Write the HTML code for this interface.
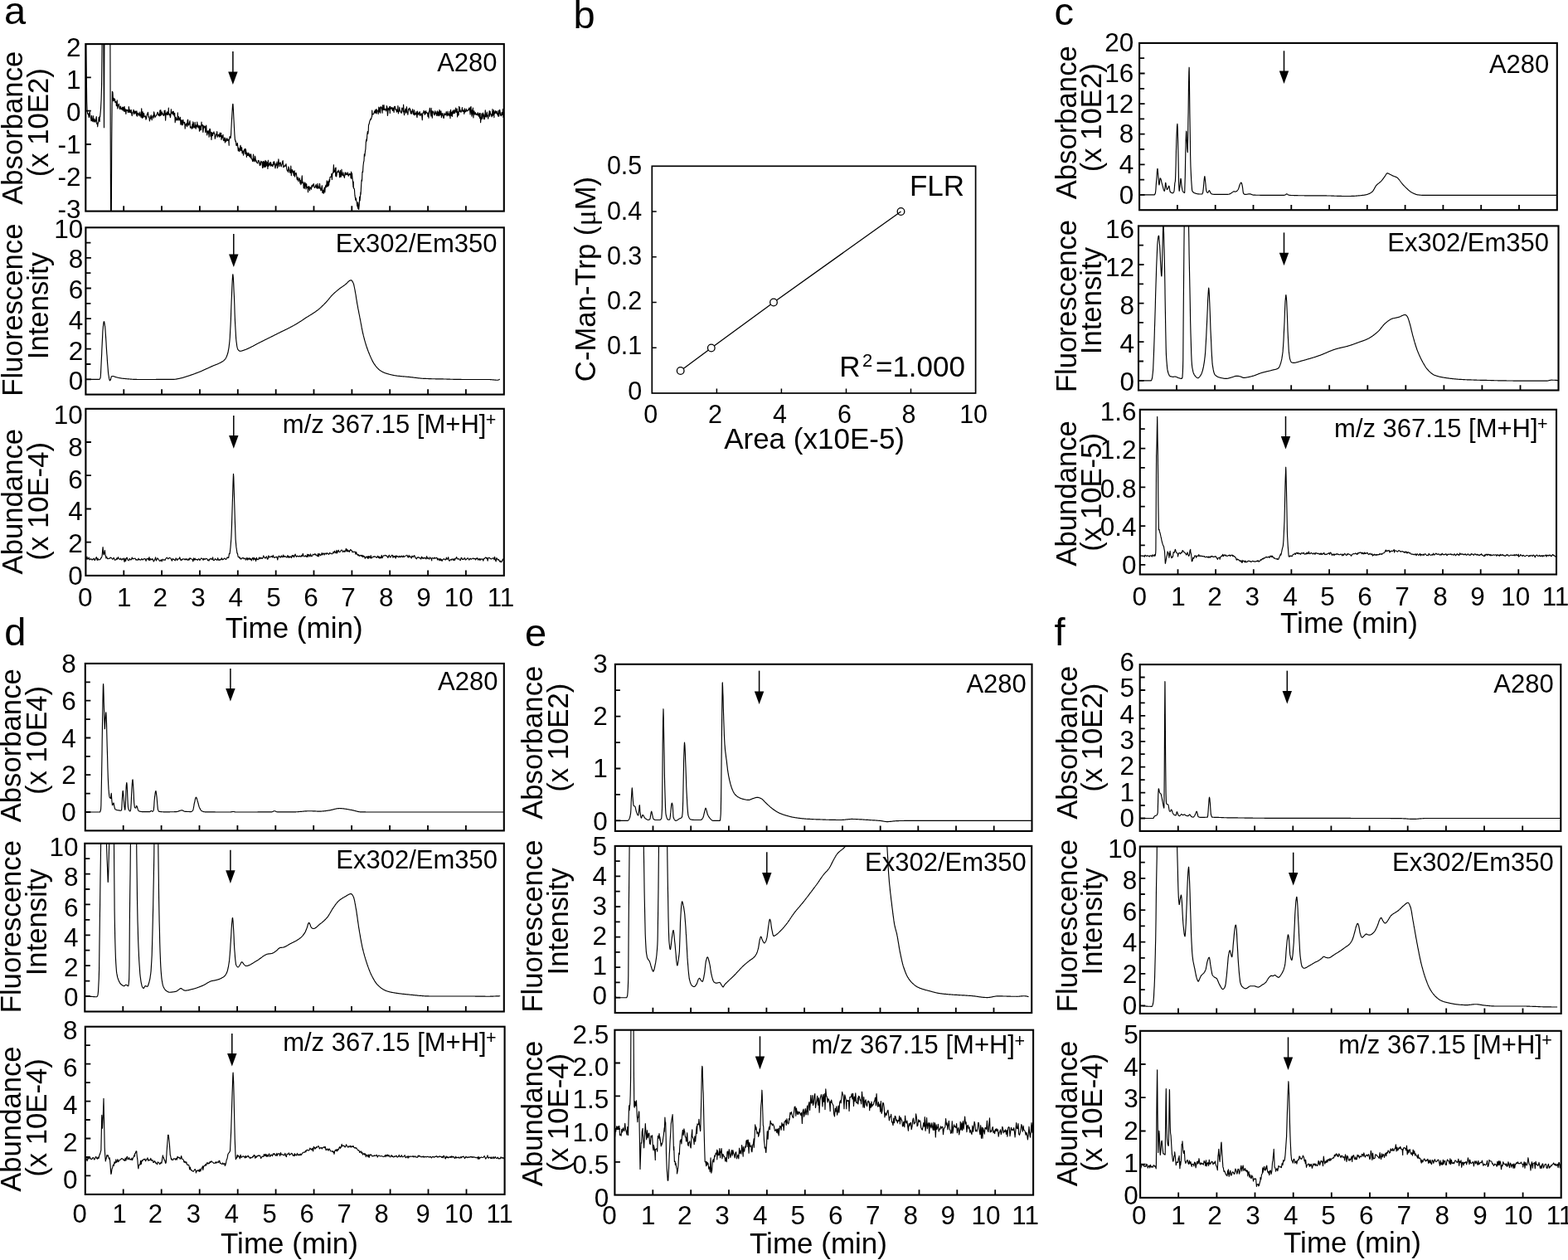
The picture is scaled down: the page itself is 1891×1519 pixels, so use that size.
<!DOCTYPE html>
<html><head><meta charset="utf-8"><title>Figure</title>
<style>html,body{margin:0;padding:0;background:#fff}svg{display:block}</style></head>
<body>
<svg width="1891" height="1519" viewBox="0 0 1891 1519" font-family='"Liberation Sans", Arial, Helvetica, sans-serif' fill="#000">
<rect width="1891" height="1519" fill="#fff"/>
<rect x="103.3" y="53.1" width="504.5" height="201.5" fill="none" stroke="#000" stroke-width="2.1"/>
<path d="M149.2 254.6v-6.3M195.0 254.6v-6.3M240.9 254.6v-6.3M286.8 254.6v-6.3M332.6 254.6v-6.3M378.5 254.6v-6.3M424.3 254.6v-6.3M470.2 254.6v-6.3M516.1 254.6v-6.3M561.9 254.6v-6.3M103.3 214.3h6.5M103.3 174.0h6.5M103.3 133.7h6.5M103.3 93.4h6.5" stroke="#000" stroke-width="1.8" fill="none"/>
<text x="97.6" y="67.8" font-size="31.5" text-anchor="end">2</text>
<text x="97.6" y="106.9" font-size="31.5" text-anchor="end">1</text>
<text x="97.6" y="146.0" font-size="31.5" text-anchor="end">0</text>
<text x="97.6" y="185.1" font-size="31.5" text-anchor="end">-1</text>
<text x="97.6" y="224.2" font-size="31.5" text-anchor="end">-2</text>
<text x="97.6" y="263.3" font-size="31.5" text-anchor="end">-3</text>
<text x="599.6" y="86.2" font-size="31" text-anchor="end">A280</text>
<path d="M280.9 62.1V92.0" stroke="#000" stroke-width="1.5" fill="none"/>
<path d="M275.2 86.4H286.6L280.9 102.0Z" fill="#000"/>
<clipPath id="c1"><rect x="103.3" y="53.1" width="504.5" height="201.5"/></clipPath>
<polyline clip-path="url(#c1)" points="103.3,12.8 103.8,57.8 104.0,73.2 104.3,92.5 104.7,122.7 105.1,133.7 105.2,134.1 105.7,137.3 106.2,136.8 106.7,138.8 107.2,141.7 107.6,136.1 108.1,136.6 108.3,134.7 108.6,139.5 109.1,141.4 109.6,142.4 110.0,145.7 110.5,139.3 111.0,145.6 111.5,146.2 112.0,144.0 112.4,139.7 112.5,143.1 112.9,146.9 113.4,146.4 113.9,143.0 114.4,145.5 114.9,147.4 115.3,146.2 115.8,143.8 116.3,140.6 116.8,149.5 117.3,147.9 117.5,148.4 117.7,152.8 118.2,148.4 118.7,148.1 119.2,141.4 119.7,143.7 120.2,146.5 120.3,140.0 120.6,141.1 121.1,136.1 121.6,130.3 121.6,129.7 122.1,120.2 122.6,101.5 122.6,101.5 123.0,61.4 123.3,32.9 123.5,-65.3 123.7,-108.1 124.0,-108.1 124.5,-108.1 124.9,45.0 125.0,75.2 125.5,153.8 125.5,153.8 125.9,45.0 125.9,16.2 126.2,-108.1 126.4,-108.1 126.9,-108.1 127.4,-108.1 127.9,-108.1 128.3,-108.1 128.8,-108.1 129.3,-108.1 129.8,-108.1 130.3,-108.1 130.7,-108.1 131.2,-108.1 131.7,-108.1 132.2,-108.1 132.7,-9.4 132.9,53.1 133.2,159.6 133.6,278.8 133.6,278.6 134.1,268.2 134.3,262.7 134.6,195.2 134.7,174.0 135.1,128.7 135.4,110.3 135.6,110.4 136.0,111.7 136.5,121.8 137.0,118.6 137.2,118.4 137.5,118.9 138.0,121.6 138.5,119.4 138.9,123.4 139.4,123.4 139.9,122.4 140.4,127.7 140.9,127.0 141.3,120.9 141.4,124.5 141.8,130.9 142.3,128.0 142.8,126.6 143.3,125.2 143.8,128.5 144.2,130.7 144.7,131.6 145.2,128.1 145.7,129.2 146.2,131.8 146.6,131.1 147.1,131.9 147.6,129.0 148.1,133.1 148.6,130.1 149.0,129.3 149.2,130.4 149.5,134.1 150.0,128.3 150.5,134.1 151.0,131.2 151.5,134.6 151.9,137.5 152.4,132.2 152.9,132.2 153.4,133.4 153.9,132.6 154.3,135.2 154.8,135.6 155.1,134.2 155.3,128.5 155.8,131.7 156.3,135.5 156.8,132.7 157.2,135.7 157.7,135.8 158.2,132.3 158.7,136.3 159.2,139.6 159.6,137.6 160.1,135.0 160.6,135.1 161.1,132.2 161.6,137.7 162.1,133.9 162.5,134.8 163.0,136.6 163.5,134.0 164.0,135.1 164.5,138.9 164.9,133.8 165.4,140.2 165.9,136.8 166.4,137.1 166.9,136.1 167.3,139.3 167.8,137.6 168.3,138.0 168.8,135.0 168.9,139.9 169.3,137.6 169.8,138.7 170.2,141.6 170.7,130.9 171.2,138.5 171.7,142.5 172.2,134.7 172.6,141.7 173.1,137.8 173.6,136.6 174.1,140.9 174.6,140.4 175.1,140.9 175.5,139.9 176.0,144.1 176.5,143.1 177.0,140.2 177.5,137.1 177.9,138.3 178.4,135.4 178.9,138.3 179.4,141.7 179.9,140.7 180.4,146.0 180.8,143.1 181.3,143.3 181.8,139.8 182.3,138.8 182.6,142.1 182.8,142.2 183.2,144.8 183.7,140.9 184.2,139.8 184.7,139.2 185.2,142.4 185.6,134.8 186.1,136.8 186.6,140.2 187.1,141.3 187.6,140.6 188.1,139.2 188.5,139.5 189.0,138.0 189.5,137.0 190.0,135.3 190.5,135.7 190.9,139.0 191.4,137.5 191.9,139.5 192.4,139.9 192.9,133.0 193.4,139.3 193.8,132.5 194.3,138.9 194.8,137.1 195.3,134.8 195.8,137.7 196.2,136.7 196.4,138.4 196.7,139.0 197.2,138.2 197.7,139.5 198.2,133.3 198.7,138.2 199.1,133.0 199.6,145.1 200.1,137.7 200.6,136.2 201.1,138.5 201.5,134.7 202.0,136.0 202.5,138.5 203.0,136.5 203.3,130.0 203.5,137.0 203.9,136.9 204.4,139.0 204.9,137.6 205.4,141.6 205.9,138.8 206.4,131.7 206.8,135.7 207.3,137.1 207.8,136.1 208.3,134.3 208.8,138.1 209.2,134.3 209.7,137.4 210.2,140.2 210.7,136.3 211.2,147.8 211.7,143.2 212.1,141.2 212.6,144.8 213.1,143.0 213.6,144.7 214.1,145.0 214.3,135.9 214.5,141.8 215.0,144.0 215.5,140.6 216.0,145.2 216.5,142.6 217.0,144.4 217.4,141.4 217.9,150.1 218.4,144.6 218.9,146.8 219.4,150.7 219.8,145.0 220.3,150.7 220.8,144.3 221.3,147.6 221.8,147.5 222.2,149.4 222.7,147.4 223.2,155.2 223.7,150.0 223.9,151.9 224.2,149.5 224.7,150.5 225.1,148.7 225.6,152.8 226.1,145.5 226.6,144.2 227.1,151.2 227.5,150.7 228.0,149.9 228.5,147.3 229.0,145.6 229.5,154.1 230.0,152.5 230.4,153.8 230.9,153.9 231.4,155.4 231.9,149.9 232.4,154.1 232.8,146.9 233.3,148.5 233.8,153.9 234.3,153.9 234.8,152.8 235.2,147.3 235.7,153.5 236.2,155.4 236.7,151.4 237.2,150.3 237.7,153.2 237.7,147.0 238.1,150.8 238.6,150.3 239.1,154.0 239.6,151.8 240.1,152.2 240.5,158.1 241.0,151.2 241.5,157.0 242.0,152.3 242.5,156.4 243.0,147.0 243.4,151.8 243.9,150.5 244.4,150.5 244.6,156.7 244.9,159.4 245.4,154.3 245.8,151.3 246.3,153.9 246.8,152.4 247.3,152.4 247.8,159.6 248.3,155.2 248.7,151.1 249.2,158.5 249.7,162.9 250.2,158.4 250.7,159.5 251.1,157.4 251.4,161.1 251.6,158.5 252.1,165.1 252.6,156.9 253.1,155.2 253.5,156.2 254.0,164.1 254.5,159.3 255.0,168.5 255.5,159.8 256.0,160.9 256.4,163.7 256.9,160.2 257.4,160.9 257.9,158.9 258.4,161.3 258.8,161.1 259.3,167.3 259.8,165.3 260.3,163.6 260.8,161.6 261.3,162.6 261.7,158.6 262.2,165.3 262.7,163.7 263.2,162.5 263.7,164.0 264.1,162.2 264.6,165.3 265.1,160.0 265.2,164.8 265.6,161.0 266.1,164.4 266.6,160.4 267.0,168.5 267.5,163.5 268.0,166.3 268.5,164.8 269.0,162.4 269.4,169.0 269.9,169.7 270.4,169.1 270.9,165.8 271.4,171.9 271.8,166.7 272.3,170.7 272.8,170.4 273.3,168.5 273.8,166.6 274.3,169.4 274.7,169.2 275.2,168.0 275.7,168.7 276.2,175.3 276.2,169.1 276.7,167.6 277.1,164.6 277.6,165.6 278.0,166.2 278.1,166.5 278.6,161.8 279.1,151.8 279.4,145.2 279.6,142.6 280.0,135.3 280.5,127.3 280.8,125.4 281.0,125.5 281.5,134.1 282.0,144.6 282.2,148.4 282.4,152.8 282.9,162.1 283.4,168.4 283.8,169.1 283.9,170.3 284.4,170.0 284.9,175.1 284.9,173.0 285.3,175.6 285.8,175.1 286.3,172.4 286.8,176.4 287.3,182.0 287.7,178.1 288.2,179.9 288.7,182.6 289.2,181.1 289.7,176.7 290.1,175.2 290.6,181.6 291.1,177.9 291.6,177.9 292.1,184.7 292.6,182.0 292.7,182.2 293.0,181.9 293.5,187.1 294.0,184.1 294.5,180.6 295.0,180.5 295.4,179.3 295.9,185.6 296.4,179.9 296.9,183.6 297.4,189.5 297.9,184.1 298.3,187.5 298.8,185.4 299.3,187.5 299.8,184.2 300.3,187.2 300.7,189.0 301.2,185.9 301.7,188.1 302.2,190.3 302.7,185.9 303.2,190.9 303.6,191.8 304.1,191.8 304.6,194.7 305.1,192.4 305.6,186.1 306.0,194.0 306.5,191.7 306.5,194.8 307.0,193.7 307.5,188.2 308.0,190.2 308.4,194.6 308.9,193.2 309.4,195.8 309.9,196.0 310.4,196.6 310.9,196.9 311.3,193.8 311.8,193.4 312.3,194.0 312.8,196.1 313.3,199.6 313.7,196.3 314.2,198.9 314.7,194.2 315.2,195.3 315.7,195.0 316.2,198.2 316.6,202.4 317.1,195.0 317.6,194.4 318.1,202.0 318.6,197.6 319.0,194.8 319.5,201.1 320.0,193.3 320.2,199.1 320.5,201.1 321.0,194.4 321.5,197.4 321.9,200.0 322.4,195.7 322.9,203.5 323.4,193.2 323.9,200.3 324.3,197.3 324.8,199.2 325.3,196.9 325.8,195.6 326.3,200.3 326.7,195.8 327.2,198.8 327.7,199.8 328.2,198.5 328.7,200.7 329.2,200.1 329.6,195.3 330.1,198.3 330.6,194.7 331.1,196.6 331.6,200.6 332.0,203.0 332.5,199.7 333.0,197.1 333.5,197.8 334.0,200.1 334.0,195.0 334.5,202.6 334.9,201.3 335.4,197.5 335.9,191.9 336.4,196.8 336.9,200.8 337.3,196.5 337.8,196.4 338.3,195.8 338.8,199.7 339.3,200.9 339.7,198.5 340.2,197.9 340.7,194.8 341.2,193.7 341.7,201.6 342.2,201.2 342.6,200.2 343.1,200.9 343.6,199.1 344.1,199.4 344.6,200.2 345.0,197.5 345.5,201.9 346.0,204.6 346.5,206.2 347.0,205.0 347.5,205.3 347.8,207.8 347.9,200.9 348.4,202.5 348.9,204.5 349.4,206.2 349.9,208.5 350.3,207.1 350.8,200.0 351.3,211.6 351.8,205.7 352.3,204.5 352.8,206.7 353.2,208.5 353.7,206.1 354.2,211.8 354.7,207.8 355.2,205.9 355.5,213.1 355.6,212.6 356.1,210.5 356.6,208.8 357.1,208.4 357.6,210.8 358.0,215.1 358.5,217.0 359.0,213.9 359.5,214.1 360.0,218.8 360.5,216.3 360.9,216.2 361.4,214.8 361.9,221.0 362.4,217.3 362.9,222.6 363.3,221.1 363.8,220.6 363.8,216.2 364.3,211.8 364.8,220.6 365.3,220.5 365.8,219.6 366.2,226.6 366.7,221.3 367.2,227.3 367.7,219.9 368.2,220.9 368.6,223.9 369.1,227.9 369.6,221.5 370.1,225.7 370.6,226.3 371.1,225.3 371.5,231.7 372.0,226.0 372.5,224.5 372.5,226.3 373.0,226.8 373.5,229.8 373.9,225.3 374.4,226.4 374.9,226.9 375.4,228.3 375.9,224.3 376.3,223.1 376.8,225.3 377.3,223.7 377.8,222.4 378.3,221.5 378.8,225.0 379.2,226.1 379.7,226.5 380.2,225.2 380.7,223.6 381.2,222.4 381.6,226.1 382.1,224.4 382.6,227.5 383.1,221.3 383.1,225.9 383.6,223.9 384.1,227.0 384.5,226.1 385.0,227.4 385.5,221.3 386.0,225.3 386.5,227.2 386.9,229.8 387.4,229.3 387.9,226.4 388.4,223.7 388.9,232.5 389.4,231.2 389.8,229.3 389.9,230.5 390.3,233.3 390.8,228.5 391.3,226.1 391.8,232.0 392.2,226.5 392.7,223.8 393.2,223.0 393.7,226.0 394.2,217.8 394.6,221.7 395.1,224.7 395.5,219.3 395.6,224.8 396.1,218.4 396.6,223.3 397.1,216.7 397.5,219.3 398.0,213.5 398.5,213.4 399.0,213.1 399.5,213.1 399.9,209.3 400.4,216.4 400.9,209.5 401.0,209.5 401.4,208.6 401.9,207.2 402.4,198.7 402.8,207.9 403.3,205.5 403.8,206.8 404.3,202.6 404.8,212.2 405.1,202.0 405.2,208.5 405.7,212.9 406.2,209.7 406.7,207.3 407.2,206.5 407.7,207.3 408.1,205.1 408.6,207.6 409.1,207.9 409.6,213.8 410.1,206.7 410.5,205.5 410.6,209.4 411.0,213.5 411.5,212.3 412.0,204.2 412.5,210.7 412.9,211.1 413.4,211.7 413.9,207.8 414.4,211.5 414.9,212.5 415.4,214.4 415.8,210.7 416.3,207.8 416.8,211.0 417.3,208.3 417.5,210.2 417.8,210.3 418.2,210.2 418.7,210.6 419.2,207.9 419.7,209.3 420.2,212.3 420.7,210.3 421.1,210.9 421.6,209.3 422.1,210.2 422.6,209.5 423.1,214.7 423.4,209.6 423.5,207.1 424.0,215.2 424.5,208.9 425.0,214.8 425.5,218.8 426.0,225.7 426.2,219.0 426.4,225.9 426.9,227.5 427.4,227.7 427.9,235.2 428.4,238.1 428.8,241.2 428.9,238.8 429.3,238.8 429.8,241.9 430.3,244.3 430.8,248.5 431.2,248.5 431.7,251.3 431.7,243.9 432.2,248.1 432.7,252.4 433.2,247.5 433.7,237.2 434.1,242.0 434.6,236.0 434.9,231.7 435.1,234.3 435.6,223.9 436.1,216.9 436.5,218.1 437.0,207.2 437.5,207.6 437.6,206.6 438.0,200.0 438.5,195.7 439.0,193.8 439.4,185.8 439.9,188.2 440.4,182.8 440.9,179.7 441.3,171.5 441.4,171.1 441.8,168.0 442.3,169.9 442.8,162.6 443.3,158.6 443.8,161.3 444.3,156.6 444.5,151.3 444.7,150.2 445.2,149.4 445.7,146.6 446.2,145.3 446.7,144.1 447.1,143.2 447.6,143.9 448.1,141.1 448.6,140.6 448.7,133.0 449.1,138.0 449.5,138.0 450.0,138.0 450.5,137.1 451.0,137.0 451.5,134.3 452.0,135.4 452.4,132.7 452.9,136.4 453.4,133.2 453.9,131.5 454.2,136.9 454.4,133.1 454.8,132.6 455.3,133.9 455.8,134.1 456.3,137.5 456.8,129.0 457.3,134.5 457.7,135.1 458.2,129.7 458.7,136.3 459.2,128.5 459.7,129.9 460.1,129.3 460.6,131.3 461.0,134.2 461.1,136.1 461.6,126.9 462.1,132.2 462.5,132.3 463.0,126.6 463.5,132.7 464.0,131.6 464.5,131.6 465.0,131.4 465.4,133.9 465.9,132.6 466.4,127.6 466.9,129.1 467.4,139.4 467.8,136.6 468.3,130.4 468.8,131.7 469.3,132.4 469.8,128.6 470.3,136.4 470.7,128.3 471.2,131.3 471.7,130.2 472.2,131.0 472.7,129.5 473.1,132.5 473.6,133.4 474.1,129.8 474.6,131.6 475.1,135.5 475.6,128.4 476.0,128.9 476.5,128.3 477.0,132.1 477.5,131.4 478.0,133.4 478.4,135.1 478.9,132.3 478.9,132.0 479.4,134.3 479.9,127.6 480.4,137.0 480.8,134.9 481.3,134.5 481.8,129.2 482.3,133.5 482.8,133.7 483.3,135.3 483.7,135.0 484.2,136.5 484.7,130.1 485.2,131.3 485.7,130.3 486.1,134.8 486.6,126.2 487.1,135.8 487.6,138.8 488.1,134.0 488.6,132.9 489.0,131.2 489.5,136.1 490.0,131.8 490.5,128.7 491.0,135.8 491.4,135.6 491.9,138.3 492.4,133.0 492.7,131.4 492.9,131.6 493.4,131.5 493.9,130.1 494.3,133.7 494.8,131.6 495.3,137.0 495.8,136.8 496.3,134.1 496.7,137.2 497.2,133.7 497.7,131.7 498.2,134.6 498.7,137.9 499.1,138.2 499.6,132.7 500.1,138.8 500.6,136.6 501.1,137.8 501.6,137.2 502.0,134.5 502.5,139.2 503.0,141.7 503.5,134.1 504.0,137.6 504.4,136.3 504.9,138.4 505.4,136.3 505.9,135.1 506.4,134.8 506.4,139.3 506.9,139.5 507.3,137.4 507.8,137.9 508.3,136.8 508.8,140.3 509.3,144.6 509.7,136.9 510.2,135.9 510.7,136.1 511.2,133.2 511.7,135.3 512.2,138.5 512.6,134.6 513.1,137.4 513.6,133.6 514.1,136.2 514.6,135.5 515.0,136.0 515.5,136.3 516.0,140.4 516.5,136.1 517.0,142.3 517.4,134.6 517.9,133.2 518.4,130.2 518.9,134.8 519.4,137.7 519.9,140.1 520.2,130.4 520.3,139.6 520.8,133.3 521.3,142.1 521.8,136.0 522.3,134.0 522.7,135.1 523.2,136.2 523.7,138.4 524.2,138.8 524.7,133.7 525.2,135.4 525.6,137.1 526.1,136.3 526.6,139.5 527.1,134.3 527.6,133.8 528.0,139.6 528.5,137.3 529.0,134.8 529.5,139.6 530.0,132.4 530.5,133.9 530.9,139.0 531.4,135.6 531.9,133.8 532.4,141.8 532.9,136.8 533.3,138.9 533.8,139.1 534.0,136.6 534.3,139.8 534.8,142.3 535.3,142.4 535.7,138.5 536.2,136.6 536.7,138.4 537.2,138.6 537.7,138.2 538.2,134.5 538.6,136.4 539.1,139.8 539.6,138.4 540.1,134.2 540.6,139.0 541.0,138.3 541.5,137.1 542.0,139.8 542.5,134.3 543.0,142.6 543.5,132.4 543.9,137.4 544.4,139.5 544.9,135.1 545.4,140.4 545.9,134.1 546.3,133.3 546.8,136.8 547.3,136.2 547.8,132.3 548.3,136.6 548.8,134.6 549.2,133.6 549.7,130.1 550.2,135.6 550.7,134.1 551.2,131.0 551.6,141.0 552.1,134.6 552.6,139.1 553.1,138.8 553.6,128.4 554.0,133.1 554.5,129.6 554.6,134.4 555.0,132.2 555.5,134.9 556.0,135.2 556.5,133.9 556.9,133.4 557.4,129.5 557.9,134.3 558.4,132.7 558.9,134.5 559.3,133.4 559.8,137.4 560.3,130.9 560.8,135.3 561.3,133.8 561.8,134.5 562.2,131.3 562.7,132.6 563.2,134.0 563.7,133.6 564.2,133.2 564.6,132.1 565.1,132.8 565.6,130.7 566.1,129.9 566.6,132.6 567.1,138.0 567.5,129.6 568.0,128.6 568.4,135.5 568.5,135.7 569.0,140.2 569.5,132.6 569.9,137.6 570.4,130.0 570.9,141.9 571.4,135.1 571.9,133.7 572.3,136.9 572.8,138.2 573.3,135.6 573.8,138.0 574.3,137.7 574.8,137.1 575.2,138.8 575.7,138.2 576.2,135.7 576.7,139.1 577.2,137.9 577.6,140.6 578.1,136.3 578.6,142.5 579.1,136.5 579.6,147.6 580.1,142.0 580.5,143.9 581.0,136.9 581.5,139.0 582.0,143.3 582.1,141.3 582.5,136.1 582.9,139.9 583.4,138.1 583.9,143.7 584.4,143.6 584.9,137.8 585.3,132.9 585.8,140.6 586.3,137.3 586.8,141.3 587.3,135.1 587.8,139.6 588.2,139.3 588.7,143.1 589.2,138.9 589.7,137.0 590.2,133.5 590.6,140.3 591.1,134.2 591.6,137.7 592.1,137.3 592.6,139.0 593.1,140.9 593.5,139.5 594.0,131.6 594.5,139.2 595.0,137.1 595.5,132.8 595.9,141.6 595.9,134.6 596.4,137.3 596.9,135.4 597.4,133.6 597.9,136.4 598.4,136.6 598.8,134.1 599.3,134.4 599.8,138.2 600.3,136.9 600.8,140.2 601.2,133.1 601.7,140.1 602.2,136.4 602.7,132.3 603.2,135.1 603.6,138.2 604.1,139.6 604.6,139.6 605.1,135.5 605.6,137.3 606.1,138.5 606.5,131.6 607.0,141.3 607.5,140.6 607.8,140.5 608.0,138.9" fill="none" stroke="#000" stroke-width="1.15" stroke-linejoin="round"/>
<rect x="103.4" y="274.3" width="504.4" height="201.3" fill="none" stroke="#000" stroke-width="2.1"/>
<path d="M149.3 475.6v-6.3M195.1 475.6v-6.3M241.0 475.6v-6.3M286.8 475.6v-6.3M332.7 475.6v-6.3M378.5 475.6v-6.3M424.4 475.6v-6.3M470.2 475.6v-6.3M516.1 475.6v-6.3M561.9 475.6v-6.3M103.4 457.3h6.5M103.4 420.7h6.5M103.4 384.1h6.5M103.4 347.5h6.5M103.4 310.9h6.5M103.4 439.0h6M103.4 402.4h6M103.4 365.8h6M103.4 329.2h6M103.4 292.6h6" stroke="#000" stroke-width="1.8" fill="none"/>
<text x="100.2" y="286.7" font-size="31.5" text-anchor="end">10</text>
<text x="100.2" y="323.4" font-size="31.5" text-anchor="end">8</text>
<text x="100.2" y="360.1" font-size="31.5" text-anchor="end">6</text>
<text x="100.2" y="396.8" font-size="31.5" text-anchor="end">4</text>
<text x="100.2" y="433.6" font-size="31.5" text-anchor="end">2</text>
<text x="100.2" y="470.3" font-size="31.5" text-anchor="end">0</text>
<text x="599.5" y="303.7" font-size="31" text-anchor="end">Ex302/Em350</text>
<path d="M281.8 282.1V312.0" stroke="#000" stroke-width="1.5" fill="none"/>
<path d="M276.1 306.4H287.5L281.8 322.0Z" fill="#000"/>
<clipPath id="c2"><rect x="103.4" y="274.3" width="504.4" height="201.3"/></clipPath>
<polyline clip-path="url(#c2)" points="103.4,457.3 103.8,457.3 104.1,457.3 104.5,457.3 104.9,457.3 105.2,457.3 105.6,457.3 106.0,457.3 106.3,457.3 106.7,457.3 107.1,457.3 107.4,457.3 107.8,457.3 108.2,457.3 108.5,457.3 108.9,457.3 109.3,457.3 109.6,457.3 110.0,457.3 110.4,457.3 110.7,457.3 111.1,457.3 111.5,457.3 111.8,457.3 112.2,457.3 112.6,457.3 112.9,457.3 113.3,457.3 113.7,457.3 114.0,457.3 114.4,457.3 114.8,457.3 115.1,457.3 115.5,457.3 115.9,457.3 116.2,457.3 116.6,457.3 117.0,457.3 117.3,457.3 117.7,457.3 118.1,457.3 118.4,457.3 118.8,457.3 119.2,457.3 119.5,457.3 119.9,457.3 120.3,457.1 120.6,456.5 121.0,455.6 121.1,455.5 121.4,452.8 121.7,446.5 122.1,438.3 122.5,429.9 122.7,426.2 122.8,422.5 123.2,414.4 123.6,406.3 123.9,399.3 124.3,395.1 124.3,394.6 124.7,391.3 125.0,388.6 125.4,387.6 125.8,388.4 126.1,390.4 126.5,392.9 126.6,393.2 126.9,396.1 127.2,400.8 127.6,406.4 128.0,412.5 128.3,418.6 128.7,424.3 128.8,426.2 129.1,429.3 129.4,434.6 129.8,439.9 130.2,444.7 130.5,448.8 130.9,451.8 131.3,454.1 131.6,456.2 132.0,457.8 132.4,458.7 132.5,458.8 132.7,458.7 133.1,458.2 133.4,457.7 133.5,457.6 133.8,455.9 134.2,454.3 134.4,454.0 134.6,453.9 134.9,453.7 135.3,453.5 135.7,453.5 136.0,453.5 136.0,453.5 136.4,453.5 136.8,453.6 137.1,453.7 137.5,453.8 137.9,453.9 138.2,454.1 138.6,454.2 139.0,454.4 139.3,454.5 139.7,454.6 140.1,454.7 140.5,454.8 140.8,454.9 141.2,455.0 141.6,455.1 141.9,455.2 142.3,455.2 142.7,455.3 143.0,455.4 143.4,455.5 143.8,455.6 144.1,455.6 144.5,455.7 144.9,455.8 145.2,455.8 145.6,455.9 146.0,456.0 146.3,456.0 146.7,456.1 147.1,456.1 147.4,456.2 147.8,456.2 147.9,456.2 148.2,456.2 148.5,456.3 148.9,456.3 149.3,456.3 149.6,456.4 150.0,456.4 150.4,456.5 150.7,456.5 151.1,456.5 151.5,456.6 151.8,456.6 152.2,456.6 152.6,456.7 152.9,456.7 153.3,456.7 153.7,456.8 154.0,456.8 154.4,456.8 154.8,456.9 155.1,456.9 155.5,456.9 155.9,457.0 156.2,457.0 156.6,457.0 157.0,457.0 157.3,457.1 157.7,457.1 158.1,457.1 158.4,457.1 158.8,457.2 159.2,457.2 159.5,457.2 159.9,457.2 160.3,457.3 160.6,457.3 161.0,457.3 161.4,457.3 161.7,457.3 162.1,457.4 162.5,457.4 162.8,457.4 163.2,457.4 163.6,457.4 163.9,457.4 164.3,457.4 164.7,457.4 165.0,457.5 165.4,457.5 165.8,457.5 166.1,457.5 166.5,457.5 166.9,457.5 167.2,457.5 167.6,457.5 167.6,457.5 168.0,457.5 168.3,457.5 168.7,457.5 169.1,457.5 169.4,457.5 169.8,457.5 170.2,457.5 170.5,457.5 170.9,457.5 171.3,457.5 171.6,457.5 172.0,457.5 172.4,457.5 172.7,457.5 173.1,457.5 173.5,457.5 173.8,457.5 174.2,457.5 174.6,457.5 174.9,457.5 175.3,457.5 175.7,457.5 176.0,457.5 176.4,457.5 176.8,457.5 177.1,457.5 177.5,457.5 177.9,457.5 178.2,457.5 178.6,457.5 179.0,457.5 179.3,457.5 179.7,457.5 180.1,457.5 180.4,457.5 180.8,457.5 181.2,457.5 181.5,457.5 181.9,457.5 182.3,457.5 182.6,457.5 183.0,457.5 183.4,457.5 183.7,457.5 184.1,457.5 184.5,457.5 184.8,457.5 185.2,457.5 185.6,457.5 185.9,457.5 186.3,457.5 186.7,457.5 187.0,457.5 187.4,457.5 187.8,457.5 188.1,457.5 188.5,457.4 188.9,457.4 189.2,457.4 189.6,457.4 190.0,457.4 190.3,457.4 190.7,457.4 191.1,457.4 191.4,457.4 191.8,457.4 192.2,457.4 192.5,457.4 192.9,457.4 193.3,457.4 193.6,457.4 194.0,457.4 194.4,457.4 194.7,457.4 195.1,457.4 195.5,457.4 195.8,457.4 196.2,457.4 196.6,457.4 196.9,457.4 197.3,457.4 197.7,457.4 198.0,457.4 198.4,457.4 198.8,457.4 199.1,457.4 199.5,457.4 199.9,457.4 200.2,457.4 200.6,457.4 201.0,457.4 201.3,457.4 201.7,457.4 202.1,457.4 202.4,457.4 202.8,457.4 203.2,457.4 203.5,457.4 203.9,457.4 204.3,457.4 204.6,457.4 205.0,457.3 205.4,457.3 205.7,457.3 206.1,457.3 206.5,457.3 206.8,457.3 207.2,457.3 207.6,457.3 207.9,457.3 208.3,457.3 208.7,457.3 209.0,457.3 209.4,457.3 209.8,457.3 210.1,457.3 210.5,457.3 210.9,457.2 211.2,457.2 211.6,457.2 212.0,457.1 212.4,457.1 212.7,457.0 213.1,456.9 213.5,456.9 213.8,456.8 214.2,456.7 214.6,456.6 214.9,456.6 215.3,456.5 215.7,456.4 216.0,456.3 216.4,456.3 216.7,456.2 216.8,456.2 217.1,456.1 217.5,456.0 217.9,455.9 218.2,455.9 218.6,455.8 219.0,455.7 219.3,455.6 219.7,455.5 220.1,455.4 220.4,455.3 220.8,455.2 221.2,455.1 221.5,455.0 221.9,454.8 222.3,454.7 222.6,454.6 223.0,454.5 223.4,454.4 223.7,454.3 224.1,454.2 224.5,454.0 224.8,453.9 225.2,453.8 225.6,453.7 225.9,453.6 226.3,453.5 226.7,453.3 227.0,453.2 227.4,453.1 227.8,453.0 228.1,452.9 228.5,452.7 228.9,452.6 229.2,452.5 229.6,452.4 230.0,452.3 230.3,452.1 230.7,452.0 231.1,451.9 231.4,451.7 231.8,451.6 232.2,451.5 232.5,451.4 232.9,451.2 233.3,451.1 233.6,451.0 234.0,450.8 234.4,450.7 234.7,450.6 235.1,450.4 235.5,450.3 235.8,450.1 236.2,450.0 236.6,449.9 236.9,449.7 237.3,449.6 237.7,449.4 238.0,449.3 238.4,449.2 238.8,449.0 239.1,448.9 239.5,448.7 239.9,448.6 240.2,448.4 240.6,448.3 241.0,448.2 241.3,448.0 241.4,448.0 241.7,447.9 242.1,447.7 242.4,447.6 242.8,447.4 243.2,447.2 243.5,447.1 243.9,446.9 244.3,446.8 244.6,446.6 245.0,446.4 245.4,446.3 245.7,446.1 246.1,445.9 246.5,445.8 246.8,445.6 247.2,445.4 247.6,445.3 247.9,445.1 248.3,444.9 248.7,444.8 249.0,444.6 249.4,444.4 249.8,444.2 250.1,444.1 250.5,443.9 250.9,443.7 251.2,443.6 251.6,443.4 252.0,443.2 252.3,443.0 252.7,442.9 253.1,442.7 253.4,442.5 253.8,442.4 254.2,442.2 254.5,442.0 254.9,441.9 255.2,441.7 255.3,441.7 255.6,441.5 256.0,441.4 256.4,441.2 256.7,441.1 257.1,440.9 257.5,440.8 257.8,440.6 258.2,440.5 258.6,440.3 258.9,440.2 259.3,440.1 259.7,439.9 260.0,439.8 260.4,439.6 260.8,439.5 261.1,439.3 261.5,439.2 261.9,439.1 262.2,438.9 262.6,438.7 263.0,438.6 263.3,438.4 263.7,438.3 264.1,438.1 264.4,437.9 264.8,437.8 265.2,437.6 265.5,437.4 265.9,437.2 266.3,437.0 266.6,436.8 267.0,436.6 267.4,436.4 267.6,436.3 267.7,436.1 268.1,435.9 268.5,435.7 268.8,435.4 269.2,435.2 269.6,434.9 269.9,434.6 270.3,434.3 270.7,433.9 271.0,433.5 271.4,433.1 271.7,432.8 271.8,432.7 272.1,432.1 272.5,431.5 272.9,430.8 273.2,430.0 273.6,429.1 274.0,428.1 274.3,427.0 274.4,426.7 274.7,425.8 275.1,424.3 275.4,422.4 275.8,420.3 276.2,417.8 276.5,415.0 276.7,413.4 276.9,411.5 277.3,406.5 277.6,400.3 278.0,393.2 278.1,391.4 278.4,385.0 278.7,374.7 279.1,364.0 279.5,354.8 279.8,346.4 280.2,338.2 280.6,332.2 280.9,330.7 280.9,330.8 281.3,334.4 281.7,341.1 282.0,349.1 282.2,353.0 282.4,357.1 282.8,367.2 283.1,378.1 283.5,387.6 283.6,389.6 283.9,395.0 284.3,401.8 284.6,407.5 285.0,411.6 285.4,414.4 285.7,416.9 286.1,418.9 286.5,420.4 286.8,421.2 287.2,421.7 287.6,422.1 287.9,422.5 288.3,422.8 288.7,423.0 289.0,423.2 289.4,423.3 289.6,423.3 289.8,423.3 290.1,423.2 290.5,423.2 290.9,423.1 291.2,423.1 291.6,423.0 292.0,422.9 292.3,422.8 292.7,422.6 293.1,422.5 293.4,422.4 293.8,422.2 294.2,422.1 294.5,422.0 294.9,421.9 295.1,421.8 295.3,421.7 295.6,421.6 296.0,421.5 296.4,421.3 296.7,421.2 297.1,421.1 297.5,420.9 297.8,420.8 298.2,420.6 298.6,420.5 298.9,420.3 299.3,420.1 299.7,420.0 300.0,419.8 300.4,419.6 300.8,419.4 301.1,419.3 301.5,419.1 301.9,418.9 302.2,418.7 302.6,418.5 303.0,418.3 303.3,418.1 303.7,417.9 304.1,417.8 304.4,417.6 304.8,417.4 305.2,417.2 305.5,417.0 305.9,416.8 306.3,416.6 306.6,416.4 307.0,416.2 307.4,416.0 307.7,415.8 308.1,415.6 308.5,415.4 308.8,415.2 309.2,415.0 309.6,414.8 309.9,414.6 310.3,414.4 310.7,414.2 311.0,414.0 311.4,413.8 311.8,413.6 312.1,413.4 312.5,413.2 312.9,413.1 313.0,413.0 313.2,412.9 313.6,412.7 314.0,412.5 314.3,412.3 314.7,412.2 315.1,412.0 315.4,411.8 315.8,411.6 316.2,411.4 316.5,411.2 316.9,411.1 317.3,410.9 317.6,410.7 318.0,410.5 318.4,410.3 318.7,410.2 319.1,410.0 319.5,409.8 319.8,409.6 320.2,409.4 320.6,409.3 320.9,409.1 321.3,408.9 321.7,408.7 322.0,408.5 322.4,408.3 322.8,408.2 323.1,408.0 323.5,407.8 323.9,407.6 324.2,407.4 324.6,407.3 325.0,407.1 325.3,406.9 325.7,406.7 326.1,406.5 326.4,406.3 326.8,406.2 327.2,406.0 327.5,405.8 327.9,405.6 328.3,405.4 328.6,405.2 329.0,405.1 329.4,404.9 329.7,404.7 330.1,404.5 330.5,404.3 330.8,404.1 331.2,404.0 331.6,403.8 331.9,403.6 332.3,403.4 332.7,403.2 333.0,403.0 333.4,402.9 333.6,402.8 333.8,402.7 334.1,402.5 334.5,402.3 334.9,402.1 335.2,401.9 335.6,401.8 336.0,401.6 336.3,401.4 336.7,401.2 337.1,401.0 337.4,400.9 337.8,400.7 338.2,400.5 338.5,400.3 338.9,400.1 339.3,400.0 339.6,399.8 340.0,399.6 340.4,399.4 340.7,399.3 341.1,399.1 341.5,398.9 341.8,398.7 342.2,398.5 342.6,398.4 342.9,398.2 343.3,398.0 343.7,397.8 344.0,397.6 344.4,397.5 344.8,397.3 345.1,397.1 345.5,396.9 345.9,396.7 346.2,396.6 346.6,396.4 347.0,396.2 347.3,396.0 347.7,395.8 348.1,395.6 348.4,395.4 348.8,395.3 349.2,395.1 349.5,394.9 349.9,394.7 350.3,394.5 350.6,394.3 351.0,394.1 351.4,393.9 351.7,393.7 352.1,393.5 352.5,393.3 352.8,393.1 353.2,392.9 353.6,392.7 353.9,392.5 354.3,392.3 354.7,392.1 355.0,391.9 355.4,391.7 355.6,391.6 355.8,391.5 356.2,391.3 356.5,391.1 356.9,390.9 357.3,390.6 357.6,390.4 358.0,390.2 358.4,390.0 358.7,389.7 359.1,389.5 359.5,389.3 359.8,389.1 360.2,388.8 360.6,388.6 360.9,388.4 361.3,388.1 361.7,387.9 362.0,387.6 362.4,387.4 362.8,387.2 363.1,386.9 363.5,386.7 363.9,386.4 364.2,386.2 364.6,386.0 365.0,385.7 365.3,385.5 365.7,385.2 366.1,385.0 366.4,384.7 366.8,384.5 367.2,384.3 367.5,384.0 367.9,383.8 368.3,383.5 368.6,383.3 369.0,383.1 369.4,382.8 369.7,382.6 370.1,382.3 370.5,382.1 370.8,381.9 371.2,381.7 371.6,381.4 371.9,381.2 372.3,381.0 372.7,380.8 373.0,380.5 373.4,380.3 373.8,380.1 374.1,379.9 374.5,379.6 374.9,379.4 375.2,379.2 375.6,379.0 376.0,378.7 376.3,378.5 376.7,378.3 377.1,378.0 377.4,377.8 377.8,377.6 378.2,377.3 378.5,377.1 378.9,376.9 379.3,376.6 379.6,376.4 380.0,376.1 380.4,375.9 380.7,375.6 381.1,375.3 381.5,375.1 381.8,374.8 382.2,374.5 382.6,374.3 382.9,374.0 383.1,373.9 383.3,373.7 383.7,373.4 384.0,373.1 384.4,372.8 384.8,372.5 385.1,372.2 385.5,371.9 385.9,371.6 386.2,371.2 386.6,370.9 387.0,370.6 387.3,370.2 387.7,369.9 388.1,369.5 388.4,369.2 388.8,368.8 389.2,368.5 389.5,368.1 389.9,367.8 390.3,367.4 390.6,367.0 391.0,366.7 391.4,366.3 391.7,365.9 392.1,365.5 392.5,365.2 392.7,364.9 392.8,364.8 393.2,364.4 393.6,364.0 393.9,363.6 394.3,363.2 394.7,362.7 395.0,362.3 395.4,361.9 395.8,361.4 396.1,361.0 396.5,360.5 396.9,360.1 397.2,359.6 397.6,359.2 398.0,358.7 398.3,358.3 398.7,357.9 399.1,357.4 399.4,357.0 399.8,356.6 400.2,356.2 400.5,355.8 400.9,355.5 401.0,355.4 401.3,355.1 401.6,354.7 402.0,354.4 402.4,354.0 402.7,353.7 403.1,353.4 403.5,353.0 403.8,352.7 404.2,352.4 404.6,352.1 404.9,351.7 405.3,351.4 405.7,351.1 406.0,350.8 406.4,350.5 406.8,350.2 407.1,349.9 407.5,349.6 407.9,349.3 408.2,349.0 408.6,348.7 409.0,348.4 409.3,348.1 409.7,347.8 410.1,347.6 410.4,347.3 410.6,347.1 410.8,347.0 411.2,346.7 411.5,346.4 411.9,346.2 412.3,345.9 412.6,345.7 413.0,345.4 413.4,345.2 413.7,344.9 414.1,344.7 414.5,344.4 414.8,344.2 415.2,343.9 415.6,343.7 415.9,343.4 416.3,343.1 416.7,342.8 417.0,342.6 417.4,342.3 417.5,342.2 417.8,342.0 418.1,341.6 418.5,341.2 418.9,340.8 419.2,340.4 419.6,340.0 420.0,339.6 420.3,339.3 420.7,338.9 421.1,338.7 421.4,338.4 421.6,338.4 421.8,338.3 422.2,338.1 422.5,338.0 422.9,337.9 423.3,337.8 423.5,337.8 423.6,337.8 424.0,338.0 424.4,338.3 424.7,338.8 425.1,339.4 425.5,340.1 425.8,340.8 426.2,341.6 426.6,342.7 426.9,344.2 427.3,346.0 427.7,348.0 428.1,349.9 428.4,351.8 428.8,354.0 429.2,356.2 429.5,358.5 429.9,360.8 430.3,363.1 430.6,365.3 430.8,366.3 431.0,367.4 431.4,369.4 431.7,371.4 432.1,373.3 432.5,375.2 432.8,377.1 433.2,379.0 433.6,380.9 433.9,382.7 434.3,384.6 434.5,385.6 434.7,386.5 435.0,388.5 435.4,390.5 435.8,392.4 436.1,394.4 436.5,396.3 436.9,398.2 437.2,400.0 437.6,401.6 437.7,402.0 438.0,403.2 438.3,404.7 438.7,406.2 439.1,407.6 439.4,409.0 439.8,410.3 440.2,411.6 440.5,412.9 440.9,414.1 441.3,415.3 441.6,416.5 441.8,417.0 442.0,417.6 442.4,418.7 442.7,419.8 443.1,420.8 443.5,421.8 443.8,422.8 444.2,423.8 444.6,424.7 444.9,425.6 445.3,426.5 445.7,427.4 445.9,428.0 446.0,428.2 446.4,429.1 446.8,429.9 447.1,430.7 447.5,431.6 447.9,432.4 448.2,433.1 448.6,433.9 449.0,434.7 449.3,435.4 449.7,436.1 450.1,436.8 450.4,437.4 450.8,438.0 451.2,438.6 451.4,439.0 451.5,439.1 451.9,439.6 452.3,440.1 452.6,440.6 453.0,441.1 453.4,441.6 453.7,442.0 454.1,442.5 454.5,442.9 454.8,443.3 455.2,443.7 455.6,444.1 455.9,444.5 456.3,444.8 456.7,445.2 457.0,445.5 457.4,445.8 457.8,446.1 458.1,446.4 458.3,446.5 458.5,446.6 458.9,446.9 459.2,447.1 459.6,447.3 460.0,447.6 460.3,447.8 460.7,448.0 461.1,448.2 461.4,448.4 461.8,448.6 462.2,448.8 462.5,448.9 462.9,449.1 463.3,449.3 463.6,449.4 464.0,449.6 464.4,449.7 464.7,449.8 465.1,449.9 465.2,450.0 465.5,450.1 465.8,450.2 466.2,450.3 466.6,450.4 466.9,450.5 467.3,450.6 467.7,450.7 468.0,450.8 468.4,450.9 468.8,451.0 469.1,451.1 469.5,451.2 469.9,451.3 470.2,451.4 470.6,451.5 471.0,451.6 471.3,451.7 471.7,451.8 472.1,451.9 472.4,452.0 472.8,452.0 473.2,452.1 473.5,452.2 473.9,452.3 474.3,452.3 474.6,452.4 475.0,452.5 475.4,452.5 475.7,452.6 476.1,452.7 476.5,452.7 476.8,452.8 477.2,452.8 477.6,452.9 477.9,453.0 478.3,453.0 478.7,453.1 478.9,453.1 479.0,453.1 479.4,453.2 479.8,453.2 480.1,453.2 480.5,453.3 480.9,453.3 481.2,453.4 481.6,453.4 482.0,453.4 482.3,453.5 482.7,453.5 483.1,453.5 483.4,453.6 483.8,453.6 484.2,453.6 484.5,453.7 484.9,453.7 485.3,453.7 485.6,453.8 486.0,453.8 486.4,453.8 486.7,453.9 487.1,453.9 487.5,453.9 487.8,454.0 488.2,454.0 488.6,454.0 488.9,454.0 489.3,454.1 489.7,454.1 490.0,454.1 490.4,454.2 490.8,454.2 491.1,454.2 491.5,454.3 491.9,454.3 492.2,454.3 492.6,454.4 492.7,454.4 493.0,454.4 493.3,454.4 493.7,454.5 494.1,454.5 494.4,454.6 494.8,454.6 495.2,454.6 495.5,454.7 495.9,454.7 496.3,454.8 496.6,454.8 497.0,454.9 497.4,454.9 497.7,454.9 498.1,455.0 498.5,455.0 498.8,455.1 499.2,455.1 499.6,455.2 500.0,455.2 500.3,455.3 500.7,455.3 501.1,455.4 501.4,455.4 501.8,455.4 502.2,455.5 502.5,455.5 502.9,455.6 503.3,455.6 503.6,455.7 504.0,455.7 504.4,455.8 504.7,455.8 505.1,455.8 505.5,455.9 505.8,455.9 506.2,456.0 506.6,456.0 506.9,456.0 507.3,456.1 507.7,456.1 508.0,456.1 508.4,456.2 508.8,456.2 509.1,456.2 509.5,456.2 509.9,456.3 510.2,456.3 510.6,456.3 511.0,456.3 511.3,456.4 511.7,456.4 512.0,456.4 512.1,456.4 512.4,456.4 512.8,456.4 513.2,456.4 513.5,456.4 513.9,456.5 514.3,456.5 514.6,456.5 515.0,456.5 515.4,456.5 515.7,456.5 516.1,456.5 516.5,456.5 516.8,456.6 517.2,456.6 517.6,456.6 517.9,456.6 518.3,456.6 518.7,456.6 519.0,456.6 519.4,456.6 519.8,456.6 520.1,456.6 520.5,456.7 520.9,456.7 521.2,456.7 521.6,456.7 522.0,456.7 522.3,456.7 522.7,456.7 523.1,456.7 523.4,456.7 523.8,456.7 524.2,456.7 524.5,456.7 524.9,456.8 525.3,456.8 525.6,456.8 526.0,456.8 526.4,456.8 526.7,456.8 527.1,456.8 527.5,456.8 527.8,456.8 528.2,456.8 528.6,456.8 528.9,456.8 529.3,456.8 529.7,456.8 530.0,456.9 530.4,456.9 530.8,456.9 531.1,456.9 531.5,456.9 531.9,456.9 532.2,456.9 532.6,456.9 533.0,456.9 533.3,456.9 533.7,456.9 534.0,456.9 534.1,456.9 534.4,456.9 534.8,457.0 535.2,457.0 535.5,457.0 535.9,457.0 536.3,457.0 536.6,457.0 537.0,457.0 537.4,457.0 537.7,457.0 538.1,457.0 538.5,457.0 538.8,457.1 539.2,457.1 539.6,457.1 539.9,457.1 540.3,457.1 540.7,457.1 541.0,457.1 541.4,457.1 541.8,457.1 542.1,457.1 542.5,457.1 542.9,457.2 543.2,457.2 543.6,457.2 544.0,457.2 544.3,457.2 544.7,457.2 545.1,457.2 545.4,457.2 545.8,457.2 546.2,457.2 546.5,457.3 546.9,457.3 547.3,457.3 547.6,457.3 548.0,457.3 548.4,457.3 548.7,457.3 549.1,457.3 549.5,457.3 549.8,457.3 550.2,457.3 550.6,457.4 550.9,457.4 551.3,457.4 551.7,457.4 552.0,457.4 552.4,457.4 552.8,457.4 553.1,457.4 553.5,457.4 553.9,457.4 554.2,457.4 554.6,457.4 555.0,457.4 555.3,457.4 555.7,457.4 556.1,457.4 556.4,457.5 556.8,457.5 557.2,457.5 557.5,457.5 557.9,457.5 558.3,457.5 558.6,457.5 559.0,457.5 559.4,457.5 559.7,457.5 560.1,457.5 560.5,457.5 560.8,457.5 561.2,457.5 561.5,457.5 561.6,457.5 561.9,457.5 562.3,457.5 562.7,457.5 563.0,457.5 563.4,457.5 563.8,457.5 564.1,457.5 564.5,457.5 564.9,457.5 565.2,457.5 565.6,457.5 566.0,457.5 566.3,457.5 566.7,457.5 567.1,457.5 567.4,457.5 567.8,457.5 568.2,457.5 568.5,457.5 568.9,457.5 569.3,457.5 569.6,457.5 570.0,457.5 570.4,457.5 570.7,457.5 571.1,457.5 571.5,457.5 571.9,457.5 572.2,457.5 572.6,457.5 573.0,457.5 573.3,457.5 573.7,457.5 574.1,457.5 574.4,457.5 574.8,457.5 575.2,457.5 575.5,457.5 575.9,457.5 576.3,457.5 576.6,457.5 577.0,457.5 577.4,457.5 577.7,457.5 578.1,457.5 578.5,457.5 578.8,457.5 579.2,457.5 579.6,457.5 579.9,457.5 580.3,457.5 580.7,457.5 581.0,457.5 581.4,457.5 581.8,457.5 582.1,457.5 582.5,457.5 582.9,457.5 583.2,457.5 583.6,457.5 584.0,457.5 584.3,457.5 584.7,457.5 585.1,457.5 585.4,457.5 585.8,457.5 586.2,457.5 586.5,457.5 586.9,457.5 587.3,457.5 587.6,457.5 588.0,457.5 588.4,457.5 588.7,457.5 589.0,457.5 589.1,457.5 589.5,457.5 589.8,457.5 590.2,457.5 590.6,457.5 590.9,457.5 591.3,457.6 591.7,457.6 592.0,457.6 592.4,457.6 592.8,457.7 593.1,457.7 593.5,457.7 593.9,457.8 594.2,457.8 594.6,457.9 595.0,457.9 595.3,457.9 595.7,458.0 596.1,458.0 596.4,458.0 596.8,458.1 597.2,458.1 597.5,458.1 597.9,458.1 598.3,458.2 598.6,458.2 599.0,458.2 599.4,458.2 599.7,458.2 600.0,458.2 600.1,458.2 600.5,458.2 600.8,458.1 601.2,458.0 601.6,457.8 601.9,457.7 602.3,457.5 602.7,457.3 602.8,457.3" fill="none" stroke="#000" stroke-width="1.15" stroke-linejoin="round"/>
<rect x="103.4" y="492.8" width="504.4" height="201.1" fill="none" stroke="#000" stroke-width="2.1"/>
<path d="M149.3 693.9v-6.3M195.1 693.9v-6.3M241.0 693.9v-6.3M286.8 693.9v-6.3M332.7 693.9v-6.3M378.5 693.9v-6.3M424.4 693.9v-6.3M470.2 693.9v-6.3M516.1 693.9v-6.3M561.9 693.9v-6.3M103.4 653.7h6.5M103.4 613.5h6.5M103.4 573.2h6.5M103.4 533.0h6.5" stroke="#000" stroke-width="1.8" fill="none"/>
<text x="99.7" y="510.6" font-size="31.5" text-anchor="end">10</text>
<text x="99.7" y="549.5" font-size="31.5" text-anchor="end">8</text>
<text x="99.7" y="588.5" font-size="31.5" text-anchor="end">6</text>
<text x="99.7" y="627.4" font-size="31.5" text-anchor="end">4</text>
<text x="99.7" y="666.3" font-size="31.5" text-anchor="end">2</text>
<text x="99.7" y="705.3" font-size="31.5" text-anchor="end">0</text>
<text x="586.4" y="521.7" font-size="31" text-anchor="end">m/z 367.15 [M+H]</text>
<text x="585.8" y="513.0" font-size="21.5">+</text>
<path d="M281.8 501.1V530.7" stroke="#000" stroke-width="1.5" fill="none"/>
<path d="M276.1 525.1H287.5L281.8 540.7Z" fill="#000"/>
<clipPath id="c3"><rect x="103.4" y="492.8" width="504.4" height="201.1"/></clipPath>
<polyline clip-path="url(#c3)" points="103.4,673.3 104.2,674.2 104.9,671.1 105.7,674.1 106.5,673.7 107.2,672.0 108.0,674.8 108.8,674.4 109.5,673.6 110.3,674.2 111.1,675.1 111.8,674.0 112.6,674.2 113.4,673.1 114.1,675.6 114.9,674.6 115.7,672.5 116.4,671.7 117.2,675.5 117.9,673.1 118.7,674.9 119.5,674.7 120.2,674.8 121.0,674.3 121.7,672.7 121.8,673.0 122.5,672.1 123.1,670.2 123.3,668.1 124.0,660.4 124.1,659.5 124.8,667.7 125.2,668.8 125.6,667.3 126.3,663.8 126.4,663.5 127.1,669.2 127.7,671.3 127.9,672.9 128.7,671.2 129.4,673.4 130.2,673.7 131.0,673.2 131.7,673.0 132.5,673.2 133.3,672.1 134.0,672.4 134.8,673.2 135.6,674.1 136.3,673.9 137.1,672.3 137.9,673.7 138.6,675.4 139.4,674.8 140.2,674.7 140.9,672.8 141.7,674.2 142.5,671.6 143.2,673.4 144.0,674.0 144.8,674.6 145.5,673.1 146.3,674.4 147.0,675.1 147.8,673.6 148.6,674.2 149.3,672.9 149.3,674.3 150.1,677.4 150.9,673.3 151.6,676.3 152.4,672.5 153.2,672.2 153.9,674.7 154.7,675.5 155.5,675.8 156.2,673.3 157.0,674.5 157.8,674.9 158.5,674.5 159.3,672.0 160.1,673.9 160.8,673.5 161.6,673.4 162.4,673.2 163.1,673.1 163.9,675.1 164.7,674.5 165.4,675.2 166.2,675.1 167.0,673.1 167.7,674.9 168.5,674.4 169.3,675.1 170.0,675.0 170.8,673.5 171.6,674.8 172.3,674.9 173.1,673.8 173.9,673.8 174.6,673.5 175.4,674.2 176.1,676.3 176.9,673.7 177.7,673.8 178.4,673.2 179.2,675.3 180.0,671.6 180.7,675.7 181.5,673.6 182.3,674.3 183.0,674.9 183.8,673.5 184.6,674.7 185.3,677.0 186.1,675.7 186.9,673.9 187.6,671.9 188.4,676.0 189.2,674.4 189.9,672.8 190.7,673.7 191.5,674.8 192.2,676.0 193.0,676.4 193.8,675.2 194.5,674.8 195.1,676.9 195.3,676.3 196.1,674.1 196.8,674.8 197.6,675.2 198.4,674.8 199.1,675.3 199.9,673.4 200.7,672.6 201.4,672.1 202.2,673.6 203.0,673.6 203.7,672.8 204.5,672.4 205.2,672.7 206.0,673.0 206.8,675.1 207.5,676.1 208.3,673.4 209.1,674.5 209.8,674.4 210.6,675.3 211.4,675.8 212.1,672.8 212.9,673.8 213.7,675.5 214.4,673.9 215.2,674.0 216.0,673.7 216.7,671.8 217.5,674.3 218.3,675.7 219.0,674.2 219.8,675.0 220.6,673.7 221.3,674.0 222.1,673.9 222.9,674.9 223.6,673.8 224.4,674.8 225.2,673.7 225.9,674.6 226.7,675.5 227.5,673.7 228.2,675.0 229.0,672.6 229.8,673.7 230.5,673.7 231.3,674.1 232.0,674.3 232.8,676.8 233.6,672.9 234.3,675.1 235.1,673.1 235.9,674.9 236.6,674.4 237.4,674.4 238.2,675.3 238.9,674.4 239.7,673.7 240.5,674.7 241.0,675.6 241.2,674.8 242.0,673.9 242.8,672.9 243.5,673.3 244.3,673.9 245.1,675.3 245.8,673.2 246.6,674.2 247.4,674.5 248.1,673.2 248.9,673.5 249.7,673.6 250.4,675.5 251.2,674.9 252.0,676.1 252.7,674.0 253.5,674.2 254.3,673.2 255.0,674.0 255.8,674.6 256.6,671.9 257.3,675.3 258.1,675.7 258.9,674.9 259.6,673.6 260.4,674.6 261.1,674.7 261.9,675.4 262.7,672.6 263.4,674.9 264.2,675.4 265.0,674.3 265.7,675.1 266.5,674.4 267.3,672.7 268.0,674.7 268.5,674.2 268.8,674.6 269.6,674.3 270.3,673.1 271.1,673.3 271.9,674.0 272.6,674.4 273.4,673.2 274.0,671.9 274.2,672.7 274.9,672.0 275.7,672.4 276.5,667.2 277.2,667.4 277.2,667.0 278.0,659.9 278.8,649.8 279.0,645.6 279.5,633.2 280.3,606.7 280.4,603.6 281.1,580.9 281.5,571.3 281.8,575.0 282.6,601.9 282.7,605.5 283.4,629.1 284.1,649.4 284.1,650.1 284.9,659.4 285.7,664.9 285.9,666.9 286.4,666.9 287.2,671.3 288.0,671.8 288.7,671.6 289.1,673.1 289.5,672.1 290.2,674.0 291.0,673.9 291.8,672.8 292.5,672.8 293.3,672.3 294.1,673.8 294.8,673.4 295.6,673.1 296.0,673.3 296.4,675.2 297.1,674.4 297.9,672.2 298.7,675.1 299.4,673.1 300.2,674.2 301.0,672.6 301.7,674.6 302.5,673.6 303.3,675.9 304.0,673.7 304.8,672.4 305.6,675.2 306.3,672.2 307.1,674.3 307.9,673.5 308.6,676.5 309.4,672.2 309.7,674.4 310.2,674.0 310.9,674.7 311.7,674.4 312.5,672.0 313.2,673.7 314.0,672.1 314.8,673.3 315.5,672.6 316.3,673.5 317.1,672.4 317.8,669.9 318.6,672.0 319.3,672.1 320.1,673.1 320.9,671.4 321.6,670.9 322.4,674.2 323.2,673.8 323.9,669.8 324.7,671.6 325.5,671.9 326.2,671.3 327.0,670.6 327.8,670.9 328.5,672.0 329.3,669.4 330.1,671.6 330.8,672.5 331.6,672.1 332.4,671.6 333.1,671.8 333.6,671.6 333.9,671.0 334.7,675.0 335.4,672.2 336.2,670.2 337.0,670.6 337.7,672.0 338.5,671.9 339.3,669.9 340.0,671.4 340.8,671.7 341.6,669.0 342.3,671.5 343.1,670.3 343.9,671.1 344.6,670.9 345.4,672.0 346.1,671.9 346.9,669.5 347.7,672.2 348.4,670.6 349.2,672.2 350.0,671.1 350.7,670.9 351.5,672.6 352.3,669.5 353.0,671.0 353.8,669.4 354.6,671.7 355.3,669.7 356.1,668.1 356.9,670.4 357.6,671.3 358.4,670.0 358.4,670.4 359.2,670.8 359.9,670.6 360.7,671.1 361.5,670.0 362.2,670.8 363.0,671.3 363.8,669.4 364.5,670.5 365.3,667.3 366.1,670.5 366.8,671.0 367.6,670.8 368.4,669.7 369.1,670.9 369.9,671.4 370.7,668.2 371.4,671.3 372.2,668.3 373.0,669.7 373.7,671.0 374.5,667.9 375.2,670.0 376.0,670.8 376.8,669.6 377.5,668.2 378.3,668.8 379.1,668.6 379.8,667.5 380.6,669.1 381.4,668.9 382.1,669.5 382.9,670.8 383.1,669.3 383.7,667.3 384.4,670.9 385.2,667.5 386.0,668.6 386.7,669.8 387.5,668.6 388.3,666.5 389.0,669.0 389.8,667.4 390.6,666.9 391.3,669.0 392.1,667.1 392.9,667.1 393.6,668.1 394.4,666.6 395.2,667.6 395.9,667.7 396.7,668.3 397.5,666.4 398.2,667.1 399.0,667.1 399.8,667.6 400.5,667.8 401.3,667.0 402.1,665.2 402.8,666.8 403.6,664.2 403.7,665.3 404.3,665.5 405.1,666.9 405.9,663.3 406.6,666.9 407.4,664.6 408.2,663.2 408.9,665.2 409.7,665.6 410.5,664.8 411.2,663.6 412.0,663.0 412.8,663.7 413.5,665.5 414.3,664.9 415.1,663.9 415.8,665.4 416.6,664.2 417.4,661.4 418.1,665.0 418.9,662.5 419.7,664.8 420.4,664.1 421.2,663.8 421.2,665.4 422.0,663.9 422.7,662.5 423.5,663.4 424.3,663.7 425.0,665.7 425.8,665.3 426.6,665.4 427.3,665.3 428.1,665.0 428.9,668.1 429.6,665.5 430.4,668.1 431.1,668.4 431.9,669.8 432.2,668.6 432.7,669.0 433.4,670.4 434.2,669.6 435.0,669.4 435.7,670.3 436.5,669.3 437.3,671.6 438.0,669.7 438.8,671.1 439.6,670.8 440.3,673.4 441.1,671.4 441.9,671.8 442.6,670.8 443.4,673.2 444.2,670.5 444.6,673.2 444.9,670.5 445.7,671.3 446.5,672.8 447.2,669.5 448.0,673.2 448.8,672.0 449.5,671.6 450.3,671.1 451.1,671.4 451.8,670.7 452.6,671.0 453.4,671.4 454.1,672.4 454.9,671.7 455.7,670.2 456.4,672.4 457.2,670.9 458.0,673.3 458.7,671.7 459.5,672.7 460.2,669.4 461.0,672.8 461.8,671.0 462.5,669.8 463.3,669.9 464.1,669.7 464.8,669.4 465.6,670.0 465.7,669.6 466.4,670.6 467.1,670.6 467.9,672.5 468.7,670.4 469.4,669.2 470.2,671.4 471.0,671.9 471.7,670.5 472.5,669.4 473.3,669.3 474.0,672.3 474.8,670.2 475.6,671.4 476.3,670.4 477.1,673.2 477.9,669.7 478.6,671.2 479.4,670.5 480.2,671.0 480.9,671.9 481.7,670.2 482.5,671.4 483.2,671.6 484.0,670.1 484.8,671.0 485.5,671.7 486.3,669.9 487.1,671.6 487.8,671.0 488.6,670.2 489.3,670.0 490.1,669.7 490.9,669.3 491.6,671.1 492.4,672.0 493.2,669.4 493.2,669.6 493.9,671.5 494.7,670.5 495.5,671.7 496.2,673.1 497.0,670.2 497.8,671.1 498.5,671.4 499.3,669.7 500.1,670.0 500.8,672.4 501.6,673.0 502.4,673.9 503.1,671.9 503.9,672.4 504.7,671.7 505.4,672.1 506.2,673.0 507.0,672.8 507.7,674.1 508.5,671.1 509.3,673.1 510.0,672.0 510.8,673.4 511.6,672.7 512.3,672.2 513.1,673.2 513.9,673.9 514.6,670.5 515.4,673.3 516.2,672.5 516.9,673.3 517.7,674.1 518.4,671.8 519.2,672.9 520.0,673.0 520.7,675.9 520.7,673.1 521.5,672.5 522.3,673.1 523.0,673.6 523.8,672.1 524.6,673.2 525.3,672.9 526.1,672.4 526.9,672.4 527.6,675.0 528.4,673.2 529.2,674.4 529.9,675.8 530.7,673.3 531.5,675.6 532.2,674.2 533.0,676.4 533.8,674.8 534.5,674.2 535.3,673.7 536.1,674.3 536.8,674.8 537.6,674.8 538.4,672.1 539.1,674.3 539.9,673.9 540.7,671.7 541.4,675.8 542.2,676.1 543.0,675.0 543.7,674.3 544.5,675.1 545.2,673.9 546.0,674.0 546.8,675.6 547.5,673.7 548.3,675.5 549.1,673.2 549.8,673.7 550.6,671.5 551.4,673.0 552.1,674.2 552.9,673.6 553.7,673.8 554.4,674.8 555.2,675.6 556.0,672.8 556.7,672.3 557.5,674.5 558.3,674.3 559.0,674.5 559.8,672.9 560.6,672.7 561.3,675.0 561.9,674.4 562.1,674.6 562.9,673.8 563.6,673.1 564.4,672.8 565.2,674.3 565.9,675.1 566.7,673.4 567.5,673.3 568.2,674.3 569.0,673.7 569.8,673.5 570.5,672.9 571.3,673.8 572.1,673.3 572.8,673.6 573.6,674.9 574.3,673.0 575.1,673.7 575.9,672.6 576.6,675.1 577.4,674.5 578.2,673.3 578.9,675.6 579.7,673.8 580.5,674.1 581.2,674.1 582.0,673.9 582.8,676.1 583.5,673.5 584.3,673.5 585.1,672.4 585.8,671.9 586.6,673.1 587.4,672.5 588.1,676.1 588.9,672.8 589.7,672.2 590.4,672.5 591.2,673.2 592.0,673.8 592.7,673.8 593.5,673.4 594.3,672.9 595.0,672.8 595.8,673.5 595.9,674.8 596.6,671.4 597.3,674.6 598.1,676.9 598.9,672.7 599.6,673.6 600.4,674.9 601.2,674.4 601.9,675.4 602.7,677.1 603.4,676.2 604.1,677.8 604.2,677.1 605.0,677.2 605.7,675.7 606.5,674.1 607.3,675.4 607.8,673.7 608.0,676.3" fill="none" stroke="#000" stroke-width="1.15" stroke-linejoin="round"/>
<rect x="1374.1" y="51.9" width="503.7" height="201.3" fill="none" stroke="#000" stroke-width="2.1"/>
<path d="M1419.9 253.2v-6.3M1465.7 253.2v-6.3M1511.5 253.2v-6.3M1557.3 253.2v-6.3M1603.1 253.2v-6.3M1648.8 253.2v-6.3M1694.6 253.2v-6.3M1740.4 253.2v-6.3M1786.2 253.2v-6.3M1832.0 253.2v-6.3M1374.1 234.9h6.5M1374.1 198.3h6.5M1374.1 161.7h6.5M1374.1 125.1h6.5M1374.1 88.5h6.5M1374.1 216.6h6M1374.1 180.0h6M1374.1 143.4h6M1374.1 106.8h6M1374.1 70.2h6" stroke="#000" stroke-width="1.8" fill="none"/>
<text x="1367.4" y="62.3" font-size="31.5" text-anchor="end">20</text>
<text x="1367.4" y="98.9" font-size="31.5" text-anchor="end">16</text>
<text x="1367.4" y="135.6" font-size="31.5" text-anchor="end">12</text>
<text x="1367.4" y="172.2" font-size="31.5" text-anchor="end">8</text>
<text x="1367.4" y="208.8" font-size="31.5" text-anchor="end">4</text>
<text x="1367.4" y="245.5" font-size="31.5" text-anchor="end">0</text>
<text x="1868.3" y="87.5" font-size="31" text-anchor="end">A280</text>
<path d="M1548.5 61.3V91.0" stroke="#000" stroke-width="1.5" fill="none"/>
<path d="M1542.8 85.4H1554.2L1548.5 101.0Z" fill="#000"/>
<clipPath id="c4"><rect x="1374.1" y="51.9" width="503.7" height="201.3"/></clipPath>
<polyline clip-path="url(#c4)" points="1374.1,234.9 1374.5,234.9 1374.8,234.9 1375.2,234.9 1375.6,234.9 1375.9,234.9 1376.3,234.9 1376.7,234.9 1377.0,234.9 1377.4,234.9 1377.8,234.9 1378.1,234.9 1378.5,234.9 1378.9,234.9 1379.2,234.9 1379.6,234.9 1380.0,234.9 1380.3,234.9 1380.7,234.9 1381.1,234.9 1381.4,234.9 1381.8,234.9 1382.2,234.9 1382.5,234.9 1382.9,234.9 1383.3,234.9 1383.6,234.9 1384.0,234.9 1384.4,234.9 1384.7,234.9 1385.1,234.9 1385.5,234.9 1385.8,234.9 1386.2,234.9 1386.6,234.9 1386.9,234.9 1387.3,234.9 1387.7,234.9 1388.0,234.9 1388.4,234.9 1388.8,234.9 1389.1,234.9 1389.5,234.9 1389.9,234.9 1390.2,234.9 1390.6,234.9 1391.0,234.9 1391.3,234.9 1391.7,234.9 1392.0,234.9 1392.1,234.9 1392.4,234.7 1392.8,234.2 1393.1,233.5 1393.3,233.1 1393.5,232.2 1393.9,228.6 1394.2,223.6 1394.6,218.6 1394.7,217.5 1395.0,213.8 1395.3,208.3 1395.7,204.2 1395.9,203.3 1396.1,203.7 1396.4,207.0 1396.8,211.8 1397.0,213.9 1397.2,216.0 1397.5,220.7 1397.9,223.0 1398.3,221.6 1398.6,218.5 1399.0,215.6 1399.3,214.8 1399.4,214.8 1399.7,215.3 1400.1,216.3 1400.5,217.7 1400.8,219.3 1401.2,220.8 1401.6,222.1 1401.9,223.3 1402.3,224.8 1402.7,226.2 1403.0,227.6 1403.4,228.8 1403.8,229.7 1404.1,230.3 1404.3,230.3 1404.5,229.9 1404.9,227.6 1405.0,226.7 1405.2,224.3 1405.6,220.5 1405.7,220.3 1406.0,221.2 1406.3,224.0 1406.6,225.8 1406.7,226.1 1407.1,227.6 1407.4,228.5 1407.5,228.5 1407.8,228.3 1408.2,227.7 1408.5,226.9 1408.7,226.7 1408.9,226.1 1409.3,225.1 1409.6,224.3 1409.8,224.2 1410.0,224.6 1410.4,226.8 1410.5,227.6 1410.7,229.0 1411.1,231.0 1411.2,231.2 1411.5,231.5 1411.8,231.8 1412.2,232.1 1412.6,232.3 1412.9,232.4 1413.3,232.6 1413.7,232.6 1414.0,232.7 1414.4,232.7 1414.8,232.6 1415.1,232.2 1415.5,231.5 1415.9,230.7 1416.0,230.3 1416.2,228.6 1416.6,223.6 1416.9,220.3 1417.0,220.0 1417.3,218.7 1417.4,218.4 1417.7,211.4 1418.1,198.3 1418.4,183.7 1418.8,168.8 1419.0,163.5 1419.2,159.5 1419.5,152.4 1419.9,149.3 1420.3,156.5 1420.6,171.9 1420.8,180.0 1421.0,189.5 1421.4,211.2 1421.5,216.6 1421.7,223.1 1422.1,230.0 1422.2,230.3 1422.5,229.2 1422.8,225.7 1423.1,223.0 1423.2,222.2 1423.6,218.2 1423.9,215.4 1424.0,215.2 1424.3,216.5 1424.7,220.4 1424.9,223.0 1425.0,223.6 1425.4,226.1 1425.8,228.3 1426.1,229.9 1426.3,230.3 1426.5,230.6 1426.9,231.2 1427.2,231.6 1427.6,232.0 1428.0,232.2 1428.3,232.4 1428.6,232.4 1428.7,231.8 1429.0,221.2 1429.3,212.0 1429.4,205.6 1429.8,183.6 1430.0,175.4 1430.1,169.6 1430.5,160.2 1430.7,158.0 1430.9,159.0 1431.2,167.8 1431.6,175.4 1431.6,176.1 1432.0,181.8 1432.3,183.7 1432.3,182.3 1432.7,159.6 1432.9,143.4 1433.1,134.9 1433.4,108.9 1433.8,87.4 1434.1,81.2 1434.2,82.4 1434.5,104.9 1434.9,136.9 1435.0,143.4 1435.3,162.3 1435.6,186.7 1435.9,199.2 1436.0,201.9 1436.4,210.6 1436.7,217.0 1436.8,218.4 1437.1,222.8 1437.5,227.8 1437.7,229.7 1437.8,229.9 1438.2,230.7 1438.6,231.2 1438.9,231.7 1439.3,232.0 1439.7,232.3 1440.0,232.4 1440.4,232.6 1440.8,232.7 1441.1,232.9 1441.5,233.0 1441.9,233.1 1442.2,233.2 1442.6,233.4 1443.0,233.5 1443.3,233.5 1443.7,233.6 1444.1,233.7 1444.4,233.8 1444.8,233.8 1445.2,233.9 1445.5,233.9 1445.9,233.9 1446.3,234.0 1446.6,234.0 1446.9,234.0 1447.0,234.0 1447.4,234.0 1447.7,234.0 1448.1,234.0 1448.5,234.0 1448.8,234.0 1449.2,234.0 1449.6,234.0 1449.7,234.0 1449.9,233.8 1450.3,233.0 1450.7,231.8 1450.8,231.2 1451.0,229.7 1451.4,225.7 1451.8,221.2 1451.9,219.3 1452.1,217.6 1452.5,214.1 1452.9,212.5 1453.2,214.5 1453.6,218.4 1453.8,220.3 1454.0,222.0 1454.3,225.9 1454.7,229.2 1454.9,230.3 1455.1,230.6 1455.4,231.4 1455.8,231.9 1456.2,232.3 1456.5,232.4 1456.9,232.1 1457.3,231.5 1457.6,230.7 1458.0,230.0 1458.4,229.7 1458.7,230.0 1459.1,230.8 1459.5,231.6 1459.7,232.2 1459.8,232.3 1460.2,232.8 1460.6,233.4 1460.9,233.7 1461.1,233.8 1461.3,233.9 1461.7,234.0 1462.0,234.0 1462.4,234.1 1462.8,234.2 1463.1,234.2 1463.5,234.3 1463.9,234.3 1464.2,234.4 1464.6,234.4 1464.9,234.4 1465.3,234.4 1465.7,234.4 1466.0,234.4 1466.4,234.4 1466.8,234.4 1467.1,234.4 1467.5,234.4 1467.9,234.4 1468.2,234.4 1468.6,234.4 1469.0,234.4 1469.3,234.4 1469.7,234.4 1470.1,234.4 1470.4,234.4 1470.8,234.4 1471.2,234.4 1471.5,234.4 1471.9,234.4 1472.3,234.4 1472.6,234.4 1473.0,234.4 1473.4,234.4 1473.7,234.4 1474.1,234.4 1474.5,234.4 1474.8,234.4 1475.2,234.4 1475.6,234.4 1475.9,234.4 1476.3,234.4 1476.7,234.4 1477.0,234.4 1477.4,234.4 1477.8,234.4 1478.1,234.4 1478.5,234.4 1478.9,234.4 1479.2,234.4 1479.4,234.4 1479.6,234.4 1480.0,234.4 1480.3,234.4 1480.7,234.4 1481.1,234.3 1481.4,234.2 1481.8,234.2 1482.2,234.1 1482.5,234.0 1482.6,234.0 1482.9,233.9 1483.3,233.8 1483.6,233.6 1484.0,233.4 1484.4,233.1 1484.7,232.9 1485.1,232.6 1485.5,232.4 1485.8,232.2 1486.2,231.9 1486.6,231.6 1486.9,231.3 1487.3,231.1 1487.7,230.9 1488.0,230.8 1488.1,230.8 1488.4,230.8 1488.8,230.9 1489.1,231.0 1489.5,231.1 1489.9,231.0 1490.2,231.0 1490.6,230.9 1490.9,230.8 1491.0,230.8 1491.3,230.6 1491.7,230.3 1492.1,229.9 1492.4,229.5 1492.8,229.0 1493.2,228.5 1493.5,227.8 1493.9,226.7 1494.3,225.6 1494.6,224.3 1495.0,223.2 1495.4,222.3 1495.4,222.1 1495.7,221.6 1496.1,220.8 1496.5,220.3 1496.8,220.1 1497.2,220.5 1497.6,221.5 1497.9,222.8 1498.2,223.9 1498.3,224.3 1498.7,227.0 1499.0,230.1 1499.4,232.5 1499.6,233.1 1499.8,233.3 1500.1,233.7 1500.5,234.1 1500.8,234.3 1501.2,234.4 1501.4,234.4 1501.6,234.4 1501.9,234.4 1502.3,234.4 1502.7,234.4 1503.0,234.3 1503.4,234.3 1503.8,234.2 1504.1,234.2 1504.5,234.1 1504.9,234.0 1505.2,234.0 1505.6,233.9 1506.0,233.9 1506.3,233.9 1506.7,233.8 1507.1,233.8 1507.4,233.8 1507.4,233.8 1507.8,233.8 1508.2,233.9 1508.5,234.1 1508.9,234.2 1509.3,234.4 1509.6,234.5 1510.0,234.7 1510.4,234.8 1510.7,235.0 1511.1,235.0 1511.5,235.1 1511.8,235.1 1512.2,235.1 1512.6,235.1 1512.9,235.1 1513.3,235.1 1513.7,235.1 1514.0,235.1 1514.4,235.2 1514.8,235.2 1515.1,235.2 1515.5,235.2 1515.9,235.2 1516.2,235.2 1516.6,235.2 1517.0,235.2 1517.3,235.2 1517.7,235.2 1518.1,235.2 1518.4,235.2 1518.8,235.2 1519.2,235.2 1519.5,235.3 1519.9,235.3 1520.3,235.3 1520.6,235.3 1521.0,235.3 1521.4,235.3 1521.7,235.3 1522.1,235.3 1522.5,235.3 1522.8,235.3 1523.2,235.3 1523.6,235.3 1523.9,235.3 1524.3,235.3 1524.7,235.3 1525.0,235.3 1525.4,235.3 1525.8,235.3 1526.1,235.3 1526.5,235.4 1526.9,235.4 1527.2,235.4 1527.6,235.4 1528.0,235.4 1528.3,235.4 1528.7,235.4 1529.1,235.4 1529.4,235.4 1529.8,235.4 1530.2,235.4 1530.5,235.4 1530.9,235.4 1531.3,235.4 1531.6,235.4 1532.0,235.4 1532.4,235.4 1532.7,235.4 1533.1,235.4 1533.5,235.4 1533.8,235.4 1534.2,235.4 1534.6,235.4 1534.9,235.4 1535.3,235.4 1535.7,235.4 1536.0,235.4 1536.4,235.4 1536.7,235.4 1537.1,235.4 1537.5,235.4 1537.8,235.4 1538.2,235.4 1538.6,235.4 1538.9,235.4 1539.3,235.4 1539.7,235.4 1540.0,235.4 1540.4,235.4 1540.8,235.4 1541.1,235.4 1541.5,235.4 1541.9,235.4 1542.2,235.4 1542.6,235.4 1543.0,235.4 1543.3,235.4 1543.7,235.4 1544.1,235.4 1544.4,235.4 1544.8,235.4 1545.2,235.4 1545.5,235.4 1545.9,235.4 1546.3,235.4 1546.6,235.4 1547.0,235.4 1547.4,235.4 1547.7,235.4 1548.1,235.4 1548.1,235.4 1548.5,235.4 1548.8,235.3 1549.2,235.2 1549.6,235.1 1549.9,234.9 1550.3,234.8 1550.4,234.7 1550.7,234.5 1551.0,234.2 1551.4,233.9 1551.8,233.8 1552.1,233.9 1552.5,234.1 1552.9,234.4 1553.2,234.7 1553.6,234.9 1554.0,235.0 1554.3,235.1 1554.7,235.2 1555.1,235.3 1555.4,235.4 1555.8,235.4 1556.2,235.4 1556.3,235.4 1556.5,235.5 1556.9,235.5 1557.3,235.5 1557.6,235.5 1558.0,235.5 1558.4,235.5 1558.7,235.5 1559.1,235.5 1559.5,235.5 1559.8,235.5 1560.2,235.6 1560.6,235.6 1560.9,235.6 1561.3,235.6 1561.7,235.6 1562.0,235.6 1562.4,235.6 1562.8,235.6 1563.1,235.6 1563.5,235.6 1563.9,235.6 1564.2,235.6 1564.6,235.6 1565.0,235.6 1565.3,235.7 1565.7,235.7 1566.1,235.7 1566.4,235.7 1566.8,235.7 1567.2,235.7 1567.5,235.7 1567.9,235.7 1568.3,235.7 1568.6,235.7 1569.0,235.7 1569.4,235.7 1569.7,235.7 1570.1,235.7 1570.5,235.7 1570.8,235.7 1571.2,235.7 1571.6,235.7 1571.9,235.7 1572.3,235.7 1572.6,235.7 1573.0,235.8 1573.4,235.8 1573.7,235.8 1574.1,235.8 1574.5,235.8 1574.8,235.8 1575.2,235.8 1575.6,235.8 1575.9,235.8 1576.3,235.8 1576.7,235.8 1577.0,235.8 1577.4,235.8 1577.8,235.8 1578.1,235.8 1578.5,235.8 1578.9,235.8 1579.2,235.8 1579.6,235.8 1580.0,235.8 1580.3,235.8 1580.7,235.8 1581.1,235.8 1581.4,235.8 1581.8,235.8 1582.2,235.8 1582.5,235.8 1582.9,235.8 1583.3,235.8 1583.6,235.8 1584.0,235.8 1584.4,235.8 1584.7,235.8 1585.1,235.8 1585.5,235.8 1585.8,235.8 1586.2,235.8 1586.6,235.8 1586.9,235.8 1587.3,235.8 1587.7,235.8 1588.0,235.8 1588.4,235.8 1588.8,235.9 1589.1,235.9 1589.5,235.9 1589.9,235.9 1590.2,235.9 1590.6,235.9 1591.0,235.9 1591.3,235.9 1591.7,235.9 1592.1,235.9 1592.4,235.9 1592.8,235.9 1593.2,235.9 1593.5,235.9 1593.9,235.9 1594.3,235.9 1594.6,235.9 1595.0,235.9 1595.4,235.9 1595.7,235.9 1596.1,235.9 1596.5,235.9 1596.8,235.9 1597.2,235.9 1597.6,235.9 1597.9,235.9 1598.3,235.9 1598.7,235.9 1599.0,235.9 1599.4,235.9 1599.8,235.9 1600.1,236.0 1600.5,236.0 1600.9,236.0 1601.2,236.0 1601.6,236.0 1602.0,236.0 1602.3,236.0 1602.7,236.0 1603.1,236.0 1603.4,236.0 1603.8,236.0 1604.2,236.0 1604.5,236.0 1604.9,236.0 1605.3,236.0 1605.6,236.1 1606.0,236.1 1606.4,236.1 1606.7,236.1 1607.1,236.1 1607.5,236.1 1607.8,236.1 1608.2,236.1 1608.5,236.1 1608.9,236.2 1609.3,236.2 1609.6,236.2 1610.0,236.2 1610.4,236.2 1610.7,236.2 1611.1,236.2 1611.5,236.2 1611.8,236.2 1612.2,236.3 1612.6,236.3 1612.9,236.3 1613.3,236.3 1613.7,236.3 1614.0,236.3 1614.4,236.3 1614.8,236.4 1615.1,236.4 1615.5,236.4 1615.9,236.4 1616.2,236.4 1616.6,236.4 1617.0,236.4 1617.3,236.4 1617.7,236.4 1618.1,236.5 1618.4,236.5 1618.8,236.5 1619.2,236.5 1619.5,236.5 1619.9,236.5 1620.3,236.5 1620.6,236.5 1621.0,236.5 1621.4,236.5 1621.7,236.5 1622.1,236.5 1622.5,236.5 1622.8,236.5 1623.2,236.5 1623.6,236.5 1623.9,236.5 1624.3,236.5 1624.6,236.5 1624.7,236.5 1625.0,236.5 1625.4,236.5 1625.8,236.5 1626.1,236.5 1626.5,236.5 1626.9,236.5 1627.2,236.5 1627.6,236.5 1628.0,236.5 1628.3,236.5 1628.7,236.5 1629.1,236.5 1629.4,236.5 1629.8,236.4 1630.2,236.4 1630.5,236.4 1630.9,236.4 1631.3,236.4 1631.6,236.4 1632.0,236.3 1632.4,236.3 1632.7,236.3 1633.1,236.3 1633.5,236.3 1633.8,236.2 1634.2,236.2 1634.6,236.2 1634.9,236.2 1635.3,236.1 1635.7,236.1 1636.0,236.1 1636.4,236.1 1636.8,236.0 1637.1,236.0 1637.5,236.0 1637.9,235.9 1638.2,235.9 1638.6,235.9 1639.0,235.8 1639.3,235.8 1639.7,235.8 1640.1,235.7 1640.4,235.7 1640.8,235.7 1641.2,235.6 1641.5,235.6 1641.9,235.6 1642.3,235.5 1642.6,235.5 1643.0,235.4 1643.4,235.4 1643.7,235.3 1644.1,235.3 1644.4,235.3 1644.8,235.2 1645.2,235.2 1645.5,235.1 1645.9,235.1 1646.3,235.0 1646.6,234.9 1647.0,234.9 1647.4,234.8 1647.7,234.7 1648.1,234.6 1648.5,234.5 1648.8,234.4 1649.2,234.2 1649.6,234.1 1649.9,234.0 1650.3,233.8 1650.7,233.7 1651.0,233.6 1651.1,233.5 1651.4,233.4 1651.8,233.2 1652.1,233.1 1652.5,232.9 1652.9,232.6 1653.2,232.4 1653.6,232.1 1654.0,231.9 1654.3,231.6 1654.7,231.3 1655.1,231.0 1655.3,230.8 1655.4,230.6 1655.8,230.2 1656.2,229.6 1656.5,229.1 1656.9,228.4 1657.3,227.8 1657.6,227.1 1658.0,226.4 1658.4,225.7 1658.7,225.1 1659.1,224.5 1659.5,223.9 1659.8,223.5 1660.2,223.1 1660.6,222.7 1660.9,222.4 1661.3,222.0 1661.7,221.7 1662.0,221.4 1662.4,221.2 1662.8,220.9 1663.1,220.6 1663.5,220.3 1663.9,220.0 1664.2,219.7 1664.6,219.4 1665.0,219.1 1665.3,218.7 1665.7,218.3 1666.1,217.9 1666.4,217.5 1666.8,217.0 1667.2,216.6 1667.5,216.1 1667.9,215.6 1668.3,215.1 1668.6,214.6 1669.0,214.1 1669.4,213.7 1669.7,213.2 1669.9,212.9 1670.1,212.7 1670.5,212.1 1670.8,211.5 1671.2,210.9 1671.6,210.3 1671.9,209.8 1672.3,209.3 1672.7,209.0 1673.0,208.8 1673.1,208.8 1673.4,208.8 1673.8,208.9 1674.1,209.0 1674.5,209.2 1674.9,209.4 1675.2,209.6 1675.6,209.8 1676.0,210.0 1676.3,210.2 1676.3,210.2 1676.7,210.4 1677.1,210.5 1677.4,210.7 1677.8,210.9 1678.2,211.1 1678.5,211.3 1678.9,211.5 1679.3,211.7 1679.6,211.9 1680.0,212.0 1680.3,212.2 1680.7,212.3 1681.1,212.5 1681.4,212.6 1681.8,212.7 1682.2,212.8 1682.5,213.0 1682.9,213.1 1683.3,213.2 1683.6,213.4 1684.0,213.6 1684.4,213.8 1684.6,213.9 1684.7,214.0 1685.1,214.2 1685.5,214.5 1685.8,214.9 1686.2,215.2 1686.6,215.6 1686.9,216.1 1687.3,216.5 1687.7,217.0 1688.0,217.5 1688.4,218.0 1688.8,218.5 1689.1,219.0 1689.5,219.5 1689.9,220.0 1690.2,220.5 1690.6,221.0 1691.0,221.4 1691.3,221.9 1691.7,222.3 1692.1,222.7 1692.3,223.0 1692.4,223.1 1692.8,223.5 1693.2,223.8 1693.5,224.2 1693.9,224.6 1694.3,224.9 1694.6,225.3 1695.0,225.7 1695.4,226.0 1695.7,226.4 1696.1,226.8 1696.5,227.1 1696.8,227.5 1697.2,227.8 1697.6,228.2 1697.9,228.5 1698.3,228.8 1698.7,229.2 1699.0,229.5 1699.4,229.8 1699.8,230.1 1700.1,230.4 1700.5,230.6 1700.9,230.9 1701.2,231.2 1701.6,231.4 1702.0,231.7 1702.3,231.9 1702.7,232.1 1703.1,232.3 1703.3,232.4 1703.4,232.5 1703.8,232.7 1704.2,232.8 1704.5,233.0 1704.9,233.2 1705.3,233.4 1705.6,233.5 1706.0,233.7 1706.4,233.8 1706.7,234.0 1707.1,234.1 1707.5,234.2 1707.8,234.4 1708.2,234.5 1708.6,234.6 1708.9,234.7 1709.3,234.8 1709.7,234.8 1710.0,234.9 1710.2,234.9 1710.4,234.9 1710.8,235.0 1711.1,235.0 1711.5,235.0 1711.9,235.1 1712.2,235.1 1712.6,235.1 1713.0,235.2 1713.3,235.2 1713.7,235.2 1714.1,235.2 1714.4,235.3 1714.8,235.3 1715.2,235.3 1715.5,235.3 1715.9,235.3 1716.2,235.3 1716.6,235.3 1717.0,235.4 1717.3,235.4 1717.5,235.4 1717.7,235.4 1718.1,235.4 1718.4,235.4 1718.8,235.4 1719.2,235.4 1719.5,235.4 1719.9,235.4 1720.3,235.4 1720.6,235.4 1721.0,235.4 1721.4,235.4 1721.7,235.4 1722.1,235.4 1722.5,235.4 1722.8,235.4 1723.2,235.4 1723.6,235.4 1723.9,235.4 1724.3,235.4 1724.7,235.4 1725.0,235.4 1725.4,235.4 1725.8,235.4 1726.1,235.4 1726.5,235.4 1726.9,235.4 1727.2,235.4 1727.6,235.4 1728.0,235.4 1728.3,235.4 1728.7,235.4 1729.1,235.4 1729.4,235.4 1729.8,235.4 1730.2,235.4 1730.5,235.4 1730.9,235.4 1731.3,235.4 1731.6,235.4 1732.0,235.4 1732.4,235.4 1732.7,235.4 1733.1,235.4 1733.5,235.4 1733.8,235.4 1734.2,235.4 1734.6,235.4 1734.9,235.4 1735.3,235.4 1735.7,235.4 1736.0,235.4 1736.4,235.4 1736.8,235.4 1737.1,235.4 1737.5,235.4 1737.9,235.4 1738.2,235.4 1738.6,235.4 1739.0,235.4 1739.3,235.4 1739.7,235.4 1740.1,235.4 1740.4,235.4 1740.8,235.4 1741.2,235.4 1741.5,235.4 1741.9,235.4 1742.3,235.4 1742.6,235.4 1743.0,235.4 1743.4,235.4 1743.7,235.4 1744.1,235.4 1744.5,235.4 1744.8,235.4 1745.2,235.4 1745.6,235.4 1745.9,235.4 1746.3,235.4 1746.7,235.4 1747.0,235.4 1747.4,235.4 1747.8,235.4 1748.1,235.4 1748.5,235.4 1748.9,235.4 1749.2,235.4 1749.6,235.4 1750.0,235.4 1750.3,235.4 1750.7,235.4 1751.1,235.4 1751.4,235.4 1751.8,235.4 1752.1,235.4 1752.5,235.4 1752.9,235.4 1753.2,235.4 1753.6,235.4 1754.0,235.4 1754.3,235.4 1754.7,235.4 1755.1,235.4 1755.4,235.4 1755.8,235.4 1756.2,235.4 1756.5,235.4 1756.9,235.4 1757.3,235.4 1757.6,235.4 1758.0,235.4 1758.4,235.4 1758.7,235.4 1759.1,235.4 1759.5,235.4 1759.8,235.4 1760.2,235.4 1760.6,235.4 1760.9,235.4 1761.3,235.4 1761.7,235.4 1762.0,235.4 1762.4,235.4 1762.8,235.4 1763.1,235.4 1763.5,235.4 1763.9,235.4 1764.2,235.4 1764.6,235.4 1765.0,235.4 1765.3,235.4 1765.7,235.4 1766.1,235.4 1766.4,235.4 1766.8,235.4 1767.2,235.4 1767.5,235.4 1767.9,235.4 1768.3,235.4 1768.6,235.4 1769.0,235.4 1769.4,235.4 1769.7,235.4 1770.1,235.4 1770.5,235.4 1770.8,235.4 1771.2,235.4 1771.6,235.4 1771.9,235.4 1772.3,235.4 1772.7,235.4 1773.0,235.4 1773.4,235.4 1773.8,235.4 1774.1,235.4 1774.5,235.4 1774.9,235.4 1775.2,235.4 1775.6,235.4 1776.0,235.4 1776.3,235.4 1776.7,235.4 1777.1,235.4 1777.4,235.4 1777.8,235.4 1778.2,235.4 1778.5,235.4 1778.9,235.4 1779.3,235.4 1779.6,235.4 1780.0,235.4 1780.4,235.4 1780.7,235.4 1781.1,235.4 1781.5,235.4 1781.8,235.4 1782.2,235.4 1782.6,235.4 1782.9,235.4 1783.3,235.4 1783.7,235.4 1784.0,235.4 1784.4,235.4 1784.8,235.4 1785.1,235.4 1785.5,235.4 1785.9,235.4 1786.2,235.4 1786.6,235.4 1787.0,235.4 1787.3,235.4 1787.7,235.4 1788.0,235.4 1788.4,235.4 1788.8,235.4 1789.1,235.4 1789.5,235.4 1789.9,235.4 1790.2,235.4 1790.6,235.4 1791.0,235.4 1791.3,235.4 1791.7,235.4 1792.1,235.4 1792.4,235.4 1792.8,235.4 1793.2,235.4 1793.5,235.4 1793.9,235.4 1794.3,235.4 1794.6,235.4 1795.0,235.4 1795.4,235.4 1795.7,235.4 1796.1,235.4 1796.5,235.4 1796.8,235.4 1797.2,235.4 1797.6,235.4 1797.9,235.4 1798.3,235.4 1798.7,235.4 1799.0,235.4 1799.4,235.4 1799.8,235.4 1800.1,235.4 1800.5,235.4 1800.9,235.4 1801.2,235.4 1801.6,235.4 1802.0,235.4 1802.3,235.4 1802.7,235.4 1803.1,235.4 1803.4,235.4 1803.8,235.4 1804.2,235.4 1804.5,235.4 1804.9,235.4 1805.3,235.4 1805.6,235.4 1806.0,235.4 1806.4,235.4 1806.7,235.4 1807.1,235.4 1807.5,235.4 1807.8,235.4 1808.2,235.4 1808.6,235.4 1808.9,235.4 1809.3,235.4 1809.7,235.4 1810.0,235.4 1810.4,235.4 1810.8,235.4 1811.1,235.4 1811.5,235.4 1811.9,235.4 1812.2,235.4 1812.6,235.4 1813.0,235.4 1813.3,235.4 1813.7,235.4 1814.1,235.4 1814.4,235.4 1814.8,235.4 1815.2,235.4 1815.5,235.4 1815.9,235.4 1816.3,235.4 1816.6,235.4 1817.0,235.4 1817.4,235.4 1817.7,235.4 1818.1,235.4 1818.5,235.4 1818.8,235.4 1819.2,235.4 1819.6,235.4 1819.9,235.4 1820.3,235.4 1820.7,235.4 1821.0,235.4 1821.4,235.4 1821.8,235.4 1822.1,235.4 1822.5,235.4 1822.9,235.4 1823.2,235.4 1823.6,235.4 1823.9,235.4 1824.3,235.4 1824.7,235.4 1825.0,235.4 1825.4,235.4 1825.8,235.4 1826.1,235.4 1826.5,235.4 1826.9,235.4 1827.2,235.4 1827.6,235.4 1828.0,235.4 1828.3,235.4 1828.7,235.4 1829.1,235.4 1829.4,235.4 1829.8,235.4 1830.2,235.4 1830.5,235.4 1830.9,235.4 1831.3,235.4 1831.6,235.4 1832.0,235.4 1832.4,235.4 1832.7,235.4 1833.1,235.4 1833.5,235.4 1833.8,235.4 1834.2,235.4 1834.6,235.4 1834.9,235.4 1835.3,235.4 1835.7,235.4 1836.0,235.4 1836.4,235.4 1836.8,235.4 1837.1,235.4 1837.5,235.4 1837.9,235.4 1838.2,235.4 1838.6,235.4 1839.0,235.4 1839.3,235.4 1839.7,235.4 1840.1,235.4 1840.4,235.4 1840.8,235.4 1841.2,235.4 1841.5,235.4 1841.9,235.4 1842.3,235.4 1842.6,235.4 1843.0,235.4 1843.4,235.4 1843.7,235.4 1844.1,235.4 1844.5,235.4 1844.8,235.4 1845.2,235.4 1845.6,235.4 1845.9,235.4 1846.3,235.4 1846.7,235.4 1847.0,235.4 1847.4,235.4 1847.8,235.4 1848.1,235.4 1848.5,235.4 1848.9,235.4 1849.2,235.4 1849.6,235.4 1850.0,235.4 1850.3,235.4 1850.7,235.4 1851.1,235.4 1851.4,235.4 1851.8,235.4 1852.2,235.4 1852.5,235.4 1852.9,235.4 1853.3,235.4 1853.6,235.4 1854.0,235.4 1854.4,235.4 1854.7,235.4 1855.1,235.4 1855.5,235.4 1855.8,235.4 1856.2,235.4 1856.6,235.4 1856.9,235.4 1857.3,235.4 1857.7,235.4 1858.0,235.4 1858.4,235.4 1858.8,235.4 1859.1,235.4 1859.5,235.4 1859.8,235.4 1860.2,235.4 1860.6,235.4 1860.9,235.4 1861.3,235.4 1861.7,235.4 1862.0,235.4 1862.4,235.4 1862.8,235.4 1863.1,235.4 1863.5,235.4 1863.9,235.4 1864.2,235.4 1864.6,235.4 1865.0,235.4 1865.3,235.4 1865.7,235.4 1866.1,235.4 1866.4,235.4 1866.8,235.4 1867.2,235.4 1867.5,235.4 1867.9,235.4 1868.3,235.4 1868.6,235.4 1869.0,235.4 1869.4,235.4 1869.7,235.4 1870.1,235.4 1870.5,235.4 1870.8,235.4 1871.2,235.4 1871.6,235.4 1871.9,235.4 1872.3,235.4 1872.7,235.4 1873.0,235.4 1873.4,235.4 1873.8,235.4 1874.1,235.4 1874.5,235.4 1874.9,235.4 1875.2,235.4 1875.6,235.4 1876.0,235.4 1876.3,235.4 1876.7,235.4 1877.1,235.4 1877.4,235.4 1877.8,235.4" fill="none" stroke="#000" stroke-width="1.15" stroke-linejoin="round"/>
<rect x="1373.0" y="272.4" width="506.5" height="198.1" fill="none" stroke="#000" stroke-width="2.1"/>
<path d="M1419.0 470.5v-6.3M1465.1 470.5v-6.3M1511.1 470.5v-6.3M1557.2 470.5v-6.3M1603.2 470.5v-6.3M1649.3 470.5v-6.3M1695.3 470.5v-6.3M1741.4 470.5v-6.3M1787.4 470.5v-6.3M1833.5 470.5v-6.3M1373.0 458.8h6.5M1373.0 412.2h6.5M1373.0 365.6h6.5M1373.0 319.0h6.5M1373.0 435.5h6M1373.0 388.9h6M1373.0 342.3h6M1373.0 295.7h6" stroke="#000" stroke-width="1.8" fill="none"/>
<text x="1368.1" y="286.7" font-size="31.5" text-anchor="end">16</text>
<text x="1368.1" y="332.7" font-size="31.5" text-anchor="end">12</text>
<text x="1368.1" y="378.6" font-size="31.5" text-anchor="end">8</text>
<text x="1368.1" y="424.6" font-size="31.5" text-anchor="end">4</text>
<text x="1368.1" y="470.6" font-size="31.5" text-anchor="end">0</text>
<text x="1868.1" y="303.1" font-size="31" text-anchor="end">Ex302/Em350</text>
<path d="M1548.5 280.4V310.3" stroke="#000" stroke-width="1.5" fill="none"/>
<path d="M1542.8 304.7H1554.2L1548.5 320.3Z" fill="#000"/>
<clipPath id="c5"><rect x="1373.0" y="272.4" width="506.5" height="198.1"/></clipPath>
<polyline clip-path="url(#c5)" points="1373.0,458.8 1373.4,458.8 1373.7,458.8 1374.1,458.8 1374.5,458.8 1374.8,458.8 1375.2,458.8 1375.6,458.8 1375.9,458.8 1376.3,458.8 1376.7,458.8 1377.1,458.8 1377.4,458.8 1377.8,458.8 1378.2,458.8 1378.5,458.8 1378.9,458.8 1379.3,458.8 1379.6,458.8 1380.0,458.8 1380.4,458.8 1380.7,458.8 1381.1,458.8 1381.5,458.8 1381.8,458.8 1382.2,458.8 1382.6,458.8 1382.9,458.8 1383.3,458.8 1383.7,458.8 1384.1,458.8 1384.4,458.8 1384.8,458.8 1385.2,458.8 1385.5,458.8 1385.9,458.8 1386.3,458.8 1386.6,458.8 1387.0,458.8 1387.4,458.8 1387.7,458.8 1388.1,458.8 1388.2,458.8 1388.5,458.7 1388.8,458.0 1389.2,457.0 1389.3,456.5 1389.6,455.5 1389.9,452.9 1390.3,449.3 1390.5,447.2 1390.7,444.6 1391.0,437.3 1391.4,427.7 1391.8,416.7 1392.2,405.1 1392.5,393.8 1392.6,392.4 1392.9,382.3 1393.3,369.5 1393.6,356.2 1394.0,343.2 1394.4,331.4 1394.6,323.7 1394.7,321.3 1395.1,311.7 1395.5,302.7 1395.8,295.2 1396.2,290.3 1396.3,289.9 1396.6,287.4 1396.9,285.2 1397.3,284.1 1397.4,284.1 1397.7,285.1 1398.0,289.0 1398.4,293.9 1398.6,295.7 1398.8,299.0 1399.2,305.9 1399.5,313.9 1399.9,321.6 1400.3,328.1 1400.6,332.2 1400.9,333.0 1401.0,332.0 1401.4,322.1 1401.7,308.8 1401.8,307.4 1402.1,294.9 1402.5,279.1 1402.8,269.4 1402.9,268.9 1403.2,271.8 1403.6,282.2 1403.9,296.2 1404.1,301.5 1404.3,311.7 1404.7,332.1 1405.0,350.5 1405.0,353.0 1405.4,376.2 1405.8,400.2 1406.2,419.4 1406.4,426.2 1406.5,428.7 1406.9,434.6 1407.3,439.3 1407.6,443.1 1408.0,445.9 1408.4,447.8 1408.5,448.1 1408.7,449.0 1409.1,450.2 1409.5,451.1 1409.8,451.9 1410.2,452.6 1410.6,453.1 1410.9,453.5 1411.2,453.6 1411.3,453.6 1411.7,453.7 1412.0,453.9 1412.4,453.9 1412.8,454.0 1413.2,454.1 1413.5,454.2 1413.9,454.2 1414.3,454.3 1414.6,454.3 1415.0,454.3 1415.4,454.3 1415.7,454.2 1416.1,454.1 1416.5,454.0 1416.7,454.0 1416.8,454.0 1417.2,454.0 1417.6,454.1 1417.9,454.2 1418.3,454.3 1418.7,454.4 1419.0,454.6 1419.4,454.8 1419.8,455.0 1420.2,455.1 1420.5,455.3 1420.9,455.4 1421.3,455.6 1421.3,455.6 1421.6,455.7 1422.0,455.8 1422.4,455.9 1422.7,456.0 1423.1,456.1 1423.5,456.2 1423.8,456.3 1424.2,456.3 1424.6,456.4 1424.9,456.4 1425.0,456.4 1425.3,456.2 1425.7,455.6 1426.0,454.8 1426.0,454.2 1426.4,448.0 1426.6,441.4 1426.8,433.0 1427.1,388.8 1427.3,365.6 1427.5,344.1 1427.9,299.3 1428.3,260.7 1428.6,227.8 1429.0,194.6 1429.4,163.6 1429.7,137.5 1430.1,118.6 1430.5,109.7 1430.6,109.3 1430.8,112.1 1431.2,123.8 1431.6,142.5 1431.9,166.1 1432.3,192.3 1432.7,219.1 1433.0,244.2 1433.3,260.7 1433.4,265.8 1433.8,286.3 1434.1,306.7 1434.5,326.8 1434.7,336.5 1434.9,346.3 1435.3,366.6 1435.6,385.9 1436.0,402.0 1436.1,405.2 1436.4,414.5 1436.7,425.9 1437.1,435.0 1437.5,440.2 1437.5,440.2 1437.8,442.8 1438.2,445.0 1438.6,446.9 1438.9,448.4 1439.3,449.6 1439.7,450.6 1440.0,451.3 1440.2,451.6 1440.4,451.9 1440.8,452.4 1441.1,453.0 1441.5,453.4 1441.9,453.9 1442.3,454.3 1442.6,454.6 1443.0,454.9 1443.4,455.2 1443.7,455.4 1444.1,455.6 1444.5,455.7 1444.8,455.7 1445.2,455.6 1445.6,455.4 1445.9,455.1 1446.3,454.7 1446.7,454.3 1447.0,453.8 1447.4,453.3 1447.6,453.0 1447.8,452.8 1448.1,452.2 1448.5,451.5 1448.9,450.8 1449.3,449.9 1449.6,448.9 1449.9,448.1 1450.0,447.8 1450.4,446.6 1450.7,445.2 1451.1,443.5 1451.5,441.7 1451.8,439.6 1452.2,437.3 1452.6,434.7 1452.9,431.8 1453.1,430.3 1453.3,428.5 1453.7,424.0 1454.0,418.3 1454.4,411.8 1454.8,404.8 1455.1,397.4 1455.4,391.8 1455.5,389.9 1455.9,380.8 1456.3,370.9 1456.6,362.1 1456.8,358.6 1457.0,355.5 1457.4,349.6 1457.7,347.0 1458.1,350.2 1458.5,357.3 1458.6,361.0 1458.8,364.9 1459.2,375.0 1459.6,386.0 1459.9,396.1 1460.0,398.3 1460.3,404.4 1460.7,412.8 1461.0,420.8 1461.4,428.0 1461.8,434.1 1462.1,438.7 1462.3,440.2 1462.5,441.4 1462.9,443.7 1463.2,445.7 1463.6,447.5 1464.0,449.0 1464.4,450.1 1464.7,451.0 1465.1,451.6 1465.5,452.0 1465.8,452.4 1466.2,452.7 1466.6,453.1 1466.9,453.3 1467.3,453.6 1467.7,453.8 1468.0,454.0 1468.4,454.2 1468.8,454.4 1469.1,454.5 1469.5,454.7 1469.9,454.8 1470.2,454.9 1470.6,455.0 1471.0,455.1 1471.4,455.2 1471.7,455.3 1472.1,455.4 1472.5,455.5 1472.8,455.6 1473.2,455.7 1473.6,455.7 1473.9,455.8 1474.3,455.9 1474.7,456.0 1475.0,456.0 1475.4,456.1 1475.8,456.2 1476.1,456.2 1476.5,456.3 1476.9,456.3 1477.2,456.3 1477.6,456.4 1478.0,456.4 1478.4,456.4 1478.7,456.4 1478.9,456.4 1479.1,456.4 1479.5,456.4 1479.8,456.3 1480.2,456.3 1480.6,456.2 1480.9,456.2 1481.3,456.1 1481.7,456.0 1482.0,455.9 1482.4,455.8 1482.8,455.7 1483.1,455.6 1483.5,455.5 1483.9,455.3 1484.2,455.2 1484.6,455.1 1485.0,455.0 1485.4,454.9 1485.7,454.8 1485.8,454.8 1486.1,454.7 1486.5,454.6 1486.8,454.5 1487.2,454.3 1487.6,454.2 1487.9,454.1 1488.3,453.9 1488.7,453.8 1489.0,453.7 1489.4,453.6 1489.8,453.5 1490.1,453.4 1490.5,453.3 1490.9,453.3 1491.2,453.3 1491.3,453.3 1491.6,453.3 1492.0,453.3 1492.3,453.3 1492.7,453.3 1493.1,453.4 1493.5,453.4 1493.8,453.5 1494.2,453.6 1494.6,453.7 1494.9,453.7 1495.3,453.8 1495.7,453.9 1495.9,454.0 1496.0,454.0 1496.4,454.1 1496.8,454.2 1497.1,454.4 1497.5,454.6 1497.9,454.8 1498.2,455.0 1498.6,455.1 1499.0,455.3 1499.3,455.3 1499.6,455.4 1499.7,455.4 1500.1,455.3 1500.5,455.3 1500.8,455.3 1501.2,455.3 1501.6,455.3 1501.9,455.2 1502.3,455.2 1502.7,455.1 1503.0,455.1 1503.4,455.0 1503.8,455.0 1504.1,454.9 1504.5,454.8 1504.9,454.7 1505.2,454.7 1505.6,454.6 1506.0,454.5 1506.3,454.4 1506.7,454.3 1507.1,454.3 1507.5,454.2 1507.8,454.1 1508.2,454.0 1508.6,453.9 1508.9,453.8 1509.3,453.7 1509.7,453.6 1510.0,453.5 1510.4,453.4 1510.7,453.4 1510.8,453.3 1511.1,453.3 1511.5,453.2 1511.9,453.0 1512.2,452.9 1512.6,452.8 1513.0,452.7 1513.3,452.6 1513.7,452.4 1514.1,452.3 1514.5,452.1 1514.8,452.0 1515.2,451.8 1515.6,451.7 1515.9,451.5 1516.3,451.4 1516.7,451.2 1517.0,451.1 1517.4,450.9 1517.8,450.8 1518.1,450.6 1518.5,450.5 1518.9,450.4 1519.2,450.2 1519.6,450.1 1520.0,449.9 1520.3,449.8 1520.7,449.7 1521.1,449.6 1521.3,449.5 1521.5,449.5 1521.8,449.4 1522.2,449.3 1522.6,449.2 1522.9,449.0 1523.3,448.9 1523.7,448.9 1524.0,448.8 1524.4,448.7 1524.8,448.6 1525.1,448.5 1525.5,448.4 1525.9,448.3 1526.2,448.2 1526.6,448.1 1527.0,448.0 1527.3,447.9 1527.7,447.9 1528.1,447.8 1528.4,447.7 1528.8,447.6 1529.2,447.5 1529.6,447.4 1529.9,447.3 1530.3,447.2 1530.7,447.2 1531.0,447.1 1531.4,447.0 1531.8,446.9 1532.1,446.8 1532.5,446.7 1532.9,446.6 1533.2,446.5 1533.6,446.4 1534.0,446.3 1534.3,446.2 1534.7,446.1 1535.1,446.0 1535.4,445.9 1535.8,445.8 1536.2,445.8 1536.6,445.7 1536.9,445.6 1537.3,445.5 1537.7,445.4 1538.0,445.3 1538.4,445.3 1538.8,445.2 1539.1,445.1 1539.5,444.9 1539.9,444.8 1540.2,444.7 1540.6,444.5 1541.0,444.3 1541.3,444.2 1541.5,444.0 1541.7,443.9 1542.1,443.5 1542.4,443.0 1542.8,442.3 1543.2,441.6 1543.6,440.7 1543.9,439.7 1544.3,438.6 1544.7,437.5 1544.7,437.2 1545.0,436.2 1545.4,434.7 1545.8,432.9 1546.1,430.8 1546.5,428.3 1546.9,425.5 1547.1,423.9 1547.2,422.0 1547.6,416.8 1548.0,410.3 1548.3,402.9 1548.7,395.1 1548.9,391.3 1549.1,387.0 1549.4,376.9 1549.8,367.5 1550.0,363.3 1550.2,361.4 1550.6,356.8 1550.8,355.5 1550.9,355.6 1551.3,358.5 1551.7,363.3 1552.0,370.5 1552.4,380.7 1552.8,391.4 1553.0,398.3 1553.1,400.2 1553.5,408.3 1553.9,415.7 1554.2,421.7 1554.4,423.9 1554.6,425.6 1555.0,428.7 1555.3,431.1 1555.7,432.9 1555.8,433.2 1556.1,434.1 1556.4,435.2 1556.8,436.0 1557.2,436.5 1557.6,436.7 1557.9,436.9 1558.3,437.1 1558.7,437.2 1559.0,437.3 1559.4,437.4 1559.8,437.4 1559.9,437.4 1560.1,437.4 1560.5,437.4 1560.9,437.4 1561.2,437.3 1561.6,437.3 1562.0,437.2 1562.3,437.2 1562.7,437.1 1563.1,437.0 1563.4,436.9 1563.8,436.8 1564.2,436.7 1564.5,436.6 1564.9,436.5 1565.3,436.4 1565.7,436.3 1566.0,436.2 1566.4,436.1 1566.8,435.9 1567.1,435.8 1567.5,435.7 1567.9,435.6 1568.2,435.5 1568.6,435.4 1569.0,435.3 1569.3,435.1 1569.6,435.1 1569.7,435.1 1570.1,435.0 1570.4,434.9 1570.8,434.8 1571.2,434.7 1571.5,434.6 1571.9,434.5 1572.3,434.4 1572.7,434.3 1573.0,434.2 1573.4,434.1 1573.8,434.0 1574.1,433.9 1574.5,433.8 1574.9,433.7 1575.2,433.6 1575.6,433.4 1576.0,433.3 1576.3,433.2 1576.7,433.1 1577.1,433.0 1577.4,432.9 1577.8,432.8 1578.2,432.7 1578.5,432.6 1578.9,432.5 1579.3,432.4 1579.7,432.3 1580.0,432.2 1580.4,432.1 1580.8,432.0 1581.1,431.8 1581.5,431.7 1581.9,431.6 1582.2,431.5 1582.6,431.4 1583.0,431.3 1583.3,431.2 1583.7,431.1 1584.1,430.9 1584.4,430.8 1584.8,430.7 1585.2,430.6 1585.5,430.5 1585.9,430.4 1586.3,430.2 1586.7,430.1 1587.0,430.0 1587.4,429.9 1587.8,429.8 1588.1,429.6 1588.5,429.5 1588.9,429.4 1589.2,429.3 1589.6,429.1 1590.0,429.0 1590.3,428.9 1590.7,428.8 1591.1,428.6 1591.4,428.5 1591.8,428.4 1592.2,428.2 1592.5,428.1 1592.9,428.0 1593.3,427.8 1593.6,427.7 1594.0,427.5 1594.4,427.4 1594.8,427.2 1595.1,427.1 1595.5,426.9 1595.9,426.8 1596.2,426.6 1596.6,426.5 1597.0,426.3 1597.3,426.2 1597.7,426.0 1598.1,425.8 1598.4,425.7 1598.8,425.5 1599.2,425.4 1599.5,425.2 1599.9,425.1 1600.3,424.9 1600.6,424.7 1601.0,424.6 1601.4,424.4 1601.8,424.3 1602.1,424.1 1602.5,423.9 1602.9,423.8 1603.2,423.6 1603.6,423.5 1604.0,423.3 1604.3,423.2 1604.7,423.0 1605.1,422.9 1605.4,422.7 1605.8,422.6 1606.2,422.4 1606.5,422.3 1606.9,422.2 1607.3,422.0 1607.6,421.9 1608.0,421.7 1608.4,421.6 1608.8,421.5 1609.1,421.4 1609.5,421.2 1609.9,421.1 1610.2,421.0 1610.6,420.9 1611.0,420.8 1611.1,420.7 1611.3,420.7 1611.7,420.6 1612.1,420.5 1612.4,420.3 1612.8,420.3 1613.2,420.2 1613.5,420.1 1613.9,420.0 1614.3,419.9 1614.6,419.8 1615.0,419.7 1615.4,419.6 1615.8,419.5 1616.1,419.4 1616.5,419.4 1616.9,419.3 1617.2,419.2 1617.6,419.1 1618.0,419.0 1618.3,418.9 1618.7,418.9 1619.1,418.8 1619.4,418.7 1619.8,418.6 1620.2,418.5 1620.5,418.5 1620.9,418.4 1621.3,418.3 1621.6,418.2 1622.0,418.1 1622.4,418.0 1622.8,417.9 1623.1,417.8 1623.5,417.7 1623.9,417.6 1624.2,417.6 1624.6,417.5 1625.0,417.4 1625.3,417.2 1625.7,417.1 1626.1,417.0 1626.4,416.9 1626.8,416.8 1627.2,416.7 1627.5,416.6 1627.9,416.5 1628.3,416.3 1628.6,416.2 1629.0,416.1 1629.4,416.0 1629.7,415.9 1630.1,415.7 1630.5,415.6 1630.9,415.5 1631.2,415.3 1631.6,415.2 1632.0,415.1 1632.3,415.0 1632.7,414.8 1633.1,414.7 1633.4,414.6 1633.8,414.4 1634.2,414.3 1634.5,414.2 1634.9,414.0 1635.3,413.9 1635.6,413.8 1636.0,413.6 1636.4,413.5 1636.7,413.3 1637.1,413.2 1637.5,413.1 1637.9,412.9 1638.2,412.8 1638.6,412.7 1639.0,412.5 1639.1,412.5 1639.3,412.4 1639.7,412.3 1640.1,412.1 1640.4,412.0 1640.8,411.9 1641.2,411.7 1641.5,411.6 1641.9,411.5 1642.3,411.4 1642.6,411.2 1643.0,411.1 1643.4,411.0 1643.7,410.9 1644.1,410.7 1644.5,410.6 1644.9,410.5 1645.2,410.3 1645.6,410.2 1646.0,410.0 1646.3,409.9 1646.7,409.7 1647.1,409.6 1647.4,409.4 1647.8,409.3 1648.2,409.1 1648.5,409.0 1648.9,408.8 1649.3,408.6 1649.6,408.4 1649.7,408.4 1650.0,408.3 1650.4,408.1 1650.7,407.9 1651.1,407.7 1651.5,407.5 1651.9,407.2 1652.2,407.0 1652.6,406.8 1653.0,406.6 1653.3,406.3 1653.7,406.1 1654.1,405.9 1654.4,405.6 1654.8,405.4 1655.2,405.1 1655.5,404.8 1655.9,404.6 1656.3,404.3 1656.6,404.0 1657.0,403.7 1657.4,403.5 1657.7,403.2 1658.1,402.9 1658.5,402.6 1658.9,402.3 1659.2,402.0 1659.6,401.7 1660.0,401.4 1660.3,401.0 1660.7,400.7 1661.1,400.4 1661.4,400.1 1661.8,399.7 1662.2,399.4 1662.5,399.1 1662.9,398.7 1663.3,398.3 1663.6,397.9 1664.0,397.5 1664.4,397.0 1664.7,396.6 1665.1,396.1 1665.5,395.7 1665.8,395.2 1666.2,394.7 1666.6,394.2 1667.0,393.8 1667.3,393.3 1667.7,392.8 1668.1,392.4 1668.4,391.9 1668.8,391.5 1669.2,391.1 1669.5,390.7 1669.9,390.4 1670.3,390.0 1670.5,389.9 1670.6,389.7 1671.0,389.4 1671.4,389.1 1671.7,388.8 1672.1,388.5 1672.5,388.2 1672.8,387.9 1673.2,387.6 1673.6,387.3 1674.0,387.0 1674.3,386.7 1674.7,386.5 1675.1,386.2 1675.4,386.0 1675.8,385.7 1676.2,385.5 1676.5,385.3 1676.9,385.1 1677.3,384.9 1677.6,384.7 1678.0,384.6 1678.4,384.4 1678.7,384.3 1678.7,384.3 1679.1,384.1 1679.5,384.0 1679.8,383.9 1680.2,383.8 1680.6,383.7 1681.0,383.6 1681.3,383.5 1681.7,383.5 1682.1,383.4 1682.4,383.3 1682.8,383.2 1683.2,383.2 1683.5,383.1 1683.9,383.0 1684.3,382.9 1684.6,382.9 1685.0,382.8 1685.4,382.7 1685.7,382.6 1686.1,382.5 1686.5,382.4 1686.8,382.3 1687.0,382.3 1687.2,382.2 1687.6,382.1 1688.0,382.0 1688.3,381.8 1688.7,381.7 1689.1,381.5 1689.4,381.3 1689.8,381.1 1690.2,380.9 1690.5,380.8 1690.9,380.6 1691.3,380.4 1691.6,380.2 1692.0,380.1 1692.4,379.9 1692.7,379.8 1693.1,379.7 1693.5,379.6 1693.8,379.6 1694.2,379.5 1694.6,379.5 1694.6,379.5 1694.9,379.5 1695.3,379.7 1695.7,380.0 1696.1,380.3 1696.4,380.7 1696.8,381.1 1697.2,381.6 1697.5,382.2 1697.9,383.0 1698.3,383.9 1698.6,385.0 1699.0,386.1 1699.4,387.4 1699.7,388.6 1699.9,389.2 1700.1,389.8 1700.5,391.1 1700.8,392.5 1701.2,393.9 1701.6,395.4 1701.9,397.0 1702.3,398.6 1702.7,400.1 1703.1,401.7 1703.4,403.1 1703.8,404.6 1704.1,405.6 1704.2,405.9 1704.5,407.2 1704.9,408.5 1705.3,409.8 1705.6,411.1 1706.0,412.4 1706.4,413.6 1706.7,414.8 1707.1,416.0 1707.5,417.2 1707.8,418.3 1708.2,419.4 1708.6,420.5 1708.9,421.5 1709.1,422.0 1709.3,422.5 1709.7,423.5 1710.1,424.4 1710.4,425.3 1710.8,426.2 1711.2,427.1 1711.5,427.9 1711.9,428.7 1712.3,429.5 1712.6,430.3 1713.0,431.1 1713.4,431.9 1713.7,432.6 1714.1,433.3 1714.5,434.0 1714.7,434.4 1714.8,434.7 1715.2,435.4 1715.6,436.1 1715.9,436.8 1716.3,437.5 1716.7,438.1 1717.1,438.8 1717.4,439.4 1717.8,440.0 1718.2,440.7 1718.5,441.3 1718.9,441.9 1719.3,442.4 1719.6,443.0 1720.0,443.5 1720.4,444.0 1720.7,444.5 1721.1,444.9 1721.5,445.3 1721.6,445.4 1721.8,445.7 1722.2,446.1 1722.6,446.5 1722.9,446.9 1723.3,447.3 1723.7,447.7 1724.1,448.0 1724.4,448.4 1724.8,448.7 1725.2,449.1 1725.5,449.4 1725.9,449.7 1726.3,450.0 1726.6,450.3 1727.0,450.6 1727.4,450.8 1727.7,451.1 1728.1,451.3 1728.5,451.5 1728.8,451.7 1729.2,451.9 1729.6,452.1 1729.9,452.2 1729.9,452.2 1730.3,452.4 1730.7,452.5 1731.0,452.7 1731.4,452.8 1731.8,452.9 1732.2,453.0 1732.5,453.2 1732.9,453.3 1733.3,453.4 1733.6,453.5 1734.0,453.6 1734.4,453.7 1734.7,453.8 1735.1,453.9 1735.5,454.0 1735.8,454.1 1736.2,454.2 1736.6,454.3 1736.9,454.3 1737.3,454.4 1737.7,454.5 1738.0,454.6 1738.4,454.6 1738.8,454.7 1739.2,454.8 1739.5,454.9 1739.9,454.9 1740.3,455.0 1740.6,455.0 1741.0,455.1 1741.4,455.2 1741.7,455.2 1741.8,455.2 1742.1,455.3 1742.5,455.3 1742.8,455.4 1743.2,455.4 1743.6,455.5 1743.9,455.6 1744.3,455.6 1744.7,455.7 1745.0,455.7 1745.4,455.8 1745.8,455.8 1746.2,455.9 1746.5,455.9 1746.9,456.0 1747.3,456.0 1747.6,456.1 1748.0,456.1 1748.4,456.2 1748.7,456.2 1749.1,456.3 1749.5,456.3 1749.8,456.3 1750.2,456.4 1750.6,456.4 1750.9,456.5 1751.3,456.5 1751.7,456.6 1752.0,456.6 1752.4,456.6 1752.8,456.7 1753.2,456.7 1753.5,456.7 1753.9,456.8 1754.3,456.8 1754.6,456.9 1755.0,456.9 1755.4,456.9 1755.7,457.0 1756.1,457.0 1756.5,457.0 1756.8,457.1 1757.2,457.1 1757.6,457.1 1757.9,457.1 1758.3,457.2 1758.7,457.2 1759.0,457.2 1759.4,457.3 1759.8,457.3 1760.2,457.3 1760.5,457.3 1760.9,457.4 1761.3,457.4 1761.6,457.4 1762.0,457.4 1762.4,457.4 1762.5,457.4 1762.7,457.5 1763.1,457.5 1763.5,457.5 1763.8,457.5 1764.2,457.5 1764.6,457.6 1764.9,457.6 1765.3,457.6 1765.7,457.6 1766.0,457.6 1766.4,457.6 1766.8,457.7 1767.1,457.7 1767.5,457.7 1767.9,457.7 1768.3,457.7 1768.6,457.7 1769.0,457.8 1769.4,457.8 1769.7,457.8 1770.1,457.8 1770.5,457.8 1770.8,457.8 1771.2,457.8 1771.6,457.9 1771.9,457.9 1772.3,457.9 1772.7,457.9 1773.0,457.9 1773.4,457.9 1773.8,457.9 1774.1,457.9 1774.5,458.0 1774.9,458.0 1775.3,458.0 1775.6,458.0 1776.0,458.0 1776.4,458.0 1776.7,458.0 1777.1,458.0 1777.5,458.1 1777.8,458.1 1778.2,458.1 1778.6,458.1 1778.9,458.1 1779.3,458.1 1779.7,458.1 1780.0,458.1 1780.4,458.1 1780.8,458.1 1781.1,458.2 1781.5,458.2 1781.9,458.2 1782.3,458.2 1782.6,458.2 1783.0,458.2 1783.4,458.2 1783.7,458.2 1784.1,458.2 1784.5,458.2 1784.8,458.3 1785.2,458.3 1785.6,458.3 1785.9,458.3 1786.3,458.3 1786.7,458.3 1787.0,458.3 1787.4,458.3 1787.8,458.3 1788.1,458.3 1788.5,458.3 1788.9,458.4 1789.3,458.4 1789.6,458.4 1790.0,458.4 1790.2,458.4 1790.4,458.4 1790.7,458.4 1791.1,458.4 1791.5,458.4 1791.8,458.4 1792.2,458.4 1792.6,458.4 1792.9,458.4 1793.3,458.5 1793.7,458.5 1794.0,458.5 1794.4,458.5 1794.8,458.5 1795.1,458.5 1795.5,458.5 1795.9,458.5 1796.2,458.5 1796.6,458.5 1797.0,458.5 1797.4,458.5 1797.7,458.6 1798.1,458.6 1798.5,458.6 1798.8,458.6 1799.2,458.6 1799.6,458.6 1799.9,458.6 1800.3,458.6 1800.7,458.6 1801.0,458.6 1801.4,458.6 1801.8,458.7 1802.1,458.7 1802.5,458.7 1802.9,458.7 1803.2,458.7 1803.6,458.7 1804.0,458.7 1804.4,458.7 1804.7,458.7 1805.1,458.7 1805.5,458.7 1805.8,458.7 1806.2,458.8 1806.6,458.8 1806.9,458.8 1807.3,458.8 1807.7,458.8 1808.0,458.8 1808.4,458.8 1808.8,458.8 1809.1,458.8 1809.5,458.8 1809.9,458.8 1810.2,458.8 1810.6,458.8 1811.0,458.9 1811.4,458.9 1811.7,458.9 1812.1,458.9 1812.5,458.9 1812.8,458.9 1813.2,458.9 1813.6,458.9 1813.9,458.9 1814.3,458.9 1814.7,458.9 1815.0,458.9 1815.4,458.9 1815.8,458.9 1816.1,458.9 1816.5,458.9 1816.9,459.0 1817.2,459.0 1817.6,459.0 1818.0,459.0 1818.4,459.0 1818.7,459.0 1819.1,459.0 1819.5,459.0 1819.8,459.0 1820.2,459.0 1820.6,459.0 1820.9,459.0 1821.3,459.0 1821.7,459.0 1822.0,459.0 1822.4,459.0 1822.8,459.0 1823.1,459.0 1823.5,459.0 1823.9,459.0 1824.2,459.0 1824.6,459.0 1825.0,459.1 1825.4,459.1 1825.7,459.1 1826.1,459.1 1826.5,459.1 1826.8,459.1 1827.2,459.1 1827.6,459.1 1827.9,459.1 1828.3,459.1 1828.7,459.1 1829.0,459.1 1829.4,459.1 1829.8,459.1 1830.1,459.1 1830.5,459.1 1830.9,459.1 1831.2,459.1 1831.6,459.1 1832.0,459.1 1832.3,459.1 1832.7,459.1 1833.1,459.1 1833.5,459.1 1833.8,459.1 1834.2,459.1 1834.6,459.1 1834.9,459.1 1835.3,459.1 1835.7,459.1 1836.0,459.1 1836.4,459.1 1836.8,459.1 1837.1,459.1 1837.5,459.1 1837.9,459.1 1838.2,459.1 1838.6,459.1 1839.0,459.1 1839.3,459.1 1839.7,459.1 1840.1,459.1 1840.5,459.1 1840.8,459.1 1841.2,459.1 1841.6,459.1 1841.9,459.1 1842.3,459.1 1842.7,459.1 1843.0,459.1 1843.4,459.1 1843.8,459.1 1844.1,459.1 1844.5,459.1 1844.9,459.1 1845.2,459.1 1845.6,459.1 1846.0,459.1 1846.3,459.1 1846.7,459.1 1847.1,459.1 1847.5,459.1 1847.8,459.1 1848.2,459.1 1848.6,459.1 1848.9,459.1 1849.3,459.1 1849.7,459.1 1850.0,459.1 1850.4,459.1 1850.8,459.1 1851.1,459.1 1851.5,459.1 1851.9,459.1 1852.2,459.1 1852.6,459.1 1853.0,459.1 1853.3,459.1 1853.7,459.1 1854.1,459.1 1854.5,459.1 1854.8,459.1 1855.2,459.1 1855.6,459.1 1855.9,459.1 1856.3,459.1 1856.7,459.1 1857.0,459.1 1857.4,459.1 1857.8,459.1 1858.1,459.1 1858.5,459.1 1858.9,459.1 1859.2,459.1 1859.6,459.1 1860.0,459.1 1860.3,459.1 1860.7,459.1 1861.1,459.1 1861.5,459.1 1861.8,459.1 1862.2,459.1 1862.6,459.1 1862.9,459.1 1863.3,459.1 1863.7,459.1 1864.0,459.1 1864.4,459.1 1864.8,459.1 1865.1,459.1 1865.5,459.1 1865.7,459.1 1865.9,459.1 1866.2,459.1 1866.6,459.0 1867.0,459.0 1867.3,458.9 1867.7,458.8 1868.1,458.7 1868.4,458.6 1868.8,458.5 1869.2,458.4 1869.6,458.3 1869.9,458.3 1870.3,458.2 1870.7,458.2 1871.0,458.2 1871.2,458.1 1871.4,458.1 1871.8,458.1 1872.1,458.2 1872.5,458.2 1872.9,458.2 1873.2,458.2 1873.6,458.2 1874.0,458.2 1874.3,458.2 1874.7,458.2 1875.1,458.2 1875.4,458.3 1875.8,458.3 1876.2,458.3 1876.6,458.4 1876.9,458.4 1877.3,458.4 1877.7,458.5 1878.0,458.6 1878.4,458.6 1878.8,458.7 1879.1,458.8 1879.5,458.8" fill="none" stroke="#000" stroke-width="1.15" stroke-linejoin="round"/>
<rect x="1374.8" y="493.8" width="502.2" height="198.7" fill="none" stroke="#000" stroke-width="2.1"/>
<path d="M1420.5 692.5v-6.3M1466.1 692.5v-6.3M1511.8 692.5v-6.3M1557.4 692.5v-6.3M1603.1 692.5v-6.3M1648.7 692.5v-6.3M1694.4 692.5v-6.3M1740.0 692.5v-6.3M1785.7 692.5v-6.3M1831.3 692.5v-6.3M1374.8 680.8h6.5M1374.8 634.1h6.5M1374.8 587.3h6.5M1374.8 540.6h6.5M1374.8 657.4h6M1374.8 610.7h6M1374.8 563.9h6M1374.8 517.2h6" stroke="#000" stroke-width="1.8" fill="none"/>
<text x="1370.6" y="507.1" font-size="31.5" text-anchor="end">1.6</text>
<text x="1370.6" y="553.4" font-size="31.5" text-anchor="end">1.2</text>
<text x="1370.6" y="599.6" font-size="31.5" text-anchor="end">0.8</text>
<text x="1370.6" y="645.9" font-size="31.5" text-anchor="end">0.4</text>
<text x="1370.6" y="692.2" font-size="31.5" text-anchor="end">0</text>
<text x="1854.6" y="526.5" font-size="31" text-anchor="end">m/z 367.15 [M+H]</text>
<text x="1854.0" y="517.8" font-size="21.5">+</text>
<path d="M1550.5 501.8V531.6" stroke="#000" stroke-width="1.5" fill="none"/>
<path d="M1544.8 526.0H1556.2L1550.5 541.6Z" fill="#000"/>
<clipPath id="c6"><rect x="1374.8" y="493.8" width="502.2" height="198.7"/></clipPath>
<polyline clip-path="url(#c6)" points="1374.8,668.9 1375.6,670.4 1376.3,670.0 1377.1,669.8 1377.8,670.6 1378.6,670.1 1379.4,670.1 1380.1,671.3 1380.9,669.3 1381.7,669.6 1382.4,670.5 1383.2,670.2 1383.9,669.7 1384.7,670.2 1385.5,670.2 1386.2,671.1 1387.0,669.7 1387.8,670.0 1388.5,669.9 1389.3,671.1 1390.0,668.9 1390.8,670.0 1391.6,670.3 1392.3,668.6 1392.6,670.1 1393.1,670.1 1393.7,667.0 1393.9,662.8 1394.6,549.1 1394.7,547.8 1395.1,535.1 1395.4,517.0 1395.7,502.4 1396.1,530.9 1396.3,541.5 1396.9,608.7 1397.4,638.7 1397.7,638.2 1398.1,638.7 1398.4,640.7 1399.2,643.1 1400.0,646.9 1400.7,649.8 1400.8,650.8 1401.5,653.6 1402.2,656.2 1403.0,657.9 1403.6,659.2 1403.8,660.9 1404.5,664.7 1404.5,664.1 1405.3,678.7 1405.4,679.3 1406.1,676.0 1406.8,671.6 1406.8,671.6 1407.6,669.0 1408.1,664.9 1408.3,666.0 1409.1,666.7 1409.7,670.2 1409.9,672.3 1410.6,667.7 1411.1,664.4 1411.4,667.6 1412.2,670.4 1412.9,672.7 1413.1,672.7 1413.7,671.3 1414.4,671.3 1415.2,665.7 1416.0,666.4 1416.7,664.6 1417.3,662.4 1417.5,662.4 1418.3,665.7 1419.0,666.3 1419.8,666.9 1420.5,668.7 1420.5,670.9 1421.3,667.3 1422.1,666.5 1422.8,666.5 1423.6,667.8 1424.4,666.2 1425.1,666.5 1425.5,666.0 1425.9,663.8 1426.6,663.7 1427.4,665.2 1428.2,665.8 1428.9,666.1 1429.7,667.5 1430.5,668.0 1430.5,668.9 1431.2,668.5 1432.0,665.8 1432.7,668.2 1433.5,670.2 1433.7,670.4 1434.3,669.5 1435.0,664.0 1435.7,662.4 1435.8,665.2 1436.6,668.5 1437.3,676.8 1437.6,674.7 1438.1,676.1 1438.8,672.1 1439.6,673.2 1440.1,672.3 1440.4,671.3 1441.1,669.8 1441.9,670.0 1442.7,672.2 1443.4,670.1 1444.2,670.0 1444.9,670.2 1445.6,670.3 1445.7,668.6 1446.5,670.2 1447.2,670.6 1448.0,669.8 1448.8,670.4 1449.5,670.7 1450.3,670.4 1451.0,670.7 1451.8,670.9 1452.4,670.6 1452.6,671.0 1453.3,671.7 1454.1,671.5 1454.9,671.5 1455.6,671.0 1456.4,671.8 1457.1,672.3 1457.9,670.9 1458.7,671.9 1459.4,672.2 1460.2,670.5 1461.0,671.2 1461.7,670.3 1462.5,671.0 1463.2,671.4 1464.0,671.4 1464.8,670.9 1465.5,670.7 1466.1,671.1 1466.3,670.8 1467.1,672.6 1467.8,672.8 1468.4,674.5 1468.6,673.4 1469.3,672.7 1470.1,672.4 1470.9,672.0 1471.1,674.3 1471.6,672.4 1472.4,671.1 1473.2,670.0 1473.9,670.4 1474.3,669.3 1474.7,668.3 1475.4,670.6 1476.2,669.3 1477.0,668.8 1477.7,670.1 1478.5,669.2 1479.3,670.4 1480.0,670.2 1480.8,670.2 1481.5,669.5 1482.3,669.7 1483.1,669.0 1483.8,670.4 1484.6,669.8 1485.4,669.1 1486.1,669.4 1486.9,670.8 1486.9,669.4 1487.6,670.4 1488.4,670.5 1489.2,671.4 1489.9,671.7 1490.7,673.3 1491.2,675.1 1491.5,674.9 1492.2,673.9 1493.0,675.0 1493.7,674.5 1494.5,675.5 1495.3,676.6 1496.0,675.6 1496.8,677.1 1497.6,678.1 1498.1,675.3 1498.3,678.1 1499.1,676.3 1499.8,676.1 1500.6,676.6 1501.4,677.9 1502.1,676.0 1502.9,677.7 1503.7,677.7 1504.4,677.0 1505.2,676.2 1505.9,676.5 1506.7,676.2 1507.5,677.0 1508.2,676.8 1509.0,677.5 1509.8,676.9 1510.5,676.3 1511.3,676.9 1512.0,676.4 1512.8,677.1 1513.6,677.1 1514.3,676.7 1515.1,676.9 1515.8,676.3 1516.6,676.6 1517.2,675.5 1517.4,676.9 1518.1,676.7 1518.9,676.9 1519.7,675.7 1520.4,674.7 1521.2,675.2 1521.9,674.2 1522.7,673.3 1522.7,673.9 1523.5,673.9 1524.2,672.5 1525.0,672.9 1525.8,672.4 1526.5,671.6 1527.3,671.3 1528.0,672.1 1528.8,672.0 1529.6,671.2 1530.3,671.4 1531.1,672.4 1531.9,670.1 1532.6,670.9 1533.4,670.4 1533.7,671.7 1534.1,670.0 1534.9,671.6 1535.7,671.6 1536.4,673.1 1537.2,672.8 1538.0,673.4 1538.7,673.8 1539.5,673.7 1540.2,674.2 1540.5,673.6 1541.0,674.5 1541.8,674.2 1542.5,672.5 1543.3,670.8 1544.1,668.8 1544.6,667.9 1544.8,669.2 1545.6,665.7 1546.3,662.2 1547.1,659.1 1547.4,657.8 1547.9,651.8 1548.6,637.0 1549.0,628.0 1549.4,610.5 1549.9,586.8 1550.2,576.0 1550.7,563.2 1550.9,567.7 1551.5,592.8 1551.7,602.5 1552.4,640.5 1552.6,646.6 1553.2,657.6 1554.0,668.2 1554.2,670.6 1554.7,671.2 1555.5,670.7 1555.6,670.0 1556.3,670.5 1557.0,669.9 1557.8,670.7 1558.5,670.4 1559.3,668.4 1560.1,668.2 1560.8,668.2 1561.6,667.0 1562.4,668.4 1562.4,668.0 1563.1,666.9 1563.9,666.3 1564.6,667.5 1565.4,666.3 1566.2,667.8 1566.9,667.1 1567.7,667.4 1568.5,668.4 1569.2,667.0 1570.0,666.5 1570.7,667.2 1571.5,667.2 1572.3,666.1 1573.0,667.9 1573.8,668.1 1574.6,667.5 1575.3,667.9 1576.1,666.1 1576.6,666.8 1576.8,667.6 1577.6,667.5 1578.4,665.0 1579.1,667.5 1579.9,667.6 1580.7,666.8 1581.4,666.6 1582.2,666.9 1582.9,667.7 1583.7,667.9 1584.5,666.7 1585.2,667.2 1586.0,668.3 1586.8,666.4 1587.5,666.7 1588.3,667.4 1589.0,667.4 1589.8,667.1 1590.6,667.8 1591.3,668.3 1592.1,667.1 1592.9,668.4 1593.6,667.1 1594.4,668.5 1595.1,667.5 1595.9,667.6 1596.7,666.3 1597.4,668.3 1598.2,668.6 1599.0,668.1 1599.7,668.5 1600.5,668.1 1601.2,667.4 1602.0,667.2 1602.8,666.6 1603.5,668.4 1604.3,666.0 1605.1,666.5 1605.8,668.1 1606.6,669.6 1607.3,668.1 1608.1,668.0 1608.9,669.7 1609.6,668.0 1610.4,668.3 1611.2,668.7 1611.9,667.7 1612.7,667.5 1613.4,668.6 1614.2,668.1 1615.0,668.7 1615.7,668.8 1616.5,668.3 1617.3,668.0 1618.0,668.7 1618.8,669.9 1619.5,668.0 1620.3,669.5 1621.1,668.3 1621.8,667.2 1622.6,668.4 1623.4,669.3 1624.1,669.4 1624.9,667.6 1625.0,668.4 1625.6,668.0 1626.4,667.7 1627.2,668.4 1627.9,668.5 1628.7,668.9 1629.5,670.3 1630.2,669.1 1631.0,668.0 1631.7,668.0 1632.5,667.5 1633.3,667.8 1634.0,667.5 1634.8,666.9 1635.6,668.0 1636.3,667.5 1637.1,668.3 1637.8,666.4 1638.6,667.0 1639.4,666.6 1640.1,665.8 1640.9,666.1 1641.7,666.8 1642.4,666.2 1642.8,667.8 1643.2,666.5 1643.9,666.7 1644.7,668.0 1645.5,666.0 1646.2,667.5 1647.0,666.6 1647.8,667.4 1648.5,666.5 1649.3,666.4 1650.0,668.0 1650.8,668.6 1651.6,667.7 1652.3,667.2 1653.1,668.1 1653.8,668.4 1654.6,667.7 1655.4,670.1 1656.1,668.7 1656.9,669.3 1657.7,668.2 1658.4,668.9 1659.2,669.2 1659.7,668.7 1659.9,669.5 1660.7,668.4 1661.5,668.9 1662.2,668.6 1663.0,668.8 1663.8,667.6 1664.5,668.3 1665.3,667.7 1666.0,667.7 1666.5,668.5 1666.8,667.5 1667.6,667.3 1668.3,666.7 1669.1,666.6 1669.9,665.9 1670.6,664.4 1671.4,663.0 1672.0,664.9 1672.1,663.9 1672.9,664.5 1673.7,663.7 1674.4,663.9 1675.2,663.4 1676.0,666.1 1676.7,664.5 1677.5,664.7 1678.2,664.1 1679.0,664.5 1679.8,664.4 1680.5,663.5 1681.3,662.6 1681.6,666.0 1682.1,664.2 1682.8,663.8 1683.6,664.0 1684.3,664.3 1685.1,665.1 1685.9,664.9 1686.6,663.8 1687.4,663.6 1688.2,664.4 1688.9,665.2 1689.7,664.7 1690.4,665.0 1691.2,664.6 1692.0,665.0 1692.7,665.7 1693.5,665.3 1694.3,666.4 1695.0,665.1 1695.8,665.0 1696.5,666.8 1696.7,665.7 1697.3,666.8 1698.1,665.5 1698.8,665.9 1699.6,666.9 1700.4,666.3 1701.1,667.5 1701.9,667.9 1702.6,668.1 1703.4,668.0 1704.2,668.4 1704.9,668.2 1705.7,668.9 1706.5,668.1 1707.2,667.9 1707.6,669.0 1708.0,669.7 1708.7,668.1 1709.5,667.9 1710.3,668.8 1711.0,669.5 1711.8,668.4 1712.6,667.5 1713.3,669.9 1714.1,668.3 1714.8,668.8 1715.6,669.2 1716.4,668.2 1717.1,669.4 1717.9,668.3 1718.7,667.6 1719.4,668.4 1720.2,669.1 1720.9,669.7 1721.7,669.3 1722.5,669.7 1723.2,667.3 1724.0,668.5 1724.8,669.1 1725.5,669.2 1726.3,669.1 1727.0,668.5 1727.8,669.2 1728.6,667.1 1729.3,668.8 1730.1,668.8 1730.9,668.0 1731.6,667.2 1732.4,667.3 1733.1,668.5 1733.9,668.0 1734.7,668.1 1735.4,667.8 1735.5,668.0 1736.2,668.9 1737.0,669.1 1737.7,668.1 1738.5,669.0 1739.2,667.2 1740.0,668.2 1740.8,668.9 1741.5,668.4 1742.3,668.6 1743.1,668.3 1743.8,667.6 1744.6,669.3 1745.3,669.6 1746.1,668.0 1746.9,668.4 1747.6,668.2 1748.4,668.0 1749.2,668.4 1749.9,667.8 1750.7,668.9 1751.4,668.3 1752.2,668.9 1753.0,669.2 1753.7,667.9 1754.5,668.0 1755.3,669.8 1756.0,669.2 1756.8,668.2 1757.5,667.7 1758.3,668.9 1759.1,668.6 1759.8,669.5 1760.6,666.8 1761.4,668.2 1762.1,667.9 1762.9,668.1 1763.6,667.9 1764.4,668.2 1765.2,668.9 1765.9,668.1 1766.7,668.6 1767.5,667.8 1768.2,669.2 1769.0,669.1 1769.7,668.3 1770.5,667.8 1771.3,668.7 1772.0,669.3 1772.8,668.9 1773.6,669.2 1774.3,667.5 1775.1,668.2 1775.8,668.0 1776.6,668.7 1777.4,669.3 1778.1,668.1 1778.9,667.8 1779.7,668.5 1780.4,669.0 1781.2,668.2 1781.9,669.2 1782.7,668.5 1783.5,669.5 1784.2,669.7 1785.0,668.6 1785.8,668.8 1786.5,667.7 1787.3,669.3 1788.0,669.1 1788.8,669.9 1789.6,670.4 1790.3,670.4 1790.3,668.8 1791.1,670.0 1791.8,668.4 1792.6,668.2 1793.4,669.4 1794.1,668.0 1794.9,669.0 1795.7,668.4 1796.4,669.4 1797.2,668.5 1797.9,669.9 1798.7,668.8 1799.5,669.6 1800.2,669.3 1801.0,668.8 1801.8,669.1 1802.5,669.3 1803.3,668.8 1804.0,668.7 1804.8,670.3 1805.6,668.9 1806.3,668.9 1807.1,669.9 1807.9,669.1 1808.6,670.3 1809.4,668.3 1810.1,669.5 1810.9,669.4 1811.7,668.5 1812.4,669.5 1813.2,669.0 1814.0,670.1 1814.7,669.8 1815.5,670.4 1816.2,669.6 1817.0,668.7 1817.8,669.3 1818.5,668.8 1819.3,670.2 1820.1,670.1 1820.8,669.8 1821.6,669.1 1822.3,669.2 1823.1,669.5 1823.9,669.1 1824.6,669.6 1825.4,669.5 1826.2,668.6 1826.9,670.0 1827.7,669.4 1828.4,668.4 1829.2,669.5 1830.0,669.1 1830.7,670.0 1831.3,668.2 1831.5,671.2 1832.3,670.4 1833.0,670.3 1833.8,668.5 1834.5,669.4 1835.3,669.8 1836.1,670.5 1836.8,669.4 1837.6,669.6 1838.4,670.2 1839.1,670.7 1839.9,670.5 1840.6,669.5 1841.4,669.5 1842.2,669.7 1842.9,669.8 1843.7,671.0 1844.5,669.7 1845.2,670.5 1846.0,669.7 1846.7,669.4 1847.5,670.2 1848.3,670.5 1849.0,669.1 1849.8,669.5 1850.6,670.2 1851.3,671.9 1852.1,669.8 1852.8,669.4 1853.6,669.0 1854.4,670.3 1855.1,670.3 1855.9,670.2 1856.7,669.3 1857.4,670.7 1858.2,670.0 1858.9,670.5 1859.7,669.7 1860.5,671.0 1861.2,669.6 1862.0,670.3 1862.8,670.1 1863.5,669.6 1864.3,669.1 1865.0,671.1 1865.8,669.2 1866.6,669.6 1867.3,670.2 1868.1,669.0 1868.9,669.8 1869.6,669.1 1870.4,670.4 1871.1,670.6 1871.9,669.2 1872.7,668.5 1873.4,669.6 1874.2,669.4 1875.0,670.4 1875.7,671.0 1876.5,670.2 1877.0,669.0 1877.2,671.4" fill="none" stroke="#000" stroke-width="1.15" stroke-linejoin="round"/>
<rect x="102.8" y="799.9" width="505.0" height="201.5" fill="none" stroke="#000" stroke-width="2.1"/>
<path d="M148.7 1001.4v-6.3M194.6 1001.4v-6.3M240.5 1001.4v-6.3M286.4 1001.4v-6.3M332.3 1001.4v-6.3M378.2 1001.4v-6.3M424.1 1001.4v-6.3M470.1 1001.4v-6.3M516.0 1001.4v-6.3M561.9 1001.4v-6.3M102.8 979.0h6.5M102.8 934.2h6.5M102.8 889.5h6.5M102.8 844.7h6.5M102.8 956.6h6M102.8 911.8h6M102.8 867.1h6M102.8 822.3h6" stroke="#000" stroke-width="1.8" fill="none"/>
<text x="91.8" y="811.3" font-size="31.5" text-anchor="end">8</text>
<text x="91.8" y="855.9" font-size="31.5" text-anchor="end">6</text>
<text x="91.8" y="900.5" font-size="31.5" text-anchor="end">4</text>
<text x="91.8" y="945.1" font-size="31.5" text-anchor="end">2</text>
<text x="91.8" y="989.7" font-size="31.5" text-anchor="end">0</text>
<text x="600.5" y="831.5" font-size="31" text-anchor="end">A280</text>
<path d="M277.9 805.9V835.5" stroke="#000" stroke-width="1.5" fill="none"/>
<path d="M272.2 829.9H283.6L277.9 845.5Z" fill="#000"/>
<clipPath id="c7"><rect x="102.8" y="799.9" width="505.0" height="201.5"/></clipPath>
<polyline clip-path="url(#c7)" points="102.8,979.0 103.1,979.0 103.5,979.0 103.9,979.0 104.2,979.0 104.6,979.0 105.0,979.0 105.3,979.0 105.7,979.0 106.1,979.0 106.4,979.0 106.8,979.0 107.2,979.0 107.5,979.0 107.9,979.0 108.3,979.0 108.6,979.0 109.0,979.0 109.4,979.0 109.7,979.0 110.1,979.0 110.5,979.0 110.8,979.0 111.2,979.0 111.6,979.0 111.9,979.0 112.3,979.0 112.7,979.0 113.0,979.0 113.4,979.0 113.8,979.0 114.1,979.0 114.5,979.0 114.9,979.0 115.2,979.0 115.6,979.0 116.0,979.0 116.3,979.0 116.7,979.0 117.1,979.0 117.4,979.0 117.8,979.0 118.2,979.0 118.5,979.0 118.9,979.0 119.3,979.0 119.6,979.0 120.0,979.0 120.4,979.0 120.5,979.0 120.7,978.8 121.1,977.8 121.5,976.1 121.6,975.7 121.9,970.7 122.2,955.2 122.6,933.4 123.0,909.4 123.2,892.4 123.3,886.7 123.7,860.6 124.0,844.7 124.1,840.7 124.4,827.0 124.6,824.5 124.8,827.4 125.2,841.5 125.2,844.7 125.5,854.5 125.9,868.5 126.3,877.8 126.4,878.7 126.6,875.7 127.0,866.3 127.1,864.8 127.4,861.5 127.7,858.8 127.8,858.8 128.1,862.6 128.5,871.5 128.8,884.0 129.2,899.4 129.4,906.2 129.6,912.6 129.9,925.5 130.3,937.2 130.7,945.9 130.8,947.4 131.0,951.4 131.4,956.0 131.8,959.4 132.1,961.1 132.5,961.7 132.9,962.1 133.2,962.4 133.5,962.4 133.6,962.2 134.0,958.3 134.2,956.4 134.3,956.8 134.7,962.9 134.9,965.6 135.1,967.4 135.4,970.2 135.6,970.7 135.8,970.6 136.2,969.8 136.5,968.7 136.9,968.1 137.0,968.0 137.3,968.8 137.6,971.1 137.9,972.3 138.0,972.8 138.4,974.2 138.7,975.3 139.0,975.7 139.1,975.7 139.5,975.9 139.8,976.1 140.2,976.2 140.6,976.4 141.0,976.5 141.3,976.6 141.7,976.7 142.1,976.7 142.4,976.8 142.8,976.8 143.2,976.9 143.5,976.9 143.9,977.0 144.3,977.1 144.6,977.1 145.0,977.2 145.4,977.2 145.7,977.2 145.9,977.2 146.1,977.1 146.5,976.6 146.6,976.3 146.8,974.2 147.2,967.0 147.5,961.1 147.6,960.5 147.9,955.1 148.2,953.3 148.3,953.4 148.7,956.4 148.9,958.9 149.0,960.3 149.4,964.9 149.8,969.6 150.0,972.3 150.1,973.0 150.5,975.7 150.7,976.3 150.9,975.8 151.2,971.0 151.4,967.8 151.6,963.5 152.0,952.6 152.1,949.9 152.3,946.9 152.7,943.8 152.8,943.6 153.1,945.5 153.4,951.4 153.5,952.1 153.8,960.2 154.2,968.9 154.5,973.0 154.9,975.0 154.9,975.1 155.3,976.0 155.6,976.7 156.0,977.3 156.4,977.7 156.7,977.9 156.9,977.9 157.1,977.7 157.5,976.5 157.8,974.5 158.2,968.0 158.6,958.2 158.8,954.4 158.9,951.4 159.3,945.4 159.7,941.0 160.0,939.8 160.1,940.0 160.4,943.6 160.8,949.2 160.8,949.9 161.2,956.1 161.5,964.2 161.7,967.8 161.9,969.4 162.3,972.7 162.4,973.4 162.6,973.6 163.0,973.9 163.4,974.1 163.6,974.1 163.7,974.0 164.1,973.0 164.5,971.8 164.7,971.4 164.8,971.4 165.2,972.2 165.6,973.5 165.9,974.5 165.9,974.6 166.3,975.7 166.7,976.7 167.0,977.4 167.3,977.7 167.4,977.7 167.8,977.9 168.1,978.0 168.5,978.1 168.9,978.2 169.2,978.3 169.6,978.4 170.0,978.4 170.3,978.5 170.7,978.5 171.1,978.6 171.4,978.6 171.6,978.6 171.8,978.6 172.2,978.6 172.5,978.6 172.9,978.6 173.3,978.6 173.6,978.6 174.0,978.6 174.4,978.6 174.7,978.6 175.1,978.6 175.5,978.6 175.8,978.6 176.2,978.6 176.6,978.6 176.9,978.6 177.3,978.6 177.7,978.6 178.0,978.6 178.4,978.6 178.8,978.6 179.2,978.6 179.5,978.6 179.9,978.6 180.3,978.6 180.6,978.6 180.8,978.6 181.0,978.5 181.4,978.3 181.7,977.9 182.1,977.6 182.4,977.4 182.5,977.4 182.8,977.6 183.2,977.9 183.6,978.2 183.9,978.3 184.0,978.3 184.3,978.2 184.7,977.8 185.0,977.1 185.2,976.8 185.4,975.5 185.8,971.2 186.1,965.8 186.5,961.5 186.5,961.1 186.9,958.6 187.2,955.9 187.6,954.0 187.9,953.5 188.0,953.6 188.3,955.1 188.7,958.0 189.1,961.1 189.1,961.1 189.4,965.0 189.8,969.8 190.2,973.9 190.4,975.7 190.5,975.9 190.9,977.0 191.3,977.8 191.6,978.3 191.8,978.3 192.0,978.4 192.4,978.4 192.7,978.5 193.1,978.5 193.5,978.5 193.8,978.6 194.2,978.6 194.6,978.6 194.9,978.7 195.3,978.7 195.7,978.7 196.0,978.7 196.4,978.7 196.8,978.8 197.1,978.8 197.5,978.8 197.9,978.8 198.3,978.8 198.6,978.8 199.0,978.8 199.2,978.8 199.4,978.8 199.7,978.8 200.1,978.8 200.5,978.8 200.8,978.8 201.2,978.8 201.6,978.8 201.9,978.8 202.3,978.8 202.7,978.8 203.0,978.8 203.4,978.8 203.8,978.8 204.1,978.8 204.5,978.8 204.9,978.8 205.2,978.7 205.6,978.7 206.0,978.7 206.3,978.7 206.7,978.7 207.1,978.7 207.4,978.7 207.8,978.7 208.2,978.7 208.5,978.7 208.9,978.7 209.3,978.7 209.6,978.7 210.0,978.7 210.4,978.6 210.7,978.6 211.1,978.6 211.5,978.6 211.8,978.6 212.2,978.6 212.6,978.6 212.9,978.6 213.3,978.5 213.7,978.5 214.0,978.4 214.4,978.3 214.8,978.2 215.1,978.0 215.5,977.9 215.9,977.8 216.2,977.6 216.6,977.5 217.0,977.3 217.4,977.2 217.7,977.1 218.1,977.0 218.5,976.9 218.8,976.8 219.2,976.8 219.4,976.8 219.6,976.8 219.9,976.9 220.3,977.0 220.7,977.2 221.0,977.4 221.4,977.6 221.8,977.9 222.1,978.1 222.5,978.2 222.9,978.3 223.0,978.3 223.2,978.4 223.6,978.4 224.0,978.4 224.3,978.4 224.7,978.4 225.1,978.4 225.4,978.5 225.8,978.5 226.2,978.5 226.5,978.5 226.9,978.5 227.3,978.5 227.6,978.5 228.0,978.5 228.4,978.5 228.7,978.6 229.1,978.6 229.5,978.6 229.8,978.6 230.2,978.6 230.4,978.6 230.6,978.5 230.9,978.4 231.3,978.2 231.7,977.9 232.0,977.6 232.4,977.1 232.7,976.8 232.8,976.6 233.1,975.4 233.5,973.5 233.9,971.2 234.2,969.1 234.5,967.8 234.6,967.4 235.0,965.8 235.3,964.1 235.7,962.6 236.1,961.5 236.5,961.1 236.8,961.4 237.2,962.3 237.6,963.5 237.9,964.7 238.2,965.6 238.3,965.9 238.7,967.1 239.0,968.5 239.4,969.9 239.8,971.3 240.1,972.5 240.5,973.4 240.9,974.2 241.2,974.9 241.6,975.6 242.0,976.3 242.3,976.8 242.7,977.2 243.1,977.6 243.2,977.7 243.4,977.8 243.8,977.9 244.2,978.1 244.5,978.2 244.9,978.3 245.3,978.5 245.6,978.6 246.0,978.6 246.4,978.7 246.7,978.7 247.1,978.8 247.4,978.8 247.5,978.8 247.8,978.8 248.2,978.8 248.6,978.8 248.9,978.8 249.3,978.8 249.7,978.8 250.0,978.8 250.4,978.8 250.8,978.8 251.1,978.9 251.5,978.9 251.9,978.9 252.2,978.9 252.6,978.9 253.0,978.9 253.3,978.9 253.7,978.9 254.1,978.9 254.4,978.9 254.8,978.9 255.2,978.9 255.6,978.9 255.9,978.9 256.3,978.9 256.7,978.9 257.0,978.9 257.4,978.9 257.8,978.9 258.1,978.9 258.5,978.9 258.9,978.9 259.2,978.9 259.6,979.0 260.0,979.0 260.3,979.0 260.7,979.0 261.1,979.0 261.4,979.0 261.8,979.0 262.2,979.0 262.5,979.0 262.9,979.0 263.3,979.0 263.6,979.0 264.0,979.0 264.4,979.0 264.7,979.0 265.1,979.0 265.5,979.0 265.8,979.0 266.2,979.0 266.6,979.0 266.9,979.0 267.3,979.0 267.7,979.0 268.0,979.0 268.4,979.0 268.8,979.0 269.1,979.0 269.5,979.0 269.9,979.0 270.2,979.0 270.6,979.0 271.0,979.0 271.3,979.0 271.7,979.0 272.1,979.0 272.4,979.0 272.8,979.0 273.2,979.0 273.5,979.0 273.9,979.0 274.3,979.0 274.7,979.0 275.0,979.0 275.4,979.0 275.8,979.0 276.1,979.0 276.5,979.0 276.9,979.0 277.2,979.0 277.2,979.0 277.6,979.0 278.0,979.0 278.3,978.9 278.7,978.8 279.1,978.8 279.4,978.7 279.8,978.6 280.2,978.6 280.5,978.5 280.9,978.5 281.3,978.5 281.4,978.5 281.6,978.5 282.0,978.5 282.4,978.6 282.7,978.7 283.1,978.8 283.5,978.9 283.8,979.0 284.1,979.0 284.2,979.0 284.6,979.0 284.9,979.0 285.3,979.0 285.7,979.0 286.0,979.0 286.4,979.0 286.8,979.0 287.1,979.0 287.5,979.0 287.9,979.0 288.2,979.0 288.6,979.0 289.0,979.0 289.3,979.0 289.7,979.0 290.1,979.0 290.4,979.0 290.8,979.0 291.2,979.0 291.5,979.0 291.9,979.0 292.3,979.0 292.6,979.0 293.0,979.0 293.4,979.0 293.8,979.0 294.1,979.0 294.5,979.0 294.9,979.0 295.2,979.0 295.6,979.0 296.0,979.0 296.3,979.0 296.7,979.0 297.1,979.0 297.4,979.0 297.8,979.0 298.2,979.0 298.5,979.0 298.9,979.0 299.3,979.0 299.6,979.0 300.0,979.0 300.4,979.0 300.7,979.0 301.1,979.0 301.5,979.0 301.8,979.0 302.2,979.0 302.6,979.0 302.9,979.0 303.3,979.0 303.7,979.0 304.0,979.0 304.4,979.0 304.8,979.0 305.1,979.0 305.5,979.0 305.9,979.0 306.2,979.0 306.6,979.0 307.0,979.0 307.3,979.0 307.7,979.0 308.1,979.0 308.4,979.0 308.8,979.0 309.2,979.0 309.5,979.0 309.9,979.0 310.3,979.0 310.6,979.0 311.0,978.9 311.4,978.9 311.7,978.9 312.1,978.9 312.5,978.9 312.9,978.9 313.2,978.9 313.6,978.9 314.0,978.9 314.3,978.9 314.7,978.9 315.1,978.9 315.4,978.9 315.8,978.9 316.2,978.9 316.5,978.9 316.9,978.9 317.3,978.9 317.6,978.9 318.0,978.9 318.4,978.9 318.7,978.9 319.1,978.9 319.5,978.9 319.8,978.9 320.2,978.9 320.6,978.9 320.9,978.9 321.3,978.9 321.7,978.9 322.0,978.9 322.4,978.9 322.8,978.8 323.1,978.8 323.5,978.8 323.9,978.8 324.2,978.8 324.6,978.8 325.0,978.8 325.3,978.8 325.7,978.8 326.1,978.8 326.4,978.8 326.8,978.8 327.2,978.8 327.5,978.8 327.7,978.8 327.9,978.8 328.3,978.7 328.6,978.6 329.0,978.4 329.4,978.2 329.7,978.0 330.1,977.8 330.5,977.7 330.8,977.7 330.9,977.7 331.2,977.7 331.6,977.8 332.0,977.9 332.3,978.1 332.7,978.3 333.1,978.5 333.4,978.6 333.8,978.7 334.2,978.8 334.5,978.8 334.9,978.8 335.3,978.8 335.6,978.8 336.0,978.8 336.4,978.8 336.7,978.8 337.1,978.8 337.5,978.8 337.8,978.8 338.2,978.8 338.6,978.8 338.9,978.8 339.3,978.8 339.7,978.8 340.0,978.8 340.4,978.8 340.8,978.8 341.1,978.8 341.5,978.8 341.9,978.8 342.2,978.8 342.6,978.8 343.0,978.8 343.3,978.8 343.7,978.8 344.1,978.8 344.4,978.8 344.8,978.8 345.2,978.8 345.5,978.8 345.9,978.8 346.3,978.8 346.6,978.8 347.0,978.8 347.4,978.8 347.7,978.8 348.1,978.8 348.5,978.8 348.8,978.8 349.2,978.8 349.6,978.8 349.9,978.8 350.3,978.8 350.7,978.8 351.1,978.8 351.4,978.8 351.8,978.8 352.2,978.8 352.5,978.8 352.9,978.8 353.3,978.8 353.6,978.8 354.0,978.8 354.4,978.8 354.7,978.8 355.1,978.8 355.3,978.8 355.5,978.8 355.8,978.8 356.2,978.8 356.6,978.8 356.9,978.8 357.3,978.7 357.7,978.7 358.0,978.7 358.4,978.7 358.8,978.7 359.1,978.7 359.5,978.6 359.9,978.6 360.2,978.6 360.6,978.5 361.0,978.5 361.3,978.5 361.7,978.5 362.1,978.4 362.4,978.4 362.8,978.4 363.2,978.3 363.5,978.3 363.9,978.3 364.3,978.2 364.6,978.2 365.0,978.2 365.4,978.1 365.7,978.1 366.1,978.1 366.5,978.0 366.8,978.0 367.2,978.0 367.6,977.9 367.9,977.9 368.3,977.9 368.7,977.8 369.0,977.8 369.4,977.8 369.8,977.8 370.2,977.8 370.5,977.7 370.9,977.7 371.3,977.7 371.6,977.7 372.0,977.7 372.4,977.7 372.7,977.7 373.1,977.7 373.2,977.7 373.5,977.7 373.8,977.7 374.2,977.7 374.6,977.7 374.9,977.7 375.3,977.7 375.7,977.7 376.0,977.7 376.4,977.7 376.8,977.8 377.1,977.8 377.5,977.8 377.9,977.8 378.2,977.8 378.6,977.8 379.0,977.9 379.3,977.9 379.7,977.9 380.1,977.9 380.4,977.9 380.8,978.0 381.2,978.0 381.5,978.0 381.9,978.0 382.3,978.0 382.6,978.1 383.0,978.1 383.4,978.1 383.7,978.1 384.1,978.1 384.5,978.1 384.8,978.1 385.2,978.1 385.6,978.1 385.9,978.1 386.3,978.1 386.7,978.1 387.0,978.1 387.4,978.1 387.8,978.0 388.1,978.0 388.5,978.0 388.9,978.0 389.3,977.9 389.6,977.9 390.0,977.9 390.4,977.8 390.7,977.8 391.1,977.7 391.5,977.7 391.8,977.6 392.2,977.6 392.6,977.6 392.9,977.5 393.3,977.5 393.7,977.4 394.0,977.3 394.4,977.3 394.8,977.2 395.1,977.2 395.5,977.1 395.9,977.1 396.2,977.0 396.6,977.0 397.0,976.9 397.3,976.9 397.7,976.8 398.1,976.8 398.4,976.7 398.8,976.6 399.2,976.5 399.5,976.4 399.9,976.4 400.3,976.3 400.6,976.2 401.0,976.1 401.4,976.0 401.7,975.9 402.1,975.8 402.5,975.7 402.8,975.6 403.2,975.5 403.6,975.4 403.9,975.3 404.3,975.2 404.7,975.2 405.0,975.1 405.4,975.0 405.8,974.9 406.1,974.9 406.5,974.8 406.9,974.7 407.2,974.7 407.6,974.6 408.0,974.6 408.4,974.6 408.7,974.6 409.1,974.5 409.5,974.5 409.8,974.5 410.2,974.5 410.6,974.6 410.9,974.6 411.3,974.6 411.7,974.6 412.0,974.6 412.4,974.7 412.8,974.7 413.1,974.7 413.5,974.8 413.9,974.8 414.2,974.9 414.6,974.9 415.0,975.0 415.3,975.0 415.7,975.1 416.1,975.1 416.4,975.2 416.8,975.2 417.2,975.3 417.5,975.4 417.9,975.4 418.3,975.5 418.6,975.5 419.0,975.6 419.4,975.7 419.7,975.7 420.1,975.8 420.5,975.9 420.8,976.0 421.2,976.0 421.6,976.1 421.9,976.2 422.3,976.2 422.7,976.3 423.0,976.4 423.4,976.4 423.8,976.5 424.1,976.5 424.5,976.6 424.9,976.7 425.2,976.8 425.6,976.8 426.0,976.9 426.3,977.0 426.7,977.1 427.1,977.2 427.5,977.3 427.8,977.4 428.2,977.5 428.6,977.6 428.9,977.7 429.3,977.8 429.7,977.9 430.0,978.0 430.4,978.1 430.8,978.2 431.1,978.3 431.5,978.4 431.9,978.4 432.2,978.5 432.6,978.6 433.0,978.6 433.3,978.7 433.7,978.7 434.1,978.8 434.4,978.8 434.7,978.8 434.8,978.8 435.2,978.8 435.5,978.8 435.9,978.8 436.3,978.8 436.6,978.8 437.0,978.9 437.4,978.9 437.7,978.9 438.1,978.9 438.5,978.9 438.8,978.9 439.2,978.9 439.6,978.9 439.9,978.9 440.3,978.9 440.7,978.9 441.0,979.0 441.4,979.0 441.8,979.0 442.1,979.0 442.5,979.0 442.9,979.0 443.2,979.0 443.6,979.0 444.0,979.0 444.3,979.0 444.7,979.0 445.1,979.0 445.4,979.0 445.8,979.0 446.2,979.0 446.6,979.0 446.9,979.0 447.1,979.0 447.3,979.0 447.7,979.0 448.0,979.0 448.4,979.0 448.8,979.0 449.1,979.0 449.5,979.0 449.9,979.0 450.2,979.0 450.6,979.0 451.0,979.0 451.3,979.0 451.7,979.0 452.1,979.0 452.4,979.0 452.8,979.0 453.2,979.0 453.5,979.0 453.9,979.0 454.3,979.0 454.6,979.0 455.0,979.0 455.4,979.0 455.7,979.0 456.1,979.0 456.5,979.0 456.8,979.0 457.2,979.0 457.6,979.0 457.9,979.0 458.3,979.0 458.7,979.0 459.0,979.0 459.4,979.0 459.8,979.0 460.1,979.0 460.5,979.0 460.9,979.0 461.2,979.0 461.6,979.0 462.0,979.0 462.3,979.0 462.7,979.0 463.1,979.0 463.4,979.0 463.8,979.0 464.2,979.0 464.5,979.0 464.9,979.0 465.3,979.0 465.7,979.0 466.0,979.0 466.4,979.0 466.8,979.0 467.1,979.0 467.5,979.0 467.9,979.0 468.2,979.0 468.6,979.0 469.0,979.0 469.3,979.0 469.7,979.0 470.1,979.0 470.4,979.0 470.8,979.0 471.2,979.0 471.5,979.0 471.9,979.0 472.3,979.0 472.6,979.0 473.0,979.0 473.4,979.0 473.7,979.0 474.1,979.0 474.5,979.0 474.8,979.0 475.2,979.0 475.6,979.0 475.9,979.0 476.3,979.0 476.7,979.0 477.0,979.0 477.4,979.0 477.8,979.0 478.1,979.0 478.5,979.0 478.9,979.0 479.2,979.0 479.6,979.0 480.0,979.0 480.3,979.0 480.7,979.0 481.1,979.0 481.4,979.0 481.8,979.0 482.2,979.0 482.5,979.0 482.9,979.0 483.3,979.0 483.6,979.0 484.0,979.0 484.4,979.0 484.8,979.0 485.1,979.0 485.5,979.0 485.9,979.0 486.2,979.0 486.6,979.0 487.0,979.0 487.3,979.0 487.7,979.0 488.1,979.0 488.4,979.0 488.8,979.0 489.2,979.0 489.5,979.0 489.9,979.0 490.3,979.0 490.6,979.0 491.0,979.0 491.4,979.0 491.7,979.0 492.1,979.0 492.5,979.0 492.8,979.0 493.2,979.0 493.6,979.0 493.9,979.0 494.3,979.0 494.7,979.0 495.0,979.0 495.4,979.0 495.8,979.0 496.1,979.0 496.5,979.0 496.9,979.0 497.2,979.0 497.6,979.0 498.0,979.0 498.3,979.0 498.7,979.0 499.1,979.0 499.4,979.0 499.8,979.0 500.2,979.0 500.5,979.0 500.9,979.0 501.3,979.0 501.6,979.0 502.0,979.0 502.4,979.0 502.7,979.0 503.1,979.0 503.5,979.0 503.9,979.0 504.2,979.0 504.6,979.0 505.0,979.0 505.3,979.0 505.7,979.0 506.1,979.0 506.4,979.0 506.8,979.0 507.2,979.0 507.5,979.0 507.9,979.0 508.3,979.0 508.6,979.0 509.0,979.0 509.4,979.0 509.7,979.0 510.1,979.0 510.5,979.0 510.8,979.0 511.2,979.0 511.6,979.0 511.9,979.0 512.3,979.0 512.7,979.0 513.0,979.0 513.4,979.0 513.8,979.0 514.1,979.0 514.5,979.0 514.9,979.0 515.2,979.0 515.6,979.0 516.0,979.0 516.3,979.0 516.7,979.0 517.1,979.0 517.4,979.0 517.8,979.0 518.2,979.0 518.5,979.0 518.9,979.0 519.3,979.0 519.6,979.0 520.0,979.0 520.4,979.0 520.7,979.0 521.1,979.0 521.5,979.0 521.8,979.0 522.2,979.0 522.6,979.0 523.0,979.0 523.3,979.0 523.7,979.0 524.1,979.0 524.4,979.0 524.8,979.0 525.2,979.0 525.5,979.0 525.9,979.0 526.3,979.0 526.6,979.0 527.0,979.0 527.4,979.0 527.7,979.0 528.1,979.0 528.5,979.0 528.8,979.0 529.2,979.0 529.6,979.0 529.9,979.0 530.3,979.0 530.7,979.0 531.0,979.0 531.4,979.0 531.8,979.0 532.1,979.0 532.5,979.0 532.9,979.0 533.2,979.0 533.6,979.0 534.0,979.0 534.3,979.0 534.7,979.0 535.1,979.0 535.4,979.0 535.8,979.0 536.2,979.0 536.5,979.0 536.9,979.0 537.3,979.0 537.6,979.0 538.0,979.0 538.4,979.0 538.7,979.0 539.1,979.0 539.5,979.0 539.8,979.0 540.2,979.0 540.6,979.0 540.9,979.0 541.3,979.0 541.7,979.0 542.1,979.0 542.4,979.0 542.8,979.0 543.2,979.0 543.5,979.0 543.9,979.0 544.3,979.0 544.6,979.0 545.0,979.0 545.4,979.0 545.7,979.0 546.1,979.0 546.5,979.0 546.8,979.0 547.2,979.0 547.6,979.0 547.9,979.0 548.3,979.0 548.7,979.0 549.0,979.0 549.4,979.0 549.8,979.0 550.1,979.0 550.5,979.0 550.9,979.0 551.2,979.0 551.6,979.0 552.0,979.0 552.3,979.0 552.7,979.0 553.1,979.0 553.4,979.0 553.8,979.0 554.2,979.0 554.5,979.0 554.9,979.0 555.3,979.0 555.6,979.0 556.0,979.0 556.4,979.0 556.7,979.0 557.1,979.0 557.5,979.0 557.8,979.0 558.2,979.0 558.6,979.0 558.9,979.0 559.3,979.0 559.7,979.0 560.0,979.0 560.4,979.0 560.8,979.0 561.2,979.0 561.5,979.0 561.9,979.0 562.3,979.0 562.6,979.0 563.0,979.0 563.4,979.0 563.7,979.0 564.1,979.0 564.5,979.0 564.8,979.0 565.2,979.0 565.6,979.0 565.9,979.0 566.3,979.0 566.7,979.0 567.0,979.0 567.4,979.0 567.8,979.0 568.1,979.0 568.5,979.0 568.9,979.0 569.2,979.0 569.6,979.0 570.0,979.0 570.3,979.0 570.7,979.0 571.1,979.0 571.4,979.0 571.8,979.0 572.2,979.0 572.5,979.0 572.9,979.0 573.3,979.0 573.6,979.0 574.0,979.0 574.4,979.0 574.7,979.0 575.1,979.0 575.5,979.0 575.8,979.0 576.2,979.0 576.6,979.0 576.9,979.0 577.3,979.0 577.7,979.0 578.0,979.0 578.4,979.0 578.8,979.0 579.1,979.0 579.5,979.0 579.9,979.0 580.3,979.0 580.6,979.0 581.0,979.0 581.4,979.0 581.7,979.0 582.1,979.0 582.5,979.0 582.8,979.0 583.2,979.0 583.6,979.0 583.9,979.0 584.3,979.0 584.7,979.0 585.0,979.0 585.4,979.0 585.8,979.0 586.1,979.0 586.5,979.0 586.9,979.0 587.2,979.0 587.6,979.0 588.0,979.0 588.3,979.0 588.7,979.0 589.1,979.0 589.4,979.0 589.8,979.0 590.2,979.0 590.5,979.0 590.9,979.0 591.3,979.0 591.6,979.0 592.0,979.0 592.4,979.0 592.7,979.0 593.1,979.0 593.5,979.0 593.8,979.0 594.2,979.0 594.6,979.0 594.9,979.0 595.3,979.0 595.7,979.0 596.0,979.0 596.4,979.0 596.8,979.0 597.1,979.0 597.5,979.0 597.9,979.0 598.2,979.0 598.6,979.0 599.0,979.0 599.4,979.0 599.7,979.0 600.1,979.0 600.5,979.0 600.8,979.0 601.2,979.0 601.6,979.0 601.9,979.0 602.3,979.0 602.7,979.0 603.0,979.0 603.4,979.0 603.8,979.0 604.1,979.0 604.5,979.0 604.9,979.0 605.2,979.0 605.6,979.0 606.0,979.0 606.3,979.0 606.7,979.0 607.1,979.0 607.4,979.0 607.8,979.0" fill="none" stroke="#000" stroke-width="1.15" stroke-linejoin="round"/>
<rect x="102.3" y="1016.8" width="505.5" height="202.7" fill="none" stroke="#000" stroke-width="2.1"/>
<path d="M148.3 1219.4v-6.3M194.2 1219.4v-6.3M240.2 1219.4v-6.3M286.1 1219.4v-6.3M332.1 1219.4v-6.3M378.0 1219.4v-6.3M424.0 1219.4v-6.3M469.9 1219.4v-6.3M515.9 1219.4v-6.3M561.8 1219.4v-6.3M102.3 1201.0h6.5M102.3 1164.1h6.5M102.3 1127.3h6.5M102.3 1090.4h6.5M102.3 1053.6h6.5M102.3 1182.6h6M102.3 1145.7h6M102.3 1108.9h6M102.3 1072.0h6M102.3 1035.2h6" stroke="#000" stroke-width="1.8" fill="none"/>
<text x="94.6" y="1032.2" font-size="31.5" text-anchor="end">10</text>
<text x="94.6" y="1068.3" font-size="31.5" text-anchor="end">8</text>
<text x="94.6" y="1104.5" font-size="31.5" text-anchor="end">6</text>
<text x="94.6" y="1140.6" font-size="31.5" text-anchor="end">4</text>
<text x="94.6" y="1176.7" font-size="31.5" text-anchor="end">2</text>
<text x="94.6" y="1212.9" font-size="31.5" text-anchor="end">0</text>
<text x="600.0" y="1047.0" font-size="31" text-anchor="end">Ex302/Em350</text>
<path d="M277.9 1024.7V1054.9" stroke="#000" stroke-width="1.5" fill="none"/>
<path d="M272.2 1049.3H283.6L277.9 1064.9Z" fill="#000"/>
<clipPath id="c8"><rect x="102.3" y="1016.8" width="505.5" height="202.7"/></clipPath>
<polyline clip-path="url(#c8)" points="102.3,1201.0 102.7,1201.0 103.0,1201.0 103.4,1201.0 103.8,1201.1 104.1,1201.1 104.5,1201.1 104.9,1201.1 105.2,1201.1 105.6,1201.2 106.0,1201.2 106.3,1201.2 106.7,1201.2 107.1,1201.2 107.4,1201.3 107.8,1201.3 108.2,1201.3 108.5,1201.3 108.9,1201.3 109.2,1201.3 109.3,1201.4 109.7,1201.4 110.0,1201.4 110.4,1201.4 110.8,1201.4 111.1,1201.5 111.5,1201.5 111.9,1201.5 112.2,1201.5 112.6,1201.6 113.0,1201.6 113.3,1201.6 113.7,1201.6 114.1,1201.6 114.4,1201.7 114.8,1201.7 115.2,1201.7 115.5,1201.7 115.9,1201.7 116.3,1201.7 116.5,1201.7 116.6,1201.7 117.0,1201.5 117.4,1200.9 117.7,1200.2 117.9,1199.7 118.1,1198.8 118.5,1195.1 118.8,1189.1 119.2,1181.1 119.3,1178.9 119.6,1167.7 119.9,1142.6 120.3,1112.1 120.7,1083.1 121.0,1058.5 121.4,1032.4 121.6,1016.8 121.8,995.1 122.2,933.7 122.5,870.9 122.9,834.3 123.0,832.5 123.3,832.5 123.6,832.5 124.0,832.5 124.4,832.5 124.7,832.5 125.1,832.5 125.5,832.5 125.8,832.5 126.2,832.5 126.6,832.5 126.9,832.5 127.1,832.5 127.3,840.5 127.7,891.5 128.0,959.9 128.4,1010.8 128.5,1016.8 128.8,1026.9 129.1,1036.1 129.4,1042.5 129.5,1045.0 129.9,1055.9 130.2,1063.2 130.3,1063.5 130.6,1058.4 131.0,1044.2 131.0,1042.5 131.3,1032.7 131.7,1016.8 132.1,943.8 132.4,849.9 132.6,832.5 132.8,832.5 133.2,832.5 133.5,832.5 133.9,832.5 134.3,832.5 134.7,832.5 135.0,832.5 135.4,832.5 135.8,832.5 136.1,832.5 136.3,832.5 136.5,841.9 136.9,900.9 137.2,978.1 137.5,1016.8 137.6,1035.1 138.0,1080.0 138.1,1096.5 138.3,1109.3 138.7,1130.5 139.1,1144.6 139.4,1153.9 139.8,1161.5 140.2,1167.3 140.5,1171.3 140.6,1172.1 140.9,1173.9 141.3,1175.9 141.6,1177.6 142.0,1179.0 142.4,1180.1 142.7,1181.1 143.1,1182.0 143.5,1182.8 143.8,1183.6 144.2,1184.3 144.6,1184.9 144.9,1185.5 145.3,1185.9 145.7,1186.4 146.0,1186.6 146.0,1186.7 146.4,1187.0 146.8,1187.3 147.2,1187.6 147.5,1187.8 147.9,1188.1 148.3,1188.3 148.6,1188.4 149.0,1188.5 149.4,1188.6 149.6,1188.6 149.7,1188.6 150.1,1188.5 150.5,1188.2 150.8,1187.9 151.2,1187.5 151.6,1187.3 151.9,1187.2 152.3,1187.2 152.7,1187.4 153.0,1187.7 153.4,1188.0 153.8,1188.3 154.1,1188.5 154.5,1188.6 154.7,1188.6 154.9,1188.3 155.2,1185.9 155.6,1181.2 155.7,1178.9 156.0,1164.1 156.3,1117.2 156.5,1096.0 156.7,1079.7 157.1,1050.8 157.4,1016.8 157.8,956.2 158.2,877.6 158.5,813.8 158.8,795.7 158.9,795.7 159.3,795.7 159.7,795.7 160.0,795.7 160.4,795.7 160.8,795.7 161.1,795.7 161.5,795.7 161.9,795.7 162.2,795.7 162.6,795.7 163.0,795.7 163.3,816.7 163.7,868.0 164.1,931.8 164.4,990.5 164.7,1016.8 164.8,1028.8 165.2,1058.5 165.5,1084.1 165.9,1104.6 166.0,1110.7 166.3,1119.6 166.6,1132.0 167.0,1142.1 167.4,1150.3 167.4,1151.2 167.7,1157.2 168.1,1163.5 168.5,1169.0 168.8,1173.7 169.2,1177.4 169.4,1178.9 169.6,1180.2 169.9,1182.6 170.3,1184.8 170.7,1186.7 171.0,1188.2 171.4,1189.3 171.7,1189.9 171.8,1190.1 172.2,1190.6 172.5,1191.1 172.9,1191.4 173.1,1191.4 173.3,1191.3 173.6,1191.0 174.0,1190.4 174.4,1189.8 174.7,1189.2 175.1,1188.7 175.4,1188.6 175.5,1188.6 175.8,1188.7 176.2,1188.9 176.6,1189.0 176.9,1189.2 177.3,1189.3 177.7,1189.4 177.7,1189.4 178.0,1189.1 178.4,1188.5 178.8,1187.6 179.1,1186.5 179.5,1185.3 179.8,1184.4 179.9,1184.1 180.2,1182.7 180.6,1181.1 181.0,1179.1 181.3,1176.8 181.7,1174.1 181.8,1173.3 182.1,1170.6 182.4,1165.5 182.8,1159.0 183.2,1151.2 183.5,1140.4 183.9,1125.8 184.3,1109.0 184.6,1096.0 184.7,1091.6 185.0,1074.0 185.4,1054.3 185.8,1030.7 185.9,1016.8 186.1,996.7 186.5,935.9 186.9,872.1 187.2,834.4 187.3,832.5 187.6,832.5 188.0,832.5 188.3,832.5 188.7,832.5 189.1,832.5 189.2,832.5 189.4,843.6 189.8,884.3 190.2,939.3 190.5,992.2 190.8,1016.8 190.9,1028.3 191.3,1057.2 191.6,1082.7 192.0,1104.0 192.1,1110.7 192.4,1120.9 192.7,1135.7 193.1,1148.1 193.5,1157.6 193.5,1158.6 193.8,1164.9 194.2,1171.0 194.6,1175.8 194.9,1178.9 194.9,1179.2 195.3,1181.9 195.7,1184.2 196.0,1186.1 196.4,1187.7 196.8,1188.9 197.0,1189.4 197.2,1189.8 197.5,1190.6 197.9,1191.3 198.3,1191.9 198.6,1192.5 199.0,1193.0 199.4,1193.4 199.7,1193.8 200.1,1194.1 200.2,1194.2 200.5,1194.4 200.8,1194.6 201.2,1194.9 201.6,1195.1 201.9,1195.4 202.3,1195.6 202.7,1195.8 203.0,1195.9 203.4,1196.1 203.8,1196.1 204.1,1196.2 204.3,1196.2 204.5,1196.2 204.9,1196.2 205.2,1196.2 205.6,1196.2 206.0,1196.1 206.3,1196.1 206.7,1196.1 207.1,1196.1 207.4,1196.0 207.8,1196.0 208.2,1195.9 208.5,1195.9 208.9,1195.9 209.3,1195.8 209.6,1195.7 210.0,1195.7 210.4,1195.6 210.8,1195.5 211.1,1195.5 211.5,1195.4 211.9,1195.3 212.1,1195.3 212.2,1195.2 212.6,1195.1 213.0,1194.9 213.3,1194.7 213.7,1194.4 214.1,1194.2 214.4,1193.9 214.8,1193.6 215.2,1193.4 215.3,1193.2 215.5,1193.1 215.9,1192.9 216.3,1192.6 216.6,1192.3 217.0,1192.0 217.4,1191.8 217.7,1191.6 218.1,1191.6 218.5,1191.6 218.8,1191.8 219.2,1192.0 219.6,1192.3 219.9,1192.6 220.3,1192.9 220.7,1193.1 220.9,1193.2 221.0,1193.3 221.4,1193.5 221.8,1193.7 222.1,1193.9 222.5,1194.0 222.9,1194.1 223.2,1194.2 223.3,1194.2 223.6,1194.2 224.0,1194.1 224.4,1194.1 224.7,1194.1 225.1,1194.0 225.5,1194.0 225.8,1193.9 226.2,1193.9 226.6,1193.8 226.9,1193.7 227.3,1193.6 227.7,1193.6 228.0,1193.5 228.4,1193.4 228.8,1193.3 229.1,1193.2 229.5,1193.1 229.9,1193.0 230.2,1192.9 230.6,1192.8 231.0,1192.7 231.3,1192.6 231.7,1192.5 231.9,1192.5 232.1,1192.5 232.4,1192.4 232.8,1192.3 233.2,1192.2 233.5,1192.1 233.9,1192.0 234.3,1191.9 234.6,1191.8 235.0,1191.7 235.4,1191.5 235.8,1191.4 236.1,1191.3 236.5,1191.2 236.9,1191.1 237.2,1191.0 237.6,1190.8 238.0,1190.7 238.3,1190.6 238.7,1190.4 239.1,1190.3 239.4,1190.2 239.8,1190.0 240.2,1189.9 240.5,1189.8 240.9,1189.6 241.3,1189.5 241.6,1189.3 242.0,1189.2 242.4,1189.0 242.7,1188.9 243.1,1188.8 243.5,1188.6 243.8,1188.5 244.2,1188.3 244.3,1188.3 244.6,1188.1 244.9,1188.0 245.3,1187.8 245.7,1187.6 246.0,1187.4 246.4,1187.2 246.8,1187.0 247.1,1186.8 247.5,1186.6 247.9,1186.4 248.3,1186.1 248.6,1185.9 249.0,1185.7 249.4,1185.5 249.7,1185.2 250.1,1185.0 250.5,1184.8 250.8,1184.6 251.2,1184.4 251.6,1184.2 251.9,1184.0 252.3,1183.8 252.7,1183.6 253.0,1183.4 253.4,1183.2 253.8,1183.1 254.1,1182.9 254.5,1182.8 254.9,1182.7 255.2,1182.6 255.3,1182.6 255.6,1182.5 256.0,1182.4 256.3,1182.3 256.7,1182.3 257.1,1182.2 257.4,1182.2 257.8,1182.1 258.2,1182.1 258.5,1182.0 258.9,1181.9 259.3,1181.9 259.5,1181.8 259.6,1181.8 260.0,1181.7 260.4,1181.6 260.8,1181.5 261.1,1181.4 261.5,1181.3 261.9,1181.2 262.2,1181.1 262.6,1181.0 263.0,1180.9 263.3,1180.7 263.7,1180.6 264.1,1180.5 264.4,1180.4 264.8,1180.2 265.2,1180.1 265.5,1179.9 265.9,1179.7 266.3,1179.6 266.6,1179.4 267.0,1179.2 267.4,1179.0 267.7,1178.8 268.1,1178.6 268.5,1178.4 268.8,1178.2 269.2,1177.9 269.6,1177.7 269.9,1177.4 270.3,1177.2 270.5,1177.0 270.7,1176.9 271.0,1176.5 271.4,1176.1 271.8,1175.7 272.1,1175.1 272.5,1174.5 272.9,1173.8 273.3,1173.1 273.6,1172.3 273.7,1172.1 274.0,1171.3 274.4,1170.1 274.7,1168.7 275.1,1167.0 275.5,1165.1 275.8,1163.0 276.2,1160.6 276.5,1158.6 276.6,1157.9 276.9,1154.2 277.3,1149.5 277.7,1144.3 278.0,1138.7 278.3,1134.7 278.4,1133.3 278.8,1127.0 279.1,1120.4 279.5,1114.7 279.7,1112.5 279.9,1110.6 280.2,1107.3 280.5,1106.5 280.6,1106.8 281.0,1110.2 281.3,1114.4 281.3,1115.0 281.7,1121.3 282.1,1129.4 282.4,1137.6 282.8,1144.4 282.9,1145.7 283.2,1149.3 283.5,1153.8 283.9,1157.9 284.3,1161.0 284.6,1163.0 284.7,1163.2 285.0,1163.8 285.4,1164.5 285.8,1165.0 286.1,1165.5 286.5,1165.8 286.9,1166.0 287.0,1166.0 287.2,1165.9 287.6,1165.7 288.0,1165.3 288.3,1164.8 288.7,1164.2 289.1,1163.6 289.3,1163.2 289.4,1163.1 289.8,1162.5 290.2,1161.7 290.5,1161.0 290.9,1160.3 291.3,1159.9 291.6,1159.7 292.0,1159.8 292.4,1160.2 292.7,1160.7 293.1,1161.2 293.5,1161.7 293.8,1162.2 293.9,1162.3 294.2,1162.6 294.6,1162.9 294.9,1163.3 295.3,1163.7 295.7,1164.0 296.0,1164.3 296.4,1164.5 296.7,1164.5 296.8,1164.5 297.1,1164.5 297.5,1164.5 297.9,1164.4 298.3,1164.3 298.6,1164.3 299.0,1164.2 299.4,1164.0 299.7,1163.9 300.1,1163.8 300.5,1163.6 300.8,1163.5 301.2,1163.3 301.6,1163.1 301.9,1162.9 302.3,1162.7 302.7,1162.5 303.0,1162.3 303.4,1162.1 303.8,1161.9 304.1,1161.6 304.5,1161.4 304.9,1161.2 305.2,1160.9 305.6,1160.7 306.0,1160.5 306.3,1160.2 306.7,1160.0 307.1,1159.8 307.4,1159.6 307.8,1159.3 308.2,1159.1 308.5,1158.9 308.9,1158.7 309.1,1158.6 309.3,1158.5 309.6,1158.3 310.0,1158.1 310.4,1157.9 310.7,1157.6 311.1,1157.4 311.5,1157.1 311.9,1156.9 312.2,1156.6 312.6,1156.3 313.0,1156.1 313.3,1155.8 313.7,1155.5 314.1,1155.3 314.4,1155.0 314.8,1154.7 315.2,1154.4 315.5,1154.2 315.9,1153.9 316.3,1153.6 316.6,1153.3 317.0,1153.1 317.4,1152.8 317.7,1152.6 318.1,1152.3 318.5,1152.1 318.8,1151.9 319.2,1151.7 319.6,1151.4 319.9,1151.3 320.3,1151.1 320.7,1150.9 321.0,1150.7 321.4,1150.6 321.8,1150.4 322.1,1150.3 322.5,1150.2 322.9,1150.1 323.2,1150.1 323.6,1150.0 324.0,1149.9 324.4,1149.9 324.7,1149.8 325.1,1149.8 325.5,1149.8 325.8,1149.7 326.2,1149.7 326.6,1149.6 326.9,1149.6 327.3,1149.5 327.7,1149.5 327.9,1149.4 328.0,1149.4 328.4,1149.3 328.8,1149.1 329.1,1149.0 329.5,1148.8 329.9,1148.6 330.2,1148.4 330.6,1148.1 331.0,1147.9 331.3,1147.6 331.7,1147.4 332.1,1147.1 332.4,1146.8 332.8,1146.5 333.2,1146.3 333.5,1146.1 333.5,1146.0 333.9,1145.7 334.3,1145.4 334.6,1145.0 335.0,1144.6 335.4,1144.2 335.7,1143.8 336.1,1143.5 336.5,1143.2 336.9,1142.9 337.2,1142.7 337.6,1142.6 338.0,1142.5 338.3,1142.4 338.7,1142.4 339.1,1142.3 339.4,1142.3 339.8,1142.3 340.2,1142.2 340.5,1142.2 340.9,1142.2 341.3,1142.1 341.6,1142.0 341.7,1142.0 342.0,1142.0 342.4,1141.9 342.7,1141.8 343.1,1141.6 343.5,1141.5 343.8,1141.3 344.2,1141.1 344.6,1141.0 344.9,1140.8 345.3,1140.6 345.7,1140.4 346.0,1140.1 346.4,1139.9 346.8,1139.7 347.1,1139.5 347.5,1139.3 347.9,1139.0 348.2,1138.8 348.6,1138.6 349.0,1138.4 349.4,1138.1 349.7,1137.9 350.0,1137.8 350.1,1137.7 350.5,1137.5 350.8,1137.4 351.2,1137.2 351.6,1137.0 351.9,1136.8 352.3,1136.6 352.7,1136.4 353.0,1136.2 353.4,1136.1 353.8,1135.9 354.1,1135.7 354.5,1135.5 354.9,1135.3 355.2,1135.1 355.6,1135.0 356.0,1134.8 356.3,1134.6 356.7,1134.4 357.1,1134.2 357.4,1134.0 357.8,1133.8 358.2,1133.5 358.5,1133.3 358.9,1133.1 359.3,1132.9 359.6,1132.6 360.0,1132.4 360.4,1132.1 360.7,1131.9 361.1,1131.6 361.5,1131.3 361.9,1131.0 361.9,1131.0 362.2,1130.7 362.6,1130.4 363.0,1130.1 363.3,1129.8 363.7,1129.4 364.1,1129.1 364.4,1128.7 364.8,1128.3 365.2,1127.8 365.5,1127.4 365.9,1126.9 366.3,1126.5 366.6,1125.9 367.0,1125.4 367.4,1124.9 367.7,1124.3 367.9,1124.0 368.1,1123.6 368.5,1122.9 368.8,1122.0 369.2,1121.1 369.6,1120.1 369.9,1119.2 370.2,1118.4 370.3,1118.2 370.7,1117.1 371.0,1115.8 371.4,1114.5 371.8,1113.4 372.1,1112.7 372.5,1112.4 372.9,1112.6 373.2,1113.1 373.6,1113.8 374.0,1114.7 374.4,1115.7 374.7,1116.7 375.1,1117.5 375.5,1118.1 375.7,1118.4 375.8,1118.5 376.2,1118.8 376.6,1119.0 376.9,1119.2 377.3,1119.4 377.7,1119.5 378.0,1119.5 378.4,1119.5 378.8,1119.5 379.1,1119.3 379.5,1119.2 379.9,1119.0 380.2,1118.8 380.6,1118.6 381.0,1118.3 381.3,1118.0 381.7,1117.7 382.1,1117.4 382.4,1117.0 382.8,1116.7 383.2,1116.4 383.5,1116.0 383.9,1115.7 384.3,1115.3 384.6,1115.0 385.0,1114.7 385.4,1114.4 385.7,1114.1 386.1,1113.8 386.5,1113.5 386.9,1113.2 387.2,1112.9 387.6,1112.7 388.0,1112.4 388.3,1112.1 388.7,1111.8 389.1,1111.5 389.4,1111.2 389.8,1110.8 390.2,1110.5 390.5,1110.2 390.9,1109.9 391.3,1109.5 391.6,1109.2 392.0,1108.8 392.4,1108.5 392.7,1108.1 393.1,1107.7 393.5,1107.3 393.8,1106.9 394.2,1106.5 394.6,1106.1 394.9,1105.7 395.3,1105.2 395.7,1104.6 396.0,1104.1 396.4,1103.5 396.8,1102.9 397.1,1102.3 397.5,1101.7 397.9,1101.0 398.2,1100.4 398.6,1099.7 399.0,1099.1 399.4,1098.5 399.7,1097.8 400.1,1097.2 400.5,1096.6 400.8,1096.0 401.2,1095.4 401.5,1095.0 401.6,1094.9 401.9,1094.4 402.3,1093.9 402.7,1093.3 403.0,1092.8 403.4,1092.3 403.8,1091.8 404.1,1091.2 404.5,1090.7 404.9,1090.2 405.2,1089.7 405.6,1089.3 406.0,1088.8 406.3,1088.3 406.7,1087.9 407.1,1087.5 407.4,1087.1 407.8,1086.7 408.2,1086.4 408.4,1086.2 408.5,1086.0 408.9,1085.7 409.3,1085.4 409.6,1085.1 410.0,1084.8 410.4,1084.6 410.7,1084.3 411.1,1084.0 411.5,1083.8 411.8,1083.5 412.2,1083.3 412.6,1083.0 413.0,1082.8 413.3,1082.6 413.7,1082.3 414.1,1082.1 414.4,1081.9 414.8,1081.7 415.2,1081.5 415.5,1081.3 415.9,1081.1 416.3,1080.9 416.6,1080.7 417.0,1080.5 417.4,1080.3 417.7,1080.0 418.1,1079.8 418.5,1079.6 418.8,1079.3 419.2,1079.1 419.6,1078.9 419.9,1078.7 420.3,1078.5 420.7,1078.3 421.0,1078.1 421.4,1078.0 421.8,1077.8 422.1,1077.7 422.5,1077.6 422.9,1077.6 423.2,1077.5 423.4,1077.5 423.6,1077.6 424.0,1077.8 424.3,1078.1 424.7,1078.5 425.1,1079.0 425.5,1079.7 425.8,1080.3 426.2,1081.0 426.3,1081.2 426.6,1081.9 426.9,1083.1 427.3,1084.6 427.7,1086.3 428.0,1088.2 428.4,1090.2 428.8,1092.3 429.0,1093.8 429.1,1094.3 429.5,1096.4 429.9,1098.6 430.2,1101.1 430.6,1103.6 431.0,1106.2 431.3,1108.8 431.7,1111.4 432.1,1114.0 432.4,1116.5 432.8,1118.9 433.2,1121.2 433.5,1123.4 433.9,1125.5 434.3,1127.7 434.6,1129.8 435.0,1131.9 435.4,1133.9 435.7,1135.8 436.1,1137.7 436.5,1139.5 436.8,1141.3 437.2,1142.9 437.3,1143.3 437.6,1144.5 438.0,1146.0 438.3,1147.4 438.7,1148.9 439.1,1150.2 439.4,1151.6 439.8,1152.9 440.2,1154.1 440.5,1155.4 440.9,1156.6 441.3,1157.7 441.6,1158.9 442.0,1160.0 442.4,1161.1 442.7,1162.2 442.8,1162.5 443.1,1163.3 443.5,1164.3 443.8,1165.4 444.2,1166.4 444.6,1167.4 444.9,1168.4 445.3,1169.3 445.7,1170.3 446.0,1171.2 446.4,1172.1 446.8,1172.9 447.1,1173.8 447.5,1174.6 447.9,1175.4 448.2,1176.1 448.3,1176.3 448.6,1176.8 449.0,1177.5 449.3,1178.2 449.7,1178.9 450.1,1179.6 450.5,1180.3 450.8,1180.9 451.2,1181.5 451.6,1182.2 451.9,1182.8 452.3,1183.3 452.7,1183.9 453.0,1184.4 453.4,1185.0 453.8,1185.4 454.1,1185.9 454.5,1186.4 454.9,1186.8 455.2,1187.2 455.6,1187.5 456.0,1187.9 456.3,1188.2 456.7,1188.6 457.1,1188.9 457.4,1189.3 457.8,1189.6 458.2,1189.9 458.5,1190.2 458.9,1190.5 459.3,1190.8 459.6,1191.1 460.0,1191.4 460.4,1191.6 460.7,1191.9 461.1,1192.1 461.5,1192.4 461.8,1192.6 462.2,1192.8 462.6,1193.0 463.0,1193.2 463.3,1193.4 463.7,1193.6 464.1,1193.8 464.4,1194.0 464.8,1194.1 464.9,1194.2 465.2,1194.3 465.5,1194.4 465.9,1194.6 466.3,1194.7 466.6,1194.8 467.0,1194.9 467.4,1195.1 467.7,1195.2 468.1,1195.3 468.5,1195.4 468.8,1195.5 469.2,1195.6 469.6,1195.7 469.9,1195.8 470.3,1195.9 470.7,1196.0 471.0,1196.0 471.4,1196.1 471.8,1196.2 471.8,1196.2 472.1,1196.3 472.5,1196.3 472.9,1196.4 473.2,1196.5 473.6,1196.5 474.0,1196.6 474.3,1196.7 474.7,1196.7 475.1,1196.8 475.5,1196.9 475.8,1196.9 476.2,1197.0 476.6,1197.0 476.9,1197.1 477.3,1197.1 477.7,1197.2 478.0,1197.3 478.4,1197.3 478.8,1197.4 479.1,1197.4 479.5,1197.5 479.9,1197.5 480.2,1197.6 480.6,1197.6 481.0,1197.7 481.3,1197.7 481.7,1197.8 482.1,1197.8 482.4,1197.9 482.8,1197.9 483.2,1198.0 483.5,1198.0 483.9,1198.0 484.3,1198.1 484.6,1198.1 485.0,1198.2 485.4,1198.2 485.7,1198.3 486.1,1198.3 486.5,1198.3 486.8,1198.4 487.2,1198.4 487.6,1198.5 488.0,1198.5 488.3,1198.5 488.7,1198.6 489.1,1198.6 489.4,1198.6 489.8,1198.7 490.2,1198.7 490.5,1198.8 490.9,1198.8 491.3,1198.8 491.6,1198.9 492.0,1198.9 492.4,1198.9 492.5,1199.0 492.7,1199.0 493.1,1199.0 493.5,1199.0 493.8,1199.1 494.2,1199.1 494.6,1199.2 494.9,1199.2 495.3,1199.2 495.7,1199.3 496.0,1199.3 496.4,1199.3 496.8,1199.4 497.1,1199.4 497.5,1199.5 497.9,1199.5 498.2,1199.5 498.6,1199.6 499.0,1199.6 499.3,1199.6 499.7,1199.7 500.1,1199.7 500.5,1199.8 500.8,1199.8 501.2,1199.8 501.6,1199.9 501.9,1199.9 502.3,1199.9 502.7,1200.0 503.0,1200.0 503.4,1200.1 503.8,1200.1 504.1,1200.1 504.5,1200.2 504.9,1200.2 505.2,1200.2 505.6,1200.3 506.0,1200.3 506.3,1200.3 506.7,1200.4 507.1,1200.4 507.4,1200.4 507.8,1200.4 508.2,1200.5 508.5,1200.5 508.9,1200.5 509.3,1200.6 509.6,1200.6 510.0,1200.6 510.4,1200.6 510.7,1200.7 511.1,1200.7 511.5,1200.7 511.8,1200.7 512.2,1200.8 512.6,1200.8 512.9,1200.8 513.3,1200.8 513.7,1200.8 514.1,1200.8 514.4,1200.9 514.8,1200.9 515.2,1200.9 515.5,1200.9 515.9,1200.9 516.3,1200.9 516.6,1200.9 517.0,1200.9 517.4,1201.0 517.7,1201.0 518.1,1201.0 518.5,1201.0 518.8,1201.0 519.2,1201.0 519.6,1201.0 519.9,1201.0 520.3,1201.0 520.7,1201.0 521.0,1201.0 521.4,1201.0 521.8,1201.0 522.1,1201.0 522.5,1201.0 522.9,1201.0 523.2,1201.0 523.6,1201.0 524.0,1201.0 524.3,1201.0 524.7,1201.0 525.1,1201.0 525.4,1201.0 525.8,1201.0 526.2,1201.0 526.6,1201.0 526.9,1201.0 527.3,1201.0 527.7,1201.0 528.0,1201.0 528.4,1201.0 528.8,1201.0 529.1,1201.0 529.5,1201.0 529.9,1201.0 530.2,1201.0 530.6,1201.0 531.0,1201.0 531.3,1201.0 531.7,1201.0 532.1,1201.0 532.4,1201.0 532.8,1201.0 533.2,1201.0 533.5,1201.0 533.9,1201.0 534.3,1201.0 534.6,1201.0 535.0,1201.0 535.4,1201.0 535.7,1201.0 536.1,1201.0 536.5,1201.0 536.8,1201.0 537.2,1201.0 537.6,1201.0 537.9,1201.0 538.3,1201.0 538.7,1201.0 539.1,1201.0 539.4,1201.0 539.8,1201.0 540.2,1201.0 540.5,1201.0 540.9,1201.0 541.3,1201.0 541.6,1201.0 542.0,1201.0 542.4,1201.0 542.7,1201.0 543.1,1201.0 543.5,1201.0 543.8,1201.0 544.2,1201.0 544.6,1201.0 544.9,1201.0 545.3,1201.0 545.7,1201.0 546.0,1201.0 546.4,1201.0 546.8,1201.0 547.1,1201.0 547.5,1201.0 547.9,1201.0 548.2,1201.0 548.6,1201.0 549.0,1201.0 549.3,1201.0 549.7,1201.0 550.1,1201.0 550.4,1201.0 550.8,1201.0 551.2,1201.0 551.6,1201.0 551.9,1201.0 552.3,1201.0 552.7,1201.0 553.0,1201.0 553.4,1201.0 553.8,1201.0 554.1,1201.0 554.5,1201.0 554.9,1201.0 555.2,1201.0 555.6,1201.0 556.0,1201.0 556.3,1201.0 556.7,1201.0 557.1,1201.0 557.4,1201.0 557.8,1201.0 558.2,1201.0 558.5,1201.0 558.9,1201.0 559.3,1201.0 559.6,1201.0 560.0,1201.0 560.4,1201.0 560.7,1201.0 560.9,1201.0 561.1,1201.0 561.5,1201.0 561.8,1201.0 562.2,1201.0 562.6,1201.0 562.9,1201.0 563.3,1201.0 563.7,1201.0 564.1,1201.0 564.4,1201.0 564.8,1201.0 565.2,1201.0 565.5,1201.0 565.9,1201.0 566.3,1201.0 566.6,1201.0 567.0,1201.0 567.4,1201.0 567.7,1201.0 568.1,1201.0 568.5,1201.0 568.8,1201.0 569.2,1201.0 569.6,1201.0 569.9,1201.0 570.3,1201.0 570.7,1201.0 571.0,1201.0 571.4,1201.0 571.8,1201.0 572.1,1201.0 572.5,1201.0 572.9,1201.0 573.2,1201.1 573.6,1201.1 574.0,1201.1 574.3,1201.1 574.7,1201.1 575.1,1201.1 575.4,1201.1 575.8,1201.1 576.2,1201.1 576.6,1201.1 576.9,1201.1 577.3,1201.1 577.7,1201.1 578.0,1201.1 578.4,1201.1 578.8,1201.1 579.1,1201.1 579.5,1201.1 579.9,1201.1 580.2,1201.1 580.6,1201.1 581.0,1201.1 581.3,1201.1 581.7,1201.1 582.1,1201.1 582.4,1201.1 582.8,1201.1 583.2,1201.1 583.5,1201.1 583.9,1201.1 584.3,1201.1 584.6,1201.1 585.0,1201.1 585.4,1201.2 585.7,1201.2 586.1,1201.2 586.5,1201.2 586.8,1201.2 587.2,1201.2 587.6,1201.2 587.9,1201.2 588.3,1201.2 588.7,1201.2 589.1,1201.2 589.4,1201.2 589.8,1201.2 590.2,1201.2 590.5,1201.2 590.9,1201.2 591.3,1201.1 591.6,1201.1 592.0,1201.1 592.4,1201.1 592.7,1201.1 593.1,1201.1 593.5,1201.1 593.8,1201.1 594.2,1201.1 594.6,1201.1 594.9,1201.1 595.3,1201.0 595.7,1201.0 596.0,1201.0 596.4,1201.0 596.8,1201.0 597.1,1201.0 597.5,1201.0 597.9,1200.9 598.2,1200.9 598.6,1200.9 599.0,1200.9 599.3,1200.9 599.7,1200.9 600.1,1200.8 600.4,1200.8 600.8,1200.8 601.2,1200.8 601.6,1200.8 601.9,1200.8 602.3,1200.7 602.7,1200.7 603.0,1200.7 603.2,1200.7" fill="none" stroke="#000" stroke-width="1.15" stroke-linejoin="round"/>
<rect x="102.8" y="1237.7" width="505.8" height="202.2" fill="none" stroke="#000" stroke-width="2.1"/>
<path d="M148.7 1439.9v-6.3M194.7 1439.9v-6.3M240.7 1439.9v-6.3M286.7 1439.9v-6.3M332.6 1439.9v-6.3M378.6 1439.9v-6.3M424.6 1439.9v-6.3M470.6 1439.9v-6.3M516.5 1439.9v-6.3M562.5 1439.9v-6.3M102.8 1417.4h6.5M102.8 1372.5h6.5M102.8 1327.6h6.5M102.8 1282.6h6.5M102.8 1395.0h6M102.8 1350.0h6M102.8 1305.1h6M102.8 1260.2h6" stroke="#000" stroke-width="1.8" fill="none"/>
<text x="93.5" y="1253.4" font-size="31.5" text-anchor="end">8</text>
<text x="93.5" y="1298.2" font-size="31.5" text-anchor="end">6</text>
<text x="93.5" y="1343.0" font-size="31.5" text-anchor="end">4</text>
<text x="93.5" y="1387.8" font-size="31.5" text-anchor="end">2</text>
<text x="93.5" y="1432.6" font-size="31.5" text-anchor="end">0</text>
<text x="586.7" y="1266.7" font-size="31" text-anchor="end">m/z 367.15 [M+H]</text>
<text x="586.1" y="1258.0" font-size="21.5">+</text>
<path d="M279.8 1246.0V1275.6" stroke="#000" stroke-width="1.5" fill="none"/>
<path d="M274.1 1270.0H285.5L279.8 1285.6Z" fill="#000"/>
<clipPath id="c9"><rect x="102.8" y="1237.7" width="505.8" height="202.2"/></clipPath>
<polyline clip-path="url(#c9)" points="102.8,1394.2 103.5,1396.7 104.3,1396.9 105.1,1399.6 105.8,1396.3 106.6,1396.7 107.4,1397.0 108.1,1395.9 108.9,1395.8 109.7,1397.6 110.4,1397.4 111.2,1396.9 112.0,1395.5 112.7,1395.6 113.5,1397.9 114.3,1397.7 115.0,1395.4 115.8,1394.4 116.6,1396.4 117.3,1397.2 118.1,1395.0 118.9,1396.7 119.3,1395.4 119.6,1393.7 120.4,1391.2 120.5,1391.5 121.2,1389.1 121.9,1386.3 121.9,1385.0 122.7,1346.4 122.8,1344.3 123.5,1360.1 123.5,1360.2 124.2,1346.1 124.3,1345.5 125.0,1324.5 125.0,1324.3 125.7,1358.4 125.8,1362.3 126.2,1383.6 126.6,1391.1 127.3,1400.0 127.4,1398.8 128.1,1396.9 128.9,1392.5 129.4,1394.0 129.6,1392.5 130.4,1393.0 131.2,1396.3 131.9,1397.3 132.2,1395.8 132.7,1400.3 133.1,1404.9 133.5,1411.1 133.9,1415.4 134.2,1415.0 135.0,1409.2 135.8,1407.5 135.9,1406.4 136.5,1404.2 137.3,1405.3 138.1,1400.6 138.8,1402.3 139.6,1400.8 139.8,1397.9 140.4,1401.3 141.1,1400.5 141.9,1397.6 142.7,1400.6 143.4,1399.6 144.2,1398.2 145.0,1398.1 145.3,1397.8 145.7,1398.0 146.5,1396.6 147.3,1396.7 148.1,1397.0 148.8,1398.4 149.6,1398.2 150.4,1399.5 151.1,1396.1 151.9,1399.1 152.7,1395.6 153.4,1394.3 154.2,1397.9 154.9,1397.4 155.0,1397.1 155.7,1395.6 156.5,1398.0 157.3,1397.4 158.0,1398.2 158.8,1398.0 158.8,1396.1 159.6,1398.5 160.3,1396.3 161.1,1394.7 161.9,1392.6 162.5,1394.1 162.6,1390.9 163.4,1390.0 164.2,1387.8 164.8,1388.1 164.9,1390.6 165.7,1397.7 165.7,1396.2 166.5,1406.4 166.9,1409.0 167.2,1406.4 168.0,1404.0 168.8,1404.1 169.6,1399.4 169.9,1403.7 170.3,1403.3 171.1,1398.9 171.9,1399.6 172.6,1398.0 173.4,1397.6 174.2,1398.1 174.9,1397.0 174.9,1397.7 175.7,1399.8 176.5,1397.7 177.2,1397.7 178.0,1395.8 178.8,1399.5 179.5,1398.1 180.3,1398.8 181.1,1398.5 181.8,1396.4 182.3,1398.1 182.6,1399.2 183.4,1398.8 184.1,1398.6 184.9,1401.5 185.7,1401.2 186.4,1399.6 187.2,1400.8 187.8,1402.0 188.0,1402.5 188.7,1402.1 189.5,1403.8 190.3,1400.8 191.0,1401.5 191.8,1401.8 192.6,1403.5 193.4,1402.8 194.1,1401.3 194.7,1401.6 194.9,1402.3 195.7,1397.1 196.4,1392.8 196.5,1394.7 197.2,1395.3 198.0,1397.8 198.2,1398.6 198.7,1398.5 199.5,1401.9 199.8,1402.4 200.3,1401.2 201.0,1390.8 201.1,1388.3 201.8,1379.0 202.6,1368.2 202.8,1368.2 203.3,1368.9 204.1,1376.3 204.4,1379.6 204.9,1386.5 205.3,1392.6 205.6,1393.2 206.4,1397.5 207.1,1396.8 207.2,1398.4 207.9,1398.4 208.7,1398.5 209.5,1396.7 210.2,1397.0 211.0,1396.9 211.8,1398.3 212.5,1396.4 213.3,1398.1 214.1,1394.2 214.9,1395.9 215.6,1395.3 216.4,1395.5 217.2,1397.2 217.9,1396.9 218.2,1395.2 218.7,1393.5 219.5,1397.2 220.2,1397.5 221.0,1397.7 221.8,1400.7 222.3,1401.3 222.5,1400.0 223.3,1400.5 224.1,1402.0 224.8,1400.8 225.6,1404.1 226.4,1404.6 227.1,1404.1 227.9,1404.9 228.7,1409.8 229.2,1408.7 229.4,1407.0 230.2,1410.7 231.0,1410.6 231.7,1411.6 232.5,1412.1 233.3,1412.3 234.0,1411.0 234.8,1409.9 235.6,1409.7 236.1,1411.6 236.4,1414.0 237.1,1411.6 237.9,1411.7 238.7,1410.6 239.4,1410.9 240.2,1412.5 241.0,1409.4 241.7,1412.0 242.5,1409.8 243.3,1408.1 244.0,1407.5 244.4,1405.8 244.8,1410.4 245.6,1406.4 246.3,1405.2 247.1,1405.6 247.9,1403.6 248.6,1405.0 249.4,1402.1 250.2,1401.7 250.9,1403.2 251.3,1402.8 251.7,1402.1 252.5,1402.6 253.2,1400.4 254.0,1401.4 254.8,1399.9 255.5,1400.0 256.3,1401.3 257.1,1401.5 257.8,1402.4 258.6,1402.2 259.4,1402.1 260.2,1400.7 260.9,1402.2 261.7,1401.0 262.5,1400.8 263.2,1401.6 263.7,1401.3 264.0,1399.3 264.8,1399.3 265.5,1402.6 266.3,1402.3 267.1,1403.1 267.8,1403.6 268.6,1401.9 269.4,1403.4 270.1,1403.1 270.9,1402.6 271.3,1405.4 271.7,1404.8 272.4,1402.6 273.2,1398.5 274.0,1396.6 274.7,1393.0 274.7,1392.3 275.5,1390.4 276.3,1389.6 277.0,1388.6 277.5,1387.3 277.8,1381.3 278.6,1365.3 278.8,1359.4 279.3,1343.8 280.1,1317.3 280.2,1314.8 280.9,1295.3 281.1,1293.1 281.7,1304.7 282.1,1320.5 282.4,1336.7 283.2,1371.6 283.2,1372.3 284.0,1393.4 284.4,1397.8 284.7,1395.5 285.5,1396.1 286.3,1392.3 286.7,1394.9 287.0,1393.0 287.8,1393.7 288.6,1394.7 289.3,1396.9 290.1,1392.2 290.9,1395.3 291.6,1395.1 292.4,1394.0 293.2,1394.1 293.9,1393.9 294.7,1394.6 295.5,1396.0 296.2,1393.4 297.0,1395.5 297.8,1394.2 298.5,1393.9 299.3,1393.2 299.5,1394.8 300.1,1394.9 300.8,1394.8 301.6,1396.6 302.4,1395.3 303.2,1395.6 303.9,1395.7 304.7,1394.2 305.5,1394.7 306.2,1392.5 307.0,1392.6 307.8,1396.3 308.5,1394.0 309.3,1395.2 310.1,1393.4 310.8,1393.8 311.6,1392.9 312.4,1393.5 313.1,1392.9 313.9,1394.0 314.7,1396.5 315.4,1394.9 316.2,1394.5 317.0,1394.0 317.7,1394.5 318.5,1391.5 319.3,1393.4 320.0,1391.7 320.2,1393.5 320.8,1391.3 321.6,1394.4 322.3,1392.3 323.1,1394.4 323.9,1392.3 324.7,1390.9 325.4,1394.4 326.2,1393.5 327.0,1392.1 327.7,1392.5 328.5,1393.7 329.3,1390.8 330.0,1392.0 330.8,1390.5 331.6,1391.5 332.3,1393.2 333.1,1392.4 333.9,1390.3 334.0,1393.4 334.6,1392.3 335.4,1391.1 336.2,1390.7 336.9,1390.9 337.7,1393.5 338.5,1389.5 339.2,1392.0 340.0,1391.8 340.8,1391.8 341.5,1392.1 342.3,1392.9 343.1,1392.2 343.8,1390.3 344.6,1393.4 345.4,1394.6 346.1,1391.2 346.9,1391.4 347.7,1391.0 348.5,1389.9 349.2,1392.6 350.0,1391.6 350.8,1391.3 351.5,1390.4 352.3,1390.7 353.1,1392.8 353.8,1393.4 354.6,1392.1 355.2,1393.6 355.4,1390.6 356.1,1392.3 356.9,1392.3 357.7,1393.0 358.4,1390.4 359.2,1391.9 360.0,1392.8 360.7,1391.7 361.5,1392.6 362.1,1391.8 362.3,1391.0 363.0,1392.6 363.8,1391.3 364.6,1390.8 365.3,1389.3 366.1,1389.2 366.9,1389.1 367.6,1389.2 368.4,1387.5 369.0,1388.7 369.2,1386.7 370.0,1387.0 370.7,1386.1 371.5,1386.9 372.3,1386.9 373.0,1386.7 373.8,1384.1 374.6,1385.3 375.3,1385.0 376.1,1386.5 376.9,1384.3 377.6,1387.9 378.4,1382.3 379.2,1383.9 379.9,1383.5 380.0,1385.1 380.7,1384.6 381.5,1382.6 382.2,1383.4 383.0,1382.6 383.8,1381.5 384.5,1382.1 385.3,1384.9 386.1,1383.8 386.8,1383.9 387.6,1383.6 388.3,1384.9 388.4,1384.9 389.1,1383.5 389.9,1383.5 390.7,1382.5 391.5,1383.8 392.2,1382.3 393.0,1386.3 393.8,1386.3 394.5,1384.9 395.3,1385.9 396.1,1387.1 396.5,1385.3 396.8,1385.1 397.6,1385.3 398.4,1387.6 399.1,1387.7 399.9,1387.8 400.7,1388.4 401.4,1387.6 402.2,1389.4 402.5,1388.5 403.0,1391.3 403.7,1387.7 404.5,1386.3 405.3,1387.5 406.0,1385.5 406.8,1387.8 407.6,1385.5 408.3,1386.0 409.1,1383.3 409.9,1382.5 410.3,1384.4 410.6,1383.7 411.4,1383.0 412.2,1379.3 412.9,1381.8 413.7,1381.4 414.5,1381.1 414.5,1381.2 415.3,1381.8 416.0,1383.0 416.8,1382.3 417.6,1379.8 418.3,1381.4 419.1,1382.1 419.9,1383.3 420.6,1381.9 421.4,1381.9 422.2,1382.8 422.9,1381.2 423.7,1383.0 424.5,1382.6 425.2,1381.6 425.5,1382.4 426.0,1381.5 426.8,1383.3 427.5,1383.9 428.3,1383.4 429.1,1384.3 429.8,1383.8 430.6,1385.3 431.4,1386.5 432.1,1386.6 432.9,1386.9 433.7,1389.4 433.8,1388.4 434.4,1389.0 435.2,1387.8 436.0,1390.2 436.8,1389.0 437.5,1392.1 438.3,1391.2 439.1,1390.4 439.8,1392.2 440.6,1390.9 441.4,1394.7 441.8,1392.5 442.1,1392.3 442.9,1392.8 443.7,1394.4 444.4,1392.0 445.2,1395.5 446.0,1391.9 446.7,1392.7 447.5,1391.9 448.3,1393.3 449.0,1394.0 449.8,1393.6 450.6,1393.6 451.3,1392.8 452.1,1393.6 452.9,1393.1 453.6,1393.0 454.4,1392.3 455.2,1395.1 455.9,1393.8 456.7,1393.0 457.5,1393.0 458.3,1394.0 459.0,1393.8 459.8,1393.7 460.6,1393.6 461.3,1394.2 462.1,1394.2 462.9,1394.6 463.6,1394.1 464.4,1392.7 465.1,1394.6 465.2,1393.1 465.9,1392.3 466.7,1393.7 467.5,1392.1 468.2,1394.0 469.0,1392.6 469.8,1394.0 470.5,1395.0 471.3,1393.7 472.1,1392.6 472.8,1394.5 473.6,1393.7 474.4,1394.9 475.1,1394.8 475.9,1393.8 476.7,1394.3 477.4,1393.7 478.2,1393.2 479.0,1395.1 479.7,1394.8 480.5,1394.2 481.3,1392.4 482.1,1394.5 482.8,1394.7 483.6,1394.0 484.4,1392.7 485.1,1394.8 485.9,1394.6 486.7,1394.3 487.4,1393.8 488.2,1392.7 489.0,1395.4 489.7,1395.7 490.5,1394.3 491.3,1394.0 492.0,1396.2 492.6,1394.9 492.8,1393.7 493.6,1394.9 494.3,1394.1 495.1,1394.3 495.9,1394.0 496.6,1394.2 497.4,1394.3 498.2,1393.5 498.9,1395.0 499.7,1394.4 500.5,1393.7 501.2,1395.0 502.0,1394.9 502.8,1395.2 503.6,1395.3 504.3,1393.0 505.1,1394.2 505.9,1393.1 506.6,1394.0 507.4,1394.6 508.2,1394.8 508.9,1394.4 509.7,1394.7 510.5,1393.9 511.2,1395.3 512.0,1394.5 512.8,1394.3 513.5,1394.9 514.3,1394.9 515.1,1394.3 515.8,1394.3 516.6,1394.8 517.4,1394.7 518.1,1395.2 518.9,1394.3 519.7,1394.8 520.4,1396.0 521.2,1395.0 522.0,1394.3 522.7,1394.5 523.5,1395.5 524.3,1394.2 525.1,1394.3 525.8,1394.3 526.6,1393.6 527.4,1395.1 528.1,1394.4 528.9,1395.0 529.7,1394.1 530.4,1393.9 531.2,1394.5 532.0,1394.3 532.7,1395.5 533.5,1394.4 534.3,1395.8 535.0,1393.2 535.8,1394.0 536.6,1396.1 537.3,1397.0 538.1,1393.9 538.9,1395.6 539.6,1394.5 540.4,1396.0 541.2,1394.9 541.9,1395.5 542.7,1394.5 543.5,1395.3 544.2,1393.8 545.0,1395.6 545.8,1394.0 546.6,1395.0 547.3,1394.6 548.1,1396.3 548.9,1396.4 549.6,1394.2 550.4,1396.0 551.2,1395.3 551.9,1395.3 552.7,1395.8 553.5,1394.9 554.2,1396.2 555.0,1396.0 555.8,1394.4 556.5,1395.8 557.3,1394.6 558.1,1394.6 558.8,1394.0 559.6,1394.8 560.4,1396.6 561.1,1395.7 561.6,1395.5 561.9,1394.2 562.7,1394.9 563.4,1395.6 564.2,1394.9 565.0,1395.5 565.7,1394.8 566.5,1395.1 567.3,1394.4 568.0,1395.0 568.8,1394.5 569.6,1395.3 570.4,1394.7 571.1,1395.4 571.9,1394.8 572.7,1395.2 573.4,1395.4 574.2,1395.7 575.0,1395.6 575.7,1395.0 576.5,1397.2 577.3,1394.4 578.0,1397.3 578.8,1395.6 579.6,1395.7 580.3,1394.9 581.1,1395.3 581.9,1395.5 582.6,1395.4 583.4,1394.7 584.2,1393.6 584.9,1395.2 585.7,1397.1 586.5,1395.9 587.2,1395.2 588.0,1392.9 588.8,1396.2 589.5,1395.9 590.3,1395.1 591.1,1395.3 591.9,1396.6 592.6,1394.9 593.4,1396.7 594.2,1395.8 594.9,1394.6 595.7,1396.7 596.5,1395.9 597.2,1394.4 598.0,1395.9 598.8,1396.5 599.5,1396.2 600.3,1395.1 601.1,1397.0 601.8,1396.3 602.6,1396.9 603.4,1396.7 604.1,1394.8 604.9,1395.9 605.7,1396.2 606.4,1395.5 607.2,1396.4 608.0,1396.8 608.5,1395.0 608.7,1395.2" fill="none" stroke="#000" stroke-width="1.15" stroke-linejoin="round"/>
<rect x="741.9" y="800.8" width="502.6" height="201.1" fill="none" stroke="#000" stroke-width="2.1"/>
<path d="M787.5 1001.9v-6.3M833.2 1001.9v-6.3M878.9 1001.9v-6.3M924.6 1001.9v-6.3M970.3 1001.9v-6.3M1016.0 1001.9v-6.3M1061.7 1001.9v-6.3M1107.3 1001.9v-6.3M1153.0 1001.9v-6.3M1198.7 1001.9v-6.3M741.9 989.3h6.5M741.9 926.5h6.5M741.9 863.6h6.5M741.9 957.9h6M741.9 895.1h6M741.9 832.2h6" stroke="#000" stroke-width="1.8" fill="none"/>
<text x="732.9" y="811.1" font-size="31.5" text-anchor="end">3</text>
<text x="732.9" y="874.2" font-size="31.5" text-anchor="end">2</text>
<text x="732.9" y="937.3" font-size="31.5" text-anchor="end">1</text>
<text x="732.9" y="1000.5" font-size="31.5" text-anchor="end">0</text>
<text x="1237.8" y="835.2" font-size="31" text-anchor="end">A280</text>
<path d="M915.6 808.6V839.0" stroke="#000" stroke-width="1.5" fill="none"/>
<path d="M909.9 833.4H921.3L915.6 849.0Z" fill="#000"/>
<clipPath id="c10"><rect x="741.9" y="800.8" width="502.6" height="201.1"/></clipPath>
<polyline clip-path="url(#c10)" points="741.9,989.3 742.2,989.3 742.6,989.3 742.9,989.3 743.3,989.3 743.7,989.3 744.0,989.3 744.4,989.3 744.8,989.3 745.1,989.3 745.5,989.3 745.9,989.3 746.2,989.3 746.6,989.3 747.0,989.3 747.3,989.3 747.7,989.3 748.1,989.3 748.4,989.3 748.8,989.3 749.2,989.3 749.5,989.3 749.9,989.3 750.3,989.3 750.6,989.3 751.0,989.3 751.4,989.3 751.7,989.3 752.1,989.3 752.4,989.3 752.8,989.3 753.2,989.3 753.5,989.3 753.9,989.3 754.3,989.3 754.6,989.3 755.0,989.3 755.4,989.3 755.7,989.3 756.1,989.3 756.5,989.3 756.8,989.3 757.2,989.3 757.2,989.3 757.6,989.2 757.9,988.9 758.3,988.3 758.7,987.6 759.0,986.9 759.2,986.4 759.4,986.0 759.8,984.8 760.1,983.2 760.5,980.9 760.6,980.2 760.9,976.0 761.2,967.0 761.5,961.1 761.6,959.5 762.0,953.0 762.3,949.9 762.7,953.9 763.0,960.5 763.1,961.1 763.4,965.1 763.8,969.3 764.1,971.1 764.1,971.2 764.5,971.5 764.9,971.7 765.2,971.9 765.6,972.1 765.9,972.4 766.0,972.5 766.3,973.7 766.7,975.5 767.1,977.3 767.4,978.6 767.8,979.6 768.2,980.6 768.5,981.5 768.9,982.3 769.3,982.8 769.6,983.0 769.7,983.0 770.0,982.2 770.4,979.2 770.6,976.8 770.7,975.9 771.1,971.4 771.3,970.5 771.5,971.7 771.8,977.1 771.9,978.0 772.2,980.2 772.6,983.0 772.9,985.1 773.3,986.1 773.4,986.2 773.6,985.9 774.0,985.0 774.4,983.9 774.7,982.8 775.1,982.4 775.5,982.6 775.8,983.0 776.2,983.6 776.6,984.2 776.9,985.0 777.3,985.6 777.7,986.2 777.9,986.4 778.0,986.5 778.4,986.8 778.8,987.1 779.1,987.3 779.5,987.6 779.9,987.8 780.2,988.0 780.6,988.2 781.0,988.3 781.3,988.4 781.7,988.5 782.1,988.5 782.4,988.5 782.8,988.3 783.2,988.1 783.5,987.8 783.9,987.4 784.2,985.9 784.6,983.2 785.0,980.7 785.0,980.5 785.3,979.1 785.7,978.1 786.1,979.1 786.4,980.9 786.6,981.8 786.8,982.6 787.2,984.3 787.5,985.9 787.9,987.0 788.0,987.1 788.3,987.4 788.6,987.8 789.0,988.1 789.4,988.3 789.7,988.4 790.1,988.5 790.3,988.5 790.5,988.5 790.8,988.5 791.2,988.5 791.6,988.5 791.9,988.5 792.3,988.5 792.7,988.5 793.0,988.5 793.4,988.5 793.7,988.5 794.1,988.5 794.5,988.5 794.8,988.5 795.2,988.5 795.6,988.5 795.8,988.5 795.9,988.5 796.3,988.4 796.7,988.1 797.0,987.7 797.4,987.1 797.6,986.8 797.8,986.1 798.1,982.1 798.5,974.9 798.9,939.6 799.2,901.4 799.2,897.7 799.6,868.9 800.0,854.7 800.3,866.7 800.7,889.9 800.8,895.1 801.1,911.3 801.4,934.2 801.7,947.2 801.8,950.5 802.2,963.0 802.5,973.4 802.9,980.2 803.1,981.8 803.3,982.6 803.6,984.1 804.0,985.4 804.3,986.4 804.7,987.2 805.1,987.7 805.4,988.1 805.8,988.2 805.8,988.2 806.2,988.2 806.5,988.2 806.9,988.2 807.3,988.1 807.6,988.1 808.0,986.8 808.4,983.7 808.7,980.3 808.8,979.9 809.1,976.5 809.5,972.2 809.7,970.5 809.8,969.8 810.2,968.3 810.4,968.1 810.6,968.3 810.9,969.8 811.1,970.5 811.3,972.7 811.7,978.8 812.0,984.3 812.2,985.6 812.4,986.1 812.8,986.9 813.1,987.7 813.5,988.3 813.9,988.7 814.2,989.1 814.6,989.3 814.9,989.3 815.3,989.3 815.7,989.2 816.0,989.1 816.4,988.9 816.8,988.7 817.1,988.4 817.5,988.2 817.9,987.9 818.2,987.7 818.6,987.4 819.0,987.2 819.1,987.1 819.3,987.0 819.7,986.8 820.1,986.7 820.4,986.5 820.8,986.4 821.2,986.2 821.5,986.0 821.9,985.6 822.3,985.2 822.5,984.9 822.6,984.5 823.0,981.5 823.4,976.4 823.4,974.9 823.7,965.4 824.1,944.0 824.5,923.7 824.5,920.2 824.8,910.8 825.2,899.8 825.5,895.1 825.9,898.5 826.3,906.4 826.6,913.9 826.6,914.9 827.0,925.0 827.4,936.6 827.7,947.7 828.0,954.1 828.1,955.9 828.5,963.0 828.8,969.6 829.2,975.4 829.6,979.9 829.9,982.7 830.0,983.0 830.3,983.9 830.7,984.9 831.0,985.7 831.4,986.4 831.8,987.0 832.1,987.4 832.5,987.7 832.8,987.8 832.9,987.8 833.2,987.9 833.6,988.0 834.0,988.1 834.3,988.2 834.7,988.3 835.1,988.3 835.4,988.4 835.8,988.4 836.1,988.4 836.5,988.5 836.9,988.5 837.2,988.5 837.6,988.5 837.8,988.5 838.0,988.5 838.3,988.5 838.7,988.5 839.1,988.5 839.4,988.5 839.8,988.5 840.2,988.5 840.5,988.5 840.9,988.5 841.3,988.5 841.6,988.5 842.0,988.5 842.4,988.5 842.7,988.5 843.1,988.5 843.5,988.5 843.8,988.5 844.2,988.5 844.6,988.5 844.9,988.5 845.1,988.5 845.3,988.5 845.6,988.4 846.0,988.1 846.4,987.8 846.7,987.4 847.1,986.9 847.5,986.3 847.8,985.7 848.2,984.8 848.6,983.4 848.9,981.8 849.3,980.1 849.7,978.6 850.0,977.2 850.4,975.7 850.8,974.6 851.0,974.2 851.1,974.3 851.5,975.0 851.9,976.3 852.2,977.4 852.2,977.5 852.6,979.0 853.0,980.6 853.3,981.8 853.7,982.6 854.1,983.3 854.4,984.0 854.8,984.7 855.2,985.2 855.5,985.7 855.9,986.2 856.2,986.6 856.6,987.0 857.0,987.4 857.3,987.7 857.4,987.8 857.7,988.1 858.1,988.4 858.4,988.7 858.8,989.0 859.2,989.2 859.5,989.3 859.7,989.3 859.9,989.3 860.3,989.3 860.6,989.3 861.0,989.3 861.4,989.3 861.7,989.3 862.1,989.3 862.5,989.3 862.8,989.3 863.2,989.3 863.6,989.3 863.9,989.3 864.3,989.3 864.7,989.3 865.0,989.3 865.4,989.3 865.8,989.3 866.1,989.3 866.5,989.3 866.8,989.3 867.2,989.3 867.6,989.3 867.9,989.3 868.3,989.3 868.3,989.3 868.7,987.8 869.0,984.2 869.2,981.8 869.4,975.8 869.8,948.9 870.1,914.0 870.2,905.7 870.5,877.3 870.8,851.1 870.9,844.3 871.2,823.3 871.3,822.9 871.6,828.6 871.8,835.4 872.0,839.5 872.3,853.1 872.7,864.3 872.7,865.6 873.1,876.2 873.4,885.9 873.8,893.9 874.0,897.6 874.2,899.4 874.5,903.5 874.9,906.9 875.3,909.8 875.6,912.5 876.0,915.3 876.2,916.7 876.4,918.3 876.7,921.3 877.1,924.4 877.4,927.3 877.8,929.9 878.1,932.0 878.2,932.2 878.5,934.3 878.9,936.3 879.3,938.1 879.6,939.8 880.0,941.4 880.4,942.9 880.7,944.3 881.1,945.7 881.5,946.9 881.8,948.1 882.2,949.3 882.6,950.3 882.9,951.3 883.3,952.2 883.5,952.6 883.7,953.0 884.0,953.8 884.4,954.6 884.8,955.2 885.1,955.9 885.5,956.5 885.9,957.0 886.2,957.5 886.6,957.9 886.9,958.3 887.3,958.6 887.7,959.0 888.0,959.3 888.4,959.6 888.8,959.9 889.1,960.2 889.5,960.4 889.9,960.7 890.2,960.9 890.3,960.9 890.6,961.1 891.0,961.3 891.3,961.5 891.7,961.7 892.1,961.9 892.4,962.0 892.8,962.2 893.2,962.4 893.5,962.5 893.9,962.7 894.3,962.8 894.6,962.9 895.0,963.0 895.4,963.1 895.7,963.2 895.8,963.3 896.1,963.3 896.5,963.4 896.8,963.5 897.2,963.6 897.5,963.7 897.9,963.7 898.3,963.8 898.6,963.9 899.0,964.0 899.4,964.0 899.7,964.1 900.1,964.2 900.5,964.2 900.8,964.3 901.2,964.3 901.6,964.3 901.9,964.4 902.3,964.4 902.7,964.4 903.0,964.4 903.4,964.3 903.8,964.3 904.1,964.2 904.5,964.1 904.9,963.9 905.2,963.8 905.6,963.6 906.0,963.5 906.3,963.3 906.7,963.2 907.1,963.0 907.4,962.9 907.8,962.8 908.1,962.6 908.4,962.6 908.5,962.5 908.9,962.4 909.2,962.3 909.6,962.2 910.0,962.0 910.3,961.9 910.7,961.8 911.1,961.7 911.4,961.6 911.8,961.5 912.2,961.4 912.5,961.3 912.9,961.3 913.2,961.3 913.3,961.3 913.6,961.3 914.0,961.4 914.4,961.4 914.7,961.5 915.1,961.6 915.5,961.7 915.8,961.8 916.2,961.9 916.6,962.1 916.9,962.2 917.3,962.4 917.7,962.5 918.0,962.7 918.4,962.9 918.7,963.1 919.1,963.4 919.5,963.7 919.8,964.0 920.2,964.4 920.6,964.7 920.9,965.1 921.3,965.5 921.7,965.9 922.0,966.3 922.4,966.7 922.8,967.1 923.1,967.5 923.5,967.8 923.9,968.2 924.2,968.5 924.6,968.9 925.0,969.2 925.3,969.5 925.7,969.9 926.1,970.2 926.4,970.6 926.8,970.9 927.2,971.2 927.5,971.6 927.9,971.9 928.3,972.2 928.6,972.6 929.0,972.9 929.3,973.2 929.7,973.5 930.1,973.8 930.4,974.0 930.4,974.1 930.8,974.4 931.2,974.6 931.5,974.9 931.9,975.2 932.3,975.5 932.6,975.8 933.0,976.0 933.4,976.3 933.7,976.6 934.1,976.8 934.5,977.1 934.8,977.3 935.2,977.6 935.6,977.8 935.9,978.1 936.3,978.3 936.7,978.5 937.0,978.7 937.3,978.8 937.4,978.9 937.8,979.1 938.1,979.3 938.5,979.5 938.8,979.7 939.2,979.8 939.6,980.0 939.9,980.2 940.3,980.4 940.7,980.5 941.0,980.7 941.4,980.8 941.8,981.0 942.1,981.1 942.5,981.3 942.9,981.4 943.2,981.5 943.6,981.7 944.0,981.8 944.1,981.9 944.3,981.9 944.7,982.1 945.1,982.2 945.4,982.3 945.8,982.4 946.2,982.5 946.5,982.7 946.9,982.8 947.3,982.9 947.6,983.0 948.0,983.1 948.4,983.2 948.7,983.3 949.1,983.4 949.4,983.5 949.8,983.6 950.2,983.7 950.5,983.8 950.9,983.9 951.3,984.0 951.6,984.1 952.0,984.2 952.4,984.3 952.7,984.4 953.1,984.5 953.5,984.6 953.8,984.7 954.2,984.8 954.6,984.8 954.9,984.9 955.3,985.0 955.7,985.1 956.0,985.2 956.4,985.2 956.8,985.3 957.1,985.4 957.5,985.4 957.9,985.5 957.9,985.5 958.2,985.5 958.6,985.6 959.0,985.7 959.3,985.7 959.7,985.8 960.0,985.8 960.4,985.9 960.8,985.9 961.1,986.0 961.5,986.0 961.9,986.1 962.2,986.1 962.6,986.2 963.0,986.2 963.3,986.3 963.7,986.3 964.1,986.4 964.4,986.4 964.8,986.5 965.2,986.5 965.5,986.6 965.9,986.6 966.3,986.6 966.6,986.7 967.0,986.7 967.4,986.8 967.7,986.8 968.1,986.8 968.5,986.9 968.8,986.9 969.2,986.9 969.6,987.0 969.9,987.0 970.3,987.0 970.6,987.1 971.0,987.1 971.4,987.1 971.7,987.1 971.7,987.1 972.1,987.2 972.5,987.2 972.8,987.2 973.2,987.2 973.6,987.3 973.9,987.3 974.3,987.3 974.7,987.3 975.0,987.3 975.4,987.4 975.8,987.4 976.1,987.4 976.5,987.4 976.9,987.5 977.2,987.5 977.6,987.5 978.0,987.5 978.3,987.5 978.7,987.5 979.1,987.6 979.4,987.6 979.8,987.6 980.2,987.6 980.5,987.6 980.9,987.6 981.2,987.7 981.6,987.7 982.0,987.7 982.3,987.7 982.7,987.7 983.1,987.7 983.4,987.7 983.8,987.8 984.2,987.8 984.5,987.8 984.9,987.8 985.3,987.8 985.4,987.8 985.6,987.8 986.0,987.8 986.4,987.9 986.7,987.9 987.1,987.9 987.5,987.9 987.8,987.9 988.2,987.9 988.6,987.9 988.9,987.9 989.3,988.0 989.7,988.0 990.0,988.0 990.4,988.0 990.7,988.0 991.1,988.0 991.5,988.0 991.8,988.0 992.2,988.1 992.6,988.1 992.9,988.1 993.3,988.1 993.7,988.1 994.0,988.1 994.4,988.1 994.8,988.1 995.1,988.1 995.5,988.1 995.9,988.2 996.2,988.2 996.6,988.2 997.0,988.2 997.3,988.2 997.7,988.2 997.7,988.2 998.1,988.2 998.4,988.2 998.8,988.2 999.2,988.2 999.5,988.2 999.9,988.3 1000.3,988.3 1000.6,988.3 1001.0,988.3 1001.3,988.3 1001.7,988.3 1002.1,988.3 1002.4,988.3 1002.8,988.3 1003.2,988.3 1003.5,988.4 1003.9,988.4 1004.3,988.4 1004.6,988.4 1005.0,988.4 1005.4,988.4 1005.7,988.4 1006.1,988.4 1006.5,988.4 1006.8,988.4 1007.2,988.4 1007.6,988.4 1007.9,988.5 1008.3,988.5 1008.7,988.5 1009.0,988.5 1009.4,988.5 1009.8,988.5 1010.1,988.5 1010.5,988.5 1010.9,988.5 1011.2,988.5 1011.6,988.5 1011.9,988.5 1012.3,988.5 1012.7,988.5 1013.0,988.5 1013.4,988.5 1013.7,988.5 1013.8,988.5 1014.1,988.5 1014.5,988.5 1014.9,988.5 1015.2,988.5 1015.6,988.5 1016.0,988.4 1016.3,988.4 1016.7,988.4 1017.1,988.4 1017.4,988.3 1017.8,988.3 1018.2,988.2 1018.5,988.2 1018.9,988.2 1019.3,988.1 1019.6,988.1 1020.0,988.0 1020.4,988.0 1020.7,988.0 1021.1,987.9 1021.5,987.9 1021.8,987.8 1022.2,987.8 1022.5,987.8 1022.9,987.7 1023.3,987.7 1023.6,987.6 1024.0,987.6 1024.4,987.6 1024.7,987.6 1025.1,987.5 1025.5,987.5 1025.8,987.5 1026.2,987.5 1026.6,987.5 1026.9,987.4 1027.3,987.4 1027.4,987.4 1027.7,987.4 1028.0,987.4 1028.4,987.5 1028.8,987.5 1029.1,987.5 1029.5,987.5 1029.9,987.5 1030.2,987.5 1030.6,987.5 1031.0,987.5 1031.3,987.5 1031.7,987.5 1032.0,987.5 1032.4,987.6 1032.8,987.6 1033.1,987.6 1033.5,987.6 1033.9,987.6 1034.2,987.6 1034.6,987.7 1035.0,987.7 1035.3,987.7 1035.7,987.7 1036.1,987.7 1036.4,987.8 1036.8,987.8 1037.2,987.8 1037.5,987.8 1037.9,987.8 1038.3,987.9 1038.6,987.9 1039.0,987.9 1039.4,987.9 1039.7,988.0 1040.1,988.0 1040.5,988.0 1040.8,988.0 1041.2,988.1 1041.6,988.1 1041.9,988.1 1042.3,988.1 1042.6,988.2 1043.0,988.2 1043.4,988.2 1043.7,988.2 1044.1,988.3 1044.5,988.3 1044.8,988.3 1045.2,988.3 1045.6,988.4 1045.9,988.4 1046.3,988.4 1046.7,988.4 1047.0,988.5 1047.4,988.5 1047.8,988.5 1047.9,988.5 1048.1,988.5 1048.5,988.5 1048.9,988.6 1049.2,988.6 1049.6,988.6 1050.0,988.6 1050.3,988.7 1050.7,988.7 1051.1,988.7 1051.4,988.7 1051.8,988.7 1052.2,988.8 1052.5,988.8 1052.9,988.8 1053.2,988.8 1053.6,988.9 1054.0,988.9 1054.3,988.9 1054.7,988.9 1055.1,988.9 1055.4,989.0 1055.8,989.0 1056.2,989.0 1056.5,989.0 1056.9,989.1 1057.3,989.1 1057.6,989.1 1058.0,989.1 1058.4,989.2 1058.7,989.2 1059.1,989.2 1059.5,989.3 1059.8,989.3 1060.2,989.3 1060.6,989.4 1060.9,989.4 1061.3,989.4 1061.7,989.5 1062.0,989.5 1062.4,989.5 1062.8,989.6 1063.1,989.6 1063.5,989.7 1063.8,989.8 1064.2,989.8 1064.6,989.9 1064.9,990.0 1065.3,990.0 1065.7,990.1 1066.0,990.2 1066.4,990.2 1066.8,990.3 1067.1,990.4 1067.5,990.4 1067.9,990.5 1068.2,990.5 1068.6,990.5 1069.0,990.6 1069.3,990.6 1069.7,990.6 1069.9,990.6 1070.1,990.6 1070.4,990.6 1070.8,990.6 1071.2,990.6 1071.5,990.5 1071.9,990.5 1072.3,990.5 1072.6,990.5 1073.0,990.4 1073.4,990.4 1073.7,990.4 1074.1,990.3 1074.4,990.3 1074.8,990.3 1075.2,990.2 1075.5,990.2 1075.9,990.1 1076.3,990.1 1076.6,990.0 1077.0,990.0 1077.4,990.0 1077.7,989.9 1078.1,989.9 1078.5,989.8 1078.8,989.8 1079.2,989.8 1079.6,989.7 1079.9,989.7 1080.3,989.7 1080.7,989.6 1081.0,989.6 1081.4,989.6 1081.8,989.6 1082.1,989.6 1082.2,989.6 1082.5,989.6 1082.9,989.6 1083.2,989.6 1083.6,989.6 1083.9,989.5 1084.3,989.5 1084.7,989.5 1085.0,989.5 1085.4,989.5 1085.8,989.5 1086.1,989.5 1086.5,989.5 1086.9,989.5 1087.2,989.5 1087.6,989.5 1088.0,989.5 1088.3,989.5 1088.7,989.5 1089.1,989.5 1089.4,989.5 1089.8,989.5 1090.2,989.5 1090.5,989.4 1090.9,989.4 1091.3,989.4 1091.6,989.4 1092.0,989.4 1092.4,989.4 1092.7,989.4 1093.1,989.4 1093.5,989.4 1093.8,989.4 1094.2,989.4 1094.5,989.4 1094.9,989.4 1095.3,989.4 1095.6,989.4 1096.0,989.4 1096.4,989.4 1096.7,989.4 1097.1,989.4 1097.5,989.4 1097.8,989.4 1098.2,989.4 1098.6,989.4 1098.9,989.4 1099.3,989.4 1099.7,989.4 1100.0,989.4 1100.4,989.4 1100.8,989.3 1101.1,989.3 1101.5,989.3 1101.9,989.3 1102.2,989.3 1102.6,989.3 1103.0,989.3 1103.3,989.3 1103.7,989.3 1104.1,989.3 1104.4,989.3 1104.8,989.3 1105.1,989.3 1105.5,989.3 1105.9,989.3 1106.2,989.3 1106.6,989.3 1107.0,989.3 1107.3,989.3 1107.7,989.3 1108.1,989.3 1108.4,989.3 1108.8,989.3 1109.2,989.3 1109.5,989.3 1109.9,989.3 1110.3,989.3 1110.6,989.3 1111.0,989.3 1111.4,989.3 1111.7,989.3 1112.1,989.3 1112.5,989.3 1112.8,989.3 1113.2,989.3 1113.6,989.3 1113.9,989.3 1114.3,989.3 1114.7,989.3 1115.0,989.3 1115.4,989.3 1115.7,989.3 1116.1,989.3 1116.5,989.3 1116.8,989.3 1117.2,989.3 1117.6,989.3 1117.9,989.3 1118.3,989.3 1118.7,989.3 1119.0,989.3 1119.4,989.3 1119.8,989.3 1120.1,989.3 1120.5,989.3 1120.9,989.3 1121.2,989.3 1121.6,989.3 1122.0,989.3 1122.3,989.3 1122.7,989.3 1123.1,989.3 1123.4,989.3 1123.8,989.3 1124.2,989.3 1124.5,989.3 1124.9,989.3 1125.2,989.3 1125.6,989.3 1126.0,989.3 1126.3,989.3 1126.7,989.3 1127.1,989.3 1127.4,989.3 1127.8,989.3 1128.2,989.3 1128.5,989.3 1128.9,989.3 1129.3,989.3 1129.6,989.3 1130.0,989.3 1130.4,989.3 1130.7,989.3 1131.1,989.3 1131.5,989.3 1131.8,989.3 1132.2,989.3 1132.6,989.3 1132.9,989.3 1133.3,989.3 1133.7,989.3 1134.0,989.3 1134.4,989.3 1134.8,989.3 1135.1,989.3 1135.5,989.3 1135.8,989.3 1136.2,989.3 1136.6,989.3 1136.9,989.3 1137.3,989.3 1137.7,989.3 1138.0,989.3 1138.4,989.3 1138.8,989.3 1139.1,989.3 1139.5,989.3 1139.9,989.3 1140.2,989.3 1140.6,989.3 1141.0,989.3 1141.3,989.3 1141.7,989.3 1142.1,989.3 1142.4,989.3 1142.8,989.3 1143.2,989.3 1143.5,989.3 1143.9,989.3 1144.3,989.3 1144.6,989.3 1145.0,989.3 1145.4,989.3 1145.7,989.3 1146.1,989.3 1146.4,989.3 1146.8,989.3 1147.2,989.3 1147.5,989.3 1147.9,989.3 1148.3,989.3 1148.6,989.3 1149.0,989.3 1149.4,989.3 1149.7,989.3 1150.1,989.3 1150.5,989.3 1150.8,989.3 1151.2,989.3 1151.6,989.3 1151.9,989.3 1152.3,989.3 1152.7,989.3 1153.0,989.3 1153.4,989.3 1153.8,989.3 1154.1,989.3 1154.5,989.3 1154.9,989.3 1155.2,989.3 1155.6,989.3 1156.0,989.3 1156.3,989.3 1156.7,989.3 1157.0,989.3 1157.4,989.3 1157.8,989.3 1158.1,989.3 1158.5,989.3 1158.9,989.3 1159.2,989.3 1159.6,989.3 1160.0,989.3 1160.3,989.3 1160.7,989.3 1161.1,989.3 1161.4,989.3 1161.8,989.3 1162.2,989.3 1162.5,989.3 1162.9,989.3 1163.3,989.3 1163.6,989.3 1164.0,989.3 1164.4,989.3 1164.7,989.3 1165.1,989.3 1165.5,989.3 1165.8,989.3 1166.2,989.3 1166.6,989.3 1166.9,989.3 1167.3,989.3 1167.6,989.3 1168.0,989.3 1168.4,989.3 1168.7,989.3 1169.1,989.3 1169.5,989.3 1169.8,989.3 1170.2,989.3 1170.6,989.3 1170.9,989.3 1171.3,989.3 1171.7,989.3 1172.0,989.3 1172.4,989.3 1172.8,989.3 1173.1,989.3 1173.5,989.3 1173.9,989.3 1174.2,989.3 1174.6,989.3 1175.0,989.3 1175.3,989.3 1175.7,989.3 1176.1,989.3 1176.4,989.3 1176.8,989.3 1177.1,989.3 1177.5,989.3 1177.9,989.3 1178.2,989.3 1178.6,989.3 1179.0,989.3 1179.3,989.3 1179.7,989.3 1180.1,989.3 1180.4,989.3 1180.8,989.3 1181.2,989.3 1181.5,989.3 1181.9,989.3 1182.3,989.3 1182.6,989.3 1183.0,989.3 1183.4,989.3 1183.7,989.3 1184.1,989.3 1184.5,989.3 1184.8,989.3 1185.2,989.3 1185.6,989.3 1185.9,989.3 1186.3,989.3 1186.7,989.3 1187.0,989.3 1187.4,989.3 1187.7,989.3 1188.1,989.3 1188.5,989.3 1188.8,989.3 1189.2,989.3 1189.6,989.3 1189.9,989.3 1190.3,989.3 1190.7,989.3 1191.0,989.3 1191.4,989.3 1191.8,989.3 1192.1,989.3 1192.5,989.3 1192.9,989.3 1193.2,989.3 1193.6,989.3 1194.0,989.3 1194.3,989.3 1194.7,989.3 1195.1,989.3 1195.4,989.3 1195.8,989.3 1196.2,989.3 1196.5,989.3 1196.9,989.3 1197.3,989.3 1197.6,989.3 1198.0,989.3 1198.3,989.3 1198.7,989.3 1199.1,989.3 1199.4,989.3 1199.8,989.3 1200.2,989.3 1200.5,989.3 1200.9,989.3 1201.3,989.3 1201.6,989.3 1202.0,989.3 1202.4,989.3 1202.7,989.3 1203.1,989.3 1203.5,989.3 1203.8,989.3 1204.2,989.3 1204.6,989.3 1204.9,989.3 1205.3,989.3 1205.7,989.3 1206.0,989.3 1206.4,989.3 1206.8,989.3 1207.1,989.3 1207.5,989.3 1207.9,989.3 1208.2,989.3 1208.6,989.3 1208.9,989.3 1209.3,989.3 1209.7,989.3 1210.0,989.3 1210.4,989.3 1210.8,989.3 1211.1,989.3 1211.5,989.3 1211.9,989.3 1212.2,989.3 1212.6,989.3 1213.0,989.3 1213.3,989.3 1213.7,989.3 1214.1,989.3 1214.4,989.3 1214.8,989.3 1215.2,989.3 1215.5,989.3 1215.9,989.3 1216.3,989.3 1216.6,989.3 1217.0,989.3 1217.4,989.3 1217.7,989.3 1218.1,989.3 1218.5,989.3 1218.8,989.3 1219.2,989.3 1219.5,989.3 1219.9,989.3 1220.3,989.3 1220.6,989.3 1221.0,989.3 1221.4,989.3 1221.7,989.3 1222.1,989.3 1222.5,989.3 1222.8,989.3 1223.2,989.3 1223.6,989.3 1223.9,989.3 1224.3,989.3 1224.7,989.3 1225.0,989.3 1225.4,989.3 1225.8,989.3 1226.1,989.3 1226.5,989.3 1226.9,989.3 1227.2,989.3 1227.6,989.3 1228.0,989.3 1228.3,989.3 1228.7,989.3 1229.0,989.3 1229.4,989.3 1229.8,989.3 1230.1,989.3 1230.5,989.3 1230.9,989.3 1231.2,989.3 1231.6,989.3 1232.0,989.3 1232.3,989.3 1232.7,989.3 1233.1,989.3 1233.4,989.3 1233.8,989.3 1234.2,989.3 1234.5,989.3 1234.9,989.3 1235.3,989.3 1235.6,989.3 1236.0,989.3 1236.4,989.3 1236.7,989.3 1237.1,989.3 1237.5,989.3 1237.8,989.3 1238.2,989.3 1238.6,989.3 1238.9,989.3 1239.3,989.3 1239.6,989.3 1240.0,989.3 1240.4,989.3 1240.7,989.3 1241.1,989.3 1241.5,989.3 1241.8,989.3 1242.2,989.3 1242.6,989.3 1242.9,989.3 1243.3,989.3 1243.7,989.3 1244.0,989.3 1244.4,989.3" fill="none" stroke="#000" stroke-width="1.15" stroke-linejoin="round"/>
<rect x="741.7" y="1019.9" width="502.5" height="201.1" fill="none" stroke="#000" stroke-width="2.1"/>
<path d="M787.4 1221.0v-6.3M833.1 1221.0v-6.3M878.7 1221.0v-6.3M924.4 1221.0v-6.3M970.1 1221.0v-6.3M1015.8 1221.0v-6.3M1061.5 1221.0v-6.3M1107.2 1221.0v-6.3M1152.8 1221.0v-6.3M1198.5 1221.0v-6.3M741.7 1202.7h6.5M741.7 1166.1h6.5M741.7 1129.6h6.5M741.7 1093.0h6.5M741.7 1056.4h6.5M741.7 1184.4h6M741.7 1147.9h6M741.7 1111.3h6M741.7 1074.7h6M741.7 1038.1h6" stroke="#000" stroke-width="1.8" fill="none"/>
<text x="732.0" y="1031.0" font-size="31.5" text-anchor="end">5</text>
<text x="732.0" y="1067.1" font-size="31.5" text-anchor="end">4</text>
<text x="732.0" y="1103.1" font-size="31.5" text-anchor="end">3</text>
<text x="732.0" y="1139.2" font-size="31.5" text-anchor="end">2</text>
<text x="732.0" y="1175.3" font-size="31.5" text-anchor="end">1</text>
<text x="732.0" y="1211.4" font-size="31.5" text-anchor="end">0</text>
<text x="1237.8" y="1050.4" font-size="31" text-anchor="end">Ex302/Em350</text>
<path d="M924.8 1027.3V1057.6" stroke="#000" stroke-width="1.5" fill="none"/>
<path d="M919.1 1052.0H930.5L924.8 1067.6Z" fill="#000"/>
<clipPath id="c11"><rect x="741.7" y="1019.9" width="502.5" height="201.1"/></clipPath>
<polyline clip-path="url(#c11)" points="741.7,1200.9 742.1,1201.3 742.4,1201.8 742.8,1202.3 743.2,1202.6 743.5,1202.7 743.9,1202.7 744.3,1202.7 744.6,1202.7 745.0,1202.7 745.4,1202.7 745.7,1202.7 746.1,1202.7 746.5,1202.7 746.8,1202.7 747.2,1202.7 747.5,1202.7 747.9,1202.7 748.3,1202.7 748.6,1202.7 749.0,1202.7 749.4,1202.7 749.7,1202.7 750.1,1202.7 750.5,1202.7 750.8,1202.7 751.2,1202.7 751.6,1202.7 751.9,1202.7 752.3,1202.7 752.7,1202.7 753.0,1202.7 753.4,1202.7 753.8,1202.7 754.1,1202.7 754.5,1202.7 754.9,1202.7 755.2,1202.7 755.4,1202.7 755.6,1202.7 756.0,1202.2 756.3,1201.4 756.7,1200.2 757.0,1196.8 757.4,1189.5 757.7,1181.1 757.8,1175.5 758.1,1124.5 758.3,1098.5 758.5,1078.7 758.9,1041.8 759.1,1019.9 759.2,989.2 759.6,903.5 760.0,816.7 760.3,766.3 760.4,763.8 760.7,763.8 761.1,763.8 761.4,763.8 761.8,763.8 762.2,763.8 762.5,763.8 762.9,763.8 763.3,763.8 763.6,763.8 764.0,763.8 764.4,763.8 764.7,763.8 765.1,763.8 765.5,763.8 765.8,763.8 766.2,763.8 766.6,763.8 766.9,763.8 767.3,763.8 767.6,763.8 768.0,763.8 768.4,763.8 768.7,763.8 769.1,763.8 769.5,763.8 769.8,763.8 770.2,763.8 770.6,763.8 770.9,763.8 771.3,763.8 771.7,763.8 772.0,763.8 772.4,763.8 772.8,763.8 773.1,763.8 773.5,763.8 773.7,763.8 773.9,766.4 774.2,785.4 774.6,818.6 775.0,861.2 775.3,908.1 775.7,954.6 776.1,995.6 776.3,1019.9 776.4,1026.7 776.8,1052.2 777.1,1074.9 777.3,1084.9 777.5,1094.6 777.9,1112.6 778.2,1125.9 778.6,1135.0 779.0,1142.1 779.3,1146.8 779.3,1146.8 779.7,1149.8 780.1,1152.1 780.4,1153.9 780.7,1154.8 780.8,1155.0 781.2,1155.8 781.5,1156.5 781.9,1156.9 782.3,1157.4 782.6,1157.8 783.0,1158.3 783.4,1159.0 783.5,1159.2 783.7,1159.9 784.1,1161.1 784.5,1162.4 784.8,1163.7 785.2,1165.0 785.6,1166.1 785.9,1167.2 786.3,1168.2 786.7,1169.3 787.0,1170.1 787.4,1170.8 787.7,1171.1 787.8,1171.1 788.1,1170.9 788.5,1170.2 788.8,1169.0 789.2,1167.5 789.6,1165.8 789.9,1164.1 790.1,1163.2 790.3,1162.3 790.7,1160.4 791.0,1158.2 791.4,1155.5 791.8,1152.5 792.0,1150.8 792.1,1149.0 792.5,1144.7 792.9,1138.6 793.1,1133.2 793.2,1127.7 793.6,1101.0 793.8,1085.7 794.0,1070.9 794.3,1036.3 794.5,1019.9 794.7,974.2 795.1,866.4 795.4,778.2 795.6,763.8 795.8,763.8 796.2,763.8 796.5,763.8 796.9,763.8 797.2,763.8 797.6,763.8 798.0,763.8 798.3,763.8 798.7,763.8 799.1,763.8 799.4,763.8 799.8,763.8 800.2,763.8 800.5,763.8 800.9,763.8 801.3,763.8 801.6,763.8 802.0,763.8 802.4,763.8 802.7,763.8 803.1,763.8 803.4,763.8 803.5,766.5 803.8,820.0 804.2,909.8 804.6,993.5 804.7,1019.9 804.9,1037.0 805.3,1064.4 805.7,1085.7 805.7,1085.7 806.0,1105.2 806.4,1122.1 806.8,1132.6 806.8,1133.2 807.1,1137.0 807.5,1140.5 807.8,1143.0 808.2,1144.4 808.4,1144.6 808.6,1144.3 808.9,1142.4 809.3,1139.4 809.7,1135.9 810.0,1132.7 810.2,1131.4 810.4,1130.2 810.8,1127.6 811.1,1125.0 811.5,1122.9 811.9,1121.7 812.1,1121.5 812.2,1121.8 812.6,1123.8 813.0,1127.2 813.3,1131.2 813.7,1135.2 813.9,1136.9 814.1,1138.6 814.4,1142.5 814.8,1146.8 815.2,1151.2 815.5,1155.4 815.9,1159.1 816.3,1162.0 816.6,1163.6 816.8,1163.9 817.0,1163.8 817.3,1162.6 817.7,1160.4 818.1,1157.9 818.2,1157.0 818.4,1155.5 818.8,1152.7 819.2,1149.1 819.4,1146.8 819.5,1143.3 819.9,1132.4 820.3,1119.9 820.5,1112.4 820.6,1110.4 821.0,1102.7 821.4,1096.3 821.6,1093.0 821.7,1092.1 822.1,1088.9 822.5,1087.0 822.6,1086.8 822.8,1087.0 823.2,1088.0 823.6,1089.6 823.9,1091.2 824.3,1092.7 824.7,1094.5 825.0,1096.6 825.3,1098.5 825.4,1099.2 825.8,1102.6 826.1,1106.9 826.5,1111.8 826.9,1117.0 827.2,1122.5 827.4,1125.9 827.6,1128.0 827.9,1134.4 828.3,1141.4 828.7,1148.5 829.0,1154.9 829.4,1160.3 829.8,1164.8 830.1,1169.2 830.5,1173.2 830.9,1176.7 831.2,1179.5 831.6,1181.1 831.6,1181.3 832.0,1182.7 832.3,1183.9 832.7,1185.0 833.1,1185.9 833.4,1186.7 833.8,1187.3 834.2,1187.8 834.4,1188.1 834.5,1188.2 834.9,1188.5 835.3,1188.8 835.6,1189.0 836.0,1189.2 836.4,1189.4 836.7,1189.5 837.1,1189.5 837.2,1189.5 837.4,1189.5 837.8,1189.3 838.2,1189.1 838.5,1188.7 838.9,1188.2 839.3,1187.7 839.6,1187.1 840.0,1186.5 840.4,1185.9 840.7,1185.1 841.1,1183.9 841.5,1182.7 841.8,1181.6 842.2,1180.8 842.6,1180.2 842.9,1179.7 843.3,1179.4 843.6,1179.3 843.7,1179.3 844.0,1179.6 844.4,1180.2 844.8,1180.9 845.1,1181.5 845.4,1181.9 845.5,1182.0 845.9,1182.4 846.2,1182.8 846.6,1183.1 847.0,1183.3 847.1,1183.3 847.3,1183.2 847.7,1182.5 848.0,1181.4 848.4,1179.8 848.8,1178.1 849.1,1176.1 849.5,1174.2 849.9,1171.6 850.2,1168.3 850.6,1164.7 851.0,1161.4 851.3,1159.2 851.7,1157.7 852.1,1156.3 852.4,1155.1 852.8,1154.2 853.2,1153.8 853.3,1153.8 853.5,1154.0 853.9,1154.6 854.3,1155.7 854.6,1157.0 855.0,1158.5 855.4,1159.9 855.4,1160.3 855.7,1161.5 856.1,1163.4 856.5,1165.6 856.8,1168.0 857.2,1170.3 857.5,1172.5 857.9,1174.5 858.2,1175.6 858.3,1176.0 858.6,1177.4 859.0,1178.8 859.4,1180.1 859.7,1181.3 860.1,1182.3 860.5,1183.1 860.8,1183.6 860.9,1183.7 861.2,1183.9 861.6,1184.2 861.9,1184.5 862.3,1184.7 862.7,1184.9 863.0,1185.0 863.4,1185.1 863.8,1185.2 863.9,1185.2 864.1,1185.1 864.5,1185.1 864.9,1185.0 865.2,1185.0 865.6,1184.9 866.0,1184.8 866.3,1184.7 866.7,1184.6 867.1,1184.5 867.4,1184.5 867.8,1184.4 868.0,1184.4 868.1,1184.5 868.5,1184.8 868.9,1185.3 869.2,1186.0 869.6,1186.6 870.0,1187.2 870.1,1187.4 870.3,1187.8 870.7,1188.4 871.1,1189.0 871.4,1189.5 871.8,1189.8 872.1,1189.9 872.2,1189.9 872.5,1189.5 872.9,1188.9 873.3,1188.1 873.6,1187.5 873.7,1187.4 874.0,1187.0 874.4,1186.6 874.7,1186.2 875.1,1185.8 875.5,1185.5 875.8,1185.1 876.2,1184.8 876.6,1184.4 876.9,1184.1 877.3,1183.7 877.6,1183.3 878.0,1183.0 878.4,1182.6 878.7,1182.3 879.1,1181.9 879.5,1181.6 879.8,1181.2 880.2,1180.9 880.6,1180.6 880.9,1180.2 881.3,1179.9 881.7,1179.5 882.0,1179.2 882.4,1178.8 882.8,1178.5 883.1,1178.2 883.5,1177.8 883.9,1177.5 884.2,1177.1 884.6,1176.7 885.0,1176.4 885.1,1176.2 885.3,1176.0 885.7,1175.6 886.1,1175.3 886.4,1174.9 886.8,1174.5 887.2,1174.1 887.5,1173.7 887.9,1173.3 888.2,1172.9 888.6,1172.5 889.0,1172.1 889.3,1171.7 889.7,1171.3 890.1,1170.9 890.4,1170.5 890.8,1170.2 891.2,1169.8 891.5,1169.4 891.9,1169.0 892.3,1168.6 892.6,1168.2 893.0,1167.8 893.4,1167.4 893.7,1167.0 894.1,1166.7 894.5,1166.3 894.8,1165.9 895.2,1165.6 895.6,1165.2 895.9,1164.8 896.1,1164.7 896.3,1164.5 896.7,1164.2 897.0,1163.8 897.4,1163.5 897.7,1163.2 898.1,1162.9 898.5,1162.5 898.8,1162.2 899.2,1161.9 899.6,1161.6 899.9,1161.3 900.3,1161.0 900.7,1160.7 901.0,1160.4 901.4,1160.1 901.8,1159.8 902.1,1159.5 902.5,1159.2 902.9,1158.9 903.0,1158.8 903.2,1158.6 903.6,1158.3 904.0,1158.1 904.3,1157.8 904.7,1157.5 905.1,1157.3 905.4,1157.1 905.8,1156.8 906.2,1156.6 906.5,1156.3 906.9,1156.1 907.3,1155.8 907.6,1155.5 908.0,1155.2 908.3,1154.9 908.7,1154.6 909.1,1154.3 909.4,1153.9 909.8,1153.5 910.2,1153.1 910.5,1152.7 910.9,1152.2 911.3,1151.6 911.6,1151.0 912.0,1150.4 912.4,1149.7 912.6,1149.3 912.7,1148.9 913.1,1148.0 913.5,1146.9 913.8,1145.7 914.2,1144.4 914.6,1142.9 914.7,1142.6 914.9,1141.1 915.3,1138.7 915.7,1136.2 916.0,1134.0 916.2,1133.2 916.4,1132.5 916.8,1131.2 917.1,1130.1 917.5,1129.3 917.7,1129.2 917.8,1129.3 918.2,1129.9 918.6,1130.9 918.9,1132.0 919.3,1133.0 919.4,1133.2 919.7,1133.8 920.0,1134.5 920.4,1135.2 920.8,1135.9 921.1,1136.4 921.5,1136.8 921.8,1136.9 921.9,1136.9 922.2,1136.7 922.6,1136.3 923.0,1135.7 923.3,1135.0 923.5,1134.7 923.7,1134.3 924.1,1133.4 924.4,1132.1 924.8,1130.7 924.9,1130.3 925.2,1128.8 925.5,1126.2 925.9,1123.1 926.3,1120.1 926.6,1117.3 926.7,1116.8 927.0,1115.0 927.4,1112.5 927.7,1110.3 928.1,1108.7 928.4,1108.2 928.4,1108.2 928.8,1108.8 929.2,1110.1 929.5,1111.3 929.5,1111.7 929.9,1114.5 930.3,1117.3 930.4,1117.9 930.6,1119.3 931.0,1121.3 931.4,1123.2 931.7,1125.0 932.1,1126.5 932.5,1127.6 932.8,1128.3 933.1,1128.5 933.2,1128.5 933.6,1128.4 933.9,1128.3 934.3,1128.1 934.7,1127.8 935.0,1127.6 935.4,1127.4 935.8,1127.1 936.1,1126.9 936.5,1126.6 936.9,1126.3 937.2,1126.0 937.6,1125.7 937.9,1125.4 938.3,1125.1 938.6,1124.8 938.7,1124.7 939.0,1124.4 939.4,1124.1 939.8,1123.7 940.1,1123.4 940.5,1123.0 940.9,1122.6 941.2,1122.3 941.6,1121.9 942.0,1121.5 942.3,1121.1 942.7,1120.7 943.1,1120.4 943.4,1120.0 943.8,1119.6 944.2,1119.1 944.5,1118.7 944.9,1118.3 945.3,1117.9 945.6,1117.5 946.0,1117.0 946.4,1116.6 946.7,1116.2 947.1,1115.7 947.5,1115.3 947.8,1114.8 948.2,1114.4 948.2,1114.4 948.5,1113.9 948.9,1113.5 949.3,1113.0 949.6,1112.5 950.0,1112.0 950.4,1111.5 950.7,1110.9 951.1,1110.4 951.5,1109.9 951.8,1109.3 952.2,1108.8 952.6,1108.2 952.9,1107.7 953.3,1107.1 953.7,1106.6 954.0,1106.0 954.4,1105.5 954.8,1104.9 955.1,1104.4 955.5,1103.9 955.9,1103.3 956.2,1102.8 956.6,1102.3 957.0,1101.8 957.3,1101.3 957.7,1100.8 957.8,1100.7 958.0,1100.3 958.4,1099.8 958.8,1099.4 959.1,1098.9 959.5,1098.5 959.9,1098.0 960.2,1097.6 960.6,1097.1 961.0,1096.7 961.3,1096.3 961.7,1095.8 962.1,1095.4 962.4,1095.0 962.8,1094.5 963.2,1094.1 963.5,1093.7 963.9,1093.3 964.3,1092.8 964.6,1092.4 965.0,1092.0 965.4,1091.6 965.7,1091.1 966.1,1090.7 966.5,1090.3 966.8,1089.8 967.2,1089.4 967.6,1089.0 967.9,1088.5 968.3,1088.1 968.6,1087.6 968.7,1087.5 969.0,1087.2 969.4,1086.7 969.7,1086.2 970.1,1085.8 970.5,1085.3 970.8,1084.8 971.2,1084.4 971.6,1083.9 971.9,1083.4 972.3,1083.0 972.7,1082.5 973.0,1082.0 973.4,1081.5 973.8,1081.0 974.1,1080.6 974.5,1080.1 974.9,1079.6 975.2,1079.1 975.6,1078.6 976.0,1078.2 976.3,1077.7 976.7,1077.2 977.1,1076.7 977.2,1076.5 977.4,1076.2 977.8,1075.8 978.1,1075.3 978.5,1074.8 978.9,1074.3 979.2,1073.8 979.6,1073.3 980.0,1072.9 980.3,1072.4 980.7,1071.9 981.1,1071.4 981.4,1070.9 981.8,1070.4 982.2,1070.0 982.5,1069.5 982.9,1069.0 983.3,1068.5 983.6,1068.0 984.0,1067.5 984.4,1067.0 984.7,1066.5 985.1,1066.0 985.4,1065.6 985.5,1065.5 985.8,1065.0 986.2,1064.5 986.6,1064.0 986.9,1063.4 987.3,1062.9 987.7,1062.4 988.0,1061.8 988.4,1061.3 988.7,1060.8 989.1,1060.2 989.5,1059.7 989.8,1059.2 990.2,1058.6 990.6,1058.1 990.9,1057.6 991.3,1057.0 991.7,1056.5 992.0,1056.0 992.4,1055.5 992.8,1055.0 993.1,1054.6 993.5,1054.1 993.7,1053.9 993.9,1053.6 994.2,1053.2 994.6,1052.8 995.0,1052.4 995.3,1052.0 995.7,1051.6 996.1,1051.2 996.4,1050.8 996.8,1050.5 997.2,1050.1 997.5,1049.7 997.9,1049.3 998.2,1048.9 998.6,1048.5 999.0,1048.0 999.3,1047.5 999.7,1047.0 999.8,1046.9 1000.1,1046.5 1000.4,1045.9 1000.8,1045.3 1001.2,1044.7 1001.5,1044.0 1001.9,1043.3 1002.3,1042.6 1002.6,1041.9 1003.0,1041.1 1003.4,1040.4 1003.7,1039.6 1004.1,1038.9 1004.5,1038.2 1004.8,1037.5 1005.2,1036.8 1005.3,1036.7 1005.6,1036.2 1005.9,1035.5 1006.3,1034.8 1006.7,1034.2 1007.0,1033.5 1007.4,1032.9 1007.8,1032.2 1008.1,1031.6 1008.5,1031.0 1008.8,1030.5 1009.2,1030.0 1009.4,1029.7 1009.6,1029.5 1009.9,1029.1 1010.3,1028.6 1010.7,1028.3 1011.0,1027.9 1011.4,1027.5 1011.8,1027.2 1012.1,1026.8 1012.5,1026.5 1012.9,1026.2 1013.2,1025.9 1013.6,1025.6 1014.0,1025.3 1014.3,1025.0 1014.7,1024.8 1015.1,1024.5 1015.4,1024.2 1015.8,1023.9 1016.2,1023.6 1016.5,1023.3 1016.9,1023.0 1017.3,1022.7 1017.6,1022.3 1018.0,1022.0 1018.3,1021.6 1018.7,1021.2 1019.1,1020.8 1019.4,1020.4 1019.8,1020.0 1019.9,1019.9 1020.2,1019.5 1020.5,1019.0 1020.9,1018.4 1021.3,1017.8 1021.6,1017.2 1022.0,1016.5 1022.4,1015.8 1022.7,1015.0 1023.1,1014.3 1023.5,1013.5 1023.8,1012.7 1024.2,1011.9 1024.6,1011.0 1024.9,1010.1 1025.3,1009.3 1025.7,1008.4 1026.0,1007.5 1026.4,1006.6 1026.8,1005.7 1027.1,1004.8 1027.5,1003.8 1027.9,1002.9 1028.2,1002.0 1028.6,1001.2 1028.9,1000.3 1029.3,999.4 1029.7,998.6 1030.0,997.8 1030.4,996.9 1030.8,996.2 1031.1,995.4 1031.5,994.7 1031.9,994.0 1032.2,993.3 1032.6,992.7 1033.0,992.1 1033.3,991.6 1033.7,991.1 1034.1,990.6 1034.4,990.2 1034.8,989.7 1035.2,989.3 1035.5,988.8 1035.9,988.4 1036.3,988.0 1036.6,987.5 1037.0,987.1 1037.4,986.7 1037.7,986.3 1038.1,985.8 1038.4,985.4 1038.8,985.0 1039.2,984.6 1039.5,984.2 1039.9,983.7 1040.3,983.3 1040.6,982.9 1041.0,982.5 1041.4,982.1 1041.7,981.7 1042.1,981.4 1042.5,981.0 1042.8,980.6 1043.2,980.2 1043.6,979.9 1043.9,979.5 1044.3,979.1 1044.7,978.8 1045.0,978.5 1045.4,978.1 1045.8,977.8 1046.1,977.5 1046.5,977.2 1046.9,976.9 1047.2,976.6 1047.6,976.3 1048.0,976.0 1048.3,975.7 1048.7,975.4 1049.0,975.2 1049.4,974.9 1049.8,974.7 1050.1,974.5 1050.5,974.3 1050.9,974.1 1051.2,973.9 1051.6,973.7 1052.0,973.5 1052.3,973.3 1052.7,973.2 1053.1,973.0 1053.4,972.9 1053.8,972.8 1054.2,972.7 1054.5,972.6 1054.9,972.5 1055.3,972.4 1055.6,972.4 1056.0,972.3 1056.4,972.3 1056.7,972.3 1056.9,972.3 1057.1,972.3 1057.5,972.4 1057.8,972.7 1058.2,973.0 1058.5,973.5 1058.9,974.1 1059.3,974.8 1059.6,975.5 1060.0,976.4 1060.4,977.3 1060.7,978.3 1061.1,979.4 1061.5,980.5 1061.8,981.7 1062.2,982.9 1062.6,984.2 1062.9,985.6 1063.3,987.0 1063.7,988.4 1064.0,989.8 1064.4,991.3 1064.8,992.7 1065.1,994.2 1065.5,995.7 1065.9,997.2 1066.0,997.9 1066.2,998.7 1066.6,1000.2 1067.0,1001.8 1067.3,1003.6 1067.7,1005.5 1068.1,1007.6 1068.4,1009.9 1068.8,1012.4 1069.1,1015.2 1069.5,1018.2 1069.7,1019.9 1069.9,1021.8 1070.2,1027.0 1070.6,1033.4 1071.0,1040.5 1071.3,1047.5 1071.7,1053.7 1072.0,1057.5 1072.1,1058.6 1072.4,1062.8 1072.8,1066.7 1073.2,1070.4 1073.5,1073.9 1073.9,1077.2 1074.3,1080.3 1074.6,1083.3 1075.0,1086.3 1075.4,1089.3 1075.6,1091.5 1075.7,1092.3 1076.1,1095.3 1076.5,1098.3 1076.8,1101.2 1077.2,1104.1 1077.6,1106.8 1077.9,1109.4 1078.3,1111.8 1078.6,1114.0 1078.8,1114.9 1079.0,1115.8 1079.4,1117.5 1079.7,1118.9 1080.1,1120.3 1080.5,1121.6 1080.8,1122.9 1081.2,1124.3 1081.6,1125.9 1081.9,1127.7 1082.3,1129.7 1082.7,1131.8 1083.0,1134.0 1083.4,1136.2 1083.8,1138.4 1084.1,1140.7 1084.5,1142.8 1084.9,1144.9 1085.2,1146.8 1085.2,1146.8 1085.6,1148.6 1086.0,1150.4 1086.3,1152.1 1086.7,1153.9 1087.1,1155.6 1087.4,1157.2 1087.8,1158.8 1088.2,1160.3 1088.5,1161.8 1088.9,1163.1 1089.2,1164.4 1089.3,1164.7 1089.6,1165.5 1090.0,1166.7 1090.3,1167.8 1090.7,1168.8 1091.1,1169.8 1091.4,1170.8 1091.8,1171.8 1092.2,1172.7 1092.5,1173.6 1092.9,1174.4 1093.3,1175.2 1093.6,1176.0 1094.0,1176.7 1094.4,1177.4 1094.7,1178.1 1094.8,1178.2 1095.1,1178.7 1095.5,1179.2 1095.8,1179.8 1096.2,1180.3 1096.6,1180.9 1096.9,1181.4 1097.3,1181.8 1097.7,1182.3 1098.0,1182.7 1098.4,1183.2 1098.7,1183.6 1099.1,1184.0 1099.5,1184.3 1099.8,1184.7 1100.2,1185.1 1100.3,1185.2 1100.6,1185.4 1100.9,1185.8 1101.3,1186.1 1101.7,1186.4 1102.0,1186.7 1102.4,1187.1 1102.8,1187.4 1103.1,1187.7 1103.5,1188.0 1103.9,1188.2 1104.2,1188.5 1104.6,1188.8 1105.0,1189.0 1105.3,1189.3 1105.7,1189.5 1106.1,1189.7 1106.4,1189.9 1106.8,1190.1 1107.2,1190.3 1107.5,1190.4 1107.9,1190.6 1108.3,1190.8 1108.6,1190.9 1109.0,1191.1 1109.3,1191.2 1109.7,1191.4 1110.1,1191.5 1110.4,1191.6 1110.8,1191.8 1111.2,1191.9 1111.5,1192.0 1111.9,1192.2 1112.3,1192.3 1112.6,1192.4 1113.0,1192.5 1113.4,1192.6 1113.7,1192.7 1114.1,1192.8 1114.5,1192.9 1114.8,1193.0 1115.2,1193.2 1115.6,1193.3 1115.9,1193.4 1116.3,1193.5 1116.7,1193.6 1117.0,1193.7 1117.4,1193.7 1117.8,1193.8 1118.1,1193.9 1118.5,1194.0 1118.8,1194.1 1119.2,1194.2 1119.6,1194.3 1119.9,1194.4 1120.3,1194.5 1120.7,1194.6 1120.9,1194.7 1121.0,1194.7 1121.4,1194.8 1121.8,1194.9 1122.1,1195.0 1122.5,1195.1 1122.9,1195.2 1123.2,1195.3 1123.6,1195.4 1124.0,1195.5 1124.3,1195.6 1124.7,1195.7 1125.1,1195.8 1125.4,1195.9 1125.8,1196.0 1126.2,1196.1 1126.5,1196.2 1126.9,1196.3 1127.3,1196.4 1127.6,1196.5 1128.0,1196.6 1128.4,1196.7 1128.7,1196.7 1129.1,1196.8 1129.4,1196.9 1129.8,1197.0 1130.2,1197.1 1130.5,1197.1 1130.9,1197.2 1131.3,1197.3 1131.6,1197.3 1132.0,1197.4 1132.4,1197.5 1132.7,1197.5 1133.1,1197.6 1133.2,1197.6 1133.5,1197.6 1133.8,1197.7 1134.2,1197.7 1134.6,1197.8 1134.9,1197.8 1135.3,1197.9 1135.7,1197.9 1136.0,1198.0 1136.4,1198.0 1136.8,1198.1 1137.1,1198.1 1137.5,1198.1 1137.9,1198.2 1138.2,1198.2 1138.6,1198.3 1138.9,1198.3 1139.3,1198.3 1139.7,1198.4 1140.0,1198.4 1140.4,1198.4 1140.8,1198.5 1141.1,1198.5 1141.5,1198.5 1141.9,1198.6 1142.2,1198.6 1142.6,1198.6 1143.0,1198.7 1143.3,1198.7 1143.7,1198.7 1144.1,1198.8 1144.4,1198.8 1144.8,1198.8 1145.2,1198.8 1145.5,1198.9 1145.9,1198.9 1146.3,1198.9 1146.6,1199.0 1147.0,1199.0 1147.4,1199.0 1147.7,1199.0 1148.1,1199.1 1148.5,1199.1 1148.8,1199.1 1149.2,1199.1 1149.5,1199.2 1149.9,1199.2 1150.3,1199.2 1150.6,1199.2 1151.0,1199.3 1151.4,1199.3 1151.7,1199.3 1152.1,1199.3 1152.5,1199.4 1152.8,1199.4 1153.2,1199.4 1153.6,1199.4 1153.9,1199.4 1154.3,1199.5 1154.7,1199.5 1155.0,1199.5 1155.4,1199.5 1155.8,1199.5 1156.1,1199.6 1156.5,1199.6 1156.9,1199.6 1157.2,1199.6 1157.6,1199.6 1158.0,1199.7 1158.3,1199.7 1158.7,1199.7 1159.0,1199.7 1159.4,1199.7 1159.8,1199.8 1160.1,1199.8 1160.5,1199.8 1160.9,1199.8 1161.2,1199.8 1161.6,1199.9 1162.0,1199.9 1162.3,1199.9 1162.7,1199.9 1163.1,1199.9 1163.4,1200.0 1163.8,1200.0 1164.2,1200.0 1164.5,1200.0 1164.9,1200.1 1165.3,1200.1 1165.6,1200.1 1166.0,1200.1 1166.4,1200.1 1166.7,1200.2 1167.1,1200.2 1167.5,1200.2 1167.8,1200.2 1168.2,1200.3 1168.6,1200.3 1168.9,1200.3 1169.3,1200.3 1169.6,1200.4 1170.0,1200.4 1170.4,1200.4 1170.7,1200.5 1171.1,1200.5 1171.5,1200.5 1171.6,1200.5 1171.8,1200.5 1172.2,1200.6 1172.6,1200.6 1172.9,1200.6 1173.3,1200.7 1173.7,1200.7 1174.0,1200.8 1174.4,1200.8 1174.8,1200.8 1175.1,1200.9 1175.5,1200.9 1175.9,1201.0 1176.2,1201.0 1176.6,1201.1 1177.0,1201.1 1177.3,1201.2 1177.7,1201.2 1178.1,1201.3 1178.4,1201.3 1178.8,1201.4 1179.1,1201.4 1179.5,1201.5 1179.9,1201.6 1180.2,1201.6 1180.6,1201.7 1181.0,1201.7 1181.3,1201.8 1181.7,1201.8 1182.1,1201.9 1182.4,1201.9 1182.8,1202.0 1183.2,1202.0 1183.5,1202.1 1183.9,1202.1 1184.3,1202.1 1184.6,1202.2 1185.0,1202.2 1185.4,1202.3 1185.7,1202.3 1186.1,1202.3 1186.5,1202.4 1186.8,1202.4 1187.2,1202.4 1187.6,1202.5 1187.9,1202.5 1188.3,1202.5 1188.7,1202.5 1189.0,1202.5 1189.4,1202.5 1189.7,1202.6 1190.1,1202.6 1190.5,1202.6 1190.8,1202.6 1190.8,1202.6 1191.2,1202.6 1191.6,1202.5 1191.9,1202.5 1192.3,1202.5 1192.7,1202.5 1193.0,1202.4 1193.4,1202.4 1193.8,1202.3 1194.1,1202.3 1194.5,1202.2 1194.9,1202.1 1195.2,1202.1 1195.6,1202.0 1196.0,1201.9 1196.3,1201.8 1196.7,1201.8 1197.1,1201.7 1197.4,1201.6 1197.8,1201.5 1198.2,1201.5 1198.5,1201.4 1198.9,1201.3 1199.2,1201.3 1199.6,1201.2 1200.0,1201.2 1200.3,1201.1 1200.7,1201.0 1201.1,1201.0 1201.4,1201.0 1201.8,1200.9 1202.2,1200.9 1202.5,1200.9 1202.9,1200.9 1203.1,1200.9 1203.3,1200.9 1203.6,1200.9 1204.0,1200.9 1204.4,1200.9 1204.7,1200.9 1205.1,1200.9 1205.5,1200.9 1205.8,1200.9 1206.2,1200.9 1206.6,1200.9 1206.9,1200.9 1207.3,1200.9 1207.7,1200.9 1208.0,1200.9 1208.4,1200.9 1208.8,1200.9 1209.1,1200.9 1209.5,1201.0 1209.8,1201.0 1210.2,1201.0 1210.6,1201.0 1210.9,1201.0 1211.3,1201.0 1211.7,1201.0 1212.0,1201.0 1212.4,1201.0 1212.8,1201.0 1213.1,1201.0 1213.5,1201.0 1213.9,1201.0 1214.2,1201.1 1214.6,1201.1 1215.0,1201.1 1215.3,1201.1 1215.7,1201.1 1216.1,1201.1 1216.4,1201.1 1216.8,1201.1 1217.2,1201.1 1217.5,1201.1 1217.9,1201.1 1218.3,1201.1 1218.6,1201.1 1219.0,1201.2 1219.3,1201.2 1219.7,1201.2 1220.1,1201.2 1220.4,1201.2 1220.8,1201.2 1221.2,1201.2 1221.5,1201.2 1221.9,1201.2 1222.3,1201.2 1222.6,1201.2 1223.0,1201.2 1223.4,1201.2 1223.7,1201.2 1224.1,1201.2 1224.5,1201.2 1224.8,1201.2 1225.2,1201.2 1225.6,1201.2 1225.9,1201.2 1226.3,1201.3 1226.7,1201.3 1226.8,1201.3 1227.0,1201.2 1227.4,1201.2 1227.8,1201.2 1228.1,1201.2 1228.5,1201.2 1228.9,1201.2 1229.2,1201.1 1229.6,1201.1 1229.9,1201.1 1230.3,1201.0 1230.7,1201.0 1231.0,1201.0 1231.4,1200.9 1231.8,1200.9 1232.1,1200.9 1232.5,1200.8 1232.9,1200.8 1233.2,1200.8 1233.6,1200.7 1234.0,1200.7 1234.3,1200.7 1234.7,1200.7 1235.1,1200.7 1235.4,1200.7 1235.8,1200.7 1236.2,1200.8 1236.5,1200.8 1236.9,1200.8 1237.3,1200.9 1237.6,1200.9 1238.0,1201.0 1238.4,1201.1 1238.7,1201.2 1239.1,1201.3 1239.4,1201.3 1239.8,1201.4 1240.2,1201.5 1240.5,1201.6" fill="none" stroke="#000" stroke-width="1.15" stroke-linejoin="round"/>
<rect x="741.4" y="1241.7" width="504.7" height="198.9" fill="none" stroke="#000" stroke-width="2.1"/>
<path d="M787.3 1440.6v-6.3M833.2 1440.6v-6.3M879.0 1440.6v-6.3M924.9 1440.6v-6.3M970.8 1440.6v-6.3M1016.7 1440.6v-6.3M1062.6 1440.6v-6.3M1108.5 1440.6v-6.3M1154.3 1440.6v-6.3M1200.2 1440.6v-6.3M741.4 1400.8h6.5M741.4 1361.0h6.5M741.4 1321.3h6.5M741.4 1281.5h6.5" stroke="#000" stroke-width="1.8" fill="none"/>
<text x="734.3" y="1257.7" font-size="31.5" text-anchor="end">2.5</text>
<text x="734.3" y="1297.0" font-size="31.5" text-anchor="end">2.0</text>
<text x="734.3" y="1336.4" font-size="31.5" text-anchor="end">1.5</text>
<text x="734.3" y="1375.8" font-size="31.5" text-anchor="end">1.0</text>
<text x="734.3" y="1415.1" font-size="31.5" text-anchor="end">0.5</text>
<text x="734.3" y="1454.5" font-size="31.5" text-anchor="end">0</text>
<text x="1224.0" y="1270.3" font-size="31" text-anchor="end">m/z 367.15 [M+H]</text>
<text x="1223.4" y="1261.6" font-size="21.5">+</text>
<path d="M916.5 1249.3V1279.2" stroke="#000" stroke-width="1.5" fill="none"/>
<path d="M910.8 1273.6H922.2L916.5 1289.2Z" fill="#000"/>
<clipPath id="c12"><rect x="741.4" y="1241.7" width="504.7" height="198.9"/></clipPath>
<polyline clip-path="url(#c12)" points="741.4,1372.1 742.2,1362.1 742.8,1364.0 742.9,1361.8 743.7,1357.9 744.5,1361.5 745.2,1357.9 746.0,1360.1 746.8,1357.4 747.5,1368.4 748.3,1367.3 749.1,1369.3 749.8,1361.4 750.6,1364.9 751.4,1359.8 752.1,1362.4 752.9,1363.3 753.7,1354.4 754.4,1361.2 755.2,1363.9 756.0,1368.1 756.7,1358.6 757.5,1359.7 757.5,1368.5 758.3,1342.7 758.6,1332.9 759.0,1338.7 759.8,1330.4 760.2,1319.9 760.6,1299.0 760.9,1241.7 761.3,1157.6 761.6,1122.4 762.1,1122.4 762.9,1122.4 763.4,1122.4 763.6,1140.1 764.1,1241.7 764.4,1292.5 764.8,1333.5 765.2,1335.2 765.9,1327.7 766.7,1333.1 766.9,1333.2 767.5,1326.8 768.2,1344.1 768.9,1352.6 769.0,1348.3 769.8,1347.0 770.5,1339.9 770.8,1340.8 771.3,1368.6 772.0,1408.9 772.0,1409.4 772.8,1385.6 773.1,1377.7 773.6,1378.4 774.3,1364.4 775.1,1360.3 775.1,1364.1 775.9,1375.2 776.3,1379.1 776.6,1383.8 777.4,1369.7 778.2,1357.0 778.3,1354.6 778.9,1364.2 779.7,1373.8 779.9,1370.2 780.5,1362.7 781.2,1371.7 782.0,1368.4 782.1,1366.9 782.8,1366.1 783.5,1378.7 784.1,1374.9 784.3,1379.7 785.1,1369.4 785.8,1370.4 785.8,1370.9 786.6,1368.8 787.4,1383.7 788.1,1386.9 788.2,1380.5 788.9,1382.8 789.7,1387.3 790.3,1398.5 790.4,1385.7 791.2,1385.4 792.0,1384.8 792.7,1388.2 793.1,1374.9 793.5,1369.4 794.3,1372.3 795.0,1366.5 795.8,1374.3 795.8,1370.6 796.6,1376.9 797.3,1381.8 797.4,1378.5 798.1,1380.1 798.9,1377.3 799.2,1376.3 799.6,1373.1 800.4,1367.8 801.2,1359.6 801.3,1364.1 801.9,1347.1 802.3,1353.1 802.7,1352.9 803.3,1376.6 803.5,1390.8 804.2,1408.1 805.0,1419.5 805.2,1423.1 805.8,1423.2 806.5,1409.8 807.3,1390.6 807.5,1388.2 808.1,1375.2 808.8,1365.0 809.3,1354.7 809.6,1352.9 810.4,1347.6 811.0,1344.8 811.1,1343.5 811.9,1365.8 812.4,1386.3 812.7,1382.3 813.4,1400.5 814.2,1400.2 814.4,1404.1 815.0,1402.4 815.7,1407.2 816.5,1410.2 816.5,1415.0 817.3,1411.2 818.0,1404.5 818.8,1390.1 819.4,1391.7 819.6,1385.3 820.3,1375.0 821.1,1375.8 821.2,1373.6 821.9,1378.9 822.6,1368.9 823.4,1362.3 824.2,1368.6 824.8,1362.7 824.9,1360.8 825.7,1364.4 826.5,1371.0 827.2,1371.1 827.5,1375.9 828.0,1376.0 828.7,1365.7 829.5,1379.9 830.3,1381.5 830.3,1377.9 831.0,1377.7 831.8,1375.8 832.6,1382.6 833.2,1384.0 833.3,1383.2 834.1,1368.3 834.8,1361.9 834.9,1369.9 835.6,1371.4 836.4,1373.4 837.2,1379.6 837.2,1377.5 837.9,1369.9 838.7,1376.1 839.5,1365.1 840.2,1357.8 840.5,1366.5 841.0,1354.9 841.8,1356.0 842.5,1355.8 842.9,1349.3 843.3,1353.7 844.1,1360.1 844.6,1363.6 844.8,1362.4 845.6,1330.6 845.8,1322.3 846.4,1291.1 846.8,1285.4 847.1,1286.7 847.9,1313.3 848.2,1318.4 848.7,1342.5 849.4,1373.4 849.8,1387.8 850.2,1400.6 851.0,1400.6 851.7,1405.7 852.0,1400.1 852.5,1404.7 853.3,1401.6 854.0,1402.5 854.8,1409.1 855.0,1407.7 855.6,1406.9 856.3,1412.6 857.1,1395.9 857.5,1407.5 857.9,1414.1 858.6,1411.2 859.4,1400.1 860.2,1397.7 860.7,1400.6 860.9,1400.9 861.7,1393.0 862.5,1394.1 863.2,1390.0 864.0,1391.5 864.8,1386.1 864.8,1397.8 865.5,1387.5 866.3,1392.6 867.1,1392.5 867.8,1384.5 868.6,1395.8 869.0,1388.4 869.4,1389.7 870.1,1384.6 870.9,1396.8 871.7,1391.3 872.4,1392.1 873.1,1394.5 873.2,1394.0 874.0,1394.9 874.7,1399.8 875.5,1395.7 876.3,1400.7 877.0,1388.7 877.8,1388.0 878.6,1396.7 879.3,1385.7 880.1,1390.6 880.9,1395.5 881.6,1392.0 882.4,1386.6 882.7,1389.3 883.2,1393.2 883.9,1386.6 884.7,1390.6 885.5,1392.3 886.2,1395.9 887.0,1389.6 887.7,1388.8 888.5,1396.8 889.3,1394.1 889.6,1394.0 890.0,1392.2 890.8,1396.9 891.6,1384.2 892.3,1390.4 893.1,1387.2 893.9,1391.2 894.6,1380.6 895.4,1386.2 896.2,1394.1 896.5,1382.5 896.9,1385.9 897.7,1388.2 898.5,1382.0 899.2,1383.3 900.0,1375.2 900.8,1374.6 901.1,1382.5 901.5,1374.6 902.3,1374.2 903.1,1390.2 903.8,1377.2 904.6,1381.8 905.4,1382.7 906.1,1380.8 906.1,1386.7 906.9,1388.7 907.7,1380.7 908.4,1379.0 909.2,1372.8 909.3,1383.3 910.0,1372.4 910.7,1355.9 911.5,1361.6 911.9,1358.7 912.3,1361.7 913.0,1366.9 913.8,1364.8 914.4,1366.0 914.6,1370.3 915.3,1367.9 916.1,1360.9 916.4,1365.0 916.9,1359.3 917.6,1335.8 917.8,1332.6 918.4,1326.4 918.9,1314.2 919.2,1319.8 919.9,1342.8 920.3,1356.7 920.7,1357.9 921.5,1375.0 922.2,1381.2 922.2,1383.9 923.0,1383.0 923.6,1389.3 923.8,1389.4 924.5,1380.3 925.3,1363.8 925.8,1364.4 926.1,1373.3 926.8,1362.3 927.6,1358.3 928.1,1360.1 928.4,1361.7 929.1,1351.1 929.9,1354.9 930.7,1354.4 931.4,1356.8 932.2,1355.1 933.0,1356.7 933.6,1358.2 933.7,1359.7 934.5,1363.3 935.3,1362.9 936.0,1361.1 936.8,1365.4 937.6,1361.2 938.3,1366.7 939.1,1360.3 939.2,1369.0 939.9,1361.9 940.6,1357.4 941.4,1358.0 942.2,1362.3 942.9,1353.6 943.7,1357.4 944.4,1355.1 944.7,1356.4 945.2,1362.6 946.0,1352.6 946.7,1352.3 947.5,1350.3 948.3,1356.5 949.0,1348.7 949.8,1353.7 950.6,1355.0 951.3,1353.6 951.5,1348.5 952.1,1350.2 952.9,1341.4 953.6,1343.1 954.4,1340.5 955.2,1344.4 955.9,1346.7 956.7,1347.6 957.5,1341.2 958.2,1334.4 959.0,1334.0 959.8,1345.3 959.8,1337.7 960.5,1336.1 961.3,1343.3 962.1,1339.9 962.8,1343.5 963.6,1340.6 964.4,1340.9 965.1,1343.2 965.3,1342.4 965.9,1344.6 966.7,1341.4 967.4,1354.4 968.2,1339.6 969.0,1337.1 969.7,1346.1 970.5,1341.3 971.3,1336.6 972.0,1343.9 972.2,1343.7 972.8,1339.3 973.6,1333.1 974.3,1343.9 975.1,1332.2 975.9,1328.5 976.6,1338.4 977.4,1328.4 977.7,1320.6 978.2,1329.2 978.9,1330.1 979.7,1320.5 980.5,1332.5 981.2,1330.0 982.0,1321.0 982.8,1318.5 983.5,1335.4 984.3,1330.1 985.1,1326.0 985.8,1321.2 986.0,1326.1 986.6,1332.2 987.4,1323.6 988.1,1341.2 988.9,1326.5 989.7,1322.3 990.4,1319.6 991.2,1323.0 992.0,1333.9 992.7,1319.6 992.8,1328.4 993.5,1328.0 994.3,1318.6 995.0,1337.6 995.8,1312.9 996.6,1321.5 997.3,1322.1 998.1,1329.0 998.9,1324.5 999.6,1325.7 1000.4,1328.5 1001.2,1339.6 1001.5,1328.2 1001.9,1329.5 1002.7,1326.0 1003.4,1329.8 1004.2,1331.3 1005.0,1332.6 1005.7,1343.1 1006.5,1346.0 1007.3,1336.2 1008.0,1340.2 1008.8,1333.8 1009.6,1344.1 1010.3,1340.5 1011.1,1333.0 1011.2,1337.1 1011.9,1341.3 1012.6,1329.5 1013.4,1326.8 1014.2,1329.8 1014.9,1323.5 1015.7,1316.3 1016.0,1318.5 1016.5,1319.1 1017.2,1321.9 1018.0,1336.6 1018.8,1319.8 1019.5,1322.7 1020.3,1326.6 1020.8,1336.8 1021.1,1328.5 1021.8,1326.2 1022.6,1327.4 1023.4,1326.7 1024.1,1339.4 1024.9,1322.6 1025.7,1322.8 1026.4,1322.3 1027.2,1318.5 1028.0,1324.9 1028.7,1318.2 1029.5,1333.5 1030.3,1322.2 1031.0,1327.6 1031.8,1317.9 1032.6,1329.2 1033.3,1329.4 1034.1,1330.1 1034.6,1323.4 1034.9,1331.0 1035.6,1321.3 1036.4,1322.2 1037.2,1326.4 1037.9,1326.1 1038.7,1331.0 1039.5,1316.2 1040.2,1323.0 1041.0,1335.0 1041.8,1322.5 1042.5,1335.3 1043.3,1327.4 1044.1,1325.8 1044.8,1331.8 1045.6,1333.6 1046.4,1328.2 1047.1,1327.1 1047.9,1329.3 1048.3,1328.3 1048.7,1338.7 1049.4,1330.5 1050.2,1335.4 1051.0,1328.1 1051.7,1334.0 1052.5,1331.8 1053.3,1331.9 1054.0,1328.6 1054.3,1327.9 1054.8,1327.0 1055.6,1323.2 1056.3,1332.8 1057.1,1318.5 1057.9,1331.0 1058.6,1334.2 1059.4,1328.6 1059.4,1332.9 1060.2,1334.0 1060.9,1330.8 1061.7,1340.1 1062.4,1327.5 1063.2,1342.4 1064.0,1339.2 1064.7,1329.6 1065.5,1330.1 1066.3,1335.6 1067.0,1346.9 1067.8,1341.7 1068.6,1343.9 1069.0,1344.6 1069.3,1343.1 1070.1,1340.0 1070.9,1338.3 1071.6,1343.1 1072.4,1350.8 1073.2,1346.5 1073.9,1346.3 1074.7,1343.4 1075.5,1352.8 1075.9,1352.2 1076.2,1353.4 1077.0,1356.6 1077.8,1348.0 1078.5,1353.8 1079.3,1345.4 1080.1,1346.1 1080.8,1351.1 1081.6,1350.0 1082.4,1353.9 1083.1,1350.6 1083.9,1351.3 1084.7,1345.3 1085.4,1355.0 1086.2,1347.2 1087.0,1349.3 1087.7,1350.8 1088.5,1357.9 1089.3,1357.3 1089.6,1352.9 1090.0,1352.3 1090.8,1358.7 1091.6,1345.2 1092.3,1352.5 1093.1,1354.0 1093.9,1351.1 1094.6,1357.2 1095.4,1363.3 1096.2,1354.5 1096.9,1357.3 1097.7,1354.0 1098.5,1353.4 1099.2,1361.6 1100.0,1358.0 1100.8,1350.5 1101.5,1348.0 1102.3,1355.0 1103.1,1354.2 1103.4,1353.2 1103.8,1353.5 1104.6,1342.8 1105.4,1347.2 1106.1,1357.8 1106.9,1356.4 1107.7,1349.8 1108.4,1352.5 1109.2,1350.8 1110.0,1352.2 1110.7,1359.2 1111.5,1361.1 1112.3,1362.2 1113.0,1358.8 1113.8,1353.7 1114.6,1358.2 1115.3,1346.6 1116.1,1363.3 1116.9,1357.3 1117.2,1351.3 1117.6,1347.6 1118.4,1360.8 1119.1,1355.3 1119.9,1353.6 1120.7,1366.2 1121.4,1353.8 1122.2,1357.0 1123.0,1359.9 1123.7,1353.9 1124.5,1358.3 1125.3,1362.4 1126.0,1353.0 1126.8,1362.4 1127.6,1353.8 1128.3,1370.9 1129.1,1355.8 1129.9,1361.5 1130.6,1358.9 1130.9,1359.3 1131.4,1355.4 1132.2,1364.0 1132.9,1361.0 1133.7,1361.6 1134.5,1357.9 1135.2,1360.1 1136.0,1358.8 1136.8,1358.3 1137.5,1367.7 1138.3,1361.0 1139.1,1359.4 1139.8,1358.9 1140.6,1348.5 1141.4,1356.1 1142.1,1353.8 1142.9,1361.7 1143.7,1355.9 1144.4,1351.3 1145.2,1361.6 1146.0,1362.4 1146.7,1366.5 1147.5,1365.5 1148.3,1351.7 1149.0,1366.2 1149.8,1359.9 1150.6,1355.8 1151.3,1358.5 1152.1,1358.1 1152.9,1359.7 1153.6,1354.6 1154.4,1365.8 1155.2,1361.0 1155.9,1359.5 1156.7,1367.9 1157.5,1362.6 1158.0,1360.1 1158.2,1352.3 1159.0,1362.2 1159.8,1353.9 1160.5,1362.6 1161.3,1351.7 1162.1,1361.3 1162.8,1354.6 1163.6,1346.0 1164.4,1355.0 1165.1,1352.9 1165.9,1364.6 1166.7,1357.1 1167.4,1356.4 1168.2,1360.8 1169.0,1358.7 1169.7,1365.1 1170.5,1362.3 1171.3,1366.0 1172.0,1367.4 1172.8,1357.1 1173.6,1364.3 1174.3,1359.2 1175.1,1352.2 1175.9,1355.8 1176.6,1363.8 1177.4,1362.2 1178.1,1364.1 1178.9,1361.2 1179.7,1353.4 1180.4,1353.8 1181.2,1363.8 1182.0,1367.8 1182.7,1356.7 1183.5,1372.2 1184.3,1359.0 1185.0,1372.3 1185.5,1359.9 1185.8,1360.8 1186.6,1363.8 1187.3,1367.1 1188.1,1359.4 1188.9,1359.9 1189.6,1361.3 1190.4,1351.2 1191.2,1363.2 1191.9,1364.6 1192.7,1355.5 1193.5,1347.9 1194.2,1365.0 1195.0,1363.0 1195.8,1364.3 1196.5,1360.8 1197.3,1358.5 1198.1,1365.6 1198.8,1363.4 1199.6,1366.7 1200.4,1361.4 1201.1,1363.6 1201.9,1360.6 1202.7,1363.5 1203.4,1361.8 1204.2,1370.2 1205.0,1365.4 1205.7,1364.5 1206.5,1361.8 1207.3,1367.6 1208.0,1365.2 1208.8,1358.3 1209.6,1360.8 1210.3,1365.8 1211.1,1363.0 1211.9,1364.4 1212.6,1361.9 1213.1,1364.3 1213.4,1367.3 1214.2,1362.5 1214.9,1370.1 1215.7,1360.1 1216.5,1358.6 1217.2,1359.1 1218.0,1369.6 1218.8,1363.9 1219.5,1359.4 1220.3,1362.3 1221.1,1361.9 1221.8,1362.7 1222.6,1359.7 1223.4,1364.2 1224.1,1371.0 1224.9,1362.2 1225.7,1353.6 1226.4,1360.2 1227.2,1360.7 1228.0,1354.6 1228.7,1367.2 1229.5,1368.3 1230.3,1365.7 1231.0,1361.7 1231.8,1355.5 1232.6,1358.8 1233.3,1364.1 1234.1,1357.2 1234.8,1362.5 1235.6,1362.6 1236.4,1364.8 1237.1,1368.3 1237.9,1365.2 1238.7,1368.7 1239.4,1373.9 1240.2,1368.1 1241.0,1358.2 1241.7,1365.7 1242.5,1371.1 1243.3,1363.9 1244.0,1353.6 1244.8,1365.2 1245.6,1353.3 1246.1,1362.1 1246.3,1374.2" fill="none" stroke="#000" stroke-width="1.15" stroke-linejoin="round"/>
<rect x="1374.7" y="801.1" width="507.6" height="200.8" fill="none" stroke="#000" stroke-width="2.1"/>
<path d="M1420.8 1001.9v-6.3M1467.0 1001.9v-6.3M1513.1 1001.9v-6.3M1559.3 1001.9v-6.3M1605.4 1001.9v-6.3M1651.6 1001.9v-6.3M1697.7 1001.9v-6.3M1743.9 1001.9v-6.3M1790.0 1001.9v-6.3M1836.2 1001.9v-6.3M1374.7 986.5h6.5M1374.7 955.6h6.5M1374.7 924.7h6.5M1374.7 893.8h6.5M1374.7 862.9h6.5M1374.7 832.0h6.5M1374.7 971.0h6M1374.7 940.1h6M1374.7 909.2h6M1374.7 878.3h6M1374.7 847.4h6M1374.7 816.5h6" stroke="#000" stroke-width="1.8" fill="none"/>
<text x="1368.1" y="809.0" font-size="31.5" text-anchor="end">6</text>
<text x="1368.1" y="840.3" font-size="31.5" text-anchor="end">5</text>
<text x="1368.1" y="871.6" font-size="31.5" text-anchor="end">4</text>
<text x="1368.1" y="902.9" font-size="31.5" text-anchor="end">3</text>
<text x="1368.1" y="934.2" font-size="31.5" text-anchor="end">2</text>
<text x="1368.1" y="965.6" font-size="31.5" text-anchor="end">1</text>
<text x="1368.1" y="996.9" font-size="31.5" text-anchor="end">0</text>
<text x="1873.7" y="835.2" font-size="31" text-anchor="end">A280</text>
<path d="M1552.3 808.6V838.5" stroke="#000" stroke-width="1.5" fill="none"/>
<path d="M1546.6 832.9H1558.0L1552.3 848.5Z" fill="#000"/>
<clipPath id="c13"><rect x="1374.7" y="801.1" width="507.6" height="200.8"/></clipPath>
<polyline clip-path="url(#c13)" points="1374.7,986.5 1375.1,986.5 1375.4,986.5 1375.8,986.5 1376.2,986.5 1376.5,986.5 1376.9,986.5 1377.3,986.5 1377.7,986.5 1378.0,986.5 1378.4,986.5 1378.8,986.5 1379.1,986.5 1379.5,986.5 1379.9,986.5 1380.2,986.5 1380.6,986.5 1381.0,986.5 1381.3,986.5 1381.7,986.5 1382.1,986.5 1382.5,986.5 1382.8,986.5 1383.2,986.5 1383.6,986.5 1383.9,986.5 1384.3,986.5 1384.7,986.5 1385.0,986.5 1385.4,986.5 1385.8,986.5 1386.1,986.5 1386.5,986.5 1386.9,986.5 1387.3,986.5 1387.6,986.5 1388.0,986.5 1388.4,986.5 1388.7,986.5 1389.1,986.5 1389.5,986.5 1389.8,986.5 1390.2,986.5 1390.6,986.5 1390.9,986.5 1390.9,986.4 1391.3,985.9 1391.7,985.0 1392.1,984.2 1392.2,984.0 1392.4,983.9 1392.8,983.7 1393.2,983.5 1393.5,983.4 1393.9,983.3 1394.3,983.2 1394.6,983.0 1395.0,982.7 1395.4,982.3 1395.7,981.6 1396.1,980.2 1396.2,980.0 1396.5,969.5 1396.7,960.8 1396.8,957.6 1397.2,951.1 1397.3,950.8 1397.6,951.3 1398.0,953.1 1398.3,954.9 1398.5,955.3 1398.7,955.6 1399.1,956.1 1399.4,956.4 1399.8,956.8 1400.1,957.3 1400.2,957.5 1400.5,958.7 1400.9,960.5 1401.3,962.4 1401.5,963.3 1401.6,964.2 1402.0,966.1 1402.4,968.1 1402.8,970.0 1402.8,970.4 1403.1,971.8 1403.5,973.6 1403.8,974.1 1403.9,971.6 1404.2,933.9 1404.6,863.2 1404.9,821.5 1405.0,822.3 1405.3,867.3 1405.6,909.2 1405.7,920.1 1406.1,955.6 1406.4,965.9 1406.7,968.8 1406.8,969.0 1407.2,969.3 1407.6,969.5 1407.9,969.6 1408.3,969.7 1408.7,969.9 1408.8,970.1 1409.0,970.5 1409.4,972.5 1409.8,975.0 1410.1,976.9 1410.2,977.2 1410.5,977.7 1410.9,978.3 1411.2,978.4 1411.2,978.4 1411.6,977.8 1412.0,977.0 1412.4,976.2 1412.6,976.0 1412.7,976.0 1413.1,976.6 1413.5,977.6 1413.8,978.8 1414.2,979.8 1414.3,980.0 1414.6,980.4 1414.9,981.0 1415.3,981.6 1415.7,982.0 1416.0,982.3 1416.2,982.4 1416.4,982.5 1416.8,982.7 1417.2,982.8 1417.5,982.8 1417.9,982.9 1418.1,982.9 1418.3,982.7 1418.6,981.3 1419.0,979.6 1419.4,978.7 1419.7,979.1 1420.1,980.1 1420.5,981.3 1420.8,982.4 1421.2,982.9 1421.2,982.9 1421.6,983.2 1422.0,983.5 1422.3,983.6 1422.6,983.7 1422.7,983.7 1423.1,983.4 1423.4,983.0 1423.8,982.5 1424.2,982.0 1424.5,981.6 1424.9,981.5 1424.9,981.5 1425.3,981.7 1425.6,982.0 1426.0,982.3 1426.4,982.6 1426.7,982.6 1426.8,982.6 1427.1,982.4 1427.5,982.2 1427.9,981.9 1428.0,981.9 1428.2,981.9 1428.6,982.0 1429.0,982.3 1429.3,982.5 1429.7,982.8 1430.1,983.0 1430.4,983.3 1430.8,983.4 1430.8,983.4 1431.2,983.5 1431.6,983.5 1431.9,983.6 1432.3,983.6 1432.7,983.7 1432.8,983.7 1433.0,983.6 1433.4,983.3 1433.8,982.8 1434.1,982.3 1434.5,982.0 1434.7,981.9 1434.9,982.0 1435.2,982.3 1435.6,982.8 1436.0,983.4 1436.4,984.0 1436.7,984.5 1437.0,984.7 1437.1,984.7 1437.5,984.8 1437.8,984.9 1438.2,985.0 1438.6,985.1 1438.9,985.1 1439.0,985.1 1439.3,985.0 1439.7,984.8 1440.0,984.3 1440.4,983.8 1440.8,983.2 1441.1,982.6 1441.5,981.8 1441.9,980.8 1442.3,979.7 1442.6,978.8 1443.0,978.3 1443.1,978.2 1443.4,978.4 1443.7,979.5 1444.1,981.0 1444.5,982.7 1444.8,984.0 1445.2,984.7 1445.6,984.8 1445.9,985.0 1446.3,985.1 1446.7,985.2 1447.1,985.3 1447.4,985.3 1447.8,985.3 1448.0,985.3 1448.2,985.3 1448.5,985.3 1448.9,985.3 1449.3,985.3 1449.6,985.3 1450.0,985.3 1450.4,985.3 1450.7,985.3 1451.1,985.3 1451.5,985.3 1451.9,985.3 1452.2,985.3 1452.6,985.3 1453.0,985.3 1453.3,985.3 1453.7,985.2 1454.1,985.2 1454.4,985.2 1454.8,985.2 1455.2,985.2 1455.5,985.1 1455.9,985.1 1456.2,985.1 1456.3,985.0 1456.7,982.8 1456.8,981.2 1457.0,979.2 1457.4,973.3 1457.8,967.9 1458.1,963.7 1458.5,961.2 1458.5,961.1 1458.9,962.6 1459.2,966.4 1459.4,967.9 1459.6,971.0 1460.0,977.1 1460.3,981.2 1460.7,982.8 1461.1,984.1 1461.5,984.9 1461.7,985.1 1461.8,985.1 1462.2,985.1 1462.6,985.2 1462.9,985.2 1463.3,985.2 1463.7,985.2 1464.0,985.3 1464.4,985.3 1464.8,985.3 1465.1,985.3 1465.5,985.3 1465.9,985.3 1466.3,985.3 1466.6,985.3 1467.0,985.3 1467.4,985.4 1467.7,985.4 1468.1,985.4 1468.5,985.4 1468.8,985.4 1469.2,985.4 1469.6,985.4 1469.9,985.5 1470.3,985.5 1470.7,985.5 1471.1,985.5 1471.4,985.5 1471.8,985.5 1472.2,985.5 1472.5,985.5 1472.9,985.6 1473.3,985.6 1473.6,985.6 1474.0,985.6 1474.4,985.6 1474.7,985.6 1475.1,985.6 1475.5,985.6 1475.9,985.7 1476.2,985.7 1476.6,985.7 1477.0,985.7 1477.3,985.7 1477.7,985.7 1478.1,985.7 1478.4,985.7 1478.8,985.7 1479.2,985.7 1479.5,985.8 1479.9,985.8 1480.3,985.8 1480.6,985.8 1480.8,985.8 1481.0,985.8 1481.4,985.8 1481.8,985.8 1482.1,985.8 1482.5,985.8 1482.9,985.8 1483.2,985.8 1483.6,985.8 1484.0,985.8 1484.3,985.8 1484.7,985.8 1485.1,985.8 1485.4,985.8 1485.8,985.9 1486.2,985.9 1486.6,985.9 1486.9,985.9 1487.3,985.9 1487.7,985.9 1488.0,985.9 1488.4,985.9 1488.8,985.9 1489.1,985.9 1489.5,985.9 1489.9,985.9 1490.2,985.9 1490.6,985.9 1491.0,985.9 1491.4,985.9 1491.7,985.9 1492.1,985.9 1492.5,985.9 1492.8,986.0 1493.2,986.0 1493.6,986.0 1493.9,986.0 1494.3,986.0 1494.7,986.0 1495.0,986.0 1495.4,986.0 1495.8,986.0 1496.2,986.0 1496.5,986.0 1496.9,986.0 1497.3,986.0 1497.6,986.0 1498.0,986.0 1498.4,986.0 1498.7,986.0 1499.1,986.0 1499.5,986.0 1499.8,986.0 1500.2,986.0 1500.6,986.0 1501.0,986.1 1501.3,986.1 1501.7,986.1 1502.1,986.1 1502.4,986.1 1502.8,986.1 1503.2,986.1 1503.5,986.1 1503.9,986.1 1504.3,986.1 1504.6,986.1 1505.0,986.1 1505.4,986.1 1505.8,986.1 1506.1,986.1 1506.5,986.1 1506.9,986.1 1507.2,986.1 1507.6,986.1 1508.0,986.1 1508.3,986.1 1508.7,986.1 1509.1,986.1 1509.4,986.1 1509.8,986.1 1510.2,986.1 1510.6,986.1 1510.9,986.2 1511.3,986.2 1511.7,986.2 1512.0,986.2 1512.4,986.2 1512.8,986.2 1513.1,986.2 1513.5,986.2 1513.9,986.2 1514.2,986.2 1514.6,986.2 1515.0,986.2 1515.4,986.2 1515.7,986.2 1516.1,986.2 1516.5,986.2 1516.8,986.2 1517.2,986.2 1517.6,986.2 1517.9,986.2 1518.3,986.2 1518.7,986.2 1519.0,986.2 1519.4,986.2 1519.8,986.2 1520.2,986.2 1520.5,986.2 1520.9,986.2 1521.3,986.2 1521.6,986.2 1522.0,986.2 1522.4,986.2 1522.7,986.2 1523.1,986.2 1523.5,986.2 1523.8,986.2 1524.2,986.2 1524.6,986.2 1524.9,986.3 1525.3,986.3 1525.7,986.3 1526.1,986.3 1526.4,986.3 1526.8,986.3 1527.2,986.3 1527.5,986.3 1527.9,986.3 1528.3,986.3 1528.6,986.3 1529.0,986.3 1529.4,986.3 1529.7,986.3 1530.1,986.3 1530.5,986.3 1530.9,986.3 1531.2,986.3 1531.6,986.3 1532.0,986.3 1532.3,986.3 1532.7,986.3 1533.1,986.3 1533.4,986.3 1533.8,986.3 1534.2,986.3 1534.5,986.3 1534.9,986.3 1535.3,986.3 1535.7,986.3 1536.0,986.3 1536.2,986.3 1536.4,986.3 1536.8,986.3 1537.1,986.3 1537.5,986.3 1537.9,986.3 1538.2,986.3 1538.6,986.3 1539.0,986.3 1539.3,986.3 1539.7,986.3 1540.1,986.3 1540.5,986.3 1540.8,986.3 1541.2,986.3 1541.6,986.3 1541.9,986.3 1542.3,986.3 1542.7,986.3 1543.0,986.3 1543.4,986.3 1543.8,986.3 1544.1,986.3 1544.5,986.3 1544.9,986.3 1545.3,986.3 1545.6,986.3 1546.0,986.3 1546.4,986.3 1546.7,986.3 1547.1,986.3 1547.5,986.3 1547.8,986.3 1548.2,986.3 1548.6,986.3 1548.9,986.3 1549.3,986.3 1549.7,986.3 1550.1,986.3 1550.4,986.3 1550.8,986.3 1551.2,986.3 1551.5,986.3 1551.9,986.3 1552.3,986.3 1552.6,986.3 1553.0,986.3 1553.4,986.3 1553.7,986.3 1554.1,986.3 1554.5,986.3 1554.9,986.3 1555.2,986.3 1555.6,986.3 1556.0,986.3 1556.3,986.3 1556.7,986.3 1557.1,986.3 1557.4,986.3 1557.8,986.4 1558.2,986.4 1558.5,986.4 1558.9,986.4 1559.3,986.4 1559.7,986.4 1560.0,986.4 1560.4,986.4 1560.8,986.4 1561.1,986.4 1561.5,986.4 1561.9,986.4 1562.2,986.4 1562.6,986.4 1563.0,986.4 1563.3,986.4 1563.7,986.4 1564.1,986.4 1564.5,986.4 1564.8,986.4 1565.2,986.4 1565.6,986.4 1565.9,986.4 1566.3,986.4 1566.7,986.4 1567.0,986.4 1567.4,986.4 1567.8,986.4 1568.1,986.4 1568.5,986.4 1568.9,986.4 1569.2,986.4 1569.6,986.4 1570.0,986.4 1570.4,986.4 1570.7,986.4 1571.1,986.4 1571.5,986.4 1571.8,986.4 1572.2,986.4 1572.6,986.4 1572.9,986.4 1573.3,986.4 1573.7,986.4 1574.0,986.4 1574.4,986.4 1574.8,986.4 1575.2,986.4 1575.5,986.4 1575.9,986.4 1576.3,986.4 1576.6,986.4 1577.0,986.4 1577.4,986.4 1577.7,986.4 1578.1,986.4 1578.5,986.4 1578.8,986.4 1579.2,986.4 1579.6,986.4 1580.0,986.4 1580.3,986.4 1580.7,986.4 1581.1,986.4 1581.4,986.4 1581.8,986.4 1582.2,986.4 1582.5,986.4 1582.9,986.4 1583.3,986.4 1583.6,986.4 1584.0,986.4 1584.4,986.4 1584.8,986.4 1585.1,986.4 1585.5,986.4 1585.9,986.4 1586.2,986.4 1586.6,986.4 1587.0,986.4 1587.3,986.4 1587.7,986.4 1588.1,986.4 1588.4,986.4 1588.8,986.4 1589.2,986.4 1589.6,986.4 1589.9,986.4 1590.3,986.4 1590.7,986.4 1591.0,986.4 1591.4,986.4 1591.8,986.4 1592.1,986.4 1592.5,986.4 1592.9,986.4 1593.2,986.4 1593.6,986.4 1594.0,986.4 1594.4,986.4 1594.7,986.4 1595.1,986.4 1595.5,986.4 1595.8,986.4 1596.2,986.4 1596.6,986.4 1596.9,986.4 1597.3,986.4 1597.7,986.4 1598.0,986.4 1598.4,986.4 1598.8,986.4 1599.2,986.4 1599.5,986.4 1599.9,986.4 1600.3,986.4 1600.6,986.4 1601.0,986.4 1601.4,986.4 1601.7,986.4 1602.1,986.4 1602.5,986.4 1602.8,986.4 1603.2,986.4 1603.6,986.4 1604.0,986.4 1604.3,986.4 1604.7,986.4 1605.1,986.4 1605.4,986.4 1605.8,986.4 1606.2,986.4 1606.5,986.4 1606.9,986.4 1607.3,986.4 1607.6,986.4 1608.0,986.4 1608.4,986.4 1608.7,986.4 1609.1,986.4 1609.5,986.4 1609.9,986.4 1610.2,986.4 1610.6,986.4 1611.0,986.4 1611.3,986.4 1611.7,986.4 1612.1,986.4 1612.4,986.4 1612.8,986.4 1613.2,986.4 1613.5,986.4 1613.9,986.4 1614.3,986.4 1614.7,986.4 1615.0,986.4 1615.4,986.4 1615.8,986.4 1616.1,986.4 1616.5,986.4 1616.9,986.4 1617.2,986.4 1617.6,986.4 1618.0,986.4 1618.3,986.4 1618.7,986.4 1619.1,986.4 1619.5,986.4 1619.8,986.4 1620.2,986.4 1620.6,986.4 1620.9,986.4 1621.3,986.4 1621.7,986.4 1622.0,986.4 1622.4,986.4 1622.8,986.4 1623.1,986.4 1623.5,986.4 1623.9,986.4 1624.3,986.4 1624.6,986.4 1625.0,986.4 1625.4,986.4 1625.7,986.4 1626.1,986.4 1626.5,986.4 1626.8,986.4 1627.2,986.4 1627.6,986.4 1627.9,986.4 1628.3,986.4 1628.7,986.4 1629.1,986.5 1629.4,986.5 1629.8,986.5 1630.2,986.5 1630.5,986.5 1630.8,986.5 1630.9,986.5 1631.3,986.5 1631.6,986.5 1632.0,986.5 1632.4,986.5 1632.7,986.5 1633.1,986.5 1633.5,986.5 1633.9,986.5 1634.2,986.5 1634.6,986.5 1635.0,986.5 1635.3,986.5 1635.7,986.5 1636.1,986.5 1636.4,986.5 1636.8,986.5 1637.2,986.5 1637.5,986.5 1637.9,986.5 1638.3,986.5 1638.7,986.5 1639.0,986.5 1639.4,986.5 1639.8,986.5 1640.1,986.5 1640.5,986.5 1640.9,986.5 1641.2,986.5 1641.6,986.5 1642.0,986.5 1642.3,986.5 1642.7,986.5 1643.1,986.5 1643.5,986.5 1643.8,986.5 1644.2,986.5 1644.6,986.5 1644.9,986.5 1645.3,986.5 1645.7,986.5 1646.0,986.5 1646.4,986.5 1646.8,986.5 1647.1,986.5 1647.5,986.5 1647.9,986.5 1648.3,986.5 1648.6,986.5 1649.0,986.5 1649.4,986.5 1649.7,986.5 1650.1,986.5 1650.5,986.5 1650.8,986.5 1651.2,986.5 1651.6,986.5 1651.9,986.5 1652.3,986.5 1652.7,986.5 1653.0,986.5 1653.4,986.5 1653.8,986.5 1654.2,986.5 1654.5,986.5 1654.9,986.5 1655.3,986.5 1655.6,986.5 1656.0,986.5 1656.4,986.5 1656.7,986.5 1657.1,986.5 1657.5,986.5 1657.8,986.5 1658.2,986.5 1658.6,986.5 1659.0,986.5 1659.3,986.5 1659.7,986.5 1660.1,986.5 1660.4,986.5 1660.8,986.5 1661.2,986.5 1661.5,986.5 1661.9,986.5 1662.3,986.5 1662.6,986.5 1663.0,986.5 1663.4,986.5 1663.8,986.5 1664.1,986.5 1664.5,986.5 1664.9,986.5 1665.2,986.5 1665.6,986.5 1666.0,986.5 1666.3,986.5 1666.7,986.5 1667.1,986.5 1667.4,986.5 1667.8,986.5 1668.2,986.5 1668.6,986.5 1668.9,986.5 1669.3,986.5 1669.7,986.5 1670.0,986.5 1670.4,986.5 1670.8,986.5 1671.1,986.5 1671.5,986.5 1671.9,986.5 1672.2,986.5 1672.6,986.5 1673.0,986.5 1673.4,986.5 1673.7,986.5 1674.1,986.5 1674.5,986.5 1674.8,986.5 1675.2,986.5 1675.6,986.5 1675.9,986.5 1676.3,986.5 1676.7,986.5 1677.0,986.6 1677.4,986.6 1677.8,986.6 1678.2,986.6 1678.5,986.6 1678.9,986.6 1679.3,986.6 1679.6,986.6 1680.0,986.6 1680.4,986.6 1680.7,986.6 1681.1,986.6 1681.5,986.6 1681.8,986.6 1682.2,986.6 1682.6,986.6 1683.0,986.6 1683.3,986.6 1683.7,986.6 1684.1,986.6 1684.4,986.6 1684.8,986.6 1685.2,986.6 1685.5,986.6 1685.9,986.6 1686.3,986.6 1686.6,986.6 1687.0,986.6 1687.4,986.6 1687.8,986.6 1688.1,986.6 1688.5,986.6 1688.9,986.6 1689.2,986.6 1689.6,986.6 1690.0,986.6 1690.3,986.6 1690.7,986.7 1691.1,986.7 1691.4,986.7 1691.8,986.7 1692.2,986.7 1692.5,986.8 1692.9,986.8 1693.3,986.8 1693.7,986.8 1694.0,986.8 1694.4,986.9 1694.8,986.9 1695.1,986.9 1695.5,986.9 1695.9,987.0 1696.2,987.0 1696.6,987.0 1697.0,987.1 1697.3,987.1 1697.7,987.1 1698.1,987.1 1698.5,987.2 1698.8,987.2 1699.2,987.2 1699.6,987.2 1699.9,987.2 1700.3,987.3 1700.7,987.3 1701.0,987.3 1701.4,987.3 1701.8,987.3 1702.1,987.3 1702.5,987.4 1702.9,987.4 1703.3,987.4 1703.6,987.4 1704.0,987.4 1704.2,987.4 1704.4,987.4 1704.7,987.4 1705.1,987.4 1705.5,987.4 1705.8,987.4 1706.2,987.3 1706.6,987.3 1706.9,987.3 1707.3,987.3 1707.7,987.3 1708.1,987.3 1708.4,987.2 1708.8,987.2 1709.2,987.2 1709.5,987.2 1709.9,987.1 1710.3,987.1 1710.6,987.1 1711.0,987.0 1711.4,987.0 1711.7,987.0 1712.1,986.9 1712.5,986.9 1712.9,986.9 1713.2,986.9 1713.6,986.8 1714.0,986.8 1714.3,986.8 1714.7,986.7 1715.1,986.7 1715.4,986.7 1715.8,986.7 1716.2,986.6 1716.5,986.6 1716.9,986.6 1717.3,986.6 1717.7,986.5 1718.0,986.5 1718.4,986.5 1718.8,986.5 1719.1,986.5 1719.5,986.5 1719.9,986.5 1720.2,986.5 1720.6,986.5 1720.8,986.5 1721.0,986.5 1721.3,986.5 1721.7,986.5 1722.1,986.5 1722.5,986.5 1722.8,986.5 1723.2,986.5 1723.6,986.5 1723.9,986.5 1724.3,986.5 1724.7,986.5 1725.0,986.5 1725.4,986.5 1725.8,986.5 1726.1,986.5 1726.5,986.5 1726.9,986.5 1727.3,986.5 1727.6,986.5 1728.0,986.5 1728.4,986.5 1728.7,986.5 1729.1,986.5 1729.5,986.5 1729.8,986.5 1730.2,986.5 1730.6,986.5 1730.9,986.5 1731.3,986.5 1731.7,986.5 1732.1,986.5 1732.4,986.5 1732.8,986.5 1733.2,986.5 1733.5,986.5 1733.9,986.5 1734.3,986.5 1734.6,986.5 1735.0,986.5 1735.4,986.5 1735.7,986.5 1736.1,986.5 1736.5,986.5 1736.8,986.5 1737.2,986.5 1737.6,986.5 1738.0,986.5 1738.3,986.5 1738.7,986.5 1739.1,986.5 1739.4,986.5 1739.8,986.5 1740.2,986.5 1740.5,986.5 1740.9,986.5 1741.3,986.5 1741.6,986.5 1742.0,986.5 1742.4,986.5 1742.8,986.5 1743.1,986.5 1743.5,986.5 1743.9,986.5 1744.2,986.5 1744.6,986.5 1745.0,986.5 1745.3,986.5 1745.7,986.5 1746.1,986.5 1746.4,986.5 1746.8,986.5 1747.2,986.5 1747.6,986.5 1747.9,986.5 1748.3,986.5 1748.7,986.5 1749.0,986.5 1749.4,986.5 1749.8,986.5 1750.1,986.5 1750.5,986.5 1750.9,986.5 1751.2,986.5 1751.6,986.5 1752.0,986.5 1752.4,986.5 1752.7,986.5 1753.1,986.5 1753.5,986.5 1753.8,986.5 1754.2,986.5 1754.6,986.5 1754.9,986.5 1755.3,986.5 1755.7,986.5 1756.0,986.5 1756.4,986.5 1756.8,986.5 1757.2,986.5 1757.5,986.5 1757.9,986.5 1758.3,986.5 1758.6,986.5 1759.0,986.5 1759.4,986.5 1759.7,986.5 1760.1,986.5 1760.5,986.5 1760.8,986.5 1761.2,986.5 1761.6,986.5 1762.0,986.5 1762.3,986.5 1762.7,986.5 1763.1,986.5 1763.4,986.5 1763.8,986.5 1764.2,986.5 1764.5,986.5 1764.9,986.5 1765.3,986.5 1765.6,986.5 1766.0,986.5 1766.4,986.5 1766.8,986.5 1767.1,986.5 1767.5,986.5 1767.9,986.5 1768.2,986.5 1768.6,986.5 1769.0,986.5 1769.3,986.5 1769.7,986.5 1770.1,986.5 1770.4,986.5 1770.8,986.5 1771.2,986.5 1771.6,986.5 1771.9,986.5 1772.3,986.5 1772.7,986.5 1773.0,986.5 1773.4,986.5 1773.8,986.5 1774.1,986.5 1774.5,986.5 1774.9,986.5 1775.2,986.5 1775.6,986.5 1776.0,986.5 1776.4,986.5 1776.7,986.5 1777.1,986.5 1777.5,986.5 1777.8,986.5 1778.2,986.5 1778.6,986.5 1778.9,986.5 1779.3,986.5 1779.7,986.5 1780.0,986.5 1780.4,986.5 1780.8,986.5 1781.1,986.5 1781.5,986.5 1781.9,986.5 1782.3,986.5 1782.6,986.5 1783.0,986.5 1783.4,986.5 1783.7,986.5 1784.1,986.5 1784.5,986.5 1784.8,986.5 1785.2,986.5 1785.6,986.5 1785.9,986.5 1786.3,986.5 1786.7,986.5 1787.1,986.5 1787.4,986.5 1787.8,986.5 1788.2,986.5 1788.5,986.5 1788.9,986.5 1789.3,986.5 1789.6,986.5 1790.0,986.5 1790.4,986.5 1790.7,986.5 1791.1,986.5 1791.5,986.5 1791.9,986.5 1792.2,986.5 1792.6,986.5 1793.0,986.5 1793.3,986.5 1793.7,986.5 1794.1,986.5 1794.4,986.5 1794.8,986.5 1795.2,986.5 1795.5,986.5 1795.9,986.5 1796.3,986.5 1796.7,986.5 1797.0,986.5 1797.4,986.5 1797.8,986.5 1798.1,986.5 1798.5,986.5 1798.9,986.5 1799.2,986.5 1799.6,986.5 1800.0,986.5 1800.3,986.5 1800.7,986.5 1801.1,986.5 1801.5,986.5 1801.8,986.5 1802.2,986.5 1802.6,986.5 1802.9,986.5 1803.3,986.5 1803.7,986.5 1804.0,986.5 1804.4,986.5 1804.8,986.5 1805.1,986.5 1805.5,986.5 1805.9,986.5 1806.3,986.5 1806.6,986.5 1807.0,986.5 1807.4,986.5 1807.7,986.5 1808.1,986.5 1808.5,986.5 1808.8,986.5 1809.2,986.5 1809.6,986.5 1809.9,986.5 1810.3,986.5 1810.7,986.5 1811.1,986.5 1811.4,986.5 1811.8,986.5 1812.2,986.5 1812.5,986.5 1812.9,986.5 1813.3,986.5 1813.6,986.5 1814.0,986.5 1814.4,986.5 1814.7,986.5 1815.1,986.5 1815.5,986.5 1815.9,986.5 1816.2,986.5 1816.6,986.5 1817.0,986.5 1817.3,986.5 1817.7,986.5 1818.1,986.5 1818.4,986.5 1818.8,986.5 1819.2,986.5 1819.5,986.5 1819.9,986.5 1820.3,986.5 1820.6,986.5 1821.0,986.5 1821.4,986.5 1821.8,986.5 1822.1,986.5 1822.5,986.5 1822.9,986.5 1823.2,986.5 1823.6,986.5 1824.0,986.5 1824.3,986.5 1824.7,986.5 1825.1,986.5 1825.4,986.5 1825.8,986.5 1826.2,986.5 1826.6,986.5 1826.9,986.5 1827.3,986.5 1827.7,986.5 1828.0,986.5 1828.4,986.5 1828.8,986.5 1829.1,986.5 1829.5,986.5 1829.9,986.5 1830.2,986.5 1830.6,986.5 1831.0,986.5 1831.4,986.5 1831.7,986.5 1832.1,986.5 1832.5,986.5 1832.8,986.5 1833.2,986.5 1833.6,986.5 1833.9,986.5 1834.3,986.5 1834.7,986.5 1835.0,986.5 1835.4,986.5 1835.8,986.5 1836.2,986.5 1836.5,986.5 1836.9,986.5 1837.3,986.5 1837.6,986.5 1838.0,986.5 1838.4,986.5 1838.7,986.5 1839.1,986.5 1839.5,986.5 1839.8,986.5 1840.2,986.5 1840.6,986.5 1841.0,986.5 1841.3,986.5 1841.7,986.5 1842.1,986.5 1842.4,986.5 1842.8,986.5 1843.2,986.5 1843.5,986.5 1843.9,986.5 1844.3,986.5 1844.6,986.5 1845.0,986.5 1845.4,986.5 1845.8,986.5 1846.1,986.5 1846.5,986.5 1846.9,986.5 1847.2,986.5 1847.6,986.5 1848.0,986.5 1848.3,986.5 1848.7,986.5 1849.1,986.5 1849.4,986.5 1849.8,986.5 1850.2,986.5 1850.6,986.5 1850.9,986.5 1851.3,986.5 1851.7,986.5 1852.0,986.5 1852.4,986.5 1852.8,986.5 1853.1,986.5 1853.5,986.5 1853.9,986.5 1854.2,986.5 1854.6,986.5 1855.0,986.5 1855.4,986.5 1855.7,986.5 1856.1,986.5 1856.5,986.5 1856.8,986.5 1857.2,986.5 1857.6,986.5 1857.9,986.5 1858.3,986.5 1858.7,986.5 1859.0,986.5 1859.4,986.5 1859.8,986.5 1860.2,986.5 1860.5,986.5 1860.9,986.5 1861.3,986.5 1861.6,986.5 1862.0,986.5 1862.4,986.5 1862.7,986.5 1863.1,986.5 1863.5,986.5 1863.8,986.5 1864.2,986.5 1864.6,986.5 1864.9,986.5 1865.3,986.5 1865.7,986.5 1866.1,986.5 1866.4,986.5 1866.8,986.5 1867.2,986.5 1867.5,986.5 1867.9,986.5 1868.3,986.5 1868.6,986.5 1869.0,986.5 1869.4,986.5 1869.7,986.5 1870.1,986.5 1870.5,986.5 1870.9,986.5 1871.2,986.5 1871.6,986.5 1872.0,986.5 1872.3,986.5 1872.7,986.5 1873.1,986.5 1873.4,986.5 1873.8,986.5 1874.2,986.5 1874.5,986.5 1874.9,986.5 1875.3,986.5 1875.7,986.5 1876.0,986.5 1876.4,986.5 1876.8,986.5 1877.1,986.5 1877.5,986.5 1877.9,986.5 1878.2,986.5 1878.6,986.5 1879.0,986.5 1879.3,986.5 1879.7,986.5 1880.1,986.5 1880.5,986.5 1880.8,986.5 1881.2,986.5 1881.6,986.5 1881.9,986.5 1882.3,986.5" fill="none" stroke="#000" stroke-width="1.15" stroke-linejoin="round"/>
<rect x="1374.8" y="1020.5" width="507.9" height="201.4" fill="none" stroke="#000" stroke-width="2.1"/>
<path d="M1421.0 1221.9v-6.3M1467.2 1221.9v-6.3M1513.4 1221.9v-6.3M1559.5 1221.9v-6.3M1605.7 1221.9v-6.3M1651.9 1221.9v-6.3M1698.0 1221.9v-6.3M1744.2 1221.9v-6.3M1790.4 1221.9v-6.3M1836.5 1221.9v-6.3M1374.8 1212.3h6.5M1374.8 1173.9h6.5M1374.8 1135.6h6.5M1374.8 1097.2h6.5M1374.8 1058.9h6.5M1374.8 1193.1h6M1374.8 1154.8h6M1374.8 1116.4h6M1374.8 1078.0h6M1374.8 1039.7h6" stroke="#000" stroke-width="1.8" fill="none"/>
<text x="1371.4" y="1033.7" font-size="31.5" text-anchor="end">10</text>
<text x="1371.4" y="1071.6" font-size="31.5" text-anchor="end">8</text>
<text x="1371.4" y="1109.5" font-size="31.5" text-anchor="end">6</text>
<text x="1371.4" y="1147.4" font-size="31.5" text-anchor="end">4</text>
<text x="1371.4" y="1185.3" font-size="31.5" text-anchor="end">2</text>
<text x="1371.4" y="1223.2" font-size="31.5" text-anchor="end">0</text>
<text x="1873.7" y="1050.4" font-size="31" text-anchor="end">Ex302/Em350</text>
<path d="M1559.7 1027.7V1057.6" stroke="#000" stroke-width="1.5" fill="none"/>
<path d="M1554.0 1052.0H1565.4L1559.7 1067.6Z" fill="#000"/>
<clipPath id="c14"><rect x="1374.8" y="1020.5" width="507.9" height="201.4"/></clipPath>
<polyline clip-path="url(#c14)" points="1374.8,1212.3 1375.2,1212.4 1375.6,1212.5 1376.0,1212.5 1376.3,1212.6 1376.7,1212.6 1377.1,1212.7 1377.2,1212.7 1377.4,1212.7 1377.8,1212.7 1378.2,1212.8 1378.5,1212.8 1378.9,1212.8 1379.3,1212.9 1379.7,1212.9 1380.0,1212.9 1380.4,1212.9 1380.8,1213.0 1381.1,1213.0 1381.5,1213.0 1381.9,1213.0 1382.2,1213.1 1382.6,1213.1 1383.0,1213.1 1383.3,1213.1 1383.7,1213.1 1384.1,1213.2 1384.5,1213.2 1384.8,1213.2 1385.2,1213.2 1385.6,1213.2 1385.9,1213.2 1386.3,1213.2 1386.7,1213.2 1387.0,1213.2 1387.4,1213.3 1387.8,1213.3 1388.1,1213.3 1388.5,1213.3 1388.9,1213.3 1389.2,1213.3 1389.3,1213.2 1389.6,1212.8 1390.0,1211.9 1390.4,1210.5 1390.7,1208.9 1390.8,1208.7 1391.1,1206.1 1391.5,1201.1 1391.8,1194.5 1392.2,1187.9 1392.2,1187.0 1392.6,1177.4 1392.9,1165.2 1393.3,1150.3 1393.5,1139.8 1393.7,1132.3 1394.1,1105.7 1394.4,1077.3 1394.5,1070.9 1394.8,1054.6 1395.2,1033.4 1395.3,1020.5 1395.5,1002.7 1395.9,951.8 1396.3,894.7 1396.6,848.0 1397.0,828.7 1397.4,828.7 1397.7,828.7 1398.1,828.7 1398.5,828.7 1398.9,828.7 1399.2,828.7 1399.6,828.7 1400.0,828.7 1400.3,828.7 1400.7,828.7 1401.1,828.7 1401.4,828.7 1401.8,828.7 1402.2,828.7 1402.6,828.7 1402.9,828.7 1403.3,828.7 1403.7,828.7 1404.0,828.7 1404.4,828.7 1404.8,828.7 1405.1,828.7 1405.5,828.7 1405.9,828.7 1406.2,828.7 1406.6,828.7 1407.0,828.7 1407.4,828.7 1407.7,828.7 1408.1,828.7 1408.5,828.7 1408.8,828.7 1409.2,828.7 1409.6,828.7 1409.9,828.7 1410.3,828.7 1410.7,828.7 1411.0,828.7 1411.4,828.7 1411.8,828.7 1412.2,828.7 1412.5,828.7 1412.9,828.7 1413.3,828.7 1413.6,828.7 1414.0,828.7 1414.4,828.7 1414.7,828.7 1415.1,828.7 1415.5,828.7 1415.8,828.7 1416.2,828.7 1416.4,828.7 1416.6,830.0 1417.0,840.0 1417.3,858.0 1417.7,881.8 1418.1,909.5 1418.4,938.8 1418.8,967.7 1419.2,994.2 1419.5,1016.0 1419.6,1020.5 1419.9,1032.6 1420.3,1047.0 1420.4,1050.4 1420.6,1060.9 1421.0,1074.1 1421.3,1081.9 1421.4,1082.6 1421.8,1087.8 1422.1,1090.5 1422.2,1090.5 1422.5,1089.5 1422.9,1087.0 1423.2,1084.3 1423.3,1083.8 1423.6,1082.3 1424.0,1080.4 1424.3,1079.1 1424.5,1079.0 1424.7,1079.8 1425.1,1083.5 1425.5,1088.8 1425.6,1091.5 1425.8,1094.7 1426.2,1102.8 1426.6,1109.5 1426.9,1113.8 1427.3,1117.9 1427.7,1121.6 1428.0,1124.8 1428.4,1127.1 1428.8,1128.5 1429.1,1128.9 1429.1,1128.7 1429.5,1125.4 1429.9,1119.4 1430.3,1112.6 1430.6,1104.5 1431.0,1094.6 1431.4,1084.8 1431.7,1074.7 1432.1,1064.5 1432.5,1056.4 1432.6,1055.0 1432.8,1051.2 1433.2,1047.0 1433.6,1045.2 1433.9,1049.0 1434.3,1056.9 1434.4,1058.9 1434.7,1065.6 1435.1,1076.8 1435.4,1088.6 1435.5,1091.5 1435.8,1100.4 1436.2,1113.1 1436.5,1124.8 1436.9,1132.9 1436.9,1133.8 1437.3,1140.8 1437.6,1146.7 1438.0,1151.4 1438.2,1153.6 1438.4,1154.7 1438.7,1157.4 1439.1,1159.7 1439.5,1161.7 1439.9,1163.5 1440.2,1165.1 1440.6,1166.8 1441.0,1168.5 1441.0,1168.8 1441.3,1170.4 1441.7,1172.4 1442.1,1174.3 1442.4,1176.0 1442.8,1177.6 1443.0,1178.4 1443.2,1178.8 1443.5,1180.0 1443.9,1181.1 1444.3,1182.1 1444.7,1182.8 1445.0,1183.1 1445.1,1183.2 1445.4,1183.0 1445.8,1182.4 1446.1,1181.5 1446.5,1180.6 1446.9,1179.7 1447.2,1178.9 1447.6,1178.1 1448.0,1177.3 1448.3,1176.6 1448.6,1176.2 1448.7,1176.1 1449.1,1175.6 1449.5,1175.2 1449.8,1174.9 1450.2,1174.6 1450.6,1174.2 1450.9,1173.9 1451.3,1173.6 1451.7,1173.2 1452.0,1172.8 1452.0,1172.7 1452.4,1172.1 1452.8,1171.6 1453.2,1170.9 1453.5,1170.1 1453.9,1169.3 1454.1,1168.8 1454.3,1168.2 1454.6,1166.5 1455.0,1164.5 1455.4,1162.4 1455.7,1160.5 1456.1,1159.0 1456.5,1157.8 1456.8,1156.6 1457.2,1155.6 1457.6,1154.8 1458.0,1154.3 1458.2,1154.2 1458.3,1154.3 1458.7,1155.5 1459.1,1157.6 1459.4,1160.2 1459.8,1163.0 1460.2,1165.4 1460.3,1165.9 1460.5,1167.4 1460.9,1169.5 1461.3,1171.6 1461.6,1173.5 1462.0,1174.9 1462.3,1175.6 1462.4,1175.7 1462.8,1176.3 1463.1,1176.7 1463.5,1177.1 1463.9,1177.4 1464.2,1177.7 1464.6,1178.0 1464.9,1178.2 1465.0,1178.2 1465.3,1178.5 1465.7,1178.6 1466.1,1178.8 1466.4,1179.0 1466.8,1179.2 1467.2,1179.5 1467.6,1179.9 1467.9,1180.6 1468.3,1181.3 1468.7,1182.2 1469.0,1183.1 1469.4,1184.1 1469.8,1185.0 1470.1,1185.8 1470.5,1186.5 1470.6,1186.6 1470.9,1187.2 1471.2,1187.9 1471.6,1188.6 1472.0,1189.3 1472.4,1190.0 1472.7,1190.6 1473.1,1191.2 1473.5,1191.7 1473.8,1192.1 1474.2,1192.4 1474.6,1192.5 1474.7,1192.6 1474.9,1192.5 1475.3,1192.4 1475.7,1192.1 1476.1,1191.7 1476.4,1191.2 1476.8,1190.6 1477.2,1189.9 1477.4,1189.3 1477.5,1189.1 1477.9,1187.5 1478.3,1185.1 1478.6,1182.1 1479.0,1178.8 1479.4,1175.4 1479.5,1174.1 1479.7,1171.9 1480.1,1167.5 1480.5,1162.7 1480.9,1158.1 1481.2,1154.3 1481.5,1152.3 1481.6,1151.8 1482.0,1149.7 1482.3,1147.9 1482.7,1146.5 1483.1,1145.8 1483.2,1145.8 1483.4,1146.0 1483.8,1147.2 1484.2,1148.7 1484.5,1150.0 1484.5,1150.1 1484.9,1151.6 1485.3,1153.0 1485.7,1153.6 1486.0,1152.5 1486.4,1149.4 1486.8,1145.2 1487.1,1140.5 1487.5,1135.9 1487.8,1132.9 1487.9,1132.0 1488.2,1128.1 1488.6,1124.2 1489.0,1120.8 1489.3,1118.3 1489.7,1116.5 1490.1,1115.3 1490.3,1115.1 1490.5,1115.3 1490.8,1117.2 1491.2,1120.2 1491.6,1126.3 1491.9,1132.9 1491.9,1133.7 1492.3,1140.4 1492.7,1147.1 1493.0,1153.6 1493.4,1159.7 1493.8,1165.0 1494.0,1167.2 1494.1,1169.4 1494.5,1173.6 1494.9,1177.5 1495.3,1180.9 1495.6,1183.6 1496.0,1185.3 1496.4,1186.3 1496.7,1187.2 1497.1,1187.9 1497.5,1188.6 1497.8,1189.1 1498.2,1189.5 1498.6,1189.9 1498.8,1190.1 1499.0,1190.2 1499.3,1190.5 1499.7,1190.8 1500.1,1191.0 1500.4,1191.2 1500.8,1191.4 1501.2,1191.6 1501.5,1191.7 1501.9,1191.8 1502.2,1191.8 1502.3,1191.8 1502.6,1191.7 1503.0,1191.6 1503.4,1191.5 1503.8,1191.3 1504.1,1191.1 1504.5,1190.8 1504.9,1190.6 1505.2,1190.3 1505.6,1190.0 1506.0,1189.7 1506.3,1189.5 1506.7,1189.3 1507.1,1189.1 1507.4,1188.9 1507.8,1188.8 1508.2,1188.7 1508.4,1188.7 1508.6,1188.7 1508.9,1188.7 1509.3,1188.7 1509.7,1188.7 1510.0,1188.7 1510.4,1188.7 1510.8,1188.7 1511.1,1188.7 1511.5,1188.7 1511.9,1188.7 1512.2,1188.7 1512.4,1188.7 1512.6,1188.7 1513.0,1188.8 1513.4,1188.8 1513.7,1188.9 1514.1,1189.1 1514.5,1189.2 1514.8,1189.4 1515.2,1189.5 1515.6,1189.7 1515.9,1189.8 1516.3,1189.9 1516.7,1190.0 1517.0,1190.0 1517.3,1190.1 1517.4,1190.1 1517.8,1190.0 1518.2,1189.9 1518.5,1189.8 1518.9,1189.6 1519.3,1189.4 1519.6,1189.2 1520.0,1188.9 1520.4,1188.6 1520.7,1188.4 1521.1,1188.1 1521.5,1187.8 1521.8,1187.6 1522.1,1187.4 1522.2,1187.3 1522.6,1187.1 1523.0,1186.9 1523.3,1186.6 1523.7,1186.4 1524.1,1186.2 1524.4,1186.0 1524.8,1185.7 1525.2,1185.4 1525.5,1185.1 1525.9,1184.8 1526.3,1184.5 1526.3,1184.5 1526.7,1184.1 1527.0,1183.6 1527.4,1183.1 1527.8,1182.5 1528.1,1181.8 1528.5,1181.2 1528.9,1180.6 1529.2,1180.0 1529.6,1179.4 1530.0,1178.9 1530.3,1178.5 1530.4,1178.4 1530.7,1178.1 1531.1,1177.7 1531.5,1177.3 1531.8,1177.0 1532.2,1176.7 1532.6,1176.4 1532.9,1176.3 1533.2,1176.2 1533.3,1176.3 1533.7,1176.3 1534.0,1176.4 1534.4,1176.5 1534.8,1176.6 1535.1,1176.6 1535.1,1176.6 1535.5,1176.5 1535.9,1176.3 1536.3,1176.1 1536.6,1175.8 1537.0,1175.7 1537.4,1175.6 1537.7,1175.6 1538.1,1175.8 1538.5,1176.1 1538.8,1176.4 1539.2,1176.7 1539.6,1177.0 1539.7,1177.0 1539.9,1177.2 1540.3,1177.5 1540.7,1177.8 1541.1,1178.1 1541.4,1178.3 1541.8,1178.4 1542.2,1178.3 1542.5,1178.1 1542.9,1177.8 1543.3,1177.5 1543.6,1177.0 1544.0,1176.5 1544.4,1176.0 1544.7,1175.4 1545.1,1174.8 1545.5,1174.2 1545.5,1174.1 1545.9,1173.6 1546.2,1173.0 1546.6,1172.4 1547.0,1171.6 1547.3,1170.8 1547.7,1170.0 1548.1,1169.0 1548.4,1167.9 1548.8,1166.6 1549.2,1165.2 1549.6,1163.6 1549.6,1163.2 1549.9,1161.4 1550.3,1157.6 1550.7,1152.8 1551.0,1147.7 1551.4,1142.9 1551.7,1139.8 1551.8,1138.9 1552.1,1135.3 1552.5,1132.1 1552.8,1129.8 1552.9,1129.6 1553.2,1127.5 1553.5,1126.8 1553.6,1126.8 1554.0,1128.4 1554.4,1131.0 1554.4,1131.7 1554.7,1134.8 1555.1,1140.9 1555.5,1147.1 1555.8,1150.9 1556.2,1152.8 1556.6,1154.5 1556.9,1155.8 1557.3,1156.8 1557.7,1157.4 1557.9,1157.5 1558.0,1157.3 1558.4,1155.9 1558.8,1153.2 1559.2,1149.6 1559.5,1145.4 1559.9,1140.9 1560.0,1139.8 1560.3,1135.7 1560.6,1128.5 1561.0,1120.1 1561.4,1111.5 1561.7,1103.5 1562.0,1098.6 1562.1,1097.1 1562.5,1091.5 1562.8,1086.9 1563.0,1085.7 1563.2,1084.0 1563.6,1081.8 1563.8,1081.3 1564.0,1081.6 1564.3,1084.5 1564.6,1087.6 1564.7,1088.8 1565.1,1095.0 1565.4,1102.9 1565.8,1110.8 1565.9,1112.6 1566.2,1117.9 1566.5,1125.5 1566.9,1133.2 1567.3,1140.5 1567.6,1146.8 1568.0,1151.8 1568.2,1153.6 1568.4,1155.2 1568.8,1158.0 1569.1,1160.6 1569.5,1162.7 1569.9,1164.3 1570.2,1165.2 1570.3,1165.3 1570.6,1165.7 1571.0,1166.2 1571.3,1166.5 1571.7,1166.8 1572.1,1167.1 1572.4,1167.2 1572.8,1167.2 1572.8,1167.2 1573.2,1167.2 1573.6,1167.1 1573.9,1167.0 1574.3,1166.9 1574.7,1166.8 1575.0,1166.6 1575.4,1166.4 1575.8,1166.2 1576.1,1165.9 1576.5,1165.7 1576.9,1165.5 1577.3,1165.2 1577.6,1165.0 1578.0,1164.8 1578.4,1164.6 1578.5,1164.5 1578.7,1164.4 1579.1,1164.2 1579.5,1164.0 1579.8,1163.8 1580.2,1163.6 1580.6,1163.4 1580.9,1163.1 1581.3,1162.9 1581.7,1162.7 1582.1,1162.5 1582.4,1162.3 1582.8,1162.0 1583.2,1161.8 1583.5,1161.6 1583.9,1161.4 1584.3,1161.1 1584.6,1160.9 1585.0,1160.7 1585.4,1160.5 1585.4,1160.5 1585.7,1160.3 1586.1,1160.1 1586.5,1159.9 1586.9,1159.8 1587.2,1159.6 1587.6,1159.4 1588.0,1159.2 1588.3,1159.1 1588.7,1158.9 1589.1,1158.7 1589.4,1158.5 1589.8,1158.3 1590.2,1158.1 1590.5,1157.9 1590.9,1157.6 1591.3,1157.4 1591.7,1157.1 1592.0,1156.9 1592.4,1156.6 1592.8,1156.3 1593.1,1156.0 1593.5,1155.7 1593.9,1155.4 1594.2,1155.1 1594.6,1154.8 1595.0,1154.4 1595.3,1154.0 1595.7,1153.6 1596.1,1153.3 1596.5,1153.2 1596.8,1153.3 1597.2,1153.4 1597.6,1153.6 1597.9,1153.8 1598.3,1154.0 1598.7,1154.2 1599.0,1154.3 1599.2,1154.4 1599.4,1154.4 1599.8,1154.5 1600.2,1154.6 1600.5,1154.6 1600.9,1154.7 1601.3,1154.7 1601.6,1154.8 1602.0,1154.8 1602.4,1154.7 1602.7,1154.7 1603.1,1154.6 1603.5,1154.5 1603.8,1154.4 1604.2,1154.2 1604.6,1154.0 1605.0,1153.8 1605.3,1153.6 1605.7,1153.3 1606.1,1153.1 1606.4,1152.8 1606.8,1152.6 1607.2,1152.3 1607.5,1152.0 1607.9,1151.7 1608.3,1151.4 1608.6,1151.2 1609.0,1150.9 1609.4,1150.7 1609.8,1150.4 1610.1,1150.2 1610.2,1150.2 1610.5,1150.0 1610.9,1149.8 1611.2,1149.5 1611.6,1149.3 1612.0,1149.1 1612.3,1148.9 1612.7,1148.7 1613.1,1148.4 1613.4,1148.2 1613.8,1148.0 1614.2,1147.8 1614.6,1147.5 1614.9,1147.3 1615.3,1147.1 1615.7,1146.8 1616.0,1146.6 1616.4,1146.4 1616.8,1146.1 1617.0,1145.9 1617.1,1145.9 1617.5,1145.6 1617.9,1145.4 1618.2,1145.1 1618.6,1144.8 1619.0,1144.6 1619.4,1144.3 1619.7,1144.0 1620.1,1143.7 1620.5,1143.5 1620.8,1143.2 1621.2,1142.9 1621.6,1142.6 1621.9,1142.4 1622.3,1142.1 1622.5,1141.9 1622.7,1141.8 1623.1,1141.6 1623.4,1141.3 1623.8,1141.1 1624.2,1140.9 1624.5,1140.6 1624.9,1140.4 1625.3,1140.1 1625.6,1139.9 1626.0,1139.6 1626.4,1139.3 1626.7,1139.0 1626.7,1139.0 1627.1,1138.6 1627.5,1138.2 1627.9,1137.8 1628.2,1137.3 1628.6,1136.8 1629.0,1136.3 1629.3,1135.8 1629.7,1135.2 1630.1,1134.6 1630.4,1133.9 1630.8,1133.2 1630.9,1132.9 1631.2,1132.4 1631.5,1131.4 1631.9,1130.3 1632.3,1129.0 1632.7,1127.7 1633.0,1126.4 1633.4,1125.0 1633.8,1123.6 1633.9,1123.3 1634.1,1122.3 1634.5,1120.8 1634.9,1119.2 1635.2,1117.8 1635.6,1116.6 1635.7,1116.4 1636.0,1115.7 1636.3,1114.8 1636.7,1114.0 1637.1,1113.4 1637.4,1113.2 1637.5,1113.2 1637.8,1113.7 1638.2,1114.7 1638.6,1116.0 1638.9,1117.4 1639.3,1119.3 1639.7,1121.9 1640.0,1124.1 1640.2,1124.7 1640.4,1125.4 1640.8,1126.7 1641.1,1127.8 1641.5,1128.8 1641.9,1129.5 1642.3,1130.0 1642.6,1130.2 1643.0,1130.1 1643.4,1129.9 1643.7,1129.6 1644.1,1129.3 1644.5,1128.9 1644.8,1128.4 1645.2,1128.1 1645.4,1127.9 1645.6,1127.7 1645.9,1127.4 1646.3,1127.0 1646.7,1126.6 1647.1,1126.3 1647.4,1126.0 1647.7,1126.0 1647.8,1126.0 1648.2,1126.1 1648.5,1126.2 1648.9,1126.5 1649.3,1126.7 1649.6,1126.8 1650.0,1127.0 1650.4,1127.0 1650.8,1127.1 1651.1,1127.1 1651.5,1127.1 1651.9,1127.1 1652.2,1127.1 1652.6,1127.0 1653.0,1126.9 1653.3,1126.8 1653.7,1126.6 1654.1,1126.4 1654.4,1126.1 1654.8,1125.8 1655.2,1125.5 1655.6,1125.2 1655.9,1124.8 1656.3,1124.5 1656.7,1124.1 1657.0,1123.7 1657.4,1123.3 1657.8,1122.9 1658.1,1122.3 1658.5,1121.7 1658.9,1121.1 1659.2,1120.3 1659.6,1119.6 1660.0,1118.7 1660.4,1117.9 1660.7,1117.0 1661.1,1116.2 1661.5,1115.3 1661.6,1115.1 1661.8,1114.4 1662.2,1113.3 1662.6,1112.2 1662.9,1111.0 1663.3,1110.0 1663.7,1109.1 1663.9,1108.7 1664.0,1108.4 1664.4,1107.7 1664.8,1107.1 1665.2,1106.7 1665.5,1106.4 1665.6,1106.4 1665.9,1106.6 1666.3,1107.1 1666.6,1107.8 1667.0,1108.6 1667.4,1109.4 1667.6,1109.7 1667.7,1110.0 1668.1,1110.5 1668.5,1111.1 1668.8,1111.7 1669.2,1112.2 1669.6,1112.6 1670.0,1112.9 1670.3,1113.0 1670.7,1112.9 1671.1,1112.8 1671.4,1112.5 1671.8,1112.2 1672.2,1111.8 1672.5,1111.4 1672.9,1110.9 1673.3,1110.4 1673.7,1109.8 1674.0,1109.2 1674.4,1108.6 1674.8,1108.0 1675.1,1107.4 1675.5,1106.7 1675.9,1106.1 1676.2,1105.6 1676.6,1105.0 1677.0,1104.5 1677.3,1104.0 1677.7,1103.6 1678.0,1103.4 1678.1,1103.3 1678.5,1103.0 1678.8,1102.7 1679.2,1102.4 1679.6,1102.1 1679.9,1101.9 1680.3,1101.6 1680.7,1101.4 1681.0,1101.1 1681.4,1100.9 1681.8,1100.7 1682.1,1100.5 1682.5,1100.2 1682.9,1100.0 1683.3,1099.8 1683.6,1099.6 1684.0,1099.4 1684.4,1099.1 1684.7,1098.9 1685.1,1098.6 1685.5,1098.4 1685.8,1098.1 1686.2,1097.8 1686.3,1097.8 1686.6,1097.5 1686.9,1097.2 1687.3,1096.9 1687.7,1096.6 1688.1,1096.2 1688.4,1095.9 1688.8,1095.5 1689.2,1095.1 1689.5,1094.8 1689.9,1094.4 1690.3,1094.0 1690.6,1093.7 1691.0,1093.3 1691.4,1093.0 1691.7,1092.6 1692.1,1092.3 1692.5,1092.0 1692.9,1091.7 1693.1,1091.5 1693.2,1091.4 1693.6,1091.1 1694.0,1090.8 1694.3,1090.5 1694.7,1090.1 1695.1,1089.8 1695.4,1089.5 1695.8,1089.2 1696.2,1088.9 1696.5,1088.7 1696.9,1088.5 1697.3,1088.3 1697.7,1088.2 1698.0,1088.2 1698.4,1088.3 1698.8,1088.7 1699.1,1089.2 1699.5,1089.8 1699.9,1090.6 1700.2,1091.5 1700.6,1092.5 1701.0,1093.6 1701.3,1094.3 1701.4,1094.6 1701.7,1096.0 1702.1,1097.8 1702.5,1099.9 1702.8,1102.1 1703.2,1104.5 1703.6,1106.8 1703.9,1109.0 1704.0,1109.5 1704.3,1111.0 1704.7,1113.1 1705.0,1115.2 1705.4,1117.3 1705.8,1119.5 1706.2,1121.6 1706.5,1123.7 1706.9,1125.8 1707.3,1127.9 1707.6,1129.9 1708.0,1131.9 1708.2,1132.9 1708.4,1133.9 1708.7,1135.9 1709.1,1137.8 1709.5,1139.8 1709.8,1141.8 1710.2,1143.7 1710.6,1145.6 1711.0,1147.6 1711.3,1149.4 1711.7,1151.3 1712.1,1153.1 1712.4,1154.8 1712.8,1156.5 1713.2,1158.2 1713.5,1159.8 1713.7,1160.5 1713.9,1161.3 1714.3,1162.8 1714.6,1164.2 1715.0,1165.6 1715.4,1167.0 1715.8,1168.4 1716.1,1169.7 1716.5,1171.0 1716.9,1172.3 1717.2,1173.5 1717.6,1174.7 1718.0,1175.9 1718.3,1177.0 1718.7,1178.1 1719.1,1179.2 1719.3,1179.7 1719.4,1180.2 1719.8,1181.2 1720.2,1182.2 1720.6,1183.2 1720.9,1184.2 1721.3,1185.2 1721.7,1186.1 1722.0,1187.0 1722.4,1187.9 1722.8,1188.7 1723.1,1189.5 1723.5,1190.3 1723.9,1191.1 1724.3,1191.8 1724.6,1192.4 1724.8,1192.7 1725.0,1193.1 1725.4,1193.7 1725.7,1194.3 1726.1,1194.8 1726.5,1195.4 1726.8,1196.0 1727.2,1196.5 1727.6,1197.0 1727.9,1197.5 1728.3,1198.0 1728.7,1198.5 1729.1,1198.9 1729.4,1199.4 1729.8,1199.8 1730.2,1200.2 1730.5,1200.6 1730.9,1201.0 1731.3,1201.3 1731.6,1201.7 1731.7,1201.8 1732.0,1202.0 1732.4,1202.3 1732.7,1202.7 1733.1,1203.0 1733.5,1203.3 1733.9,1203.6 1734.2,1203.9 1734.6,1204.2 1735.0,1204.5 1735.3,1204.7 1735.7,1205.0 1736.1,1205.2 1736.4,1205.5 1736.8,1205.7 1737.2,1205.9 1737.5,1206.1 1737.9,1206.3 1738.3,1206.5 1738.5,1206.6 1738.7,1206.6 1739.0,1206.8 1739.4,1206.9 1739.8,1207.1 1740.1,1207.2 1740.5,1207.3 1740.9,1207.4 1741.2,1207.6 1741.6,1207.7 1742.0,1207.8 1742.3,1207.9 1742.7,1208.0 1743.1,1208.1 1743.5,1208.2 1743.8,1208.3 1744.2,1208.4 1744.6,1208.5 1744.9,1208.6 1745.3,1208.6 1745.4,1208.7 1745.7,1208.7 1746.0,1208.8 1746.4,1208.9 1746.8,1209.0 1747.2,1209.1 1747.5,1209.1 1747.9,1209.2 1748.3,1209.3 1748.6,1209.4 1749.0,1209.5 1749.4,1209.6 1749.7,1209.6 1750.1,1209.7 1750.5,1209.8 1750.8,1209.9 1751.2,1209.9 1751.6,1210.0 1752.0,1210.1 1752.3,1210.1 1752.7,1210.2 1753.1,1210.3 1753.4,1210.3 1753.8,1210.4 1754.2,1210.5 1754.5,1210.5 1754.9,1210.6 1755.3,1210.6 1755.6,1210.7 1756.0,1210.7 1756.4,1210.8 1756.8,1210.8 1757.1,1210.9 1757.5,1210.9 1757.9,1211.0 1758.2,1211.0 1758.6,1211.0 1759.0,1211.1 1759.3,1211.1 1759.7,1211.1 1760.1,1211.2 1760.4,1211.2 1760.8,1211.2 1761.2,1211.2 1761.6,1211.3 1761.9,1211.3 1762.3,1211.3 1762.7,1211.4 1763.0,1211.4 1763.4,1211.4 1763.8,1211.4 1764.1,1211.5 1764.5,1211.5 1764.9,1211.5 1765.2,1211.5 1765.6,1211.5 1766.0,1211.6 1766.4,1211.6 1766.7,1211.6 1767.1,1211.6 1767.5,1211.6 1767.8,1211.6 1768.2,1211.6 1768.6,1211.6 1768.7,1211.6 1768.9,1211.6 1769.3,1211.6 1769.7,1211.6 1770.0,1211.6 1770.4,1211.6 1770.8,1211.5 1771.2,1211.5 1771.5,1211.5 1771.9,1211.4 1772.3,1211.4 1772.6,1211.3 1773.0,1211.3 1773.4,1211.2 1773.7,1211.2 1774.1,1211.2 1774.5,1211.1 1774.9,1211.1 1775.2,1211.0 1775.6,1211.0 1776.0,1210.9 1776.3,1210.9 1776.7,1210.8 1777.1,1210.8 1777.4,1210.8 1777.8,1210.7 1778.2,1210.7 1778.5,1210.7 1778.9,1210.7 1779.3,1210.7 1779.7,1210.7 1779.7,1210.7 1780.0,1210.7 1780.4,1210.7 1780.8,1210.7 1781.1,1210.7 1781.5,1210.7 1781.9,1210.8 1782.2,1210.8 1782.6,1210.9 1783.0,1210.9 1783.3,1211.0 1783.7,1211.0 1784.1,1211.1 1784.5,1211.1 1784.8,1211.2 1785.2,1211.3 1785.6,1211.3 1785.9,1211.4 1786.3,1211.4 1786.7,1211.5 1787.0,1211.6 1787.4,1211.6 1787.8,1211.7 1788.1,1211.8 1788.5,1211.8 1788.9,1211.9 1789.3,1211.9 1789.6,1212.0 1790.0,1212.0 1790.4,1212.0 1790.7,1212.1 1791.1,1212.1 1791.5,1212.1 1791.8,1212.2 1792.2,1212.2 1792.6,1212.3 1792.9,1212.3 1793.3,1212.3 1793.7,1212.4 1794.1,1212.4 1794.4,1212.4 1794.8,1212.5 1795.2,1212.5 1795.5,1212.5 1795.9,1212.6 1796.3,1212.6 1796.6,1212.6 1797.0,1212.7 1797.4,1212.7 1797.8,1212.7 1798.1,1212.7 1798.5,1212.8 1798.9,1212.8 1799.2,1212.8 1799.6,1212.8 1800.0,1212.9 1800.3,1212.9 1800.7,1212.9 1801.1,1212.9 1801.4,1212.9 1801.8,1213.0 1802.2,1213.0 1802.6,1213.0 1802.9,1213.0 1803.3,1213.0 1803.7,1213.0 1804.0,1213.0 1804.2,1213.0 1804.4,1213.0 1804.8,1213.0 1805.1,1213.0 1805.5,1213.0 1805.9,1213.0 1806.2,1213.0 1806.6,1213.0 1807.0,1213.0 1807.4,1213.0 1807.7,1213.0 1808.1,1213.0 1808.5,1213.0 1808.8,1213.0 1809.2,1213.0 1809.6,1213.0 1809.9,1213.0 1810.3,1213.0 1810.7,1213.0 1811.0,1213.0 1811.4,1213.0 1811.8,1213.0 1812.2,1213.0 1812.5,1213.0 1812.9,1213.0 1813.3,1213.0 1813.6,1213.0 1814.0,1213.0 1814.4,1213.0 1814.7,1213.0 1815.1,1213.0 1815.5,1213.0 1815.8,1213.0 1816.2,1213.0 1816.6,1213.0 1817.0,1213.0 1817.3,1213.0 1817.7,1213.0 1818.1,1213.0 1818.4,1213.0 1818.8,1213.0 1819.2,1213.0 1819.5,1213.0 1819.9,1213.0 1820.3,1213.0 1820.6,1213.0 1821.0,1213.0 1821.4,1213.0 1821.8,1213.0 1822.1,1213.0 1822.5,1213.0 1822.9,1213.0 1823.2,1213.0 1823.6,1213.0 1824.0,1213.0 1824.3,1213.0 1824.7,1213.0 1825.1,1213.0 1825.5,1213.0 1825.8,1213.0 1826.2,1213.0 1826.6,1213.0 1826.9,1213.0 1827.3,1213.0 1827.7,1213.0 1828.0,1213.0 1828.4,1213.0 1828.8,1213.0 1829.1,1213.0 1829.5,1213.0 1829.9,1213.0 1830.3,1213.0 1830.6,1213.0 1831.0,1213.0 1831.4,1213.0 1831.7,1213.0 1832.1,1213.0 1832.5,1213.0 1832.8,1213.0 1833.2,1213.0 1833.6,1213.0 1833.9,1213.0 1834.3,1213.0 1834.7,1213.0 1835.1,1213.0 1835.4,1213.0 1835.8,1213.0 1836.2,1213.0 1836.5,1213.0 1836.9,1213.0 1837.3,1213.0 1837.6,1213.0 1838.0,1213.0 1838.4,1213.0 1838.7,1213.0 1839.1,1213.0 1839.5,1213.0 1839.9,1213.0 1840.2,1213.0 1840.6,1213.0 1841.0,1213.0 1841.3,1213.1 1841.7,1213.1 1842.1,1213.1 1842.4,1213.1 1842.8,1213.1 1843.2,1213.1 1843.5,1213.1 1843.9,1213.1 1844.3,1213.1 1844.7,1213.1 1845.0,1213.2 1845.4,1213.2 1845.8,1213.2 1846.1,1213.2 1846.5,1213.2 1846.9,1213.2 1847.2,1213.2 1847.6,1213.2 1848.0,1213.3 1848.4,1213.3 1848.7,1213.3 1849.1,1213.3 1849.5,1213.3 1849.8,1213.3 1850.2,1213.4 1850.6,1213.4 1850.9,1213.4 1851.3,1213.4 1851.7,1213.4 1852.0,1213.4 1852.4,1213.4 1852.8,1213.5 1853.2,1213.5 1853.5,1213.5 1853.9,1213.5 1854.3,1213.5 1854.6,1213.5 1855.0,1213.6 1855.4,1213.6 1855.7,1213.6 1856.1,1213.6 1856.5,1213.6 1856.8,1213.6 1857.2,1213.6 1857.6,1213.7 1858.0,1213.7 1858.3,1213.7 1858.7,1213.7 1859.1,1213.7 1859.4,1213.7 1859.8,1213.7 1860.2,1213.7 1860.5,1213.8 1860.9,1213.8 1861.3,1213.8 1861.6,1213.8 1862.0,1213.8 1862.4,1213.8 1862.8,1213.8 1863.1,1213.8 1863.5,1213.8 1863.9,1213.8 1864.2,1213.8 1864.6,1213.9 1865.0,1213.9 1865.3,1213.9 1865.7,1213.9 1866.1,1213.9 1866.4,1213.9 1866.8,1213.9 1867.2,1213.9 1867.6,1213.9 1867.9,1213.9 1868.3,1213.9 1868.7,1213.9 1869.0,1213.9 1869.4,1213.9 1869.8,1213.9 1870.1,1213.9 1870.5,1213.9 1870.9,1214.0 1871.3,1214.0 1871.6,1214.0 1872.0,1214.0 1872.4,1214.0 1872.7,1214.0 1873.1,1214.0 1873.5,1214.0 1873.8,1214.0 1874.2,1214.0 1874.6,1214.0 1874.9,1214.0 1875.3,1214.0 1875.7,1214.0 1876.1,1214.0 1876.4,1214.0 1876.8,1214.0 1877.2,1214.0 1877.5,1214.0 1877.9,1214.0 1878.1,1214.0" fill="none" stroke="#000" stroke-width="1.15" stroke-linejoin="round"/>
<rect x="1375.1" y="1242.8" width="507.6" height="201.1" fill="none" stroke="#000" stroke-width="2.1"/>
<path d="M1421.2 1443.9v-6.3M1467.4 1443.9v-6.3M1513.5 1443.9v-6.3M1559.7 1443.9v-6.3M1605.8 1443.9v-6.3M1652.0 1443.9v-6.3M1698.1 1443.9v-6.3M1744.3 1443.9v-6.3M1790.4 1443.9v-6.3M1836.6 1443.9v-6.3M1375.1 1403.7h6.5M1375.1 1363.5h6.5M1375.1 1323.2h6.5M1375.1 1283.0h6.5" stroke="#000" stroke-width="1.8" fill="none"/>
<text x="1372.8" y="1257.7" font-size="31.5" text-anchor="end">5</text>
<text x="1372.8" y="1296.5" font-size="31.5" text-anchor="end">4</text>
<text x="1372.8" y="1335.2" font-size="31.5" text-anchor="end">3</text>
<text x="1372.8" y="1374.0" font-size="31.5" text-anchor="end">2</text>
<text x="1372.8" y="1412.8" font-size="31.5" text-anchor="end">1</text>
<text x="1372.8" y="1451.6" font-size="31.5" text-anchor="end">0</text>
<text x="1859.9" y="1270.0" font-size="31" text-anchor="end">m/z 367.15 [M+H]</text>
<text x="1859.3" y="1261.3" font-size="21.5">+</text>
<path d="M1553.5 1250.4V1280.0" stroke="#000" stroke-width="1.5" fill="none"/>
<path d="M1547.8 1274.4H1559.2L1553.5 1290.0Z" fill="#000"/>
<clipPath id="c15"><rect x="1375.1" y="1242.8" width="507.6" height="201.1"/></clipPath>
<polyline clip-path="url(#c15)" points="1375.1,1405.6 1375.9,1408.1 1376.6,1405.1 1377.4,1404.5 1378.2,1404.6 1379.0,1403.6 1379.7,1406.0 1380.5,1406.3 1381.3,1405.7 1382.0,1406.4 1382.8,1403.3 1383.6,1404.5 1384.3,1408.1 1385.1,1406.1 1385.9,1405.2 1386.7,1408.0 1387.4,1404.3 1388.2,1406.5 1389.0,1407.2 1389.7,1406.2 1390.5,1407.1 1391.3,1404.6 1392.1,1405.3 1392.8,1406.4 1393.6,1406.9 1393.6,1405.8 1394.2,1409.0 1394.4,1402.8 1394.9,1343.7 1395.1,1323.7 1395.6,1289.9 1395.9,1315.8 1396.1,1343.3 1396.7,1389.4 1396.7,1389.2 1397.4,1371.3 1397.9,1363.2 1398.2,1367.2 1399.0,1388.9 1399.3,1392.4 1399.8,1389.2 1400.5,1377.4 1401.1,1375.1 1401.3,1376.1 1402.1,1384.5 1402.8,1390.8 1402.8,1390.6 1403.6,1391.0 1404.4,1391.9 1405.2,1391.9 1405.2,1391.2 1405.7,1351.8 1405.9,1335.3 1406.3,1312.6 1406.7,1337.7 1406.9,1355.1 1407.5,1372.7 1407.7,1375.0 1408.2,1378.9 1409.0,1381.2 1409.3,1381.2 1409.8,1352.0 1409.9,1343.7 1410.4,1313.6 1410.5,1315.1 1411.0,1347.3 1411.3,1359.6 1411.6,1366.0 1412.1,1369.1 1412.9,1382.9 1413.4,1391.5 1413.6,1392.1 1414.4,1399.3 1414.8,1400.2 1415.2,1398.9 1415.9,1393.8 1416.6,1393.2 1416.7,1388.7 1417.5,1395.7 1418.2,1403.6 1418.3,1404.6 1419.0,1401.1 1419.8,1401.0 1420.6,1401.5 1421.3,1395.8 1421.7,1397.9 1422.1,1393.3 1422.9,1408.6 1423.6,1400.5 1423.7,1404.6 1424.4,1399.2 1424.9,1388.6 1425.2,1379.4 1425.9,1380.4 1426.0,1375.8 1426.7,1384.8 1426.8,1386.4 1427.5,1390.5 1427.9,1390.5 1428.3,1387.0 1429.0,1398.6 1429.8,1402.4 1430.0,1402.0 1430.6,1401.1 1431.4,1399.1 1432.1,1398.4 1432.9,1402.1 1433.7,1403.5 1434.4,1399.1 1435.2,1403.0 1436.0,1402.0 1436.0,1400.6 1436.8,1405.1 1437.4,1406.3 1437.5,1403.5 1438.3,1403.4 1439.1,1403.5 1439.8,1405.8 1440.6,1401.0 1441.4,1401.6 1442.1,1407.8 1442.9,1403.4 1443.7,1400.3 1444.3,1403.2 1444.5,1400.1 1445.2,1402.3 1446.0,1396.7 1446.8,1402.5 1447.5,1403.9 1448.3,1401.8 1449.1,1403.4 1449.9,1402.5 1450.6,1403.2 1451.4,1404.1 1452.2,1399.4 1452.9,1401.7 1453.5,1401.2 1453.7,1405.4 1454.5,1398.7 1455.2,1406.0 1456.0,1402.2 1456.8,1401.6 1457.6,1405.5 1458.3,1398.2 1459.1,1403.3 1459.9,1403.1 1460.6,1401.5 1461.4,1400.2 1462.2,1400.8 1463.0,1403.9 1463.7,1401.9 1464.5,1402.5 1465.3,1400.3 1465.5,1399.9 1466.0,1403.2 1466.8,1405.4 1467.6,1407.2 1468.3,1410.7 1468.3,1410.1 1469.0,1392.9 1469.1,1393.5 1469.8,1385.3 1469.9,1387.6 1470.7,1397.7 1471.1,1400.4 1471.4,1395.3 1472.0,1390.6 1472.2,1385.6 1472.8,1377.5 1473.0,1377.1 1473.7,1389.6 1473.9,1393.0 1474.5,1401.4 1474.9,1406.9 1475.3,1407.7 1476.1,1412.5 1476.8,1411.7 1477.4,1413.2 1477.6,1413.8 1478.4,1416.0 1479.1,1416.5 1479.9,1417.7 1480.7,1411.3 1480.8,1415.5 1481.4,1409.8 1482.2,1418.3 1483.0,1414.7 1483.8,1411.2 1484.5,1416.9 1485.3,1416.7 1486.1,1413.2 1486.8,1412.8 1487.6,1413.7 1488.4,1415.5 1489.2,1414.0 1489.9,1409.0 1490.7,1411.0 1491.5,1413.2 1491.8,1415.2 1492.2,1414.1 1493.0,1409.3 1493.8,1409.8 1494.5,1415.1 1495.3,1412.6 1496.1,1408.7 1496.9,1405.2 1497.6,1411.9 1498.4,1407.9 1499.2,1405.0 1499.2,1405.4 1499.9,1411.3 1500.7,1410.2 1501.5,1408.5 1502.3,1411.8 1503.0,1410.4 1503.8,1412.9 1504.6,1411.2 1504.8,1417.8 1505.3,1415.5 1506.1,1412.6 1506.9,1419.2 1507.6,1416.2 1508.4,1420.1 1509.2,1420.4 1509.7,1416.9 1510.0,1417.9 1510.7,1418.4 1511.5,1424.0 1512.3,1421.0 1513.0,1421.7 1513.8,1420.8 1514.6,1421.3 1515.4,1430.4 1516.1,1427.7 1516.9,1427.9 1517.7,1427.5 1517.7,1429.8 1518.4,1429.2 1519.2,1426.0 1520.0,1423.0 1520.0,1419.6 1520.7,1422.0 1521.5,1416.0 1522.3,1415.0 1522.8,1407.8 1523.1,1413.3 1523.8,1409.9 1524.6,1406.3 1525.4,1411.0 1526.1,1410.8 1526.9,1406.5 1526.9,1409.4 1527.7,1405.0 1528.5,1411.5 1529.2,1413.5 1530.0,1414.3 1530.1,1412.0 1530.8,1416.7 1531.5,1411.6 1532.3,1411.0 1533.1,1415.5 1533.7,1412.4 1533.8,1412.1 1534.6,1400.8 1535.0,1399.5 1535.4,1394.3 1536.1,1388.6 1536.2,1385.4 1536.9,1400.0 1537.1,1406.9 1537.7,1407.7 1538.5,1410.5 1538.5,1412.2 1539.2,1409.9 1540.0,1408.7 1540.8,1411.7 1541.6,1407.9 1542.0,1405.4 1542.3,1405.9 1543.1,1406.7 1543.9,1407.0 1544.6,1406.6 1545.4,1407.6 1546.2,1402.6 1546.8,1402.3 1547.0,1404.4 1547.7,1398.6 1548.5,1399.9 1549.3,1398.5 1549.5,1396.4 1550.0,1392.6 1550.8,1381.4 1551.6,1369.9 1551.6,1368.4 1552.3,1345.3 1552.8,1330.2 1553.1,1320.6 1553.9,1303.7 1554.0,1305.1 1554.7,1321.0 1554.8,1326.6 1555.4,1351.5 1555.7,1361.9 1556.2,1376.0 1557.0,1392.7 1557.1,1393.2 1557.7,1398.6 1558.5,1399.9 1559.3,1402.1 1559.7,1399.1 1560.1,1397.6 1560.8,1397.4 1561.6,1402.1 1562.4,1401.0 1563.1,1399.7 1563.4,1401.5 1563.9,1403.1 1564.7,1399.1 1565.4,1398.4 1566.2,1398.4 1567.0,1393.9 1567.8,1394.4 1568.0,1396.7 1568.5,1396.3 1569.3,1397.3 1569.4,1397.3 1570.1,1396.8 1570.8,1395.1 1571.5,1393.0 1571.6,1394.1 1572.4,1394.9 1573.2,1399.8 1573.9,1398.1 1574.3,1402.7 1574.7,1398.5 1575.5,1407.3 1576.2,1404.6 1577.0,1404.2 1577.8,1403.1 1578.5,1403.3 1579.3,1406.3 1579.8,1403.7 1580.1,1403.6 1580.9,1405.7 1581.6,1403.5 1582.4,1408.3 1583.2,1405.9 1583.9,1402.9 1584.7,1404.4 1585.5,1402.9 1586.3,1405.3 1587.0,1403.1 1587.8,1405.1 1588.6,1405.5 1589.3,1404.6 1590.1,1399.3 1590.6,1402.8 1590.9,1400.3 1591.6,1404.6 1592.4,1402.2 1593.2,1399.2 1594.0,1400.6 1594.7,1400.1 1595.5,1405.6 1596.3,1394.1 1597.0,1399.3 1597.8,1403.1 1598.6,1400.1 1599.4,1401.4 1600.1,1398.3 1600.9,1401.1 1601.7,1397.9 1602.4,1397.7 1603.2,1399.4 1604.0,1396.5 1604.4,1397.7 1604.7,1399.0 1605.5,1397.4 1606.3,1396.8 1607.1,1396.6 1607.8,1395.7 1608.6,1396.0 1609.4,1392.3 1610.1,1394.0 1610.9,1391.7 1611.7,1390.9 1612.5,1393.5 1612.7,1391.6 1613.2,1393.8 1614.0,1394.5 1614.8,1390.9 1615.5,1392.3 1616.3,1393.8 1617.1,1395.6 1617.8,1393.3 1618.6,1393.2 1619.4,1395.3 1620.2,1394.8 1620.9,1394.6 1621.7,1399.0 1622.5,1391.9 1623.2,1394.3 1624.0,1400.4 1624.8,1393.3 1625.6,1394.8 1626.3,1398.3 1627.1,1399.2 1627.9,1397.0 1628.6,1398.7 1629.4,1396.4 1630.2,1393.9 1630.7,1400.5 1630.9,1397.3 1631.7,1393.6 1632.5,1392.6 1633.3,1396.0 1634.0,1397.8 1634.8,1394.8 1635.6,1397.8 1636.3,1397.4 1637.1,1392.2 1637.9,1394.1 1638.7,1392.9 1639.4,1396.1 1640.2,1394.1 1641.0,1394.0 1641.7,1394.7 1642.5,1391.4 1643.3,1391.8 1644.0,1394.1 1644.8,1389.8 1645.6,1393.0 1646.4,1395.0 1647.1,1393.5 1647.9,1392.2 1648.7,1392.7 1649.4,1393.8 1650.2,1391.6 1651.0,1392.7 1651.8,1397.5 1652.5,1396.8 1653.3,1387.4 1654.1,1390.8 1654.8,1398.4 1655.6,1390.2 1656.4,1397.0 1657.2,1396.6 1657.9,1396.4 1658.4,1395.0 1658.7,1391.9 1659.5,1392.2 1660.2,1392.2 1661.0,1393.9 1661.8,1394.2 1662.5,1395.3 1663.3,1396.5 1664.1,1389.6 1664.9,1395.3 1665.6,1397.5 1666.4,1390.9 1667.2,1394.9 1667.9,1391.8 1668.7,1391.7 1669.5,1395.5 1670.3,1391.8 1671.0,1390.2 1671.8,1393.6 1672.3,1389.2 1672.6,1390.6 1673.3,1390.1 1674.1,1387.0 1674.9,1387.9 1675.6,1390.1 1676.4,1389.6 1677.2,1384.9 1678.0,1387.0 1678.7,1386.2 1679.2,1387.2 1679.5,1384.6 1680.3,1386.4 1681.0,1387.3 1681.8,1385.1 1682.6,1384.6 1683.4,1379.9 1684.1,1388.0 1684.9,1383.0 1685.7,1386.9 1686.4,1385.4 1687.2,1383.6 1688.0,1384.8 1688.7,1382.3 1689.5,1384.4 1690.3,1385.8 1691.1,1385.5 1691.7,1392.5 1691.8,1387.3 1692.6,1384.3 1693.4,1383.4 1694.1,1384.2 1694.9,1384.4 1695.7,1386.8 1696.5,1381.2 1697.2,1391.8 1698.0,1386.1 1698.8,1390.0 1699.5,1386.6 1700.3,1385.7 1701.1,1389.5 1701.8,1391.3 1702.6,1391.4 1702.7,1389.7 1703.4,1393.2 1704.2,1386.0 1704.9,1390.9 1705.7,1387.6 1706.5,1393.0 1707.2,1390.9 1708.0,1393.0 1708.8,1393.8 1709.6,1396.1 1710.3,1391.8 1711.1,1396.7 1711.9,1396.0 1712.6,1396.2 1713.3,1398.0 1713.4,1399.3 1714.2,1402.2 1714.9,1398.2 1715.7,1401.0 1716.5,1399.4 1717.3,1397.3 1718.0,1397.0 1718.8,1399.2 1719.6,1399.9 1720.3,1398.4 1721.1,1399.0 1721.9,1397.3 1722.7,1402.5 1723.4,1398.9 1724.2,1401.9 1725.0,1398.3 1725.7,1402.3 1726.5,1403.6 1727.2,1399.3 1727.3,1398.5 1728.0,1398.9 1728.8,1402.3 1729.6,1399.6 1730.4,1397.6 1731.1,1399.8 1731.9,1400.6 1732.7,1400.1 1733.4,1399.5 1734.2,1398.0 1735.0,1398.5 1735.8,1402.2 1736.5,1405.3 1737.3,1399.1 1738.1,1404.2 1738.8,1401.8 1739.6,1404.2 1740.4,1398.2 1741.0,1403.5 1741.1,1402.4 1741.9,1399.4 1742.7,1399.5 1743.5,1404.3 1744.2,1404.5 1745.0,1399.3 1745.8,1397.9 1746.5,1399.5 1747.3,1399.8 1748.1,1403.1 1748.9,1396.8 1749.6,1403.7 1750.4,1398.4 1751.2,1402.3 1751.9,1402.7 1752.7,1401.3 1753.5,1402.8 1754.2,1401.2 1755.0,1398.8 1755.8,1399.6 1756.6,1400.4 1757.3,1401.6 1758.1,1400.4 1758.9,1397.2 1759.6,1405.3 1760.4,1399.9 1761.2,1401.6 1762.0,1398.9 1762.7,1407.3 1763.5,1401.2 1764.3,1401.4 1765.0,1404.9 1765.8,1401.2 1766.6,1402.2 1767.4,1401.2 1768.1,1400.5 1768.7,1403.9 1768.9,1402.5 1769.7,1400.9 1770.4,1395.8 1771.2,1399.3 1772.0,1403.6 1772.7,1398.2 1773.5,1401.9 1774.3,1402.6 1775.1,1402.0 1775.8,1401.1 1776.6,1400.7 1777.4,1405.9 1778.1,1401.5 1778.9,1399.7 1779.7,1402.9 1780.5,1399.8 1781.2,1402.0 1782.0,1404.4 1782.8,1399.3 1783.5,1403.8 1784.3,1403.1 1785.1,1401.3 1785.8,1401.6 1786.6,1401.6 1787.4,1399.1 1788.2,1402.5 1788.9,1405.3 1789.7,1403.3 1790.5,1403.6 1791.2,1404.7 1792.0,1404.1 1792.8,1403.2 1793.6,1399.4 1794.3,1406.5 1795.1,1405.2 1795.9,1400.7 1795.9,1398.2 1796.6,1399.5 1797.4,1399.8 1798.2,1399.9 1798.9,1400.4 1799.7,1403.2 1800.5,1402.9 1801.3,1405.4 1802.0,1404.7 1802.8,1403.1 1803.6,1403.9 1804.3,1404.0 1805.1,1406.3 1805.9,1400.3 1806.7,1405.0 1807.4,1399.7 1808.2,1404.7 1809.0,1399.7 1809.7,1401.9 1810.5,1409.7 1811.3,1404.7 1812.0,1405.6 1812.8,1400.7 1813.6,1403.0 1814.4,1403.5 1815.1,1403.2 1815.9,1405.0 1816.7,1402.9 1817.4,1406.3 1818.2,1405.2 1819.0,1400.7 1819.8,1404.7 1820.5,1407.7 1821.3,1402.1 1822.1,1403.1 1822.8,1407.1 1823.6,1404.2 1824.4,1403.6 1825.1,1408.3 1825.9,1402.9 1826.7,1408.2 1827.5,1403.4 1828.2,1403.2 1829.0,1401.5 1829.8,1402.6 1830.5,1400.8 1831.3,1402.8 1832.1,1402.6 1832.9,1402.7 1833.6,1402.6 1834.4,1401.0 1835.2,1402.5 1835.9,1403.6 1836.6,1403.8 1836.7,1407.0 1837.5,1403.1 1838.2,1400.7 1839.0,1408.3 1839.8,1401.4 1840.6,1404.2 1841.3,1404.8 1842.1,1402.6 1842.9,1395.7 1843.6,1400.2 1844.4,1404.0 1845.2,1404.0 1846.0,1410.9 1846.7,1404.0 1847.5,1400.7 1848.3,1408.2 1849.0,1402.5 1849.8,1402.3 1850.6,1401.6 1851.3,1408.8 1852.1,1400.2 1852.9,1404.0 1853.7,1403.8 1854.4,1405.3 1855.2,1404.7 1856.0,1401.4 1856.7,1404.9 1857.5,1408.4 1858.3,1405.4 1859.1,1408.7 1859.8,1403.7 1860.6,1402.9 1861.4,1407.9 1862.1,1406.4 1862.9,1404.1 1863.7,1403.4 1864.4,1403.4 1865.2,1408.1 1866.0,1408.5 1866.8,1404.7 1867.5,1403.3 1868.3,1408.2 1869.1,1406.4 1869.8,1407.0 1870.6,1404.7 1871.4,1405.5 1872.2,1403.6 1872.9,1403.4 1873.7,1401.9 1874.5,1403.9 1875.2,1404.7 1876.0,1403.1 1876.8,1405.3 1877.6,1404.7 1878.3,1403.3 1879.1,1407.6 1879.9,1401.6 1880.6,1401.9 1881.4,1407.9 1882.2,1403.6 1882.7,1405.7 1882.9,1406.1" fill="none" stroke="#000" stroke-width="1.15" stroke-linejoin="round"/>
<text x="102.7" y="730.9" font-size="31.5" text-anchor="middle">0</text>
<text x="149.7" y="730.9" font-size="31.5" text-anchor="middle">1</text>
<text x="193.3" y="730.9" font-size="31.5" text-anchor="middle">2</text>
<text x="239.0" y="730.9" font-size="31.5" text-anchor="middle">3</text>
<text x="284.3" y="730.9" font-size="31.5" text-anchor="middle">4</text>
<text x="330.0" y="730.9" font-size="31.5" text-anchor="middle">5</text>
<text x="375.0" y="730.9" font-size="31.5" text-anchor="middle">6</text>
<text x="420.0" y="730.9" font-size="31.5" text-anchor="middle">7</text>
<text x="465.7" y="730.9" font-size="31.5" text-anchor="middle">8</text>
<text x="511.0" y="730.9" font-size="31.5" text-anchor="middle">9</text>
<text x="553.3" y="730.9" font-size="31.5" text-anchor="middle">10</text>
<text x="604.0" y="730.9" font-size="31.5" text-anchor="middle">11</text>
<text x="354.6" y="768.6" font-size="35" text-anchor="middle">Time (min)</text>
<text x="1374.3" y="729.5" font-size="31.5" text-anchor="middle">0</text>
<text x="1421.0" y="729.5" font-size="31.5" text-anchor="middle">1</text>
<text x="1465.0" y="729.5" font-size="31.5" text-anchor="middle">2</text>
<text x="1510.3" y="729.5" font-size="31.5" text-anchor="middle">3</text>
<text x="1556.0" y="729.5" font-size="31.5" text-anchor="middle">4</text>
<text x="1601.0" y="729.5" font-size="31.5" text-anchor="middle">5</text>
<text x="1646.0" y="729.5" font-size="31.5" text-anchor="middle">6</text>
<text x="1691.0" y="729.5" font-size="31.5" text-anchor="middle">7</text>
<text x="1737.0" y="729.5" font-size="31.5" text-anchor="middle">8</text>
<text x="1782.0" y="729.5" font-size="31.5" text-anchor="middle">9</text>
<text x="1827.7" y="729.5" font-size="31.5" text-anchor="middle">10</text>
<text x="1876.0" y="729.5" font-size="31.5" text-anchor="middle">11</text>
<text x="1627.0" y="762.7" font-size="35" text-anchor="middle">Time (min)</text>
<text x="96.0" y="1474.0" font-size="31.0" text-anchor="middle">0</text>
<text x="144.0" y="1474.0" font-size="31.0" text-anchor="middle">1</text>
<text x="187.3" y="1474.0" font-size="31.0" text-anchor="middle">2</text>
<text x="233.3" y="1474.0" font-size="31.0" text-anchor="middle">3</text>
<text x="279.3" y="1474.0" font-size="31.0" text-anchor="middle">4</text>
<text x="325.0" y="1474.0" font-size="31.0" text-anchor="middle">5</text>
<text x="370.0" y="1474.0" font-size="31.0" text-anchor="middle">6</text>
<text x="415.0" y="1474.0" font-size="31.0" text-anchor="middle">7</text>
<text x="460.0" y="1474.0" font-size="31.0" text-anchor="middle">8</text>
<text x="510.0" y="1474.0" font-size="31.0" text-anchor="middle">9</text>
<text x="553.3" y="1474.0" font-size="31.0" text-anchor="middle">10</text>
<text x="602.7" y="1474.0" font-size="31.0" text-anchor="middle">11</text>
<text x="349.0" y="1511.3" font-size="35" text-anchor="middle">Time (min)</text>
<text x="735.0" y="1476.2" font-size="31.5" text-anchor="middle">0</text>
<text x="781.7" y="1476.2" font-size="31.5" text-anchor="middle">1</text>
<text x="825.7" y="1476.2" font-size="31.5" text-anchor="middle">2</text>
<text x="871.0" y="1476.2" font-size="31.5" text-anchor="middle">3</text>
<text x="916.7" y="1476.2" font-size="31.5" text-anchor="middle">4</text>
<text x="962.3" y="1476.2" font-size="31.5" text-anchor="middle">5</text>
<text x="1007.7" y="1476.2" font-size="31.5" text-anchor="middle">6</text>
<text x="1052.7" y="1476.2" font-size="31.5" text-anchor="middle">7</text>
<text x="1098.3" y="1476.2" font-size="31.5" text-anchor="middle">8</text>
<text x="1143.3" y="1476.2" font-size="31.5" text-anchor="middle">9</text>
<text x="1189.0" y="1476.2" font-size="31.5" text-anchor="middle">10</text>
<text x="1236.7" y="1476.2" font-size="31.5" text-anchor="middle">11</text>
<text x="987.0" y="1510.5" font-size="35" text-anchor="middle">Time (min)</text>
<text x="1373.7" y="1476.3" font-size="31.5" text-anchor="middle">0</text>
<text x="1421.0" y="1476.3" font-size="31.5" text-anchor="middle">1</text>
<text x="1465.0" y="1476.3" font-size="31.5" text-anchor="middle">2</text>
<text x="1511.0" y="1476.3" font-size="31.5" text-anchor="middle">3</text>
<text x="1556.7" y="1476.3" font-size="31.5" text-anchor="middle">4</text>
<text x="1602.0" y="1476.3" font-size="31.5" text-anchor="middle">5</text>
<text x="1647.7" y="1476.3" font-size="31.5" text-anchor="middle">6</text>
<text x="1693.3" y="1476.3" font-size="31.5" text-anchor="middle">7</text>
<text x="1739.3" y="1476.3" font-size="31.5" text-anchor="middle">8</text>
<text x="1785.0" y="1476.3" font-size="31.5" text-anchor="middle">9</text>
<text x="1831.0" y="1476.3" font-size="31.5" text-anchor="middle">10</text>
<text x="1881.0" y="1476.3" font-size="31.5" text-anchor="middle">11</text>
<text x="1631.0" y="1509.7" font-size="35" text-anchor="middle">Time (min)</text>
<text transform="translate(27.2 154.3) rotate(-90)" font-size="34.7" text-anchor="middle">Absorbance</text>
<text transform="translate(57.8 147.8) rotate(-90)" font-size="34.7" text-anchor="middle">(x 10E2)</text>
<text transform="translate(27.2 373.7) rotate(-90)" font-size="34.7" text-anchor="middle">Fluorescence</text>
<text transform="translate(57.8 368.6) rotate(-90)" font-size="34.7" text-anchor="middle">Intensity</text>
<text transform="translate(27.2 604.7) rotate(-90)" font-size="34.7" text-anchor="middle">Abundance</text>
<text transform="translate(57.8 604.3) rotate(-90)" font-size="34.7" text-anchor="middle">(x 10E-4)</text>
<text transform="translate(1297.5 147.8) rotate(-90)" font-size="34.7" text-anchor="middle">Absorbance</text>
<text transform="translate(1328.1 141.8) rotate(-90)" font-size="34.7" text-anchor="middle">(x 10E2)</text>
<text transform="translate(1297.5 369.0) rotate(-90)" font-size="34.7" text-anchor="middle">Fluorescence</text>
<text transform="translate(1328.1 362.6) rotate(-90)" font-size="34.7" text-anchor="middle">Intensity</text>
<text transform="translate(1297.5 594.9) rotate(-90)" font-size="34.7" text-anchor="middle">Abundance</text>
<text transform="translate(1328.1 593.3) rotate(-90)" font-size="34.7" text-anchor="middle">(x 10E-5)</text>
<text transform="translate(24.9 898.8) rotate(-90)" font-size="34.7" text-anchor="middle">Absorbance</text>
<text transform="translate(55.6 892.5) rotate(-90)" font-size="34.7" text-anchor="middle">(x 10E4)</text>
<text transform="translate(24.9 1117.2) rotate(-90)" font-size="34.7" text-anchor="middle">Fluorescence</text>
<text transform="translate(55.6 1111.7) rotate(-90)" font-size="34.7" text-anchor="middle">Intensity</text>
<text transform="translate(24.9 1349.1) rotate(-90)" font-size="34.7" text-anchor="middle">Abundance</text>
<text transform="translate(55.6 1347.5) rotate(-90)" font-size="34.7" text-anchor="middle">(x 10E-4)</text>
<text transform="translate(653.8 895.3) rotate(-90)" font-size="34.7" text-anchor="middle">Absorbance</text>
<text transform="translate(684.5 889.3) rotate(-90)" font-size="34.7" text-anchor="middle">(x 10E2)</text>
<text transform="translate(653.8 1116.5) rotate(-90)" font-size="34.7" text-anchor="middle">Fluorescence</text>
<text transform="translate(684.5 1110.8) rotate(-90)" font-size="34.7" text-anchor="middle">Intensity</text>
<text transform="translate(653.8 1342.4) rotate(-90)" font-size="34.7" text-anchor="middle">Abundance</text>
<text transform="translate(684.5 1341.2) rotate(-90)" font-size="34.7" text-anchor="middle">(x 10E-4)</text>
<text transform="translate(1298.6 895.3) rotate(-90)" font-size="34.7" text-anchor="middle">Absorbance</text>
<text transform="translate(1329.2 889.3) rotate(-90)" font-size="34.7" text-anchor="middle">(x 10E2)</text>
<text transform="translate(1298.6 1116.1) rotate(-90)" font-size="34.7" text-anchor="middle">Fluorescence</text>
<text transform="translate(1329.2 1110.9) rotate(-90)" font-size="34.7" text-anchor="middle">Intensity</text>
<text transform="translate(1298.6 1342.4) rotate(-90)" font-size="34.7" text-anchor="middle">Abundance</text>
<text transform="translate(1329.2 1341.2) rotate(-90)" font-size="34.7" text-anchor="middle">(x 10E-4)</text>
<text x="5.1" y="29.2" font-size="47">a</text>
<text x="691.6" y="34.3" font-size="47">b</text>
<text x="1271.6" y="30.0" font-size="47">c</text>
<text x="5.2" y="778.0" font-size="47">d</text>
<text x="633.1" y="778.8" font-size="47">e</text>
<text x="1271.4" y="778.4" font-size="47">f</text>
<rect x="786.3" y="200.3" width="390.3" height="273.7" fill="none" stroke="#000" stroke-width="1.7"/>
<path d="M864.4 474.0v-5.6M942.4 474.0v-5.6M1020.5 474.0v-5.6M1098.5 474.0v-5.6M786.3 419.3h5.4M786.3 364.5h5.4M786.3 309.8h5.4M786.3 255.0h5.4" stroke="#000" stroke-width="1.5" fill="none"/>
<text x="774.3" y="210.3" font-size="30.5" text-anchor="end">0.5</text>
<text x="774.3" y="264.6" font-size="30.5" text-anchor="end">0.4</text>
<text x="774.3" y="318.8" font-size="30.5" text-anchor="end">0.3</text>
<text x="774.3" y="373.1" font-size="30.5" text-anchor="end">0.2</text>
<text x="774.3" y="427.4" font-size="30.5" text-anchor="end">0.1</text>
<text x="774.3" y="481.6" font-size="30.5" text-anchor="end">0</text>
<text x="784.7" y="509.6" font-size="30.5" text-anchor="middle">0</text>
<text x="862.6" y="509.6" font-size="30.5" text-anchor="middle">2</text>
<text x="940.4" y="509.6" font-size="30.5" text-anchor="middle">4</text>
<text x="1018.6" y="509.6" font-size="30.5" text-anchor="middle">6</text>
<text x="1096.1" y="509.6" font-size="30.5" text-anchor="middle">8</text>
<text x="1174.1" y="509.6" font-size="30.5" text-anchor="middle">10</text>
<text x="982.1" y="541.3" font-size="35" text-anchor="middle">Area (x10E-5)</text>
<text transform="translate(718.2 336.5) rotate(-90)" font-size="34.7" text-anchor="middle">C-Man-Trp (<tspan font-family="'Liberation Serif', 'DejaVu Serif', serif" font-size="36">μ</tspan>M)</text>
<text x="1163.0" y="236.4" font-size="35" text-anchor="end">FLR</text>
<text x="1012.3" y="453.9" font-size="35">R</text>
<text x="1040.0" y="441.5" font-size="22">2</text>
<text x="1164.0" y="453.9" font-size="35" text-anchor="end">=1.000</text>
<polyline points="820.7,447.0 857.8,419.5 933.0,364.5 1086.5,255.0" fill="none" stroke="#000" stroke-width="1.3"/>
<circle cx="820.7" cy="447.0" r="4.3" fill="#fff" stroke="#000" stroke-width="1.3"/>
<circle cx="857.8" cy="419.5" r="4.3" fill="#fff" stroke="#000" stroke-width="1.3"/>
<circle cx="933.0" cy="364.5" r="4.3" fill="#fff" stroke="#000" stroke-width="1.3"/>
<circle cx="1086.5" cy="255.0" r="4.3" fill="none" stroke="#000" stroke-width="1.3"/>
</svg>
</body></html>
